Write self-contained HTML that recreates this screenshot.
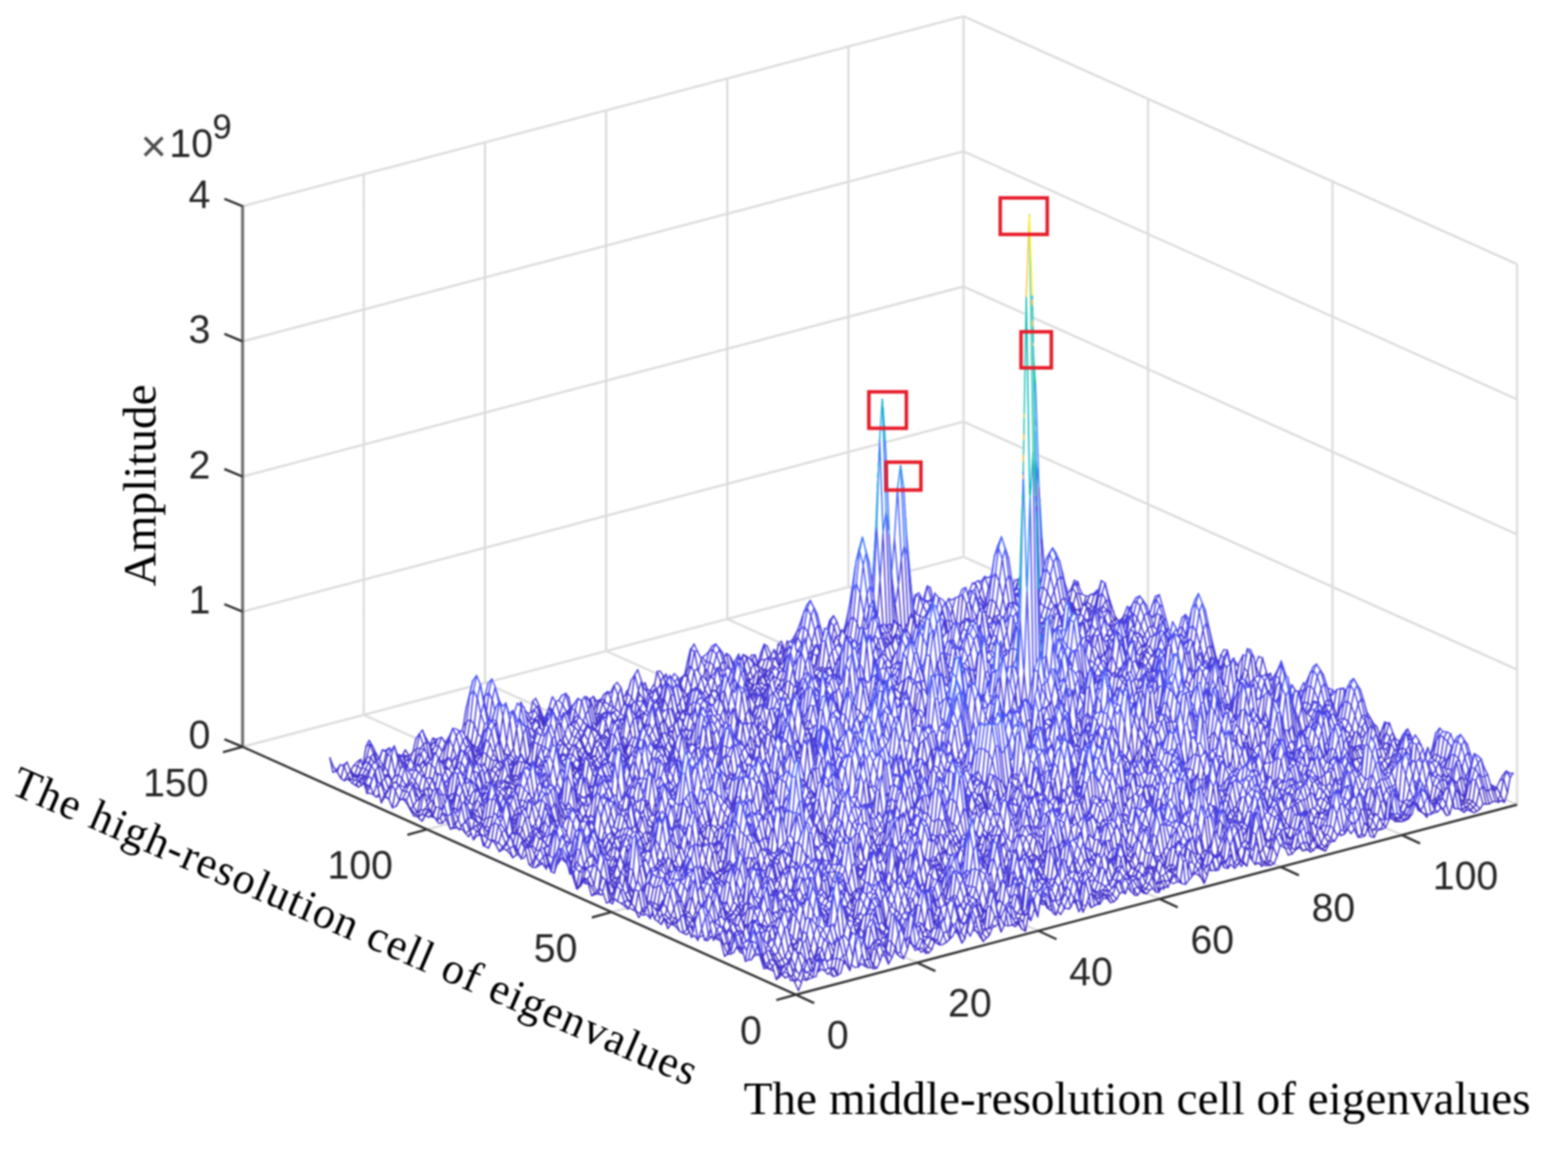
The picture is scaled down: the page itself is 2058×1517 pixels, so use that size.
<!DOCTYPE html>
<html lang="en"><head><meta charset="utf-8"><title>Eigenvalue amplitude mesh</title>
<style>
html,body{margin:0;padding:0;background:#fff;}
body{width:2058px;height:1517px;overflow:hidden;}
svg{display:block;}
</style></head><body>
<svg xmlns="http://www.w3.org/2000/svg" width="2058" height="1517" viewBox="0 0 2058 1517">
<defs><filter id="bl" x="0" y="0" width="2058" height="1517" filterUnits="userSpaceOnUse"><feGaussianBlur stdDeviation="1.2"/></filter><filter id="bm" x="0" y="0" width="2058" height="1517" filterUnits="userSpaceOnUse"><feGaussianBlur stdDeviation="1.0"/></filter><filter id="bt" x="0" y="0" width="2058" height="1517" filterUnits="userSpaceOnUse"><feGaussianBlur stdDeviation="1.0"/></filter></defs>
<rect width="2058" height="1517" fill="#fff"/>
<g filter="url(#bl)"><path d="M477.4 938.1L477.4 228.7M636.5 896.2L636.5 186.8M795.5 854.3L795.5 144.9M954.6 812.4L954.6 103M1113.6 770.5L1113.6 61.1M1264.7 730.7L1264.7 21.3M318.4 980L618.3 901M630.9 897.7L641.5 894.9M647.3 893.3L1117.6 769.4M1194.1 749.3L1264.7 730.7M1264.7 730.7L1301.2 747.1M1328.7 759.3L1332.3 761M1975.5 1049L1991.1 1056M318.4 802.6L1153.4 582.7M1163.1 580.1L1264.7 553.4M1264.7 553.4L1342.4 588.1M1363.4 597.5L1991.1 878.6M318.4 625.3L1264.7 376M1264.7 376L1345.1 412M1356.1 416.9L1991.1 701.3M318.4 448L1264.7 198.7M1264.7 198.7L1991.1 524M318.4 270.6L1264.7 21.3M1264.7 21.3L1991.1 346.6M1991.1 1056L1991.1 346.6M1748.9 903.5L1748.9 238.2M1506.8 798.1L1506.8 129.7M1203.8 1263.4L1187.3 1256M1176.3 1251.1L1173.6 1249.9M545 968.4L477.4 938.1M1362.8 1221.5L1348.2 1215M717.8 932.6L709.5 928.9M697.7 923.6L651.1 902.7M639.2 897.4L636.5 896.2M1521.9 1179.6L1506.3 1172.6M861.3 883.8L795.5 854.3M1680.9 1137.7L1671.8 1133.6M1031.3 846.8L1027.6 845.1M1023.1 843.1L954.6 812.4M1840 1095.8L1818.9 1086.4M1117.3 772.1L1113.6 770.5M802.6 1196.9L821.9 1191.8M560.5 1088.4L587.6 1081.3" fill="none" stroke="#dcdcdc" stroke-width="2.9"/></g>
<g filter="url(#bm)"><g transform="scale(.5)" fill="none" stroke-width="3.5" stroke-linejoin="round" stroke-linecap="round">
<path stroke="#422ec0" d="M2096 2600l8-22M2199 2559l8-5 8-32M2231 2547l8-35M2271 2536l8 4 7-1 8 4 8-2 8-18M2430 2502l8-1 8-9 7-21M2525 2475l8-12M2581 2471l8-9 8-7 8-21M2628 2446l8-17M2692 2444l8-47M2843 2394l8-17M2915 2369l8-2 8-7M2978 2349l8 1 8-12M3002 2344l8 2 8-10M3034 2341l8 1 8-13 8-1 8 1 8-20M3153 2303l8 16 8-22M3241 2279l8-9M3273 2273l8-36M3312 2274l8-10 8 7 8 0 8-4 8-19M3392 2241l8-10M3440 2236l8-4 8-13M3463 2224l8 4 8 6 8-16 8-10M3583 2194l8-25M3607 2198l8-18 8-3M3797 2140l8-2 8-30M3837 2127l8-8M3861 2129l8 4 8-4 8-6 8-13 8 0 8 0 8-5 8-2 8 3 8-5 8 5 8-26M2086 2578l8-8M2134 2565l8-2M2198 2556l7-38M2253 2538l8-9M2293 2534l8-43M2336 2507l4-35M2378 2477l2-11M2412 2491l8-3M2428 2492l8-7 8-21M2575 2453l4-4 8-12M2686 2421l4-18M2713 2373l1-10M2879 2363l2-5M3000 2338l8-5 8-15M3040 2337l8-24M3086 2303l2-6M3118 2280l2-13M3223 2279l8-10M3295 2269l8-5M3324 2267l3-3 7-4 8-38M3387 2232l3-8M3438 2223l8-20M3462 2220l1 2M3467 2226l3 4 8-7 8-14 8-9M3565 2197l8 0M3575 2188l6-28M3602 2182l3-6 8-3M3756 2137l8-4M3828 2122l7 4 8 6 8-7 3 0M3859 2126l8-7 8-7 8-37M3931 2103l8-17M2116 2573l8-4M2192 2537l4-22M2235 2531l8 8M2286 2519l5-27M2326 2491l5-23M2355 2504l8 7M2410 2489l8 10M2425 2476l1-3M2466 2480l8-1M2594 2436l7-59M2657 2428l8 4 8-8M2677 2410l4-11M2776 2391l8 9M2797 2348l3-23M2837 2351l3-26M2894 2348l1-4M3039 2320l7-7M3054 2334l3-4M3072 2308l6-16M3196 2253l2-7M3301 2266l3 0M3317 2263l8-6 8-28M3420 2233l8-2M3452 2225l8 0M3463 2221l5-7 8-20M3568 2152l3-24M3597 2172l6-21M3624 2175l3 2M3834 2124l8-1M3850 2119l8-10 8-5 8-55M3924 2079l5-13M2078 2564l4-8M2181 2541l5-24M2452 2475l4-2M2585 2437l6-55M2788 2358l2-13M2806 2386l1-2M2819 2367l3-2M2834 2344l4-25M2885 2348l1-2M3037 2319l8-20M3120 2266l4-33M3251 2262l8 12M3266 2237l1-10M3307 2241l8-15M3384 2214l3-11M3403 2229l8-5M3450 2207l8-24M3530 2188l8-13M3665 2151l8 5 8 0 8-3 8-4M3737 2135l8 10 2-5M3836 2116l4-7 8-1 8-10 8-54M2101 2552l4-12M2132 2546l4-4M2282 2506l6-26M2577 2433l5-9M2875 2343l1-2M3010 2291l1-4M3030 2299l5-20M3074 2289l1-3M3111 2252l4-27M3206 2244l4-23M3248 2239l2-4M3295 2212l2-20M3331 2228l6-26M3520 2193l8-3M3842 2108l4-8 8-38M2047 2563l8-26M2084 2547l3-9M2147 2520l4-18M2180 2517l2-8M2320 2480l6-19M2464 2426l5-42M2685 2385l6-56M2819 2367l8 6M2929 2315l1-4M3151 2252l2-6M3282 2229l6-46M3604 2139l2-3M3690 2123l3-10M3765 2109l8-17M3834 2106l3-1 7-12 8-47M2038 2571l7-14M2053 2555l8 12M2074 2529l3-16M2914 2322l6-15M3023 2276l1-2M3071 2289l8-10M3139 2252l4-13M3212 2213l2-22M3346 2193l4-21M3391 2197l6-20M3456 2170l5-26M3600 2129l4-20M3676 2127l8-23M3761 2107l2-6 8-37M3835 2085l2 2M2066 2529l2-6M2136 2522l3-13M2577 2409l8-21M3003 2294l3-15M3067 2284l3 0 8-16M3152 2246l5-12M3194 2243l3-13M3278 2216l6-60M3754 2099l7-38M2140 2507l5-22M2677 2330l1-14M2904 2297l5-27M2929 2282l4-40M3031 2277l5-9M3060 2279l8-6 8-53M3270 2208l5-29M3330 2209l8-19M3591 2125l2-9M3640 2112l0-2M3671 2100l1-2M2048 2538l8-4 8-2M2123 2504l5-14M2581 2391l8-24M2968 2301l3 1 8-20M3013 2279l5-10M3059 2274l7-36M3264 2194l1-3M3321 2197l8-31M3436 2152l4-26M3716 2069l2-13M2015 2538l8 7 8 4M2070 2521l8-13M2321 2449l4-13M2961 2293l8-15M3009 2282l8-44M3196 2186l4-36M3371 2166l4-10M3475 2135l3-10M2005 2542l8-1M2037 2523l8 0 8-6 8-4M2266 2455l1-6M2766 2316l2-10M2854 2293l2-5M2919 2266l1-2M2956 2270l3-14M3001 2270l6-32M3473 2135l3-9M2255 2450l3-14M2755 2320l4-12M2971 2277l2 1M2987 2267l2-5M3464 2134l3-12M2375 2393l0-2M2723 2301l2-15M2964 2263l8-3 8-24M3424 2129l1-2M2089 2493l4-11M2249 2443l5-13M2326 2424l8-41M2491 2368l2-8M2647 2326l5-30M2905 2255l1-5M2964 2262l6-10M2083 2484l3-5M2607 2340l3-7M2645 2323l5-44M1957 2523l8-4 7 0M1975 2515l5-7M2016 2474l4-27M2084 2479l8-7 8-43M2242 2420l1-2M2483 2356l6-44M2898 2241l5-33M3257 2159l4-17M3489 2093l1-4M2077 2469l5-8M2224 2411l1-5M2477 2345l3-13M3247 2149l4-28M3393 2090l1-4M3518 2078l3-17M3790 1997l2-9M2240 2413l7-46M2876 2251l8-48M1912 2501l8-38M1948 2468l3-22M3271 2087l0-5M3325 2115l2-7M3491 2055l3-29M3768 1997l5-18M1902 2510l8-6 8 0 8-4M2067 2431l2-9M2227 2405l1-2M2704 2259l1-4M2733 2272l4-11M2767 2238l2-9M2792 2221l1-10M3328 2109l5-29M3761 1989l2-7M2756 2229l3-35M3225 2109l3-23M3320 2087l4-24M1921 2460l1-7M1969 2452l1-3M2255 2357l1-8M2431 2343l5-5M2725 2255l1-2M2744 2253l5-31M2779 2233l2-7M3313 2078l1-5M1967 2452l1-3M2439 2332l6-33M2712 2262l4-6M2727 2253l5-6M3352 2067l0-3M3650 2007l4-9M1964 2440l3-15M2429 2333l7-41M2636 2266l7-31M2710 2259l4-17M3206 2100l1-4M3647 2006l6-19M2042 2398l2-11M2239 2371l4-17M2520 2278l2-5M2701 2253l3-6M2714 2240l6-36M3034 2132l4-35M3624 2010l3-9M1898 2436l1-6M2236 2364l5-22M2335 2334l2-3M2583 2256l0-3M2637 2221l2-20M2696 2244l7-24M2916 2151l1-13M3350 2066l5-26M3553 2014l1-2M3564 2019l6-14M3633 1997l8-21M1866 2460l3-1M2174 2359l2-8M3295 2022l2-23M1953 2425l7-34M2335 2333l6-34M2619 2220l1-2M3164 2073l4-37M3338 2043l5-43M3422 1990l1-7M3483 1999l4-27M3671 1969l6-25M1815 2460l8-5M1923 2422l3-9M3026 2121l6-56M3133 2078l2-8M3156 2079l3-13M3411 1986l2-19M3476 1988l1-2M1963 2381l1-10M2380 2294l6-45M2439 2267l2-9M2582 2249l2-6M2726 2171l2-11M1817 2437l2-3M1950 2401l4-26M2180 2337l5-24M2374 2272l2-12M2474 2258l5-26M2618 2217l4-25M2658 2209l4-27M1794 2449l8 4M1807 2432l3-10M2513 2241l4-14M2815 2162l5-24M2919 2121l4-21M3573 1959l2-8M1799 2411l1-2M1822 2421l2-5M1911 2405l8-4 5-5M2083 2336l3-15M2505 2225l3-13M2568 2231l3-16M3556 1963l1-3M3625 1951l4-13M1824 2415l6-15M1909 2395l8-5M2028 2350l1-3M2259 2307l8-15M2564 2223l6-12M2798 2130l2-14M3621 1944l6-27M2258 2303l8-18M2320 2257l1-6M2461 2218l3-25M2563 2215l5-15M3232 2005l4-34M3342 1995l5-27M3543 1953l3-10M1763 2424l8-15M1816 2414l3-2 7-21M2253 2291l3-8M2454 2205l1-2M3571 1932l5-25M1759 2414l2-8M1939 2362l5-20M2041 2340l6-23M2286 2239l0-3M3335 1974l1-3M1728 2419l8 7 8-14M1746 2402l5-17M2250 2278l2-7M2520 2208l3-10M3531 1924l2-7M1718 2412l8-18M1794 2392l3-7M2262 2268l5-15M2278 2255l5-32M3322 1957l2-15M1786 2367l2-7M2145 2260l1-5M2252 2251l5-38M2459 2193l5-46M1708 2407l6-14M2088 2271l0-2M2246 2244l1-7M2298 2242l5-9M2317 2214l2-18M2449 2191l5-34M1689 2402l8-3M2241 2235l5-45M2440 2180l4-28M1679 2397l8-5M1711 2403l4-1M1723 2387l4-12M2010 2296l3-18M2203 2191l1-10M3275 1938l3-31M3305 1958l4-16M1669 2392l8 16M1683 2393l2-7 8-4M1715 2376l2-6M2033 2265l2-13M2827 2075l4-16M1660 2387l8-2 8-45M1850 2311l1-2M1976 2279l2-9M2715 2089l2-11M3175 1966l4-35M1650 2382l8-11M1902 2319l3-9M1967 2287l1-3M3007 1998l3-29M1640 2378l8 8M1651 2381l5-12M1692 2344l4-22M1790 2303l2-8M1897 2316l6-25M2000 2282l6-25M2974 2007l2-13M1890 2310l3-14M1966 2286l7-34M2360 2153l2-19M2607 2091l2-12M2670 2069l3-24M2986 1997l5-29M1653 2368l5-7M1887 2304l4-7M1913 2270l2-12M1959 2271l4-20M2979 1996l2-12M3027 1982l2-5M1785 2291l1-6M1874 2295l8-4M1898 2293l8-21M2038 2236l3-17M2189 2202l3-12M2982 1981l5-58M3318 1890l3-22M1602 2365l8-20M1876 2294l4-3 8-8M1896 2285l8-34M1948 2227l4-37M2025 2238l6-70M2180 2178l2-12M2346 2129l3-23M1592 2370l8-3 8 5 5-13M1635 2330l5-29M1864 2281l6-42M1936 2239l6-60M2166 2202l7-34M2337 2118l3-24M2947 1975l5-75M1606 2348l8-14M1627 2313l3-25M1847 2277l6-18M2186 2144l1-3M1607 2347l5-12M1648 2315l4-37M1784 2285l3-9M1885 2268l6-11M1899 2264l3-10M1563 2347l8-3 8 5M1756 2286l6-30M1793 2269l1-2M1880 2238l1-4M1891 2257l6-38M2879 1961l4-41M3034 1909l0-2M3344 1838l0-4M1553 2351l8-8M1572 2330l5-37M1749 2264l3-13M1787 2275l5-12M1885 2242l2-7M2010 2188l5-39M2873 1941l0-4M3235 1870l4-30M3412 1824l2-15M1607 2328l8-11 8-15M1880 2233l6-26M2454 2067l4-34M2988 1921l3-26M2443 2075l5-64M1524 2325l8-22M1603 2296l1-3M1785 2227l2-6M2436 2057l3-19M1515 2334l7-12 8-34M1640 2275l2-8M1812 2215l5-42M2889 1866l1-20M1513 2331l8-42M3173 1833l2-19M1534 2283l1-6M1555 2273l4-28M2130 2117l1-9M2847 1915l0-4M1600 2275l5-18M1637 2269l8-46M1869 2214l6-24M2344 2035l0-3M1624 2251l3-12M1847 2204l3-2M1860 2206l5-38M2055 2124l1-7M2705 1955l3-33M1498 2293l1-2M1613 2246l4-23M1718 2203l3-20M1850 2201l6-35M2053 2121l2-5M2698 1957l1-2M1501 2269l3-15M1602 2247l6-20M1703 2235l8-31M1842 2188l4-6M2434 2007l1-3M2837 1905l3-24M1455 2291l8-25M1596 2244l2-10M1651 2210l3-14M1693 2231l8-19M1840 2181l4-12M1880 2172l4-11M2607 1897l1-16M2989 1822l1-5M3322 1772l2-9M1643 2193l1-4M1690 2219l2-2M1793 2182l2-7M2340 2018l4-24M2843 1851l0-2M1439 2243l3-23M1600 2211l1-3M1684 2202l4-11M1917 2124l2-6M1941 2101l2-10M2408 1980l4-32M2480 1954l3-31M3119 1810l1-2M1480 2259l8 6M1676 2186l2-7M1929 2113l4-21M2119 2065l5-32M3209 1775l4-35M1398 2276l8 1 8-5M1438 2273l2 1M2208 2006l1-18M1389 2269l8-3 8-19M1420 2264l4 3M1658 2179l1-2M1920 2119l1-4M1646 2160l3-28M1711 2170l2-8M2109 2049l2-5M2634 1876l1-11M3110 1794l3-8M2664 1835l2-21M1368 2254l7-2M1403 2240l4-9M2982 1781l0-2M1396 2225l2-6M1610 2171l2-11M2606 1837l0-10M1598 2156l5-27M3033 1770l1-7M1355 2227l7-40M1391 2217l3-21M1417 2186l1-7M1543 2163l2-7M1713 2139l7-33M2944 1775l1-7M1662 2096l1-8M1700 2115l3-11M1956 2028l1-5M1311 2235l8-12M1383 2217l8-8M1531 2155l3-15M1378 2206l3 0 8-16M1419 2177l2-9M1459 2169l2-3M1647 2123l4-26M2134 1981l2-12M1366 2191l5-19M1416 2179l3-13M1630 2126l4-8M2927 1766l3-17M1282 2226l8-19M1329 2184l1-3M1358 2188l4-19M1518 2141l3-13M1272 2220l8-19M1353 2185l7-41M1619 2092l3-41M2096 1975l3-20M1348 2179l2-9M1991 1987l3-21M3000 1741l4-24M1269 2220l2-4M1647 2082l4-17M1894 1991l3-34M2262 1917l1-4M2906 1743l1-7M2991 1745l4-12M1243 2204l8-23M1345 2163l2-4M1886 2006l2-9M2017 1976l6-45M2427 1873l1-3M2889 1732l1-2M2988 1743l5-23M1350 2161l3-11M1475 2104l5-48M1554 2099l6-41M1879 2020l7-42M2907 1732l5-41M2982 1720l1-5M1644 2063l1-5M1675 2046l2-12M2130 1934l1-3M2403 1864l6-43M2901 1722l1-4M1222 2187l8 9M1233 2191l2-4M1241 2173l5-22M1280 2183l6-11 6-21M1344 2153l6-19M2995 1697l1-3M1274 2171l2-2 8-25M1816 1982l1-4M2398 1863l7-67M2981 1707l5-29M1269 2164l5-15M1374 2117l4-15M1468 2098l5-20M1565 2059l4-29M1946 1945l4-42M2043 1934l3-12M1262 2158l3-5 8-42M1364 2114l4-14M1779 1995l3-17M1850 1959l3-38M1191 2170l8 3M1238 2136l1-4M1547 2068l2-3M2034 1943l8-65M2368 1831l0-3M1182 2176l8-2M1550 2064l6-34M1650 2018l1-3M1826 1962l0-2M2955 1663l0-2M1242 2130l2-4M1638 2015l3-21M1766 1973l3-18M2013 1920l2-7M2147 1872l3-22M2361 1837l4-16M1239 2126l3-13M1320 2097l1-7M1647 2005l1-2M1754 1994l5-15M2027 1917l2-9M2205 1874l7-39M1191 2125l2-4M1309 2094l3-16M1523 2038l4-13M1605 2011l1-5M1753 1993l4-15M2941 1633l1-4M1147 2153l4 7M1635 1999l1-2M1745 1969l2-9M1813 1953l6-32M2033 1876l1-4M2145 1849l0-2M2485 1735l2-19M1125 2145l8-5 8 6M1189 2126l8-43M1504 2044l3-7M1552 2013l3-12M1799 1943l2-11M1981 1902l3-20M2207 1794l0-2M1108 2155l8-17 8-15M1185 2116l2-6M1504 2038l1-3M1520 2028l1-4M1719 1964l1-6M1804 1934l4-18M1098 2146l8-8 8-13M1132 2131l6-32M1263 2070l2-8M1349 2071l4-9M1521 2020l7-27M1557 2005l2-8M1797 1922l1-8M1952 1901l5-21M2075 1851l1-9M2918 1643l1-2M1088 2134l8 9 8-18M1351 2063l8-3M1520 2016l6-22M2066 1856l1-2M2845 1638l1-3M1091 2136l4-3 8-36M1324 2052l1-3M1508 2016l8 4M1595 1988l1-2M1653 1984l6-27M1713 1955l2-4M1754 1930l1-4M1771 1952l3-3M1928 1866l2-10M2836 1640l0-4M1077 2125l8-9M1120 2104l5-11M1313 2055l3-7M1355 2047l8-5M1516 2019l6-17M1644 1971l6-15M1766 1927l3-23M1909 1876l3-21M2761 1659l2-10M2863 1643l3-21M2938 1631l8-8M1298 2064l8-13 8-28M1505 2002l8-9M1551 1988l1-2M1564 1984l4-22M1643 1963l5-9M1734 1931l1-5M1755 1923l4-15M1899 1845l3-32M1976 1871l6-23M2068 1852l1-1M2856 1636l1-3M2925 1626l3-4M1112 2079l1-2M1296 2061l5-5M1352 2037l8-38M1498 1994l5-15M1553 1984l6-25M1641 1963l5-19M1693 1913l1-4M1961 1841l3-19M2063 1839l5-13M2079 1835l5-33M2194 1783l1-7M1040 2116l8-16M1103 2079l1-3M1124 2075l3-11M1344 2033l6-23M1491 1987l2-7M1517 1988l8 2M1548 1984l1-2M1635 1938l1-6M1730 1913l2-8M1982 1846l4-25M2008 1844l2-9M2054 1831l4-14M2069 1828l5-39M2185 1774l0-4M2843 1627l2-7M1030 2120l8-44M1111 2077l7-35M1294 2049l7-20M1404 2006l8-53M1488 1982l4-12M1515 1976l8 10M1545 1981l2-2M1721 1880l1-9M1791 1895l3-5M1814 1876l4-32M1976 1838l1-3M2060 1818l4-30M2758 1643l6-27M2829 1630l7-19M1099 2071l1-4M1286 2033l5-12M1339 2023l8-13M1386 2003l8 5 8-61M1474 1983l8-30M1517 1977l5-9 8-8M1545 1980l8-8M1555 1967l6-26M1805 1875l3-21M1973 1833l2-7M2054 1813l0-4M2187 1770l3-18M1088 2063l2-13M1200 2014l2-12M1289 2023l8-28M1384 2003l1-3 8-28M1466 1974l6-19M1536 1965l8-21M2052 1811l1-2M2733 1638l4-5M2862 1597l2-7M1001 2107l8-23M1263 2012l1-2M1282 2021l6-27M1340 2006l3-8M1381 2001l2-3M1502 1959l8-25M1586 1923l4-29M1795 1869l2-4M1875 1844l1-6M2007 1827l4-16M2040 1808l3-12M2851 1591l3-12M1051 2060l4-17M1137 2046l6-27M1273 2009l5-30M1315 2000l3-2M1364 1984l1-7M1686 1892l5-21M1774 1880l5-14M2002 1824l7-16M2047 1800l2-12M2636 1622l2-10M2731 1622l2-5M2849 1589l3-9M1012 2092l2 2M1041 2051l5-19M1127 2042l6-35M1262 2009l6-34M1752 1862l1-5M1998 1813l2-4M2158 1757l1-5M2833 1601l2-1 4-2M2845 1586l6-22M980 2085l8 7 8-2M1016 2077l4-7 8-21M1115 2040l8-40M1738 1864l6-29M1802 1852l5-27M1966 1820l8 0M2013 1802l1-2M2029 1781l1-2M2148 1756l1-4M2521 1647l2-10M2815 1591l2-5M963 2082l7 0M1102 2029l4-11M1166 2016l3-8M1636 1888l2-7M1666 1875l4-33M1968 1817l4-5 8-15M2142 1757l5-32M2606 1632l3-16M1500 1903l2-8M1580 1883l1-2M1659 1858l2-13M1731 1850l1-4M1857 1830l2-5M1963 1811l8-5M1989 1792l6-17M2136 1756l2-6M2521 1637l6-76M1567 1903l4-3M1796 1835l6-13M1847 1820l3-10M1961 1798l8-7M1986 1793l7-35M2141 1741l3-20M2389 1677l2-4M2589 1631l8-12M933 2061l8-13M956 2050l1-3M1033 2041l4-8M1164 2002l8-10M1567 1901l3-2 8-22M1975 1800l8-32M2019 1770l4-18M2054 1760l1-2M2131 1736l3-20M946 2046l2-4M1017 2034l2-6M1159 2000l3-2 8-39M1590 1871l2-3M1811 1816l3-11M1966 1787l8-6M2010 1772l3-8M2042 1758l3-8M2128 1728l5-21M2338 1672l1-2M935 2047l3-6M1006 2025l4-13M1094 2007l3-2 8-28M1154 1991l7-19M1413 1910l2-8M1564 1887l2-3 8-12M1695 1842l6-22M1797 1819l8-42M2008 1769l4-11M2024 1752l3-12M2201 1690l1-8M904 2049l8-15M1090 2006l5-21M1245 1960l1-2 8-33M1397 1912l0-2M1563 1876l1-1 8-34M1600 1849l4-14M1669 1842l7-31M1847 1776l4-21M1962 1774l8-14M2002 1761l8-4 8-30M2189 1692l4-21M2411 1639l4-22M2669 1562l1-3M895 2043l8-32M942 2035l8-20M1062 2002l8-8M1086 2006l8-42M1560 1863l3-7M1584 1845l3-10M1648 1850l2-1 8-18M1800 1774l1-5M2000 1756l8-25M2094 1711l2-4M914 2044l3 5 2-1M939 2035l2-2M970 2000l3-13M1078 1989l6-15M1226 1936l1-2M1441 1862l1-6M1576 1841l1-3M1641 1850l7-31M1949 1727l2-9M927 2035l4 1 8-26M960 2001l3-14M1432 1892l3-11M1733 1797l1-8M1990 1744l7-30M2176 1656l4-24M921 2021l8-12M953 2007l8-48M1054 1983l3-2 7-13M1213 1918l3-11M1549 1836l1-2M1641 1825l4-11M1718 1799l7-36M1782 1788l6-10M2039 1714l4-23M2062 1707l4-24M2096 2600l-10-22-10-16M2047 2563l-9 8-10-35M1912 2501l-10 9-10-41M1815 2460l-10-28M1728 2419l-10-7-10-42M1689 2402l-10-5-10-5-9-5-10-5-10-4-9-7M1602 2365l-10 5-10-30M1563 2347l-10 4-9-33M1524 2325l-9 9-10-45M1398 2276l-9-7-10-40M1311 2235l-10-19M1282 2226l-10-6-9-28M1243 2204l-9-24M1108 2155l-10-9-10-12-9-11M1040 2116l-10 4-9-22M1001 2107l-9-39M963 2082l-10-38M933 2061l-9-6M904 2049l-9-6-10-17M2084 2573l-9 0M2070 2557l-5-16M2045 2557l-9-30M1910 2504l-10-24M1832 2468l-9-13M1818 2443l-5-11M1794 2449l-10-5-10-12M1766 2426l-1-2M1731 2411l-5-17M1707 2411l-10-12M1690 2394l-3-2M1671 2392l-3-7-10-14M1644 2378l-5-10M1600 2367l-10-57M1563 2344l-2-1-9-17M1522 2322l-9 9M1511 2324l-8-26M1447 2279l-2-4M1400 2270l-3-4-10-44M1365 2249l-7-14M1222 2187l-9-11M1116 2138l-10 0-10 5-9-1-10-17M1073 2115l-6-16M980 2085l-10-3M966 2073l-5-10M2090 2570l-8-14M2049 2549l-5-8M2015 2538l-10 4M2003 2535l-8-26M1913 2488l-5-15M1850 2468l-2-9M1811 2445l-9 8M1763 2424l-10 13-9-25M1739 2401l-5-14M1695 2391l-10-5-9-46M1604 2357l-6-21M1579 2349l-10-3M1566 2339l-7-15M1434 2281l-10-15M1407 2253l-2-6M1360 2243l-4 0-10 8-9-13M1328 2217l-1-3M1262 2192l-3-10M1191 2170l-9 6M1180 2171l-8-18M1137 2141l-4-1M1127 2128l-3-5M1095 2133l-10-17M995 2084l-7 8M970 2066l-1-2M949 2061l-9 5-6-6M927 2046l-7-22M2071 2560l-10 7-9-10M2047 2545l-5-14M2023 2545l-10-4M2008 2526l-5-16M1695 2385l-2-3M1274 2192l-7-29M1236 2175l-8-29M1199 2173l-9 1M1170 2149l-9 12-10-1-7-10M1132 2133l-10-20M1015 2094l-4-3M2019 2522l-8-26M1949 2502l-6-3-9-14M1866 2460l-10 9-2-3M1847 2455l-10 4M1777 2415l-8-30M1715 2401l-4 2M1699 2375l-7-31M1601 2337l-6-23M1542 2319l-5 0-6-4M1140 2146l-10-3M917 2049l-4-4M2116 2573l-10-4M2090 2547l-3-9M2052 2542l-4-4M1990 2506l-10 2M1893 2469l-9-3-6-4M1847 2456l-2-1M1702 2372l-2-6M1651 2366l-10-21M1424 2268l-5-2M1383 2221l-3-10M1265 2165l-1-5M1142 2120l-4-21M1007 2068l-5-17M2134 2565l-10 4M2057 2536l-1-2M2037 2523l-10-19M1825 2418l-1-2M1799 2406l-4-8M1657 2358l-8-18M1611 2332l-10-41M1334 2196l-4-15M1244 2150l-1-5M1020 2070l-10-27M958 2037l-6-3M2050 2535l-5-12-10-16M1656 2354l-8-38M1611 2330l-2 0M1546 2275l-5-22M1281 2184l-1-2M1032 2056l-4-7M941 2033l-10 3-10-15M2060 2531l-7-14-10-20M1922 2446l-5-15M1879 2423l-1-4M1802 2403l-1-3M1662 2343l-6-7M1504 2254l-3-11M1349 2186l-3-18M1244 2147l-5-15M1167 2107l-5-21M1115 2082l-2-5M2070 2521l-9-8M1892 2433l-6-23M1822 2412l-3 0-10-18M1664 2340l-10-15M1618 2320l-3-3-10-8M1483 2259l-3 0M1387 2221l-4-4M1286 2172l-10-3-2 1M1252 2155l-5-15M1172 2097l-2-12M1127 2089l-6-22M1074 2059l-1-5M952 2010l-5-17M2136 2542l-4 4M2023 2463l-3-16M1830 2398l-4-7M1391 2209l-10-3-10-34M1265 2153l-10-10M1211 2110l-4-18M1106 2077l-6-10M1025 2045l-2-7M2133 2544l-8-31M2082 2496l-5-22M1838 2379l-4-18M1688 2329l-9-54M1615 2305l-3-12M1393 2202l-4-12M1263 2152l-10-27M2138 2533l-5-5M1936 2443l-6-11M1895 2405l-4-20M1398 2185l-1-3M1266 2137l-5-29M1029 2049l-10-21M2199 2559l-10-16M1947 2446l-9-19M1905 2411l-6-26M1834 2358l-3-18M1644 2306l-7-35M1399 2184l-4-11M1270 2118l-1-2M1038 2036l-1-3M2207 2554l-10 6-9 3-10-8M1954 2438l-9-33M1491 2212l-1-4M1143 2067l-1-4M1050 2019l-5-24M2136 2512l-8-22M2004 2438l-2-7M1957 2434l-4-8M1056 2012l-3-12M2167 2517l-2-6M1943 2403l-1-3M1403 2174l-3-5M2231 2547l-10-42M2185 2516l-3-7M1909 2401l-7-15M1447 2158l-1-4M2084 2479l-2-1M1919 2401l-10-6M1411 2174l-5-13M1360 2132l-3-12M1115 2040l-9-22M2218 2528l-4 2M2094 2474l-2-2-10-11M1639 2273l-2-4M1635 2264l-8-25M1368 2129l-3-8M1148 2039l-5-20M1068 2010l-3-6M2104 2454l-4-25M1648 2240l-3-17M1103 2014l-1-2M2253 2538l-10 1M1945 2393l-2-4M1754 2288l-5-22M1654 2222l-2-8M1462 2170l-3-7M1207 2022l0-2M2271 2536l-10-7M1587 2226l-4-12M1461 2168l-4-14M1187 2031l-1-3M1073 1999l-3-5M2279 2540l-10-17M1731 2276l-4-14M1467 2161l-2-8M1100 2008l-3-3M1075 1995l-7-11M2286 2539l-9-23M1735 2262l-1-2M1612 2205l-3-20M1472 2169l-9-49M1223 2027l-2-10M1117 2006l-2-4M2294 2543l-9-25M2083 2388l-2-8M1845 2312l-6-42M1478 2166l-7-28M1173 2018l-2-4M1074 1984l-10-16M2302 2541l-9-7M1950 2360l-6-18M1850 2307l-3-10M1772 2280l-2-5M1483 2153l-4-7M1406 2110l-4-16M1288 2060l-3-6M1954 2331l-2-12M1547 2165l-2-9M1519 2152l-3-12M1414 2093l-4-29M1192 2023l-5-20M1126 1985l-7-37M1855 2307l-2-4M1770 2271l-4-7M1694 2235l-5-19M1134 1987l-7-35M1782 2276l-8-19M1339 2064l-1-2M1165 2004l-1-2M1137 1980l-2-4M1288 2056l-9-37M1162 1998l-5-1M2332 2530l-9-21-10-2M1697 2232l-4-1M1336 2058l-1-5M1306 2051l-10 10M1293 2053l-6-20M1244 2014l-6-16M1867 2291l-1-2M1354 2066l-1-4M1304 2052l-10-1M1135 1967l-5-6M2253 2452l-1-5M2224 2420l-2-12M1884 2309l-10-14-10-14M1351 2063l-10-21M1248 2004l-4-18M1891 2297l-9-6M1861 2284l-8-25M1808 2230l-4-27M1695 2214l-7-23M1660 2182l-1-5M1359 2060l-10-10M1308 2041l-7-12M2355 2504l-6-10M2173 2409l-2-10M1880 2291l-10-52M1702 2209l-6-27M1312 2025l-3-7M2372 2516l-9-5M1967 2294l-2-9M1891 2286l-3-3M1672 2179l-7-42M1543 2114l-4-18M1355 2047l-9-10M2229 2417l-4-11M2178 2390l-1-2M2043 2343l-2-3M1896 2285l-10-7M1677 2180l-4-11M1551 2103l-4-16M2111 2363l-4-11M1847 2220l-1-7M2321 2451l-2-6M2116 2348l-1-2M2070 2339l-5-27M1900 2267l-9-10M1342 2024l-3-1M1307 1993l-7-28M2412 2491l-10 3M2036 2310l-2-6M1543 2092l-3-4M1320 2003l-2-5M2430 2502l-10-14M2397 2483l-6-7-3-3M2038 2309l-5-28M1773 2166l-2-15M1552 2096l-4-13M2438 2501l-10-9M2423 2496l-5 3M2227 2382l-2-8M2160 2337l-3-22M1848 2213l-1-7M1780 2167l-1-6M1637 2127l-3-9M1510 2063l-2-8M1345 2001l-2-3M1256 1965l-10-7-9-7M2446 2492l-10-7-10-12M2238 2389l-6-28M2172 2356l-7-47M2243 2382l-3-8M2178 2345l-5-36M2010 2285l-2-2M1995 2273l-6-23M1875 2225l-3-5M2331 2437l-5-13-10-64M2012 2280l-6-23M1837 2180l-5-29M1649 2091l-1-4M1392 2010l-6-7M1353 1987l-5-23M2181 2340l-2-4M2066 2290l-3-15M1864 2214l-5-6M1394 2008l-9-8-2 2M2071 2282l0-2M1710 2135l-7-31M1383 1998l-10-69M2466 2480l-10-7M2249 2365l-6-11M1880 2201l-5-11M1723 2119l-3-13M1517 2053l-10-16M2484 2473l-10 6M2225 2341l-3-12M1505 2035l-2-1M1854 2166l-2-5M1863 2166l-3-13M1512 2030l-10-10-1-2M2247 2337l-1-2M1999 2226l-5-14M1865 2166l-6-31M1507 2024l-7-22M2525 2475l-10-23M2392 2389l-3-19M2324 2342l-2-12M2259 2341l-5-11M2043 2231l-2-12M2009 2227l-7-27M1869 2167l-3-5M1518 2024l-10-8M1503 2006l-5-9M2401 2381l-4-21M1516 2020l-10-14M1566 2021l-3-5M1506 2005l-1-3M1522 2002l-9-9M1474 1983l-5-2M1521 1998l-10-44M2510 2446l-3 1M2335 2337l-3-8M2160 2251l-2-6M1705 2029l-2-14M1522 1994l-3-7M1481 1952l-3-9M2581 2471l-10-15M2566 2435l-5-23M2459 2379l-4-19M1653 2023l-2-8M1558 1996l-4-6M1525 1990l-10-14M2589 2462l-10-13-10-48M2255 2297l-5-14M2184 2251l-2-6M1567 1993l-5-10M1527 1988l-4-2M1491 1964l-6-8M1399 1914l-2-4M2597 2455l-10-18M1529 1983l-7-15-10-11M1502 1959l-9-9M1418 1911l-3-9M2578 2438l-1-2M1576 1985l-8-23M1549 1982l-3 1M1534 1970l-4-10M1419 1910l-6-18M2345 2311l-4-12M1550 1977l-3 2-9-6-10-22M1418 1905l-6-28M2256 2278l-4-7M2140 2222l-4-11M1542 1975l-6-10-10-24M1429 1914l-9-24M2628 2446l-9-40M2050 2141l-3-27M1553 1972l-9-28M1428 1908l-10-39M2372 2314l-7-20M2185 2220l-4-15M1564 1947l-3-6M1430 1904l-4-13M2582 2415l-5-6M2430 2339l-8-22M1432 1896l-8-18M2587 2396l-2-8M2572 2398l-4-12M2566 2379l-1-4M2430 2337l-10-26M2356 2282l-4-15M2269 2254l-4-17M2009 2127l-6-44M1651 1985l-6-4M2579 2396l-6-19M1905 2067l0-2M1647 1981l-4-9M2581 2391l-10-31M2424 2322l-5-19M2657 2428l-10 2-10-2M2162 2195l-9-48M1576 1930l-4-12M2692 2444l-10-6-9-14M2167 2183l-8-33M1609 1899l-2-12M1658 1934l-4-21M1915 2041l-1-8M1668 1933l-6-46M2706 2416l-6-6M1923 2040l-1-6M2681 2372l-6-44M2303 2226l-5-11M1925 2038l-7-49M1570 1899l-6-11M2473 2287l-4-15M1878 2025l-3-5M1637 1893l-1-5M2024 2081l-3-9M1946 2016l-2-17M1811 1975l-3-11M1772 1955l-2-7M1566 1884l-2-1M2613 2342l-3-9M2473 2279l-8-44M1734 1934l-5-18M1577 1876l-3-4M1564 1875l-2 0M2480 2277l-7-20M2321 2175l-3-23M1622 1889l-1-3M2715 2389l-2 1M1953 2024l-5-23M1774 1957l-2-3M1690 1909l-3-14M1639 1883l-1-2M2637 2317l-3-13M1872 1970l-2-9M1808 1955l-7-23M1772 1951l-9-33M1554 1848l-4-14M2761 2389l-3 0-9-6M2746 2378l-7-12M2120 2070l-1-5M1737 1925l-5-20M1589 1844l-2-9M1563 1853l-5-25M2737 2374l-5-2M1879 1974l-4-11M1777 1938l-8-34M1745 1920l-5-31M1569 1846l-4-6M2585 2279l-4-21M1754 1923l-6-25M1630 1867l-8-42M1575 1840l-2-3M2591 2279l-2-10M2513 2246l-2-5M2330 2131l-3-23M1786 1925l-1-3M2772 2362l-1-3M2146 2057l-5-39M1641 1849l-3-9M2784 2360l-5-33M2518 2230l-1-3M2114 2056l-3-12M1998 1992l-4-26M1772 1895l0-3M2843 2394l-10-29M2391 2158l-3-12M2830 2387l-8-22M2506 2214l-4-16M2291 2118l-2-5M1693 1848l-4-13M1660 1850l-10-1M2516 2213l-6-21M2023 2001l-7-28M1665 1843l-7-12M2823 2368l-4-1M2794 2331l-4-14M2520 2213l-2-5M1754 1861l-1-4M1678 1823l-2-12M2802 2319l-5-23M2647 2261l-4-26M2198 2039l-1-3M1767 1865l-6-41M1692 1839l-8-51M2873 2377l-9 5-10-16M1986 1955l-4-15M1785 1881l-6-15M2524 2200l-1-2M2331 2092l-2-10M1996 1952l-6-30M1790 1868l-5-25M2887 2373l-9 0M2009 1943l-3-11M1800 1856l-7-34M2915 2369l-10-20M2923 2367l-10-15M1698 1809l-5-17M2826 2285l-2-7M2733 2266l-7-13M1916 1876l-4-21M2719 2250l-5-8M2689 2231l-4-12M2415 2074l-1-6M1801 1848l-2-3M2843 2295l-5-14M2738 2260l-6-13M2710 2244l-7-24M2030 1933l-5-10M1961 1899l-4-19M1805 1831l-3-9M1737 1799l-3-10M1746 1792l-4-18M2781 2245l-4-26M2742 2251l-4-10M2014 1913l-2-8M2978 2349l-9-9M2895 2278l-4-25M2719 2201l-2-13M2031 1911l-2-3M1886 1830l-2-9M1795 1814l-8-19M1752 1784l-4-15M2986 2350l-9-15M2130 1954l-6-34M1972 1873l-3-13M2784 2235l-3-9M1978 1879l-1-2M3002 2344l-9-14M2791 2213l-2-9M2134 1941l-3-10M3010 2346l-10-8-9-28M1971 1863l-7-41M3008 2333l-9-6M2962 2301l-2-4M2876 2251l-3-11M2966 2304l-8-19M2842 2203l0-2M2583 2119l-2-12M3034 2341l-10-41M2968 2303l-2-1M3042 2342l-10-30M2591 2122l-4-14M3050 2329l-10 8M2594 2122l-9-58M2437 2046l-7-46M1862 1780l-3-17M3058 2328l-10-15M2971 2302l-6-5M2599 2116l-6-28M2441 2032l-3-12M3066 2329l-10-18M2729 2137l-2-15M3048 2312l-3-13M3010 2286l-4-7M2971 2278l-4-8M2436 2014l-1-10M3058 2311l-5-13M2957 2258l-1-3M2922 2227l-5-27M2620 2089l-3-14M3073 2315l-3-1-9-24M2983 2279l-10-1-9-15-2-3M2959 2255l-5-9M2628 2112l-3-11M2006 1831l-1-3M2981 2279l-9-19M3022 2274l-4-5M2991 2265l-2-3M2451 1993l-4-25M2069 1851l-4-1M1972 1812l-9-1M3078 2291l-3-5M2456 1973l-1-7M1971 1806l-10-8M3112 2321l-10-2-3-3M2784 2135l-1-4M1974 1801l-5-10M2658 2055l-3-24M2201 1869l-1-4M2001 1795l-5-14M1963 1789l-5-8M3082 2285l-3-6M3070 2284l-4-2M3058 2273l-8-27M2994 2186l-2-16M2949 2196l-5-39M2016 1803l-2-3M1977 1799l-2 1M1968 1789l-2-2-10-31M1916 1756l-9-41M3087 2279l-9-11M2091 1803l-1-7M1974 1781l-10 4M3153 2303l-9-8M2768 2093l-2-11M2203 1872l-8-53M2017 1799l-6-11M1967 1783l-5-9-2-5M1925 1743l-2-7M3161 2319l-9-51M3060 2255l-5-22M2021 1788l-3-7M1975 1777l-5-17M2899 2156l-1-4M1985 1765l-7-23M2908 2159l-2-7M2045 1766l-1-4M2916 2146l-2-9M2014 1762l-2-4M1990 1752l-8-33M3157 2260l-4-14M3020 2184l-3-14M2010 1757l-10-1-10-11M3190 2284l-10 1-10-1M2031 1752l-4-12M3145 2240l-6-19M2026 1730l-2-10M3223 2279l-10-2-5-12M3167 2240l-2-7M2926 2113l-3-13M2046 1747l-4-9M3241 2279l-10-10M2149 1787l-3-9M3173 2227l-2-4M2951 2140l-2-6M2050 1743l-2-6M2057 1721l-1-5M3202 2242l-5-12M2951 2112l-6-45M3273 2273l-10-13M2061 1709l-1-2M3255 2257l-5-22M3213 2189l-4-26M2352 1831l-5-22M3312 2274l-9-10M3320 2264l-9-1M3303 2265l-2 1M3328 2271l-9 0-3-1M3258 2214l-7-35M3336 2271l-9-7-10-1-10-22M3304 2223l-7-31M3175 2139l-3-23M3126 2124l-3-16M3344 2267l-10-7-9-3-10-31M2700 1936l-5-41M2746 1941l-4-29M2637 1877l-2-12M3191 2152l-5-31M2954 2027l-2-13M2808 1950l-2-9M2813 1954l0-5M3392 2241l-10 3-1-3M3323 2204l-9-37M2860 1950l-1-2M3247 2151l-2-8M3330 2209l-9-12M3196 2128l-1-2M2326 1722l-3-18M3264 2153l-3-11M3403 2229l-2-2M3241 2136l-3-14M2496 1790l-4-19M3440 2236l-10-8-10 5-9-9M3248 2125l-2-10M3211 2109l-4-13M2940 1974l-4-29M3448 2232l-10-9M3430 2230l-2 1M3389 2201l-9-8M3256 2103l-2-11M3216 2091l-1-7M2326 1700l-2-6M3436 2219l-5-12M2831 1926l-5-31M2526 1751l0-3M3463 2224l-9-20M3441 2210l-7-29M2977 1989l-7-71M3471 2228l-9-8-10 5M3445 2202l-3-10M2330 1693l-1-4M3479 2234l-9-4-10-5M3449 2202l-8-39M3487 2218l-9 5-10-9-10-31M3486 2209l-10-15M3030 1982l-1-5M3330 2119l-3-11M3414 2135l-7-26M2393 1678l-2-5M3428 2137l-3-10M3530 2188l-10 5-5-5M3437 2126l-6-30M3225 2010l-7-64M3565 2197l-10-21M3324 2047l-1-5M3583 2194l-10 3M2486 1659l-1-9M2404 1633l-6-35M3607 2198l-10-3M3593 2183l-3-8M2488 1658l-5-30M3615 2180l-10-4-4 2M3593 2168l-8-52M3297 1996l-2-9M2494 1650l-3-20M3637 2172l-10 5M2862 1759l0-5M2874 1792l-4-34M2445 1578l-1-6M3472 2059l-3-19M3249 1953l-3-20M3596 2127l-3-11M3482 2064l-5-31M3280 1985l-7-35M2877 1784l-1-3M3286 1983l-5-18M3290 1972l-1-3M2973 1814l-4-21M3427 2010l-4-27M3673 2156l-10 0-9-7-6-1M3521 2059l-3-18M3689 2153l-2 0M3312 1952l-3-10M3685 2134l-9-7M3389 1991l-4-16M3656 2075l-1-9M2891 1735l-1-5M2620 1635l-2-4M2599 1640l-6-6M2583 1606l-3-12M2621 1630l-4-13M3429 1961l-1-5M3756 2137l-10 1-9-3-10-6M3330 1904l-2-9M3127 1833l-2-6M3723 2127l-7-15M3387 1936l-3-15M3797 2140l-9-14M3481 1976l-3-19M3404 1939l-4-12M3805 2138l-9-28M2956 1719l-3-14M3557 2014l-5-14M3487 1959l-3-11M3763 2101l-9-2-10-42M3029 1760l-2-4M3555 1991l-7-30M3414 1923l-1-5M3837 2127l-9-5-10 0-5-5M3422 1922l-1-2M2909 1669l-2-10M3835 2126l-9-4M3792 2074l-5-26M3843 2132l-3-3M3570 1990l-7-20M3861 2129l-10-4M3842 2123l-5 0M3577 1980l-6-19M3059 1712l-2-13M2859 1649l-5-22M2671 1563l-1-4M3869 2133l-10-7M3850 2119l-10-10-4 1M3635 2022l-8-21M3511 1901l0-2M3877 2129l-10-10-9-10-10-1M3645 2012l-10-17M3066 1691l-3-17M3885 2123l-10-11-9-8-10-6-10 2-9 5-10-31M3619 1989l-5-20M2834 1640l-5-10M3893 2110l-10-35M3844 2093l-9-8-10-30M3790 2047l-4-15M3702 1977l-3-22M3627 1983l-5-18M2975 1643l-2-24M3901 2110l-10-46M3843 2093l-10-54M3547 1938l-4-12M3001 1685l-1-5M3909 2110l-10-38M3847 2068l-6-23M3004 1691l-6-21M3917 2105l-10-28M2862 1610l-1-4M2828 1614l-6-12M3925 2103l-10-35M3280 1792l-4-28M2835 1608l-5-9M3933 2106l-10-31M3290 1780l-6-60M3941 2101l-10 2M2824 1601l-7-15M3949 2106l-10-20M3652 1947l-4-12M2837 1600l-2 0-10-43M2917 1609l-6-31M2841 1590l-8-32M3923 2072l-7-11M3613 1926l-7-26M3338 1782l-3-15M2932 1625l-4-3M3926 2068l-2-3M3620 1926l-6-19M3326 1772l-2-9M2933 1625l-7-9"/>
<path stroke="#4332cb" d="M2104 2578l8-35M2175 2540l8 6 8-7 8 20M2223 2533l8 14M2310 2523l8-24M2334 2507l8 5 8-25M2382 2491l8-35M2453 2471l8-5 8-37M2493 2465l8-8 8-18M2533 2463l8-48M2573 2449l8 22M2605 2434l8-3 7-7 8 22M2636 2429l8-46M2668 2410l8 0 8 7 8 27M2724 2406l8-52M2764 2396l8 6 8-23 7-20M2811 2381l8-22M2851 2377l8-28M2875 2360l8 11 8-16 8-7 8 11 8 10M2931 2360l8-15 8-4 7 5 8-25M2994 2338l8 6M3018 2336l8-5 8 10M3074 2309l8-13M3090 2314l8 2 8-54M3121 2309l8-8 8-29M3145 2282l8 21M3169 2297l8-31M3201 2271l8-10M3217 2266l8-16M3249 2270l8-13 8 10 8 6M3352 2248l8-26M3384 2226l8 15M3400 2231l8-42M3432 2213l8 23M3456 2219l7 5M3495 2208l8 0 8-14 8-15M3575 2188l8 6M3591 2169l8 6 8 23M3623 2177l7-11 8-18M3646 2152l8-44M3678 2144l8 9 8-18M3766 2125l8 6 8-10 8 6 7 13M3813 2108l8-36M3845 2119l8-3 8 13M3957 2080l7-39M2094 2570l8-19M2118 2552l8 5 8 8M2165 2548l8 9M2189 2543l8 17M2269 2523l8-7 8 2 8 16M2325 2493l7 37M2364 2497l8 19M2404 2487l8 4M2444 2464l8 2 8-29M2492 2461l7-34M2520 2449l3-3 8-19M2539 2443l8 14M2555 2434l8 10 8 12M2587 2437l8 1 8-11 8-22M2659 2411l7 12 8-5 8 20M2690 2403l8-10M2794 2383l8 2M2806 2360l4-20M2840 2374l1 2 8-63M2881 2358l8-8M2893 2353l4 4M2903 2352l2-3 8 3 8-4 8-24M2977 2335l8-8 8 3 7 8M3016 2318l8-18M3038 2330l2 7M3048 2313l8-2 8 2M3072 2315l8 4M3088 2297l8-62M3136 2293l8 2M3147 2284l5-16M3160 2283l7-7 8-43M3191 2285l8-2M3203 2269l4-20M3217 2266l6 13M3239 2266l8-10M3260 2260l3 0 8-36M3287 2258l8 11M3374 2227l8 17M3390 2224l8-32M3422 2210l8 18M3446 2203l8 1M3458 2213l4 7M3494 2200l7-24M3591 2171l6 24M3613 2173l8-27M3633 2164l4 8M3645 2143l8-63M3676 2144l8-3 8-21M3766 2125l6-21M3788 2126l8-16 8-43M3907 2077l8-9M3939 2086l8-42M2076 2562l8 11M2108 2554l8 19M2146 2548l2 2 8-6M2182 2549l6 14M2394 2477l8 17M2426 2473l8-13 8-3 8-21M2461 2467l5 13M2509 2426l5-18M2556 2431l5-19M2699 2391l6-45M2824 2362l8 31M2872 2350l7-1M2885 2366l2 7M2895 2344l8-8 8 3 8-8 8-13M2970 2313l5-3M2991 2310l8 17 8-10 8-32M3034 2317l5 3M3053 2329l1 5M3078 2292l8-10M3099 2309l3 10M3138 2271l4-10M3158 2268l8-26M3182 2262l8 22M3224 2249l5-28M3257 2257l4-4M3333 2229l8-21M3377 2215l3-1 8 3M3412 2218l8 15M3476 2194l8-4 8-23M3603 2151l8-16M3637 2148l6-51M3659 2139l8 8 8-1M3678 2140l5-7M3691 2139l8 2 8-5M3738 2113l8 25M3778 2113l8-20M3929 2066l8-17M2067 2554l8 19M2082 2556l8-9M2126 2542l4 6M2150 2522l4-10M2186 2517l8-45M2293 2489l4-16M2323 2487l6-19M2411 2455l5-23M2429 2458l3 1 8-11M2490 2446l6-29M2549 2400l3-13M2623 2405l8-36M2667 2403l4-6 8-15M2687 2396l8-10M2750 2380l8 9M2867 2338l3 1M2886 2346l8-10 8-9 8-7M2991 2311l6-17M3045 2299l8-1 8-8 8-4M3176 2275l4 10M3194 2248l2-6M3212 2259l8-65M3315 2226l8-9M3387 2203l8-10M3426 2195l8-14M3444 2196l4 7M3458 2183l8-10M3474 2190l8-22M3538 2175l8 13M3649 2132l8 13 8 6M3721 2110l8 17 8 8M3760 2111l8-2M3773 2104l3-3M2057 2552l8-11 8-17M2105 2540l8-20M2171 2525l5-5M2405 2435l2-5M2539 2416l3-7M2661 2389l8-41M2694 2383l7-52M2743 2368l6 15M2876 2341l8-1 8-20M2940 2316l8-14M2983 2300l4-16M3044 2296l7-29M3250 2235l8-16M3469 2177l3-11M3517 2186l3 7M3541 2129l3-20M3592 2145l8-15M3617 2140l7-32M3661 2148l2 8M3711 2110l8 3M3721 2117l6 12M3767 2108l8-10 8-12M2055 2537l8-5M2087 2538l8-32M2182 2509l5-4M2278 2493l8-59M2387 2472l2 3M2423 2450l6-11 8 4 8-1M2535 2420l5-13 8-29M2572 2415l8 3M2655 2371l5-22M2731 2363l8 3M2763 2367l8-8 8-32M2872 2339l2 1 8-25M2930 2311l8-26M3036 2279l5-24M3108 2247l5-30M3153 2246l5 10M3172 2236l4-20M3324 2214l4-5M3350 2183l1-8M3383 2200l3 2M3464 2172l7-22M3533 2118l1-7M3606 2136l8-63M3649 2140l5 9M3693 2113l8-13M3773 2092l8-18M3916 2061l8 4M2117 2526l8-13 8 15 8-14 8-28M2165 2511l8-37M2270 2469l6-39M2311 2468l5-6 8-3 8-10M2427 2433l8-49M2523 2422l8-28M2647 2369l3-11M2683 2375l7-48M2732 2366l5 8M2752 2339l1-2M2828 2323l5-17M2865 2328l8-19M2920 2307l8-16M3024 2274l8 5M3079 2279l8 0M3100 2239l3-12M3183 2241l8 6M3278 2220l8-48M3397 2177l8-41M3684 2104l8-4 8-32M3825 2075l2-1 8 11M2028 2536l8-9 8 14M2157 2488l6-23M2368 2435l2-5M2404 2428l6-7M2511 2390l2-3M2585 2388l3 2M2614 2365l2-4M2633 2369l7-47M2683 2359l5-35M2861 2316l2-4M2919 2308l7-24M2939 2274l3-22M2960 2289l6 13M3006 2279l8 2M3078 2268l8-40M3157 2234l8-1M3197 2230l8-20M3380 2193l8-23M3447 2162l4-15M3538 2107l1-4M3682 2108l8-74M3800 2054l1-3M3825 2055l8-16M2034 2520l8 11M2045 2535l5 8M2229 2464l4-24M2402 2423l6-49M2456 2422l7-17M2623 2367l7-57M2722 2331l4-22M2990 2284l6-21M3167 2235l4-12 2 1M3179 2226l8-46M3338 2190l8-46M3370 2175l8 0M3451 2147l7-18M3593 2116l8-48M3672 2098l8-94M3739 2068l5-11M3796 2046l4-11M3844 2048l3-8M2008 2536l8-1M2128 2490l8-35M2213 2456l2-4M2311 2441l8 4M2363 2422l3-18M2453 2402l1-2M2565 2375l8 2M2575 2381l6 10M2589 2367l8-39M2615 2356l6-21M2715 2322l1-3M2879 2298l4-14M2979 2282l8-13M3018 2269l8-30M3045 2258l5-12M3152 2207l2-6M3203 2203l6-40M3265 2191l8-16M3384 2171l8-52M3810 2041l4-19M3837 2017l1-3M2013 2536l2 2M2116 2466l2-14M2282 2419l3-20M2325 2436l8 2M2467 2384l1-2M2778 2290l0-2M2858 2308l8-14 8-35M2910 2265l3-12M3006 2279l3 3M3033 2256l8-8M3075 2218l5-28M3138 2211l6-50M3270 2180l1-3M3375 2156l8-34M3486 2127l2-3M3580 2096l1-2M2061 2513l8-22 8-17M2104 2470l4-26M2267 2449l8-50M2307 2428l8-8M2522 2379l8-20M2807 2286l1-7M2856 2288l8-13M2959 2256l8 14M3047 2248l8-15 8-11M3259 2177l2-5M3364 2137l1-2M3476 2126l8-19M3783 2040l3-8M3794 2037l4 1M3802 2039l8-20M2003 2510l8-14M2027 2504l8 3 8-10 8-26M2258 2436l8-32M2353 2411l8-15M2382 2400l3-5M2662 2309l1-6M2759 2308l8-51M2830 2293l8-12 8-24M2924 2255l2-10M2989 2262l8-45M3029 2242l8-42M3280 2150l4-20M3467 2122l7-25M3581 2094l5-13M3759 2035l2-2M2023 2496l2-4 8-18M2250 2444l6-14M2349 2396l2-6M2500 2360l3-10M2610 2345l4-1M2655 2322l7-37M2749 2308l8-79M2793 2257l4-40M2916 2262l8-36M2954 2256l2-1 1 2M3024 2213l3-25M3261 2170l5-12M3405 2131l4 4M3425 2127l8 11M3452 2123l5-15M3477 2097l4-12M3726 1993l1-10M3794 2016l5-19M2011 2491l5-11M2133 2415l2-21M2360 2395l6-32M2493 2360l8-73M2635 2314l1-2M2731 2299l8-6 8-53M2782 2272l5-44M2906 2250l8-15M2970 2252l8-38M3256 2160l8-5M3386 2121l5-23M3467 2094l4-18M3489 2097l6-30M3553 2072l5-29M3714 1999l4-45M1982 2501l8 5M2004 2471l2-4M2245 2429l8-5 7-8 2-1M2443 2334l0-4M2483 2359l8-32M2610 2333l8-45M2857 2255l8-3M2957 2248l3-3 8-11M3103 2160l0-2M3703 2007l5-58M3783 2008l4-10M1949 2494l8 29M2243 2418l8-9 8-13M2534 2300l3-17M2640 2320l8-59M2939 2217l4-23M2959 2227l8-3 7-45M3234 2149l3-7M3261 2142l8-49M3344 2099l4-34M3398 2099l6-29M3664 2005l2-25M3809 1965l1-5M2004 2467l7-27M2082 2461l8-55M2241 2419l8-17 8-47M2527 2300l0-2M2635 2306l4-13M2709 2268l1-3M2885 2249l8-26M3223 2148l4-18M3329 2122l2-2 8-15M3476 2078l6-14M3652 2026l5-18M1921 2485l8-36M1945 2492l3 5M2072 2449l8-49M2170 2426l6-22M2472 2328l6-23M3511 2058l1-2M3777 2002l5-12M1935 2483l8 16M2068 2431l3-8M2171 2417l3-9M2355 2320l2-20M2429 2341l2 0M2867 2235l7-31M2888 2207l2-4M3007 2176l2-6M3217 2137l7-31M3385 2082l6-23M3453 2050l1-4M3639 2030l6-25M3692 1980l1-6M1989 2428l0-2M2228 2403l8-13M2832 2189l0-3M2850 2222l6-31M2940 2179l4-22M2998 2169l1-4M3211 2116l3-17M3236 2127l2-5 8-7M3365 2093l8-18M3632 2024l4-3M3690 1976l1-7M3763 1982l8-40M1892 2469l8 11 8-7 8 9M1979 2422l1-3M2162 2405l1-2 8-4 4 7M2837 2188l2-8M3678 1988l4-26M3756 1981l5-13M1922 2453l8-3M1974 2433l4-17M2010 2432l4 3M2030 2432l4-1 8-22M2072 2393l1-7M2169 2389l8-1 3-6M2221 2379l4-5 7-13M2462 2308l1-2M2521 2287l6-23M2630 2284l8-5M2679 2256l7-31M2726 2253l7 4M3184 2118l3-3M3195 2126l2 1M3216 2099l3-11M3362 2074l8-22M3431 2034l2-12M3670 1979l2-10M3755 1980l4-13M1873 2468l8-27M1908 2454l5-16M1968 2449l8-32M2014 2433l2-1 8-11 8-1M2061 2385l3-16M2162 2385l5-8M2210 2368l5-21M2416 2328l6-11M2424 2324l6 13M2666 2240l2-12M2732 2247l8 14M2805 2207l6-33M2957 2170l5-14M3178 2110l7-45M3518 1999l1-4M3555 2018l4-3M3654 1998l8-19M1939 2445l4-2 3 4M2001 2426l5-16M2152 2383l5-8M2321 2328l3-19M2468 2314l8-8M2714 2242l8 6M2730 2247l8-6 8-11 8-87M3045 2120l3-21M3168 2104l7-61M3417 2032l5-22M3653 1987l7-20M1914 2438l3-7M2181 2367l3-6M2243 2354l8-18M2377 2325l1-2M2394 2297l0-2M2441 2284l1-5M2466 2300l8-10 8-15M2587 2264l6-23M2629 2230l4-17M2736 2239l8-66M2855 2154l1-3M2922 2151l5-41M3123 2095l3-16M3363 2053l1-3M3410 2017l2-17M3627 2001l8-6 8-4 8-40M1860 2456l6-18M1880 2458l4 8M1974 2414l5-25M2029 2387l6-49M2174 2359l4-7M2292 2323l5-28M2377 2324l8-21M2703 2220l8-26M2886 2177l8-25M3010 2113l3-13M3219 2074l1-5M3402 2002l1-2M3497 1992l1-3M3570 2005l7-14M3620 1993l5-9M3641 1976l2-4M3646 1964l1-3M1858 2455l8 5M1930 2432l8-5 7-22M1953 2426l8 2 8-47M2040 2355l1-3M2105 2375l5-7M2206 2347l2-7M2281 2317l6-58M2595 2238l3-9M2625 2222l4-41M2685 2219l8-21M3345 2059l8-73M3552 2000l8-9 8-1 8-3 2-5M1855 2464l1 5M1910 2410l2-3M1928 2427l8-27M2230 2347l8 1 2-3M2243 2340l3-5 8-5 8 5 8-22M2362 2302l3-8M2381 2301l2-1M2395 2257l2-16M2458 2275l3-8M2469 2272l8 14M2521 2225l3-25M2580 2256l8-21M2897 2154l1-2M3205 2073l3-12M3287 2010l1-6M3614 1969l8-4 8-2 8 4 8-12M1842 2442l5 13M1877 2421l1-2 8-9M1926 2413l3-4M1939 2401l3-1 8 5M2060 2351l1-4M2152 2335l5-20M2326 2310l6-23M2357 2299l6-48M2392 2266l3-25M2454 2268l5-13M2879 2159l1-2 8-36M3326 2043l8-42M3628 1965l8-15M3691 1920l1-2M1805 2432l8 0 8 11M1916 2417l8-20M2094 2364l1 2M2099 2371l8-19 8-6M2312 2293l2-6M2323 2307l7-53M2449 2261l8-11M2584 2243l8-50M2668 2197l4-16M2968 2129l6-40M3130 2069l3-18M3154 2068l3-20M3193 2048l4-19M3283 1992l1-8M3401 1997l3-10M3552 1972l3-9M3563 1970l8-9M3597 1940l5-36M3666 1959l8-13 8-17M1803 2439l5 3M1886 2405l5-20M1907 2411l8-6M1933 2385l6-6M2080 2343l2-9M2090 2351l8-21M2444 2258l4-9M2509 2245l2-4 4-1M2575 2240l8-31M2686 2168l0-2M2773 2129l1-7M2851 2145l2-2M2945 2139l4-5 7-26M3018 2111l2-4M3273 2005l2-7M3396 1995l6-24M3557 1965l4-6M3586 1956l7-44M3644 1948l4-13M1810 2422l8-6M1848 2379l1-7M1962 2365l7-70M2086 2341l2-1M2439 2257l7-48M2486 2236l7-32M2517 2227l4-7M2609 2206l4-14M2647 2199l6-43M2679 2172l5-45M2853 2142l6-12M3001 2079l1-8M3126 2060l4-13M3436 1992l4-3M3575 1951l8-23M3623 1954l8-4 8-27M1776 2424l8 20M1927 2393l8-18M1940 2384l3 5 8-9 8-75M2037 2342l1-6M2283 2253l2-14M2428 2259l8-57M2470 2243l6-20M2571 2215l8-29M2632 2181l3-13M2670 2181l5-30M2706 2172l8-6M2811 2155l7-52M2855 2140l3-7M2942 2086l3-19M3155 2046l5-23M3194 2036l6-30M3238 2025l1-2M3320 2004l7-35M3460 1955l2-10M3557 1960l8-39M3629 1938l8-38M1766 2427l8 5M1832 2395l6-13M1902 2386l7 9M1917 2390l8-23M1941 2373l8-8M2029 2347l8-14M2078 2337l6-23M2169 2282l3-15M2267 2292l4-10M2325 2266l6-48M2593 2195l8-12M2776 2123l0-2M2960 2101l7-47M3014 2070l1-4M3145 2038l5-50M3227 2016l3-14M3249 2018l4-24M3444 1972l8-49M3548 1960l8-38M1757 2424l8 0 8-5 8-2M1900 2388l8-22M2024 2349l3-8 8-6M2086 2307l5-20M2250 2283l1 4M2268 2280l6-12M2568 2200l8-4M2587 2197l5-8 8-32M2713 2161l6-29M2841 2112l5-29M2954 2081l3-15M3124 2059l8-34M3210 2002l2-13M1747 2415l8-6M1789 2405l6-7 8 7M1826 2391l8-30M1898 2374l8-64M2014 2323l3-11M2041 2340l2 3M2057 2342l8-30M2256 2283l8-2M2498 2209l4-11M2518 2208l2 3M2579 2186l3-11M2978 2041l2-12M3199 2001l3-17M3339 1987l6-33M3385 1975l8 5 4-10M1737 2400l8 1M1749 2420l4 17M1761 2406l8-21M1793 2393l8 7 8-6 8-41M1861 2345l4-21M1891 2358l5-28M2047 2317l8-30M2157 2262l2-10M2195 2268l4-17M2246 2277l8 1M2308 2233l2-11M2404 2191l1-7M2488 2196l5-13M2564 2190l8-41M2786 2104l1-10M3391 1978l8-19M3537 1940l6-14M3544 1931l1 3M3562 1921l4-13M1791 2392l8 0 8-29M1883 2338l4-24M1932 2328l2-12M2033 2325l5-14M2184 2269l5-26M2252 2271l8-3M2290 2237l2-6M2337 2203l3-25M2475 2198l8-13M2523 2198l8-8M2668 2140l6-25M2806 2110l3-11M3012 2030l4-29M3328 1969l6-53M3378 1968l4-14M3543 1926l6-15M1726 2394l8-7 8-15M1797 2385l8-44M2113 2264l3-14M2242 2244l1-3M2314 2233l8-22M2454 2204l4-9M2465 2194l8-37M2505 2185l8-14M2795 2106l4-27M3370 1926l2-10M3451 1898l1-2M3521 1917l2-8M3531 1915l8-21M1724 2389l8-6 8-14M1978 2279l1-4M2026 2313l8-9M2099 2276l7-50M2311 2224l2-6M2323 2210l6-49M2446 2193l2-2M2726 2105l0-2M2786 2099l4-25M2899 2001l2-20M2954 2035l3-13M3003 2022l1-7M1728 2386l2-5 8-15M2017 2303l8-36M2247 2237l8-50M2394 2184l4-23M2572 2146l1-2M2704 2108l5-18M2737 2098l3-15M2800 2066l4-21M3263 1961l2-11M3281 1965l8 4M3384 1925l0-4M3510 1895l2-4M2010 2298l5-22M2047 2288l8-1 8-12M2071 2280l8-23M2154 2259l4-14M2289 2220l4-14M2378 2182l3-18M2698 2103l1-3M2721 2091l2-13M2778 2107l8-38M2828 2077l6-13M3080 1923l1-3M3267 1949l4-19M3287 1970l8-49M1687 2392l8-1M1727 2375l8-51M2041 2273l4-15M2071 2276l6-24M2235 2203l1-2M2364 2192l7-59M2765 2076l4-31M3243 1949l3-16M3413 1918l8 2M3507 1885l1-3M1693 2382l2 0M1717 2370l8-43M1803 2294l2-13M1923 2275l1-5M2061 2262l6-20M2188 2227l6-41M2298 2215l8 4 8-35M2360 2157l1-7M2551 2138l1-2 8-23M2731 2086l4-8M3183 1968l5-48M3262 1926l6-64M3321 1916l3-11M3419 1922l8-12M3435 1907l8-24M1700 2366l8 0 7-35M1799 2299l4-27M1913 2290l1-8M2143 2226l2-5M2296 2214l8-19M2640 2101l6-47M3407 1895l2-7M3527 1827l2-17M1658 2371l8-37M1699 2361l7-45M1905 2310l8-27M2000 2285l8-2M2027 2260l5-9M2413 2133l1-5M2569 2116l4-8M2701 2098l7-34M2824 2059l3-10M2840 2028l3-21M2950 2012l4-9M3399 1872l1-6M3476 1869l3-19M3503 1875l5 5M3512 1869l7-62M1656 2369l8-31M1903 2291l8-20M2100 2199l2-13M2179 2213l2-8M2227 2210l2-4 8-41M2376 2144l4-25M2398 2148l6-34M2561 2100l2-4M2587 2108l6 15M2826 2045l7-39M2994 1995l6-52M3023 1987l1-5M3309 1896l1-8M1631 2371l8-3 8-6M1851 2305l2-2 8 0M2079 2233l5-28M2169 2208l3-13M2217 2194l2-7M2409 2106l1-14M2440 2093l2-14M2575 2088l2-7M2625 2101l8-13 8-10M1621 2366l8-31M1688 2337l5-15M1793 2291l3-21M2017 2232l2-3M2159 2215l3-5M2286 2144l3-20M2348 2144l5-30M2394 2155l6-26M2543 2099l1-2M2594 2087l5-24M2941 1975l0-4M2955 1989l2-3M3029 1977l8-32M3332 1896l7-58M3431 1871l3-6M1611 2357l8-32M1858 2293l8-4 8 6M1882 2291l8-6 1 2M1906 2272l8-79M1954 2248l7-52M2136 2211l8-39M2192 2190l8-44M2386 2136l5-19M2498 2080l4-49M2667 2044l2-13M3015 1967l4-26M3280 1879l1-9M3357 1858l4-31M3427 1867l6-23M1616 2332l2-4M1641 2345l8-5M1856 2290l8-9M1888 2283l8 2M2158 2204l8 2M2303 2137l6-65M2377 2105l4-33M2488 2070l4-49M2536 2079l4-19M2586 2065l2-4M3313 1888l6-64M3421 1850l2-6M1656 2336l8 4M1674 2311l5-36M1902 2255l1-4M2015 2231l6-39M2154 2190l3-5M2244 2112l0-3M2294 2135l6-61M1582 2340l8-30M1598 2336l8 12M1652 2327l2-2 8-40M1736 2285l5-21M1853 2259l8-45M2763 2005l4-29M1573 2330l8-28M1612 2335l8-18M1719 2286l5-9M1787 2276l8-8M1837 2250l6-26M1891 2257l4 4M2144 2171l1-3M2161 2187l4 2M2179 2154l6-50M2401 2116l7-25M2890 1960l3-17M1593 2317l2-3 8 7 5 8M1703 2290l3-10M1770 2275l8 2M1832 2225l1-9M1967 2173l2-10M2019 2202l5-25M2134 2163l2-3M2394 2085l4-24M3216 1874l1-6M3242 1880l7-68M1687 2268l1-5M1792 2263l8-9M2146 2130l4-32M2714 1936l0-6M1544 2318l8 8 7-2 8-48M1623 2302l2-2M1719 2279l8-17M1766 2264l8-7 8-27M1844 2221l2-8M2004 2155l1-6M2134 2155l6-53M2414 2063l4-31M2835 1960l5-29M3341 1839l8-65M1534 2308l8 0 8-13M1605 2309l8-2M1632 2288l5-17M1645 2290l8-30M1702 2268l7-29M1737 2259l4-15M1796 2244l8-41M2289 2113l7-22M2326 2090l3-8M2979 1888l2-21M3217 1863l3-8M3230 1864l6-27M3335 1827l4-7M1532 2303l8-26M1604 2293l8 0 8-24M1641 2279l3-4 7-46M1688 2259l3-7M1725 2248l6-27M1830 2217l4-21M1890 2213l8-46M2412 2043l3-24M3012 1903l7-80M3226 1862l8-24M1602 2282l8 4M1612 2282l6-14M1719 2219l2-15M1872 2220l8-5 8-41M2129 2144l6-37M2242 2086l4-36M2857 1925l2-8M3214 1854l2-6M3307 1834l5-16M3388 1809l3-12M1552 2273l1-2M1600 2279l8-1M1775 2223l8-6M1844 2214l3-8 8-8M1871 2215l8-3M2123 2133l2-4M2280 2070l4-27M2529 2024l2-8M3297 1819l5-21M1506 2291l5-13M1607 2279l7-23M1677 2223l1-3M1763 2201l3-18M1835 2191l2-10M2448 2012l1-8M2525 2012l4-12M1530 2277l3-4M1605 2257l8-9M1875 2190l8-14M1910 2166l5-29M1986 2132l0-5M2119 2120l3-7M2200 2044l1-10M2399 2017l1-6M2754 1936l4-29M1508 2275l8-15M1595 2258l8-8M2122 2112l6-12M2341 2020l2-11M1492 2277l6 16M1507 2276l7-47M1625 2236l8-25M1885 2177l3-2M2010 2131l5-24M2113 2106l5-18M2392 2001l5-44M2511 1997l5-15M2700 1949l7-54M2822 1919l4-24M2845 1884l5-74M1766 2175l1-2M1895 2169l7-33M2047 2108l6-61M2496 1975l2-15M2807 1890l1-12M2996 1846l3-32M1447 2288l8 3M1598 2234l8-16M1701 2212l8-21M1797 2190l3-8M1844 2169l8-8 8-8M1884 2161l8-42M1928 2131l4-23M1995 2133l8-50M2120 2087l3-11M2420 1994l5-52M2795 1855l4-57M3034 1812l3-26M3125 1827l8-14M3268 1789l8-25M1437 2264l8 11 8-23M1495 2252l6-9M1590 2235l6-28M1608 2221l4-14M1767 2171l4-20M1795 2175l8-54M1866 2162l8-37M2106 2090l7-33M2137 2090l4 2M2445 1976l2-8M2757 1891l0-3M2832 1886l5-24M3026 1804l2-12M3122 1818l1-2M3142 1791l5-41M3261 1782l5-29M3306 1775l8-48M1493 2247l6-17M1537 2205l2-7M1628 2215l6-22M1721 2158l1-4M1784 2166l1-3M2135 2080l8 7M2182 2011l1-7M2739 1886l1-4M3132 1812l5-43M1465 2260l8-6M1601 2208l8-23M1622 2202l2-2M1688 2191l8-9 8 8 8-14M1780 2159l4-12M2127 2069l6-43M2584 1903l3-25M3120 1808l7-26M3255 1788l8-69M1416 2263l8 3M1431 2229l1-6M1475 2253l5 6M1575 2222l8-8 8-20M1613 2195l2-4M1776 2147l6-32M1906 2108l3-16M2468 1971l6-48M2982 1818l1-2M3247 1769l6-29M1437 2271l1 2M1486 2227l8-13M1548 2189l1-7M1570 2204l3 0 8 7M1603 2186l2-4M1617 2186l4-9M1923 2125l8-37M2039 2050l3-27M3028 1790l1-4M1405 2247l3 0M1569 2202l3-2 8 8 7-28M1659 2177l8-12M1745 2137l2-5M1921 2115l8-69M2032 2063l1-4M2722 1810l3-46M2927 1825l4-21M3110 1796l4-10M1433 2223l2-6M1448 2205l3-13M1571 2198l7-51M1673 2169l8-30M1713 2162l8-19M3132 1774l4-13M3244 1763l4 4M1420 2224l5-19M1433 2220l8 1M1443 2213l6-27M1495 2212l2-1 7-49M1556 2181l4-12M1639 2146l1-3M1700 2155l3-7 8-10M2021 2072l5 5M2846 1822l2-12M3176 1756l6-13M3242 1747l4-6M1360 2234l8 20M1407 2231l8-30M1431 2215l8-21M1482 2202l5-16M1547 2169l3-13M1690 2128l4-24M1721 2134l4-20M2614 1826l2-30M2843 1818l4-28M2920 1819l6-42M3103 1759l6-45M3174 1751l7-23M3199 1745l6-26M3232 1738l4-9M1398 2219l8-31M1612 2160l3-2M1640 2141l4-18M1678 2133l6-37M2884 1795l1-5M2969 1766l3-27M3171 1746l8-21M1348 2220l8 23M1371 2210l1-4M1380 2211l6 10M1388 2225l8-16 8-36M2880 1801l3-15M3068 1745l6-52M1338 2227l8 24M2195 1966l2-17M3058 1746l6-51M1321 2228l8 3 8 7M1348 2210l5-19M1541 2159l3-7M1761 2087l5-18M2148 1948l0-3M2415 1906l3-20M2736 1735l0-4M3142 1732l8-40M1319 2223l8-9 8-12 8-15M1425 2183l5-29M1558 2146l8-66M1863 2054l5-16M1902 2058l6-15M1960 2028l3-23M2062 1988l5-40M2140 1977l6-55M2403 1905l6-40M2936 1774l5-21M1301 2216l8-4 8-26M1389 2190l8-8M1461 2166l1 3M1550 2139l6-42M1688 2086l3-11M1768 2074l3-7M1818 2023l0-6M2395 1904l4-18M2991 1754l4-15M3024 1759l3-3 8-35M1292 2204l8 4 8-43M1419 2166l1-2M1449 2159l2-6M1535 2141l3-6 8-21M1634 2118l8-34M1981 2010l3-16M2139 1957l4-25M2362 1876l3-25M3022 1756l3-5M1290 2207l8-48M1457 2154l8-1M1624 2108l8-8M1671 2057l1-6M1970 2009l4-14M2133 1976l8-48M2227 1915l1-15M2577 1832l1-4M2915 1763l5-41M3025 1749l7-25M1280 2201l8-32M1392 2166l8 3M1430 2121l1-12M1471 2138l8 8 8 3M1511 2133l8-9M1986 1995l2-8M2015 2003l5 6M2215 1910l4-33M2908 1747l3-10M2990 1751l2-1M3009 1747l5-11 8-14M1263 2192l8 2 8-3M1398 2172l8-11 8-25M1905 1981l2-21M2087 1959l3-15M3023 1721l5-7M1253 2192l8-3 8 31M1390 2148l6-35M1484 2125l8-19M1535 2112l4-16M1979 1990l6-35M2130 1959l6-21M2995 1733l8-24M1251 2181l8 1 8-19M1382 2131l5-32M1482 2117l8-83M1519 2107l3-12M1566 2080l3-15M2082 1936l4-39M2258 1909l3-12M2428 1870l5-24M2862 1732l4-32M2993 1720l8-25M3101 1666l3-21M1234 2180l8-7 8-7M1353 2150l8-17M1749 2029l2-6M2008 1959l5-33M2256 1900l4-3M2412 1862l7-53M2983 1715l8-15M3006 1694l1-4M1253 2169l3-5 8-4 1 5M1343 2156l8-16M1469 2101l2-4M1645 2058l8-30M1746 2022l3-12M1870 2003l6-23M1973 1986l6-16M2131 1931l8-28M1214 2164l8 23M1295 2135l7-38M1350 2134l7-14M1532 2095l8-7 8-5 8 4M1661 2050l7-52M1823 1994l4-27M1856 1986l2-10M1968 1967l2-2M2047 1940l2-13M2175 1857l2-18M2980 1705l1 3M1205 2178l8-2M1221 2160l7-14M1284 2144l8-45M1392 2100l3-7M1515 2096l8-8 8-46M1547 2070l8-5M1845 1976l4-18M1963 1952l5-22M2044 1935l4-11M2656 1748l4-47M2889 1726l2-2 1-1M2899 1717l3-7M1195 2164l8-14M1243 2145l3 5M1274 2149l8-52M1513 2082l8-38M1601 2049l2 1M1980 1948l2-8M2112 1911l5-17M2359 1854l5-13M2645 1755l5-49M2972 1679l4-21M3002 1687l1 3M1465 2089l7-14M1510 2064l1-2M1561 2057l6-33M1589 2044l2-6M1968 1926l5-29M1994 1927l2-10M2037 1941l7-52M2867 1700l4-32M2961 1682l6-30M3037 1655l1-3M1239 2132l8 8 8 3M1360 2093l6-35M1458 2072l4-18M1549 2065l8-2M1769 1979l3-21M1836 1967l8-64M1875 1963l5 6M1990 1919l5-22M2958 1674l7-58M3000 1675l5-8 8-17M1174 2142l8 34M1234 2128l3-3M1245 2138l8-13 8-17M1353 2078l4-14M1508 2055l3 7M1536 2045l4-4M1651 2015l3 8M1746 2008l8-9 8-17M2017 1925l8-2 8-13M2102 1858l2-20M2863 1690l5-22M2906 1667l1-8M2989 1662l6-19M1156 2145l8-11M1244 2126l8-27M1329 2099l2-7 8-1 2-1M1417 2050l2-7M1539 2040l7-40M1649 2016l8-4 8-27M1740 1988l5-10M2227 1809l3-45M2365 1821l8-36M1147 2153l7-34M1166 2139l4 10M1242 2113l8-40M1266 2103l8-6M1321 2090l8-6M1530 2034l6-47M1600 2016l8-7M1648 2003l7-21M1731 1974l4-17M1826 1957l4-17M1928 1933l6-40M2029 1908l8-14M2950 1648l2-8M1137 2141l8-23M1156 2146l5 15M1224 2113l8-7 8-26M1266 2096l6-12M1338 2089l6-19M1606 2006l8-37M1645 1997l1-2M1822 1956l7-67M1887 1929l5-27M1919 1904l5-45M1986 1910l2-4M2009 1910l3-5 8-42M2431 1721l2-25M2654 1695l2-10M1127 2129l8 6M1159 2125l4-6M1199 2125l8-33M1262 2090l8-9M1329 2082l5-15M1722 1965l2-7M2070 1870l4-7M2954 1634l2-9M1117 2140l8 5M1225 2096l4-12M1324 2075l8-12M1507 2037l8-15M1563 2016l8-1M1734 1944l4-17M1766 1959l4-11M1811 1937l6-18M1863 1892l2-15M2762 1667l2-8M2951 1633l4-9M1124 2123l4 6M1187 2110l8-34M1320 2070l3-2M1337 2064l1-2M1521 2024l8-20M1569 2016l4-4M1633 1980l8 8 8 1M1720 1958l8-9M1757 1945l3-15M1790 1923l2-10M2148 1836l2-8M2631 1703l4-20M1114 2125l8-12M1178 2096l8 6M1323 2068l6-15 8 7M1353 2062l3 0M1411 2034l5-20M1559 1997l8-3 8-9M1613 1967l2-7M1639 1972l8 11M1898 1904l3-3M1981 1880l8-11M2098 1833l2-6M2520 1705l2-10M2604 1707l5-19M2919 1641l8-1M2947 1631l4-17M1104 2125l8-45M1123 2114l5-8 8-32M1179 2094l5-8 8-61M1222 2051l2-12M1311 2067l8-14M1333 2056l2-3 8 5M1546 1994l4-3M1606 1970l7-43M1714 1958l3-1 3 1M1812 1918l8-22M1889 1893l3-14M1940 1890l7-68M2596 1708l3-18M2910 1643l7-12 8-3 8-2M2936 1629l2 3M1079 2123l8 19M1175 2082l7-40M1278 2071l7-17 3 2M1301 2064l8-7M1325 2049l8-16M1341 2042l8 8 8-3M1407 2014l6-30M1502 2006l6 10M1596 1986l8-57M1635 1957l8 15M1645 1976l2 6M1659 1957l8-23M1715 1951l8-11 8 1M1755 1926l8-8M1802 1917l8-42M1967 1867l2-7M1977 1877l8-22M2095 1822l2-8M2775 1647l6-36M1069 2110l8 15M1085 2116l8-14 8-5M1125 2093l8-8M1316 2048l8-47M1363 2042l8-16 8-24M1403 2013l8-28M1473 2000l2-2 8-5 3 0M1501 2000l5 6M1554 1990l8-7M1590 1970l4-8M1650 1956l8-20M1701 1932l4-2M1785 1922l8-23M1994 1851l5-32M2093 1816l2-13M2196 1782l2-12M2301 1739l1-7M2733 1668l6-22M1059 2098l8 1 8-17M1099 2096l8-9M1346 2037l8-1 8-1 8-35M1513 1993l8 5M1568 1962l8-11M1584 1966l8-9M1594 1952l6-17M1698 1923l6-24M1779 1897l4-15M1806 1875l1-3M2090 1816l3-12M2145 1810l4-9M2338 1752l2-9M2575 1650l3-43M2857 1633l8-27M2904 1602l0-2M1050 2098l8-2 8-20M1113 2077l8-10M1168 2055l1-2M1344 2034l2 1M1471 1992l8-14 8 5M1503 1979l8-25M1519 1987l4 7M1559 1959l8-15M1646 1944l8-31M1891 1835l2-16M2012 1850l8-56M2891 1604l4-14M1048 2100l8-24M1127 2064l8-19M1272 2034l7-15M1288 2038l6 13M1350 2010l8-16M1421 1959l1-2M1493 1980l8-20M1636 1932l8-60M1732 1905l8-16M1767 1905l5-13M1826 1851l1-8M2010 1835l2-7M2845 1620l8-27M2885 1602l8-45M1217 2034l4-17M1265 2014l4-10M1301 2029l8-11 8 1M1583 1940l4-5 8 2 3 0M1629 1932l6-30M1746 1896l8-35M1979 1831l6-13M2043 1822l5-13M2093 1803l3-7M2195 1770l4-42M2732 1647l8-12M2836 1611l7-26M2879 1592l4-24M1021 2098l8-38M1100 2067l8-30M1131 2044l1-2M1207 2019l4-19M1291 2021l8-10 8-13M1347 2010l8-25M1378 2001l8 2M1530 1960l4 8M1561 1941l8-17M1577 1935l8-7M1674 1906l7-31M1784 1885l8-21M1924 1814l3-34M1975 1826l8-17M2054 1809l8-41M2341 1730l8-16M2786 1623l6-11M2875 1589l7-35M1011 2089l8-14M1178 2046l8-18M1278 2018l3 3M1337 2007l8-2M1512 1957l8-18 8 12 8 14M1544 1944l8-29M1579 1932l5-4M1599 1923l8-36M1623 1914l8-12M1687 1895l5 16M1798 1876l8-34M1917 1802l1-3M1971 1826l2-6M2005 1828l5 5M2864 1590l8-28M1062 2065l3-4 8-7 8-17M1160 2044l8-21M1192 2023l8-30M1288 1994l7-16M1343 1998l4-1M1462 1955l8-14M1480 1947l3 7M1526 1941l8-15M1685 1894l8 11 5-16M1876 1838l8-17M2143 1779l3-1 8 8M2168 1766l2-5 8-10M2201 1730l1-4M2302 1699l3-21M2523 1665l5-15M2642 1630l5-45M2743 1628l8-32M2814 1595l8 7 8-3M2834 1604l2 2M992 2068l8-12M1228 1994l2-8M1318 1998l8-5M1334 1987l7-6M1365 1977l8-48M1456 1929l5-29M1483 1954l2 2 8-6 8-19 7-22M1526 1935l6-15M1569 1921l3-3 8-34M1623 1907l5-20M1713 1856l2-8M1779 1866l8 7M1860 1844l6-24M2009 1808l4 1M2049 1788l8-28M2137 1773l8 1 8-17M2161 1760l8-5 7-28M2294 1684l2-17M2733 1617l8-24M1324 1977l8 4 8-1 8-16 8-51M1392 1956l3-2 8-14M1478 1940l5-13M1520 1919l3-5M1562 1916l8-15M1614 1897l4-4M1682 1877l8-6M1753 1857l8-33M1777 1856l8-13M1816 1813l1-4M1849 1835l8-2M2000 1809l8-13M2033 1797l7-20M2135 1767l8-9M2159 1752l8-70M2472 1657l5-27M2529 1647l4-16M2671 1615l3-13M2730 1587l1-5M972 2062l8 23M1028 2049l8-11M1167 2018l4-4 4 4M1179 2021l8-18 8-17M1248 1999l3 2 7-10 8-24M1324 1975l6-26M1851 1834l4-2M1881 1813l6-15M1982 1810l8-18 8 2M2014 1800l3 0M2149 1752l8-69M2358 1692l4-8M2614 1636l4-5M2817 1586l8-29M999 2054l3-3 8-8 8-7M1106 2018l8-8M1169 2008l8-20M1266 1967l7-23M1402 1939l6-27M1501 1903l2-5M1555 1900l4-4 8 8M1638 1881l8-32M1734 1859l8-29M1836 1815l1-6M1891 1798l2-6M1991 1792l5-11 8-5M2040 1775l4-13M2256 1703l3-17M2532 1623l5-37M2617 1617l8-6M2809 1573l6-30M961 2063l8 1 8-19M983 2030l2-5M1091 2016l5-10M1160 2001l8 5M1202 1984l5-18M1247 1982l8 1 8-20M1435 1896l3-21M1613 1894l8-8 8-14 8-22M1732 1846l8-43M1859 1825l4-2M1868 1816l7-32M1995 1775l8-2M2007 1781l4 7 7-7 8-20M2321 1689l8 0 8 0M2609 1615l6-29M2803 1556l3-2M943 2049l8 5M959 2056l8-19 8-27M1015 2033l8 5 3 9M1102 2012l8-14M1183 1993l7-31M1245 1963l8 12 8-25M1495 1891l5-30M1603 1879l8-11 8-5M1726 1840l4-6M1802 1822l8-4M1822 1810l4-6M1850 1810l8-20M1926 1758l3-23M1972 1796l5 7M2009 1773l8 0M2335 1684l8 2 5-14M2350 1666l1-2M2391 1673l7-50M2511 1631l7-66M2597 1619l8-46M2815 1539l5-16M941 2048l8 13M957 2047l8-18M1037 2033l8-38M1156 1999l8 3M1172 1992l8-52M1253 1969l7-21M1578 1877l8-7M1601 1873l8-17M1686 1840l3-5M1723 1839l6-10M1832 1807l8-33M2055 1758l8-35M2352 1663l5-21M2377 1660l4-6M2496 1615l4-17M2588 1615l8-38M924 2055l8-8M936 2057l4 9M948 2042l8-2M1019 2028l8-44M1056 2003l3-1 8 6M1115 2002l8-21M1565 1887l3 5M1592 1868l8-18M1673 1840l6-19M1711 1834l8-26M1814 1805l8-44M1853 1782l1-2M1958 1781l8 6M2045 1750l8-9 8-30M2147 1700l1-2M2214 1695l6-27M2339 1670l8-41M2406 1644l5-5M2583 1600l3-6M914 2043l8 3M938 2041l8-7M1010 2012l7-30M1047 1988l2-3M1065 2004l5 5M1161 1972l8-23M1418 1909l1 2M1435 1886l4-24M1486 1871l1-2M1574 1872l8-27M1615 1858l7-33M1723 1814l2-5M1956 1756l1 5M2027 1740l8-14M2123 1719l8-32M2244 1678l6-43M2334 1659l4-6M2581 1596l3-9M912 2034l8-10 8 15 8-2M944 2035l8-1 8-16 8-18M1095 1985l8-21M1135 1976l2 2M1144 1979l7-23M1397 1910l8-19M1464 1888l5-12M1704 1820l4-9M1786 1798l1-3 8-23M1887 1754l4-8M1970 1760l8-18M2042 1738l8 7M2223 1675l2-3M2368 1658l8-10 8-15M950 2015l8-13M998 2013l8-2 8-37M1070 1994l3 3M1135 1972l6-13 8-20M1237 1951l8-50M1384 1893l4-3M1396 1900l8-14M1423 1899l5 9M1658 1831l8-60M1783 1790l2 1M1865 1777l8-30M1954 1747l6-21M2012 1729l4-2 8-7M2048 1737l8-21 3 1M2096 1707l8-16M2224 1672l7-46M2567 1578l6-14M885 2026l8-19M988 1992l8 1 8-25M1060 1991l8-7 8 10M1084 1974l8-36M1227 1934l8-45M1390 1891l4-3 8-26M1426 1891l8 9M1577 1838l8-15M1648 1819l8-32M1790 1781l2-5M1857 1761l6-24M1973 1733l2-3 7-11M1990 1745l8-14 8-40M2042 1718l4-3 8-6M2088 1693l6-21M2184 1679l5-35M2218 1663l3-14M2592 1557l3-15M875 2012l8 10M939 2010l8-17M1058 1986l8-3 8 1M1130 1961l8-13 8 3M1219 1925l6-32M1427 1884l5 8M1636 1827l3 1M1734 1789l8-15M1850 1751l4-12M1969 1728l4-9M2047 1715l5-20M2215 1658l4-16M2542 1562l3-12M2663 1549l2-3 8-26M874 2027l8-3 2 0M929 2009l8-9M1128 1959l8-22 8 3M1365 1850l2-7M1393 1870l5-29M1428 1883l2 1M1526 1838l1 1M1550 1834l8-6 7 12 8-3 3-1M1688 1798l5-6 8 21M1744 1778l4-9M1788 1778l2 0M1798 1768l6-28M2660 1535l3-11M2076 2562l-9-8-10-2-10 11M2028 2536l-10-13M2008 2536l-9-24M1921 2485l-9 16M1892 2469l-9-17M1873 2468l-10-42M1805 2432l-10-31M1776 2424l-10 3-9-3-10-9-10-15-9 19M1631 2371l-10-5-10-9-9 8M1582 2340l-9-10-10 17M1544 2318l-10-10-10 17M1447 2288l-10-24-10-39M1360 2234l-10-16M1321 2228l-10 7M1301 2216l-9-12-10 22M1263 2192l-10 0-10 12M1234 2180l-10-24M1214 2164l-9 14-10-14-10-45M1156 2145l-9 8-10-12-10-12-10 11-9 15M1079 2123l-10-13-10-12-9 0-10 18M1021 2098l-10-9-10 18M992 2068l-10-38M972 2062l-9 20M943 2049l-10 12M924 2055l-10-12-10 6M885 2026l-10-14-9-23M2104 2578l-10-8-10 3M2065 2541l-10-4-10 20M2036 2527l-10-9M2012 2530l-5-4-10-25M1949 2494l-10-14M1900 2480l-9-26M1805 2437l-2 2-9 10M1765 2424l-10-15-10-8M1742 2410l-6 16M1726 2394l-10-13M1682 2400l-5 8M1658 2371l-1 2M1650 2383l-2 3M1639 2368l-10-33M1604 2359l-4 8M1552 2326l-10-18-10-5-10 19M1503 2298l-4-20M1497 2269l-4-15M1445 2275l-10-33M1416 2263l-10 14M1354 2229l-6-9-10 7-9 4M1322 2225l-3-2-10-11-9-4M1293 2207l-3 0-10-6-9-7-10-5-10-8-9-8-10 7-10 7M1210 2168l-7-18M1174 2142l-10-8M1135 2135l-10 10M1067 2099l-9-3-10 4-10-24M1016 2078l-7 6-9-28M956 2059l-5-5-10-6-9-1-10-1-10-12-9-23M883 2022l-9 5M2082 2556l-9-32M2044 2541l-10-21M2016 2535l-1 3M1995 2509l0-2M1939 2450l-2-8M1908 2473l-10-35M1860 2456l-10 12M1777 2423l-4-4-10 5M1734 2387l-10 2M1656 2369l-9-7-10-25M1583 2344l-4 5M1559 2324l-9-29M1455 2254l-2-2M1424 2266l-10 6M1405 2247l-10-24M1381 2243l-6 9M1327 2214l-10-28M1270 2215l-1 5M1259 2182l-9-16M1235 2186l-5 10M1221 2160l-10-47M1172 2153l-4-10M1124 2123l-10 2-10 0-9 8M1085 2116l-10-34M1014 2077l-7-8M969 2064l-10-8M954 2058l-5 3M920 2024l-9-24M884 2024l-2 0M2100 2559l-10-12-9-1M2027 2536l-4 9M2003 2510l-9-69M1945 2492l-10-9-9 17M1915 2477l-9-28M1819 2434l-9-12-10-13M1781 2417l-10-8-10-3-10-21M1693 2382l-9-50M1580 2302l-3-9M1533 2285l-4-8M1500 2291l-10-20-10-19M1412 2245l-9 1M1360 2229l-6 4M1335 2202l-10-24M1122 2113l-10-33M1093 2102l-10-39M977 2045l-10-8-10 10-9-5-10-1-10-2M2118 2552l-10 2M1982 2501l-10 18M1869 2457l-3 3M1823 2426l-5-10-10-10M1657 2366l-4 2M1595 2314l-10-59M1499 2291l-1 2M1378 2222l-6-16M1280 2185l-5-9M1262 2170l-6-6-10-13M1101 2097l-10-12M993 2054l-8-29M956 2040l-10-6-10 3M2126 2557l-10 16M2087 2538l-10-25M2029 2519l-10-25M1993 2506l-3 0M1958 2471l-7-25M1923 2455l-1-2-9-15M1787 2409l-10-46M1661 2357l-10 9M1612 2335l-9-14-10-64M1536 2279l-1-2M1520 2270l-4-10M1439 2271l-1 2M1380 2211l-10-14M1264 2160l-10-3M1239 2148l-4-16M1099 2096l-10-30M1044 2057l-3-4M1002 2051l-9-41M2109 2544l-4-4-10-34M1824 2416l-6 0M1795 2398l-10-30M1732 2377l-5-2-10-5-9-4M1649 2340l-9-39M1620 2317l-9 15M1539 2277l-6-4M1417 2233l-10-2-9-12-6 4M1155 2118l-9-48M1107 2087l-10-16M1010 2043l-9-28M952 2034l-4 0M2128 2546l-1-2M2117 2527l-4-7M2035 2507l-10-15-9-12M1906 2445l-7-15M1803 2405l-10-12M1659 2357l-2 3M1499 2261l-2-1M1473 2254l-9 14M1436 2222l-1-5M1345 2187l-7-48M1202 2128l-9-7-3 4M1162 2116l-8-31M1130 2100l-5-7-10-10M1028 2049l-10-13M966 2025l-6-7-10-3-9 18M2126 2541l-1-2M2043 2497l-10-23M1878 2419l-9-56M1828 2404l-8 12M1801 2400l-6-5M1563 2264l-4-19M1428 2209l-5-12M1239 2132l-3 0M1113 2077l-9-1M1066 2063l-1-2-10-18M973 2012l-5-12M949 2020l-10-10-10-1M2061 2513l-10-42M1935 2446l-10-24M1809 2394l-10-2M1441 2221l-10-6M1247 2140l-10-15M1073 2054l-10-41M1015 2033l-5 2M947 1993l-10 7M2175 2540l-10 8-9-4M2117 2526l-10-51M2078 2508l-9-17-10-54M1947 2449l-4-6-5 1M1904 2418l-10-13M1826 2391l-9-38M1797 2385l-9-25M1669 2321l-7-36M1623 2302l-10 5-9-14-4-8M1294 2144l-10 0-10 5-9 4M1255 2143l-10-5M1187 2110l-9-14-10-40M1100 2067l-10-17M2183 2546l-10 11M2157 2520l-3-8M2125 2513l-10-46M2034 2457l-6-28M1970 2449l-1 3M1918 2421l-6-14M1612 2293l-10-11M1495 2246l-6-13M1428 2198l-10-19M1389 2190l-10-43M1350 2170l-2 5M1315 2134l-4-13M1253 2125l-9 1M1224 2113l-9-41M1135 2078l-8-14-9-22M980 2000l-7-13M2191 2539l-10 2-1 2M2133 2528l-3-5M2085 2488l-10-24M1696 2308l-9-37M1629 2294l-9-25M1610 2286l-10-7M1569 2250l-7-37M1430 2190l-4-6M1397 2182l-10-38M1242 2113l-10-7-9-11M1184 2086l-10 2M1142 2067l-7-22M1019 2028l-9-16-6 9M987 2001l-7-23M2154 2511l-3-9M1952 2444l-5 2M1938 2427l-10 0M1756 2305l-2-11M1608 2278l-9-4M1574 2234l-5-24M1351 2164l-4-5-2 0M1312 2120l-4-24M1269 2116l-9-34M1116 2041l-2-4M1037 2033l-10-49M998 2013l-10-21-9-32M2165 2516l-6-26M2139 2509l-10 10M1926 2413l-10 4M1889 2359l-2-9M1847 2365l-8-40M1647 2292l-2-2M1579 2237l-2-7M1318 2130l-2-6M1273 2108l-5-6M1133 2044l-1-2M1008 2011l-2 0-10-18-9-16M2186 2517l-10 3-5 1M2128 2490l-10-38M1934 2403l-10-6M1915 2405l-10-5-10-31M1854 2359l-7-22M1618 2265l-4-9M1605 2257l-10 1-10-17M1356 2150l-3 0-10 6M1319 2124l-5-15M1144 2058l-4-4M2223 2533l-10-25M2147 2487l-2-2M2012 2436l-2-4-10-6M1964 2428l-3 0M1942 2400l-10-13M1642 2267l-2 5M1619 2261l-6-13M1603 2250l-10-7M1497 2211l-10-25M1444 2162l-6-33M1419 2166l-6 12M1363 2137l-2-4M2182 2509l-9-35M2095 2475l-9 4-3 2M1994 2424l-5-11M1950 2405l-10-8M1921 2400l-10 5M1698 2304l-10-41M1396 2168l-2-2M1352 2138l-2-4-10-23M1066 2013l-7-11-10-17M2188 2497l-7-19M2016 2432l-10-22M1945 2400l-6-21M1710 2285l-4-5M1537 2200l-5-16M1406 2161l-10-48M1106 2018l-10-12M1068 2010l-1-2-10-23M2191 2483l-2-7M2082 2461l-10-12M2034 2431l-10-10-10-37M1927 2393l-10-3-9-24M1726 2281l-2-4M1598 2234l-6 4M1551 2186l-2-4M1421 2154l-7-18M2199 2470l-2-11M2032 2420l-10-31M1965 2374l-1-3M1937 2379l-2-4-10-8M1750 2293l-9-29M1610 2226l-4-8M1463 2171l-2-5-10-13M1377 2122l-4-5M1159 2037l-8-49M2070 2425l-1-3M1943 2389l-10-52M1694 2257l-3-5M1459 2163l-10-19M1268 2070l-3-8M1178 2046l-10-23M1115 2008l-5-10M2079 2401l-2-10M1951 2380l-10-7M1719 2279l-10-40M1622 2230l-10-23M1583 2214l-10-10M1457 2154l-10-28M1336 2096l-5-4-10-2-9-12M1274 2069l-1-3-10-19M1186 2028l-10-11M1070 1994l-10-3M2269 2523l-6-18M1689 2236l-1-3M1630 2221l-10-24M1605 2215l-4-7-10-14M1578 2208l-6-8-10-11M1465 2153l-10-45M1384 2108l-6-6M1339 2091l-10-7M1068 1984l-10 2M2277 2516l-10-51M2203 2467l-4-5M2153 2398l-2-17M2075 2390l-2-4M2051 2403l-7-16M1840 2314l-6-20M1566 2193l-6-24M1400 2106l-5-13M1266 2051l-6-26M1115 2002l-10-25M1095 1985l-9 21M1066 1983l-9-2M2285 2518l-10-31M2206 2462l-8-63M1769 2283l-7-27M1593 2193l-6-13M1471 2138l-9-59M1278 2071l-10-51M1230 2003l-1-4M1171 2014l-2 3M1128 1996l-5-15M1084 1974l-10 10M2216 2457l-1-5M2056 2389l-5-24M1879 2307l-3-9M1746 2260l-5-16M1479 2146l-9-40M1285 2054l-9-1M1176 2016l-7-8-9-7M1117 1971l-6-17M2310 2523l-9-32M2235 2451l-2-11M1790 2277l-3-1-9 1-10-8M1756 2252l-7-28M1691 2238l-10-42M1608 2184l-5-14M1487 2149l-10-24M1345 2070l-3-4M1303 2071l-2-2M1187 2003l-10-15M2286 2507l-3 3M2247 2452l-6-33M1853 2303l-9-27M1766 2264l-9-62M1557 2160l-4-3M1491 2138l-6-15M1307 2066l-6-2M1199 1998l-4-12M1962 2300l-4-29M1861 2303l-9-22M1794 2267l-4 6M1774 2257l-9-47M1496 2128l-3-5M1338 2062l-9-9-10 0-10 4-3 3M2334 2507l-9-14M2322 2488l-7-17M1795 2266l-3-3-10-33M1530 2150l-9-22M1511 2133l-10-13M1237 2009l-7-23M1174 1993l-2-1-10 6M2342 2512l-10 18M2000 2327l-6-40M1868 2296l-10-3M1800 2254l-10-29M1542 2144l-4-9-9-29M1509 2127l-9-64M1335 2053l-10-4-9-1-10 3M1197 1984l-7-22M1161 1972l-10-16M1139 1963l-5 9M2308 2466l-6-24M2005 2324l-4-14M1905 2310l-6 10M1866 2289l-10 1M1701 2212l-9 5-3 0M1515 2123l-7-48M1442 2061l-2-10M1353 2062l-10-4-10-25M1245 2011l-9-48M2174 2408l-6 10M2145 2360l0-3M2042 2346l-4-10M2029 2347l-2 2M1903 2291l-10 5-9 13M1789 2226l-2-5M1612 2160l-9-31M1522 2116l-7-14M1341 2042l-10-56M1143 1952l-5-4M1135 1952l-7 7M2172 2414l-9-11-10-19M2105 2375l-10-10M2042 2344l-1-2M2038 2335l-1-2M2027 2341l-10-29M1853 2259l-10-35M1774 2218l-8-35M1688 2191l-10-12M1659 2177l-10-45M1439 2050l-3-17M1349 2050l-10-27M1301 2029l-10-8-10 0M1146 1951l-10-14M2364 2497l-9 7M2316 2462l-10-24M2267 2449l-9-13-10 13M2171 2399l-10-14M2035 2335l-10-29M1899 2293l-9-8-10 6M1813 2222l-1-4M1785 2221l-2-4M1696 2182l-10-38M1677 2190l-10-25M1623 2137l-4-23M1526 2108l-4-13M1448 2061l-4-19M1367 2039l-10 8M1309 2018l-10-7M1251 2001l-10-29M1146 1943l-2-3M2382 2491l-10 25M2324 2459l-10-11M2256 2430l-7 15M2175 2403l-6-14M2091 2360l-9-26M1888 2283l-10-48M1787 2208l-6-37M1708 2191l-4-1-10-47M1630 2134l-3-10M1415 2034l-2-6M1317 2019l-10-21M1288 1994l-10-15M1258 1991l-9-5-4-7M1240 1970l-1-2M2254 2430l-9-1M2177 2388l-10-11M2097 2366l-7-15M1906 2272l-10 13M1363 2042l-9-6-10-2M1319 2007l-4-7-10-6M1253 1989l-6-7M1245 1976l-8-24M2258 2424l-5 0-10-6-10-16M2107 2352l-9-22M1824 2216l-7-43M1754 2174l-5-31M1684 2151l-3-12M1516 2098l-9-45M1371 2026l-9 9-4 1M1265 1972l-10 11-10-20M1242 1958l-6-9M2260 2416l-9-7M2246 2414l-5 5M2057 2342l-10-25-9-6M1937 2245l-6-41M1902 2255l-8 28M1692 2142l-3-14M1350 2010l-8 17M2404 2487l-10-10-9-10M2307 2428l-9-45M2249 2402l-7 13M2120 2336l-7-24M2029 2315l-3-2M1891 2257l-10-23M1529 2092l-6-4-10-6M1419 2021l-3-7M2373 2453l-9-31M2335 2442l-10-6-10-16M2238 2405l-2 0M2230 2403l-2 0-10-23M2083 2321l-10-41M2034 2304l-9-37M1759 2171l-6-25M1671 2122l-5-20M1628 2125l-2-2M1540 2088l-9-46M1379 2002l-3-9M1349 2011l-2-1-10-3M1318 1998l-10-53M2333 2438l-10-9-10-46M2240 2390l-4 0-10-8M2147 2343l-8-35M1905 2234l-8-15M1887 2235l-3 4M1717 2162l-4 0-10-14-9-44M1548 2083l-9-30M1424 2005l-2-8M1326 1993l-10-36M2374 2441l-4-11M2328 2433l-7-17M2225 2374l-10-27M2038 2300l-7-35M1982 2270l-9-18M1892 2224l-6-17M1847 2206l-10-25M1723 2150l-2-7M1634 2118l-10-10M1554 2083l-7-13M1343 1998l-9-11-10-10M1234 1947l-7-13-2 0M2426 2473l-10-41M2047 2299l-8-33M2000 2285l-10-18-9-14M1896 2219l-2-4M1861 2214l-6-16M1732 2138l-3-12M1557 2071l-2-6M1478 2023l-1-2M1351 1995l-10-14-9 0M1316 1957l-4-16M2453 2471l-9-7-10-4-10-2M2050 2294l-3-6M2008 2283l-3 1M1795 2175l-10-12M1751 2146l-4-14M1340 1980l-10-31M2461 2466l-9 0-10-9-10 2M2179 2340l-8-52M2055 2287l-10-29M1880 2215l-9 0M1348 1964l-10-75M2363 2417l-10-6M2341 2402l-7-19M2218 2348l-10-8M2179 2336l-1-4M2094 2274l-2-11M2021 2257l-7-20M1850 2202l-10-20M1559 2065l-10 0-9-24M1365 1977l-9-64M2435 2453l-6-14-10-16M2218 2341l-2-7M2071 2280l-10-18M2033 2256l-1-5M1589 2050l-3-14M2447 2443l-10 0-10-10-9-54M2243 2354l-6 12M2220 2339l-6-27M1875 2190l-10-22M1846 2182l-5 3M1561 2038l-5-8M1507 2037l-3 5M1483 2016l-5-10M1452 1955l-3-16M1391 1978l-10-69M2493 2465l-9 8M2445 2442l-10-58M2354 2390l-6-29M2256 2349l-5-13M2240 2346l-6 17M2116 2254l0-4M2025 2241l-6-12M1886 2183l-3-7M1851 2174l-7-5-9-19M1522 2035l-7-13-10 13M1461 1959l-4-27M1394 1965l-5-15M2501 2457l-9 4M2452 2435l-9-45M2236 2352l-6-5M2225 2334l-5-14M1852 2161l-9-31M1602 2052l-1-3-10-11M1484 2013l-9-15-10-26M2238 2348l-10-31M2075 2249l-2-8M1989 2212l-3-10M1604 2045l-5-9M1528 2018l-7 6-3 2M1486 1995l-3-2M1397 1958l-2-4-9-48M2459 2434l-10-20M2383 2369l-1-11M2246 2335l-10-59M1650 2065l-5-7-1-1M2515 2452l-6-8M2500 2426l-4-9M2459 2429l-2-1-9-43M2254 2330l-10-67M1866 2162l-9-72M1659 2052l-6-24M1486 1992l-7-14-10 5M2533 2463l-10-17-9-38M2459 2426l-3-4M2262 2335l-10-43M2152 2268l-6-13M2016 2215l-6-15M1894 2174l-10-13-10-36M1562 2019l-7-18M1524 2000l-8 20M2272 2317l-2-4M2069 2212l-3-12M1770 2082l-4-13M1597 2000l-5-24M2539 2443l-4 10M2302 2317l-5-22M2086 2214l-2-9M1680 2043l-3-9M1606 2026l-2-2M1571 2015l-10-5M1513 1993l-10-14-10 1-3 5M1429 1931l-4-14M2531 2426l-3-4M2457 2391l-7-29M2331 2338l-7-29M2145 2255l-5-18M2102 2191l0-5M1760 2076l-7-25M1569 2016l-10-19-9-6-10-13M1527 1990l-6 8M1492 1970l-10-17M1472 1955l-10 0M1404 1925l-9-12M2211 2243l-5-27M1607 2008l-1-2-10-11M1575 2006l-8-12-5 3M1553 1992l-5-8M1494 1966l-4-2M1478 1953l-8-12M2573 2449l-10-5-10-3M2526 2424l-2-1M2410 2324l-2-11M2174 2256l-8-37M1717 2034l-6-49M1616 1978l-2-9M1578 1987l-3-2M1478 1943l-9-43M2523 2422l-10-35M2419 2340l-3-9M2182 2257l-8-33M1774 2064l-7-23M1651 2015l-10-21M2540 2407l-9-13M2468 2382l-5-18M1562 1983l-10 3-1 1M1397 1910l-9-20M2587 2437l-10 2M2480 2375l-9-32M2267 2292l-9 11M1923 2126l-4-8M1657 2012l-9-9M1493 1950l-10-23M1415 1902l-10-11M2605 2434l-10 4M2483 2371l-4-21M2322 2312l-8-25M2266 2285l-10-2-6-3M1636 1997l-1 1M1568 1962l-9-3-10 23M1530 1960l-10-21-10-5M1501 1931l-10-30M1413 1892l-9-6M1394 1888l-10-17M2613 2431l-10-4M2556 2378l-2-5M2264 2281l-10-3M2178 2214l-1-4M1772 2006l-2-12M1600 1981l-4 5M1582 1967l-6-16M1528 1951l-10-33M1427 1914l-2 1M2620 2424l-9-19M2582 2424l-10-9M2568 2396l-6-31M2378 2323l-9-12M2355 2301l-6-39M2320 2302l-9-41M2252 2271l-9-30M2206 2192l-2-11M2136 2211l-1-2M1642 1994l-9-14-10-29M1594 1962l-10 4M1582 1960l-7-23M1420 1890l-10-36M2580 2418l-10-23M2519 2372l-7-20M2493 2360l-10-1M2270 2274l-10-6-9-18M2154 2221l-10-49M1964 2102l-4-20M1921 2115l-9-20M1644 1991l-3-3-10-34M1592 1957l-10-17M1544 1944l-10-18M1429 1907l-1 1M2636 2429l-9-18M2535 2375l-5-16M2162 2210l-10-21M2059 2140l-4-15M1788 2019l-4-21M1747 2009l-2-7M1649 1989l-10-17-10-35M1561 1941l-9-26M1426 1891l-10-37M2543 2369l-5-24M2422 2317l-10-51M2383 2309l-10-38M2288 2243l-2-7M2276 2262l-9-9-10-40M2247 2237l-2 5M2000 2140l-5-7M1995 2128l-9-72M1652 1985l-5-2-10-17M1575 1937l-6-13M2628 2405l-5 0M2585 2388l-10 19M2442 2330l-3 4-9 3M2383 2303l-2-2M1645 1981l-10-24M1594 1949l-7-14-10 0M1552 1914l-4-6M2573 2377l-10-16M2355 2270l-5-9M2293 2234l-1-3M2166 2206l-9-21-4 2M2014 2109l-3-10M1643 1972l-9-35M1597 1941l-2-4-10-9M1473 1882l-4-6M2668 2410l-9 1-10-14M2450 2307l-5-8M2357 2271l-8-46M2314 2244l-4-22M2155 2188l-10-20M2016 2107l-6-42M1601 1933l-8-19M1584 1928l-10 6M1559 1916l-5-9M2676 2410l-10 13-9 5M2593 2370l-4-3-10-42M2468 2315l-5-9M2432 2302l-8-45M2360 2265l-3-12M2322 2248l-4-9M2192 2190l-10-24M2023 2109l-5-23M1665 1963l-6-6-9-1-7 9M1572 1918l-10-2-9-17M2684 2417l-10 1-9 14M2618 2369l-2-8M2469 2315l-8-30M2374 2266l-9-21M2229 2206l-10-19M2165 2190l-4-3M1896 2049l-6-30M1754 1999l-9-21M1599 1923l-9-29M1498 1855l-5-25M2377 2246l-5-19M2321 2246l-4-8M1910 2047l-2-4M1788 2001l-6-23M1751 1992l-8-29M1650 1949l-4-5-10-12-2 4M1566 1907l-7-11-10-48M2690 2403l-9-4-10-2-10-8M2623 2367l-5-2M2328 2225l-6-14M2303 2233l-10-27M2176 2160l-9-36M1567 1904l-10-50M2686 2400l-7-18M2476 2306l-10-6M1832 1996l-5-29M1720 1958l-3 3M2691 2401l-4-5-10-37M2612 2351l-3 0M2607 2343l-7-29M2477 2293l-3-3-10-8M2305 2229l-6-4M2292 2204l-2-7M2194 2110l-1-5M2019 2086l-2-4M1757 1978l-10-18M1677 1924l-7-40M2724 2406l-10-43M2483 2277l-1-2M2204 2110l-3-28M2024 2080l-7-19M1763 1965l-8-20M1719 1959l-2-2M2688 2394l-5 0M2468 2284l-7-17M2449 2273l-8-15M2315 2217l-9 2-10-5M2294 2207l-8-36M1962 2038l-5-15M1765 1961l-2-3M1725 1958l-10-7-10-21M1632 1900l-4-13M2614 2344l-6-1M2469 2272l-10-17M2304 2195l-10-15M2017 2062l-4-15M1862 1989l-4-13M1727 1947l-4-7-10-23M1580 1880l-2-3-10 15M2473 2280l-6-11-10-19M2428 2259l-10-33M2308 2188l-6-8M2131 2107l-3-7M2019 2064l-7-30M1731 1941l-10-43M1679 1919l-3-3M1595 1873l-9-3-2 2M1576 1879l-10 5M2610 2333l-9-42M2176 2066l-1-16M2028 2071l-8-46M1827 1961l-1-1M1687 1906l-6-31M1633 1888l-1-3M1613 1894l-10-15M1574 1872l-10 3M2764 2396l-9-32M2625 2323l-7-35M2034 2052l-6-26M1941 1988l-1-4M1859 1965l-6-44M1621 1886l-10-18-10 5M1596 1870l-4-2-10-23M2772 2402l-10-36M2638 2319l-2-7M2445 2208l-3-17M2130 2094l-7-18M1757 1930l-2-4-10-3M1740 1925l-5 1-2 1M1687 1895l-10-37M1638 1881l-9-9-10-9M2780 2379l-10-16M2760 2377l-10 3-9-16-10-1M2489 2257l-10-25M2347 2146l-3-20M2135 2091l-4-11M2107 2064l-5-21M1961 2013l-5-12M1648 1857l-2-8M2739 2366l-5-2M2674 2320l-3-8M2493 2245l-6-4M2384 2177l-3-13M2058 2028l-7-75M1732 1905l-10-34M2742 2373l-5 1M2684 2319l-5-22M2488 2242l-2-6-10-13M2137 2090l-10-20M1875 1963l-9-44M1610 1855l-6-20M2794 2383l-10 17M2691 2316l-4-6M2500 2240l-7-36M2472 2230l-8-37M2417 2153l-1-7M2142 2090l-7-10M1882 1965l-8-37M1785 1927l-8-38M2811 2381l-9 4-10-1M2763 2367l-10-30M2511 2241l-10-24M2478 2210l-6-20M2143 2087l-10-61M1989 1990l-1-3M1750 1904l-4-8-10-21M1702 1872l-4-9M1638 1849l-8-44M2771 2359l-10-23M2715 2320l-2-3M2336 2121l-1-3M2274 2114l-7-56M2002 2001l-6-13M1800 1912l-7-13M1763 1907l-9-46M1719 1865l-4-17M2723 2311l-2-7M2688 2310l-6-21M2517 2227l-9-15M2365 2143l-3-9M2283 2112l-8-71M2154 2047l-5-31M1823 1906l-3-10M2792 2340l-5-26M2725 2310l-6-22M2596 2251l-3-10M2459 2198l-1-3M2448 2191l-3 1M2388 2163l-8-44M2161 2026l-4-37M2064 1999l-4-13M2016 2008l-4-10-10-58M1972 1986l-8-34M1774 1893l-4-9M2833 2365l-9-3-10 9M2480 2201l-5-3M2167 2004l-2-14M2020 2009l-3-3M1778 1894l-10-29M2851 2377l-10-1M2839 2381l-7 12M2733 2307l-8-21M2638 2279l-10-50M2289 2113l-9-43M1979 1970l-9-5-2 0M1959 1956l-9-53M1830 1884l-5-26M1733 1863l-5-21M2737 2308l-4-11M2641 2275l-5-4M2600 2234l-2-5M2194 2036l-3-25M1976 1969l-8-39M1794 1890l-10-5-10-3M1658 1831l-10-12-9 9M2491 2182l-2-5M2427 2134l-5-46M2270 2017l-3-42M1982 1961l-6-21M1798 1878l-6-14M1753 1857l-9-22M2875 2360l-8-15M2768 2306l-9 2-10 0-10-15-9-23M2584 2243l-9-3M2567 2232l-2-3M2495 2182l-7-42M2142 1996l-3-18M2093 1997l-2-9M2030 1966l-7-35M1732 1846l-2 0M2883 2371l-10 6M2655 2248l-5-15M2597 2212l-5-19M2505 2185l-9-28M2440 2103l-3-15M2100 1996l-2-6M1937 1907l-3-14M1779 1866l-10-42M1714 1837l-3-3-10-14M2891 2355l-10 3-9-8-4-4M2837 2317l-4-11M2777 2288l-2-7M2677 2260l-9-32M2603 2205l-3-14M2581 2218l-10-3-6 8M2523 2198l-10-27M2402 2121l-5-19M1797 1865l-2 1M1789 1871l-2 2-10-17M1775 1845l-8-37M1731 1830l-2-1M2899 2348l-10 2-10-1-9-10M2842 2299l-1-4M2709 2266l-4-11M2585 2203l-6-17M2570 2211l-6 8M2535 2192l-4-2-10-39M1999 1945l-1-2M1901 1901l-9-22M1730 1828l-3-2M1712 1818l-4-7M2907 2359l-10-2-10 16M2697 2248l-3-7M2572 2202l-4-2-10-21M2537 2186l-8-64M2443 2087l-1-8M2212 2002l-3-14M2037 1943l-2-3M1906 1896l-6-37M1731 1829l-6-20M2905 2349l-10-5-9 2-10-5-10-5M2810 2287l-2-8M2576 2196l-10 0M2544 2172l-7-43M1912 1890l-4-16M1737 1811l-4-14M2913 2352l-10-16-9 0-10 4M2879 2340l-5 0-9-12M2821 2285l-5-29M2624 2198l-2-6M2568 2196l-4-6-4-9M2103 1965l-4-10M1939 1895l-4-6M1783 1801l-3-23M2931 2360l-10-12-10-9-9-12-10-7M2740 2262l-3-1M2735 2265l-4 6M2592 2189l-10-14M1948 1900l-5-10M1818 1813l-1-4M2939 2345l-10-21M2919 2331l-9-11M2826 2283l-2-7M2726 2253l-3 1M2412 2086l-6-35M2947 2341l-10-31M2912 2322l-4-12M2743 2264l-10-7M2714 2242l-10 5-9 1M1988 1906l-3 0M1937 1889l-7-33M2954 2346l-9-26M2862 2311l-4-3M2838 2281l-9-20M2732 2247l-10 1M2703 2220l-10-22M2638 2181l-3-13M2545 2144l-7-51M2025 1923l-10-10-3 5M1802 1822l-10-10-6-7M1734 1789l-9-26M2873 2307l-7-13-10-6-10-31M2776 2259l-7-30M2730 2247l-10-43M1973 1897l-8-35M1794 1813l-3-6-6-10M2738 2241l-10-29M2365 2045l-5-31M2012 1905l-10-57M1980 1889l-7-14M1877 1840l-1-2-10-18M1843 1827l-6-18M2969 2340l-10-11M2933 2312l-3-1-10-4-9 6M2860 2268l-8-31M2746 2230l-10 9M2552 2136l-9-18M2138 1941l-2-3M2029 1908l-9-45M1855 1832l-10-12M1787 1795l-4-3M2977 2335l-2-3M2919 2308l-10-38M2735 2228l-10-34M2687 2168l-1-2M2565 2134l-5-21M2417 2033l-2-14M1886 1823l-4-9M1816 1808l-2-3-9-28M2994 2338l-9-11-10-17M2864 2272l-5-13M2738 2205l-5-8M2575 2142l-7-25M1832 1807l-10-46M2993 2330l-10-24M2871 2262l-4-5M2707 2173l-5-18M2580 2134l-4-8M2376 2026l-3-18M2131 1931l-5-8M2123 1917l-2-3M2039 1885l-5-13M1864 1823l-5 2-9-15-10-36M1805 1775l-4-6M2991 2310l-10-12M2875 2259l-10-7M2589 2128l-5-9M2372 2006l-1-6M1867 1821l-9-31M3018 2336l-10-3M2960 2297l-10-53M2578 2122l-5-14M2384 2012l-5-26M2132 1909l-5-19M1985 1854l-3-6M1882 1807l-7-23M1790 1778l-2 0M3026 2331l-10-13-9-1-10-23M2923 2270l-3-6M2801 2204l-7-43M2669 2145l-1-4M2407 1994l-1-3M2006 1853l-7-34M1858 1789l-4-9M1817 1754l-2-3M2718 2172l-4-6M2664 2140l-8-31M2589 2123l-10-30M2012 1853l-5-6M3032 2312l-9-35M2911 2255l-5-5-3 0M2842 2199l-3-19M2587 2108l-10-27M1857 1786l-6-31M2864 2232l-8-41M2707 2149l-6-37M1975 1826l-2 4M3048 2313l-9 7M2910 2241l-7-33M2673 2113l-3-11M1987 1820l-4-11M1973 1820l-2 4M1897 1777l-1-2M3056 2311l-10 2-9 6M2988 2289l-9-7-10-4-10-22-4 7M2917 2231l-6-26M2873 2203l-1-2M2010 1835l-3 3M1995 1822l-4-17M1898 1773l-4-16M1865 1777l-4-3M3074 2309l-10 4M3056 2329l-2 5M3045 2299l-10-20M3006 2279l-10-16M2730 2133l-5-26M2611 2085l-2-6M2513 2011l-1-7M2006 1837l-5-14M1907 1776l-5-17M1878 1759l-5-12M3030 2287l-6-13-10 7M2956 2255l-10-33M2660 2079l-4-26M2448 2005l-5-35M2010 1834l-3-1M1894 1757l-3-11M3090 2314l-10 5M3061 2290l-10-23M2932 2224l-7-45M2665 2072l-1-8M2625 2101l-10-61M2413 1956l-1-8M2053 1837l-3 2M1904 1756l-6-21M3098 2316l-10-19-10-5-9-6-10-11M2948 2225l-5-31M2811 2160l-4-10M2639 2091l-6-3-10-42M2172 1846l-4-40M1910 1752l-4-11M3018 2269l-9 13M2989 2262l-9-26M2970 2252l-10-7-9-49M2778 2126l-2-5M2710 2099l-1-9M2199 1866l-4-21M2011 1811l-9 13M1982 1810l-10 2M3075 2286l-2 3M3036 2268l-10-29M2968 2234l-9-7M2767 2125l-2-9M2640 2076l-1-5M2077 1845l-9-19-10-9M2012 1809l-3-1-9 1-10-17-10 5-9 9M3121 2309l-9 12M2967 2224l-10-17M2015 1806l-7-10-10-2M1969 1791l-10-2M3129 2301l-9-34M3038 2261l-5-5-10-45M2827 2162l-7-24M2807 2149l-7-33M2728 2103l-5-25M2465 1965l-4-19M1996 1781l-6 11M1958 1781l-10-57M3079 2279l-9 5M3050 2246l-9 2-10-2M2836 2152l-9-38M2683 2068l-1-3M2502 1981l-4-21M2180 1831l-1-5M2053 1809l-10-13-5 12M2014 1800l-10-24M1993 1779l-6 14M3145 2282l-9 11-5 3M3078 2268l-10 5M3000 2180l0-2M2843 2139l-8-37M2764 2095l-6-40M2700 2102l-10-61M2522 2001l-6-19M2190 1833l-3-18M2003 1773l-10-15M1983 1768l-9 13M1924 1748l-9-27M3130 2262l-6-29M3092 2251l-6-23M3047 2248l-10-48M2720 2083l-3-5M2049 1788l-9-11M2011 1788l-10-32M3055 2233l-10-66M2890 2163l-10-6-9-13M2215 1845l-3-10M2018 1781l-9-8M1970 1760l-10-34M3169 2297l-9-14-10-33M3068 2230l-5-8M2150 1823l-7-14M2033 1778l-7-17M3167 2276l-9-8M3101 2215l-1-6M2949 2155l-4-15M2858 2133l-5 9M2811 2107l-2-8M2737 2066l-5-25M1993 1756l-7-11M2855 2137l-9-54M2823 2102l-6-33M2781 2106l-3 1M2778 2102l-9-57M2736 2060l-6-29M2547 1934l-1-9M2033 1757l-10-5-10 12-4 8M1984 1747l-9-17-4 2M3012 2178l-3-8M2862 2114l-8-58M2789 2075l-3-6M2740 2045l-2-9M2012 1758l-10 3M3201 2271l-10 14-9-23-3 1M3153 2246l-10-7M3133 2240l-1-3M2868 2089l-6-57M3199 2283l-3 0M3140 2240l-9-47M2948 2145l-1-2M2876 2088l-6-65M2818 2069l-6-49M2027 1740l-9-13M2008 1731l-10 0M3217 2266l-10-17M2961 2151l-6-14M2826 2086l-6-42M2055 1758l-10-8-10-24M2016 1727l-10-36M3212 2256l-6-14M3186 2252l-10-36M3163 2246l-6-12-10-41M2833 2088l-5-8M3165 2233l-10-11M2260 1786l-5-45M2042 1738l-10-33M3216 2260l-4-1M3188 2249l-3-4M3159 2225l-5-24M2936 2110l-5-39M2837 2070l-3-6M2146 1778l-5-3M2050 1745l-10-29M3249 2270l-10-4-10-45M3171 2223l-9-78M3115 2170l-2-6M2949 2134l-10-69M2398 1868l-2-6M2152 1783l-7-9-6-4M3257 2257l-10-1-10-58M3179 2221l-9-75M2965 2137l-9-29M2833 2062l-2-3M2157 1767l-4-10M2056 1716l-10-1M3265 2267l-10-7-10-28M3197 2230l-10-50M2980 2120l-6-31M2175 1772l-5-11-9-1M2059 1714l-5-5M3263 2260l-3 0M2959 2103l-6-30M2830 2055l-3-6-10-31M2185 1765l-7-14M2169 1755l-10-3-10 0-2 5M2058 1713l-6-18M2769 1987l-2-11M2428 1870l-9-61M2185 1764l-9-37M2138 1750l-4-5M2058 1702l-7-19M3262 2266l-3 8M3250 2235l-10-37M3061 2116l-5-41M2191 1746l-7-38M3287 2258l-10-14M2974 2090l-7-36M2147 1727l-3-6M2097 1710l-1-3-5-2M2073 1698l-7-15M3281 2228l-6-18M3218 2180l-1-5M3101 2154l-8-21M2986 2088l-1-6M2365 1821l-10-9M2123 1719l-2-3M3102 2144l-3-4M3009 2106l-7-35M2956 2068l-2-8M2136 1701l-5-14M3105 2142l-7-32M3020 2107l-10-48M2151 1706l-3-8M3024 2103l-6-12M2985 2062l-5-33M2421 1809l-3-19M3266 2208l-7-33M3026 2096l-9-16M3315 2226l-10-60M3127 2121l-6-34M2741 1936l-7-77M3352 2248l-10-26M3333 2229l-10-12-10-41M3265 2191l-2 2M3036 2058l-3-19M2820 1965l-1-3M2918 1998l-5-44M2838 1974l-3-12M3328 2209l-10-9M2922 1984l-1-4M2811 1950l-6-52M3384 2226l-10 1-9-7M3252 2162l-4-10M3123 2086l-1-4M2854 1962l-3-9M2208 1694l-6-12M3369 2204l-6-26M3273 2170l-7-12M3241 2153l-4-11M2978 2018l-3-7M2818 1962l-7-44M2670 1858l-4-44M2223 1678l-3-10M3400 2231l-10-7-10-10-9-36M3196 2136l-9-21M2962 2024l-8-21M2832 1959l-4-5M2762 1902l-1-5M2197 1669l-8-25M3229 2127l-5-21M3195 2126l-10-61M2966 2010l-4-13M2827 1954l-4 5M2742 1894l-2-12M3387 2203l-10-6M3369 2172l-2-6M3344 2191l-6-1-9-24M3261 2142l-10-21M3201 2115l-8-69M2952 1987l-1-6M2896 1956l-3-13M2823 1958l-8-22M2341 1730l-10-37M2234 1689l-4-7M2226 1675l-1-3M3206 2101l-5-24M2829 1947l-6-24M2492 1782l-8-45M2237 1679l-5-7M3432 2213l-10-3-10 8-9 11M3383 2200l-6-8M3238 2122l-10-36M2983 2003l-7-9M2967 2005l-10-19M2834 1933l-3-6M3132 2054l-2-7M2975 2000l-10-40M2811 1909l-1-4M2501 1760l-1-4M3380 2193l-8-13M3369 2171l-9-44M2813 1909l-5-31M3456 2219l-10-16M3443 2208l-7 11M3397 2177l-9-7M3378 2175l-10-12M3272 2085l-1-3M3111 2025l-4-18M3015 1993l-5-24M2349 1714l-7-21M3118 2041l-3-10M3024 1995l-6-23M2839 1915l-5-26M3442 2192l-9-49M3384 2171l-9-15-10-21M3137 2041l-5-16M2329 1689l-10-13M3164 2041l-4-18M3030 1999l-6-17M2601 1761l-3-22M2337 1689l-10-13M3458 2183l-9-21M2338 1687l-3-3-10-24M3495 2208l-9 1M3476 2194l-10-21M3333 2121l-2-1-5-4M3190 2030l-5-32M2343 1686l-10-25M3503 2208l-9-8-10-10-10 0M3029 1977l-10-36M2354 1672l-3-8M3511 2194l-10-18M3370 2114l-4-24M3327 2108l-10-27M3039 1955l-2-10M2363 1677l-4-8M2344 1672l-5-2-2-1M2318 1639l-8-115M3379 2123l-5-12M3201 2014l-1-8M3161 1976l0-5M3039 1952l-4-16M2365 1670l-8-28M3450 2152l-10-26M3397 2114l-6-16M3339 2100l-6-20M2369 1662l-4-19M2339 1647l-3-10M3461 2144l-3-15M3410 2137l-1-2-10-32M3053 1957l-2-4M3179 1997l-4-18M2994 1912l-3-17M2391 1673l-10-19M2350 1631l-8-111M3425 2127l-10-26M3216 2009l-4-20M3007 1937l-8-72M2403 1647l-5-24M2357 1635l-7-48M3465 2135l-3-2M3432 2133l-9-34M3240 2025l-1-2M3066 1925l-1-5M2367 1648l-9-109M3538 2175l-5 7M3377 2082l-4-7M3322 2052l-7-43M3066 1923l-3-18M2591 1710l-2-10M2476 1671l-4-11M2379 1654l-3-6-10-182M3575 2188l-10 9M3555 2176l-9 12M3482 2133l-4-8M3446 2119l-7-40M3362 2074l-10-10M3243 2024l-7-53M3476 2126l-9-4-10-14M3402 2072l-3-12M3259 2014l-6-20M3073 1921l-4-25M2394 1619l-2-10M3591 2169l-10-9M3325 2045l-5-18M3268 2009l-7-35M3081 1917l-4-23M3026 1895l-7-72M2483 1663l-6-33M2406 1642l-7-18M3599 2175l-10-11-10-43M3456 2098l-3-5M3127 1937l-3-15M3584 2142l-6-50M3490 2112l-9-27M3366 2053l-2-3M3326 2043l-10-35M2913 1802l-4-28M2840 1808l-8-49M3548 2096l-1-5M3493 2107l-4-9M2921 1830l-4-20M2844 1796l-4-27M2619 1685l-2-12M3623 2177l-10-4-10-22-10-4M3141 1908l-3-15M2639 1707l-4-24M2501 1640l-2-10M3630 2166l-9-20M3302 1987l-1-2M3606 2146l-6-16M3471 2074l-7-23M3318 2006l-9-48M3646 2152l-9 20M3491 2083l-9-19M3386 2000l-1-8M3333 2000l-6-31M3609 2139l-3-3M3462 2048l-1-6M2982 1848l-6-16M2543 1631l-2-8M3633 2150l-9-42M3268 1957l-3-7M2987 1824l-3-12M2508 1634l-8-36M3593 2116l-10-12M3263 1958l-9-47M2993 1808l-1-5M2549 1632l-2-5M3678 2144l-10-10M3659 2139l-10-7M3500 2051l-6-25M3281 1965l-10-35M3686 2153l-10-9-9 3-10-2M3289 1969l-10-8M2565 1628l-2-8M3677 2145l-2 1-10 5M3287 1966l-9-59M2983 1811l-6-29M3677 2146l-4 10M3437 2000l-6-39M3302 1957l-7-36M2735 1684l-1-4M3684 2151l-3 5M3615 2069l-2-9M3699 2141l-10 12M3640 2110l-9-19M2929 1776l-5-11M3707 2136l-10 13M3059 1773l-1-10M3651 2081l-4-16M3385 1975l-9-7M3325 1938l-8-37M3696 2116l-3-3-9-9M3682 2109l-8 14M3307 1896l-1-8M3242 1890l-4-14M2618 1631l-9-15M3721 2110l-10 0M3706 2105l-5-5M3682 2108l-10-10-9-41M3540 1997l-3-24M3445 1993l-5-4-3 1M3391 1978l-9-24M3218 1871l-1-3M2909 1739l-2-3M2607 1627l-10-8-9-4M3738 2113l-9 14-10-14M3547 2006l-2-15M3027 1786l-5-29M2628 1621l-3-10M3766 2125l-10 12M3446 1996l-10-30M3401 1952l-3-4M3282 1874l-1-4M2673 1621l-2-4M3774 2131l-10 2M3749 2137l-4 8M3448 1980l-4-8-9-33M3371 1915l-4-28M2581 1593l-8-29M3782 2121l-10-17M3568 2025l-9-10M3466 1964l-4-19M3227 1866l-7-11M2921 1686l-1-8M2891 1724l-10-55M2660 1590l-2-11M2585 1585l-4-5-2-3M3790 2127l-10-13M3765 2116l-5-5-2-3M3479 1982l-9-66M3400 1949l-8-46M2998 1747l-3-8M2950 1711l-3-18M2899 1717l-10-55M2767 1654l-4-5M3768 2109l-9-1M3226 1862l-10-14M3122 1814l-2-6-2 1M3004 1746l-1-2M2737 1653l-5-6M2586 1578l-9-41M3796 2110l-10-17M3776 2101l-9 7M3557 2015l-3-3-10-25M3406 1929l-7-55M3329 1894l-8-26M3309 1893l-7-19M3224 1852l-9-21M2743 1639l-3-4M3813 2108l-9-41M3779 2098l-4 0M3771 2102l-6 7M3729 2051l-3-12M3552 2000l-10-44M3414 1925l-7-31M3230 1842l-7-38M3773 2092l-10 9M3573 2007l-3-2-10-14-10 4M3124 1800l-10-14M2993 1746l-5 1M2746 1626l-9 7-6 3M3785 2085l-4-11M3651 2023l-6-18M3577 1991l-9-1M3111 1791l-2 4M2953 1703l-5-28M2895 1676l-5-20M2767 1624l-3-8M3789 2085l-10-37M3094 1727l-2-17M3024 1756l-10-20-10-19M2993 1738l-3 8M2960 1696l-4-27M2777 1611l-5-25M2743 1628l-10-11-2-1M3845 2119l-10 7M3564 1993l-9-30M3419 1922l-10-34M3033 1726l-1-2M2993 1720l-10-5-2-1M2790 1643l-10-39M3853 2116l-10 16M3799 2062l-4-15M3427 1910l-10-55M3015 1714l-4-10M2853 1661l-7-26M3435 1907l-10-40M3128 1762l-3-5M2983 1712l-3-7M2790 1628l-4-5-10-29M3803 2054l-2-3M3627 2001l-10-4M3580 1969l-2-2-9-12M3446 1891l-3-8M3250 1786l-1-2M3131 1761l-8-50M2922 1655l-2-3M3810 2044l-1-2M3762 2037l-1-4M3658 2002l-4-4-6 9M3635 1995l-10-11-7 8M3557 1960l-9 0M3139 1749l-8-65M2997 1697l-1-3M3827 2074l-10-24M3773 2035l-4-16M3653 1987l-10 4M3581 1961l-6-10-10-30M3546 1943l-5 5M3142 1730l-3-12M2919 1650l-3-10M2816 1608l-6-10M2668 1545l-3 1M3825 2055l-10-9M3641 1976l-4 11M3622 1965l-10-41M3544 1947l-4 0M3215 1790l-2 3M2867 1624l-1-2M2815 1607l-7-22M3797 2043l-3-6-9-24M3670 1971l-2-3M3639 1986l-9-23-10-19M3543 1926l-10-9M3069 1679l-1-4M2886 1626l-2-6M2850 1626l-5-6-9-9-10 5-10-15-10-31M3801 2034l-8-19M3670 1970l-3-9M3642 1970l-4-3M3531 1915l-10-20M2888 1618l-6-19M2859 1616l-6-23M2822 1611l-8-16M3907 2077l-10-39M3647 1957l-1-2M3554 1923l-5-12M3192 1737l-2-7M2925 1648l-6-7M2906 1636l-6-14M2822 1602l-9-14M3851 2049l-4-9M3649 1955l-5-5M3583 1926l-7-19M3200 1750l-2-4M3162 1737l-2-8M3011 1681l-6-14-10-24M2927 1640l-10-9-9-32M2865 1604l-6-9M3923 2075l-7-7M3760 1991l-2-6M3590 1916l-6-23M3505 1882l-8-28M3255 1788l-4-4M3175 1735l-7-30M3019 1669l-6-19M2932 1636l-7-8-9-18M3633 1952l-2-2M3299 1776l-7-50M3182 1725l-6-31M3028 1665l-7-23M2937 1633l-4-7M2817 1586l-6-5M3939 2086l-10-20-7 7M3629 1938l-6 9M3597 1906l-7-23M3507 1882l-4-7-1-3M3497 1855l-4-14M3224 1717l-2-10M3190 1729l-7-28M2910 1602l-7-27M2874 1595l-10-5-10-11M3957 2080l-10-36M3796 1994l-4-6M3763 1982l-4 3M3707 1943l-2-9M3666 1959l-10-36M3602 1902l-4-16M3509 1877l-8-23M3198 1740l-7-19M2852 1580l-4 8M3916 2061l-2-2M3674 1946l-10-6M3619 1931l-3 5M3306 1775l-10-30M3248 1767l-4-5M3062 1656l-8-34M2940 1631l-2 0M2928 1622l-9-28M3731 1957l-1-3M3401 1813l-10-16M3250 1749l-4-8-6-8M3068 1652l-6-22M2946 1623l-10 7M2832 1537l-2-9"/>
<path stroke="#4537d5" d="M2112 2543l7-21M2127 2548l8-2 8-29M2151 2527l8-8M2215 2522l8 11M2239 2512l8-58M2263 2503l8 33M2318 2499l8-7 8 15M2350 2487l8-35M2414 2463l8 3 8 36M2485 2443l8 22M2509 2439l8 6 8 30M2557 2433l8-1 8 17M2700 2397l8-39M2716 2385l8 21M2756 2363l8 33M2787 2359l8-12M2803 2355l8 26M2819 2359l8-28M2835 2350l8 44M2859 2349l8-4 8 15M2962 2321l8-5 8 33M3082 2296l8 18M3137 2272l8 10M3177 2266l8-17M3193 2249l8 22M3209 2261l8 5M3225 2250l8-9 8 38M3281 2237l7-8 8-19M3304 2226l8 48M3360 2222l8-10 8 2 8 12M3519 2179l8 0M3528 2175l7-27M3638 2148l8 4M3694 2135l8-18 8-16M3758 2108l8 17M3829 2083l8 44M2110 2546l8 6M2158 2524l7 24M2205 2518l8-10 8-3 8-33M2301 2491l8-14 8 5M2340 2472l8-75M2380 2466l8-71M2460 2437l8-16M2476 2451l8 22M2499 2427l8-2M2512 2442l3 10M2537 2439l2 4M2611 2405l8 1 8 5 8-20 8-19M2701 2400l5 16M2754 2359l8 7 8-3 8 0M2786 2367l8 16M2866 2346l7 31M2929 2324l8-14 8 10 8-16M2964 2321l5 19M3024 2300l8 12M3120 2267l8-6M3134 2288l2 5M3152 2268l8 15M3183 2253l8 32M3271 2224l8 4M3281 2237l6 21M3342 2222l8-27M3370 2214l4 13M3398 2192l8-17M3501 2176l8-38M3557 2163l8 34M3581 2160l8 4M3621 2146l8 6M3668 2134l8 10M3692 2120l8-6M3706 2112l2 0 8-11M3772 2104l8 10M3883 2075l8-11 8 8 8 5M3915 2068l8 7M3947 2044l8-20M2196 2515l7-46M2261 2486l6-21M2291 2492l8-9 8-5 8-7M2321 2498l2 11M2331 2468l8-65M2373 2453l5-26M2561 2412l8-11M2574 2424l3 15M2644 2388l5 9 8 31M2821 2355l3 7M2859 2351l5 31M2975 2310l8-4 8 4M3015 2285l8-8M3142 2261l8-11 8 18M3198 2246l8-4M3210 2263l3 14M3406 2197l6 21M3492 2167l8-56M3540 2152l7 6 8 18M3786 2093l8-21M3815 2106l3 16M3937 2049l8-14M2156 2517l1 2M2297 2473l8-7M2418 2437l6 21M2496 2417l8-49M2528 2422l8 1M2642 2403l5 27M2679 2382l8 14M2743 2348l7 32M2961 2308l4-2 8-7 8-1M2997 2294l8 7M3267 2227l8-17M3360 2187l3-9M3402 2224l1 5M3434 2181l8 11M3470 2182l4 8M3482 2168l8-41M3528 2181l2 7M3559 2115l3-20M3713 2106l8 4M2073 2524l8 22M2113 2520l4 5M2228 2468l4-9M2288 2480l7-12M2480 2414l6-36M2616 2378l6-16M2733 2360l8 4M2892 2320l8-38M2908 2310l5 13M2948 2302l8-8M3051 2267l8 8M3258 2219l8-11M3337 2202l8-6 8-23M3373 2185l4 12M3418 2159l7-25M3441 2163l8-1 8 10M3472 2166l8-15M3486 2138l2-5M3603 2139l2 3M3624 2108l7-9M3854 2062l8-47M2095 2506l8-5M2151 2502l8-12M2326 2461l4-5M2371 2451l2 2M2779 2327l8-13M2882 2315l8-39M2938 2285l8-11M3239 2200l1-2M3351 2175l8-32M3409 2168l6-25M3471 2150l8-10 8-11M3701 2100l8-6 3-4M3781 2074l8 11M3852 2046l8-35M2077 2513l8-25M2181 2478l8-2 8-17M2233 2459l3-9M2362 2426l2-4M2411 2433l8-10 8 10M2531 2394l8-23M2546 2379l8-6M2650 2358l8-38M2753 2337l8-1 8-23M2833 2306l8-11M2873 2309l7-13M2928 2291l8-16 8-2M2957 2295l3 2M3461 2144l8-13M3723 2122l0 5M3771 2064l8-16M2099 2502l8-27M2258 2458l3 3M2302 2442l4-4 8 10 8 5M2370 2430l8-18M2410 2421l8-42M2449 2414l8 14M2513 2387l8-14M2542 2373l3-10M2736 2323l8-11M2752 2329l7-2M2818 2303l5-18M2907 2306l4 7M3086 2228l7-19M3207 2204l6-15M3388 2170l8-30M3761 2061l8-23M3801 2051l8-9 8 8 8 5M3833 2039l8 6M3845 2060l3 8M2018 2523l8-5 8 2M2090 2497l8-34M2145 2485l8-32M2379 2412l5-8M2463 2405l2-3M2747 2316l3-2M2790 2317l7-21M2805 2296l8-7M2909 2270l8-10M3086 2221l6-14M3139 2221l8-28M3249 2182l2-3 8-4M3275 2179l8-36M3312 2167l2 0M3458 2129l5 10M3526 2105l3-12M3744 2057l8-34M3815 2046l8-47M3847 2040l8-18 3-3M2198 2460l1 2M2215 2452l8-32M2291 2414l4-15M2366 2404l8-10M2454 2400l8-20M2483 2376l3-7M2737 2308l3-3M2782 2300l6-44M2883 2284l8-31M2925 2267l6-28M3082 2225l8-47M3100 2206l6-16M3154 2201l8-56M3233 2181l2-5M3238 2163l3-9M3329 2166l8-26M3440 2126l8-6M3583 2104l8-32M3631 2091l8-19 8-7M3655 2066l8-9M3718 2056l8-17M1999 2512l8 14M2396 2405l8-28M2555 2357l8 4 8-1 8-35M3294 2131l1-7M3313 2154l6-15M3478 2125l8 2M3605 2083l8-23M3709 2044l8-42M3827 1996l1-5M2000 2516l5 26M2077 2474l8 14M2177 2433l3-6M2244 2440l8 7M2318 2423l5 6M2391 2396l4-7M2446 2374l4-12M2530 2359l8-14 8 8M2555 2354l7-23M2713 2317l8-13 2 6M2808 2279l8-23M2920 2264l7-16 8-33M3007 2238l8-37M3063 2222l8-21M3130 2188l4-21M3365 2135l8-11M3484 2107l8 3M3595 2070l8-37M3786 2032l8 5M3810 2019l8-39M2011 2496l8-2 8 10M2051 2471l8-34M2142 2428l4-19M2172 2431l6-38M2445 2365l4-4M2507 2363l5-11 8-28M2544 2352l8-26M2671 2312l8-15M2706 2295l5-27M2799 2271l7-52M2824 2275l4 12M2846 2257l8 3M2997 2217l8-41M3193 2156l3-25M3513 2078l1-3M3586 2081l8-39M3761 2033l8-14 8-18M3785 2013l8 2 8 4 7-36M2033 2474l8-33M2375 2391l8-21M2438 2339l1-6M2455 2360l8 4 8-21M2479 2350l0 3M2503 2350l7-55M2539 2335l3-8M2725 2286l8 11M2735 2301l3 5M2824 2267l5-6 8-28M2980 2236l8-36M3134 2169l5-37M3226 2158l8-1M3266 2158l8-28M3457 2108l8-14M3481 2085l8 13 8-11 8-45M3568 2077l8-12 8-18M1960 2495l8-26M2016 2480l8-16 8 0M2275 2393l3-9M2334 2383l8-4M2389 2370l8-10M2449 2341l4-13M2636 2312l1 5M2652 2296l8-62M2716 2282l7-3M2859 2259l8-2 8 2M2945 2223l1-1M2949 2230l5 16M3019 2195l7-36M3111 2168l2-4M3240 2155l8-3 8 8M3328 2121l2 3M3359 2096l1-2M3399 2103l8 6 8-8 8-2 8-3 8-17M3748 2001l1-2M3789 2014l8-18M1950 2476l8-5 8-8M1974 2476l8 25M2011 2473l3 4M2120 2408l5-44M2280 2379l4-16M2340 2378l8-17M2385 2361l3-4 8-25M2682 2289l8-35M2725 2278l5-8 8 9M2769 2266l8-7M2865 2252l8-12 4 9M2984 2204l8-34M3223 2149l8 0M3348 2103l2-8M3374 2111l8-31M3398 2104l8-7 8-22M3453 2093l8-27M3743 1988l5-26M2020 2447l8-18M2100 2429l8-44M2259 2396l8-24M2381 2354l5-23M2596 2299l5-8M2714 2272l6-24M2851 2229l4-4M3098 2161l4-13M3237 2142l8 1M3369 2096l3-9M3439 2076l5-21M2225 2406l8-4M2407 2318l1-5M2480 2332l8-47M2593 2288l6-27M2912 2210l5-10M2955 2207l2 0 8-28M3227 2130l8-4M3251 2121l8-29M3430 2059l4-24M3482 2064l8-9M3521 2061l8-43M3792 1988l8-42M1998 2452l3-4M2031 2434l2-3 8 3M2214 2382l2-4M2365 2316l2-8M2396 2300l2-14M2591 2282l6-35M2892 2214l7-2 8-51M3180 2138l6-17M3459 2061l5-10M3782 1990l8-53M1929 2464l6 19M1951 2446l8-18M1994 2439l5-6M2003 2437l4 4M2266 2340l3-23M2471 2318l5-13M2632 2286l3 5M2890 2203l8-34M2926 2177l4-15M3009 2170l8 0 8-52M3190 2133l2-2M3510 2054l8-13 8 1M3645 2005l8 5M3724 1949l1-5M3773 1979l7-50M2069 2422l8-31M2705 2255l5 7M2769 2229l8-10M2872 2201l8-35M2999 2165l8-30M3246 2115l8-23M3315 2085l2-4M3333 2080l8-32M3373 2075l8-8 8-25M3405 2057l8-7M3461 2042l8-2 8-7M2051 2413l8-29M2218 2380l8 2M2264 2339l2-11M2318 2337l4-7M3361 2075l2-3M3371 2078l8-28M3437 2036l6-14M3485 2024l6-23M3761 1968l8-44M1883 2452l8 2 7-16 8 11M2000 2432l2-1 8 1M2042 2409l8 1M2153 2384l8 1 8 4M2232 2361l8 13M2309 2318l3-12M2781 2226l8-22 8 9M2823 2203l6-42M2976 2149l4-28M3091 2129l8 11M3115 2137l8-29M3187 2115l8 11M3314 2073l8-20M3370 2052l8-29M1881 2441l8-11M1913 2438l8 8M1992 2424l8 2M2167 2377l8-14M2445 2299l8-30M2521 2278l4-12M2579 2260l2-2 8 11 2 5M2624 2239l4-10M2668 2228l8-38M2962 2156l8-36M3001 2128l1-7M3048 2119l2-10M3076 2100l6-42M3307 2066l5-15M3352 2064l8-10 3 0M3425 2032l7-22M1967 2425l8-11M2006 2410l8-26M2030 2400l8-8M2102 2378l8-8 8-23M2157 2375l8-18M2170 2360l3 2M2406 2295l6-29M2436 2292l8-12M2643 2235l7-2 8 3 8-37M2864 2146l1-6M3128 2112l3-3M3207 2096l8-12 4 0M3298 2044l5-17M3515 1998l2-4M3660 1967l8 1M1917 2431l8-9M1989 2413l8-33M2044 2387l8 0M2148 2362l8-14M2394 2295l8-56M2482 2275l2-1M2522 2273l7-36M2593 2241l8-6M2651 2232l6-19M2720 2204l8 8M2882 2169l5 8 8-9 8-6M2985 2122l6-34M3162 2085l4-13M3201 2077l4-4M3213 2083l8-12 4-8M3228 2057l1-3M3292 2028l1-7M3364 2050l4-3M3448 1994l4-31M1899 2430l8-22 8 12M1979 2389l8-4M2144 2350l2-1 8-16M2178 2352l8-23M2385 2303l8-38M2416 2292l8-35M2440 2280l8-4M2460 2280l4 2M2512 2254l8-27M3031 2120l6-23M3220 2069l8-26M3307 2039l8-30M3323 2042l1 5M3355 2040l8-43M3498 1989l8-19M3695 1932l2-5M1842 2438l8 30M1947 2409l6 17M2208 2340l8-6M2405 2243l2-16M2598 2229l8-27M2693 2198l8-8M2717 2188l8 6 8 3 8-11 1-3M2947 2143l8-6 8 5M3122 2082l2 2M3130 2097l3-2M3210 2077l8-29M3488 2003l8-40M3544 1987l8 13M1824 2421l8 47M1912 2407l1 3M1960 2391l8-21M2095 2365l8 6M2201 2322l5-9M2222 2329l8 18M2270 2313l8-57M2341 2299l8-37M2365 2294l8-23M2380 2298l1 3M2461 2267l8 5M2588 2235l8-18M2679 2199l4-8 8-22M2898 2152l8 0 8-15 4-3M3208 2061l8-50M3321 2032l5 13M3646 1955l2 1M1886 2410l8-5 8 9M1982 2383l8-10 8-12M2200 2317l4-14M2220 2320l8-3 8-41M2260 2305l8-14M2332 2287l8-80M2459 2255l8 14M2674 2195l8-26M2731 2176l6-38M3059 2077l4-10M3135 2070l8-38M3162 2055l5-17M3199 2065l7-67M3477 1986l8-15M3544 1959l4 2M3604 1944l8-20M3636 1950l8 0M1862 2395l7-32M1924 2397l8-10M1938 2394l2 3M1964 2371l8-36M2138 2313l1-5M2157 2311l6-18M2198 2305l5-14M2212 2296l7-16M2441 2258l8 3M2457 2250l8-15M2467 2241l6 16M2809 2154l4 7M2871 2144l8-34M3404 1987l7-23M3555 1963l8 7M3571 1961l7 6M1853 2382l6-36M1891 2385l8 0 8 26M1954 2375l8-10M1975 2340l3-16M2082 2334l8 17M2098 2330l8-25M2156 2306l5-29M2185 2313l8-25M2350 2265l2 2 6 8M2376 2260l8-51M2448 2249l7-44M2479 2232l8 9M2622 2192l5-3M2853 2143l8-10 8-27M2956 2108l8-11M3561 1959l8-4M3648 1935l8-12 8 17M1786 2408l8 41M1874 2371l7-37M2088 2340l8-39M2172 2295l3-6M2303 2266l8-5 8-5M2613 2192l8-26M2820 2138l7-24M2859 2130l8-39M2923 2100l8-29M3018 2091l8 5M3054 2061l4-14M3130 2047l8-7M3392 1992l8-38M3639 1923l8-26M1800 2409l8-3M1844 2375l4-9M1868 2360l3-14M2038 2336l5 9M2086 2321l8-46M2149 2278l1-3M2178 2287l4-17M2303 2264l6-32M2357 2253l8-8 7-18M2476 2223l8-32M2508 2212l8 2M2582 2190l5 9M2603 2196l8-27M2635 2168l8-64M2714 2166l4 6M2905 2102l8-48M2985 2082l8-20M3017 2080l8-22M3292 1993l3-6M3478 1957l4 16M1875 2341l3-17M1925 2367l8-30M2134 2284l6-33M2202 2268l2-4M2418 2226l8-56M2617 2167l8-34M2665 2168l8-36M2701 2145l4-2M2889 2102l7-31M3015 2066l8-42M3290 1990l3-5M3427 1959l1-3 8 10 8 6M3476 1958l8-10 8-22M3627 1917l8-22M1908 2366l8-45M2199 2268l3-4M2403 2218l6-28M2719 2132l8-10M2783 2131l7-33M3000 2069l5-10 8-27M3132 2025l8-46M3287 1987l4-18M3347 1968l8-14M1834 2361l5 17M1991 2301l3-14M2017 2312l8-6M2065 2312l8-32M2173 2267l3-10M2350 2228l1-2 8-9M2367 2218l8-9M2502 2198l8-6 8 16M2582 2175l8-46M2762 2121l3-5 8-25M2836 2101l8-50M3058 2022l1-2M3115 2031l8-15M3377 1971l8 4M3576 1907l8-14M1769 2385l8-22M1944 2342l8-23M1983 2284l1-4M2003 2312l5-14M2087 2286l4-2M2286 2236l8 5M2343 2211l7-53M2493 2183l8-3M2660 2152l8-11M2751 2112l4-9M2837 2090l6-43M2946 2071l8-11 3 3M2966 2031l4-35M3022 2023l4-20M3113 2021l8-27M3160 1977l1-6M3336 1971l8-56M3421 1925l2-5M3566 1908l8-29M3606 1900l8 7M1751 2385l8-41M1807 2363l8-42M2038 2311l8-9M2292 2231l1 2M2299 2246l1 2M2556 2164l7-32M2607 2130l3-15M2655 2135l3 4M2809 2099l8-30M2825 2087l8 4M2930 2053l6-44M3108 2010l3-6M3140 1977l3-23M3382 1954l8-10 8 4 3 1M3427 1913l2-8M3489 1893l4-15M3549 1911l8-33M1742 2372l8-32M1928 2301l5-18M2084 2279l8-16M2179 2263l8-22M2243 2241l8 9M2322 2211l8-9M2458 2195l7-1M2513 2171l8-20M2599 2122l2-10M3008 2024l6-29M3119 1997l7-56M3539 1894l8-42M1708 2370l8 11M1719 2384l5 5M1788 2360l8-35M2146 2255l8 4M2265 2237l8-35M2408 2179l8-33M2496 2157l7 7 8-53M2646 2111l1-4M2668 2114l2-12M2726 2103l8-2M2750 2108l8-53M3442 1909l8-26M3513 1901l8-6 8-10 8-45M1699 2376l8 35M1778 2341l8-28M2033 2281l8 28M2088 2269l8-59M2320 2187l7-37M2495 2153l7-55M2658 2103l3-10M2828 2080l8 3M3089 1916l1-18M3231 1929l2-14M3265 1950l8 0 8 15M3384 1921l8-18M3402 1931l3 5M3512 1891l8-5 8-42M1872 2313l8-5M2015 2276l8-20M2031 2265l8 1 8 22M2063 2275l8 5M2079 2257l7-43M2158 2245l8-26M2182 2245l8-15M2486 2135l6-37M2654 2101l5-21M2786 2069l8-72M2834 2064l8 0M3510 1894l8-34M1813 2286l1-5M1962 2285l3 0M2045 2258l8-28M2140 2237l8-12M2430 2157l5-24M2481 2119l1-6M2681 2092l8-4M2738 2079l7-54M2922 1997l6-55M2950 2016l2-2M2995 2000l4-15M3309 1942l8-41M3510 1877l6-16M1865 2302l3-11M1878 2303l3 6M2035 2252l8-7M2282 2192l8 5 8 18M2560 2113l8 4 8 9 8-7 8 4M2648 2103l8-50M2831 2059l8-32M2953 2017l3 5M3295 1914l5-17M3443 1883l8-21M1676 2340l8-8M1692 2344l8 22M1715 2331l8-29M1851 2309l3-2M2055 2237l2-3M2065 2239l8 2 5 5M2169 2209l8 1 2 5M2543 2118l7-39M2717 2078l8-43M3252 1909l6-45M3289 1893l1-4M3409 1888l8-33M3433 1875l8-12M3491 1869l6-15M1666 2334l8-23M1744 2304l2-10M1796 2303l5-31M1913 2283l8-14M2032 2251l8-7 8-7M2056 2237l8-23M2282 2176l4-5 8 9 8 0 8-17M2573 2108l8-1 8 16M2708 2064l8-49M2954 2003l8-6M2964 2003l1 3M3170 1928l7-77M3246 1901l3-16M3285 1882l3-22M3325 1905l3-10M1696 2322l8-9M1724 2302l4-22M1755 2296l5-11M1831 2284l8-14M2006 2257l8-20 8 6 8-5 8-2 8-6 8-12M2181 2205l8 2M2388 2146l5 8M2473 2087l2-20M2563 2096l8-11M2579 2093l8 15M2682 2065l8-24M2698 2067l8-5 8-57M2816 2023l1-5M2912 1959l1-5M3024 1982l8 1M3234 1912l5-19M3471 1862l6-16M3501 1854l8-44M1706 2310l4-26M1925 2272l8-13M1973 2252l8 1 8-3 8-24M2005 2231l7-2M2172 2195l7-18M2219 2187l8-38M2462 2073l4-34M2577 2081l8-17M2609 2079l8-4 8 26M2696 2059l8-64M2825 2031l7-29M2870 1993l1-5M2943 1983l8-2M3458 1842l2-5M1629 2335l8 2M1693 2322l8-30M1844 2276l8 5M1915 2258l8-67M1963 2251l8-36M2062 2214l4-14M2567 2090l8-39M2639 2071l5-8M2648 2052l7-21M2957 1986l8-26M3434 1865l8-12 8-41M3492 1827l6-17M1619 2325l8-12M1786 2285l8-13M2041 2219l8-82M2277 2126l2-11M2321 2143l6-35M2391 2117l8 4M2537 2083l5 5 8-2M2553 2083l5-7 8-14M2590 2070l7-39M3049 1955l2-2 8-21M3190 1872l4-36M3433 1844l7-44M3487 1811l1-4M1907 2229l5-40M2065 2190l6-64M2129 2180l6-14M2182 2166l8-25M2588 2056l8-79M2962 1971l8-53M3009 1950l8-39M3267 1861l5-39M3423 1844l8-41M1640 2301l8 15 8 20M1870 2239l8-4M2058 2159l3-26M2173 2168l8-15M2193 2139l3-24M2367 2081l4-42M2479 2055l4-25M2577 2050l1-2M2845 1966l4-23M2933 1951l3-6M3230 1899l8-23M3299 1876l3-2 8-41M3417 1837l4-18M1592 2315l6 21M1929 2186l3-32M2551 2043l2-4M2831 1990l2 0M2912 1951l6-42M3225 1871l4-9M3244 1884l8-57M3278 1850l6-43M3415 1831l4-11M1724 2277l8-1 8-24M1976 2191l2-4M1986 2202l8 10 8-12 8 0 8 4M2145 2168l8-21M2276 2120l4-11M2779 1937l2-18M3357 1825l5-32M1706 2280l8-2M1762 2256l8 19M1897 2219l8-21M2136 2160l7-32M2151 2148l8 2 8-26M2763 1966l1-3M3084 1894l6-58M3344 1834l8-38M1577 2293l8-38M1601 2291l2 10M1688 2263l8-7M1919 2165l0-4M2385 2045l3-23M2472 2048l4-9M2825 1958l1-2M2843 1964l7-52M3020 1908l4-14M3068 1889l4-15M3356 1794l3-13M3414 1809l8-17M1727 2262l7-2M1782 2230l8-5M1846 2213l8 3M1886 2207l8 8 3 0M1905 2197l4-23M2260 2117l7-59M2870 1932l2-5M3058 1875l5-33M1550 2295l8-24M1637 2271l8 19M1653 2260l2-11M1741 2244l8-20M1892 2212l8-24M2245 2108l5-16M2281 2108l8 5M2329 2082l3 1M2344 2061l1-6M2485 2027l3-8M2670 1905l1-8M2803 1949l3-8M2860 1935l2-4M3048 1874l5-25M1540 2277l8-2M1620 2269l8-25M1691 2252l8-20M1787 2221l8-37M1957 2144l5-39M2475 2035l4-11M2537 2021l5-22M2813 1949l2 8M2828 1954l8-26M2857 1927l3-10M2905 1848l3-38M3332 1818l5-12 8-32M1598 2277l4 5M1682 2243l7-5M1777 2227l8-5M1951 2120l1-6M2044 2128l3-14M2297 2064l5-32M2464 2018l5-25M2541 2004l7-72M2745 1950l2-7M3004 1877l6-82M3040 1877l1-5M3216 1848l8 4M3319 1793l1-5M1505 2289l8 42M1521 2289l8-12M1535 2311l2 8M1680 2244l8-11M1717 2206l3-6M1801 2193l6-31M2025 2133l5-28M2059 2127l3-2M2229 2077l7-88M2531 2016l8-45M2701 1965l5-8M3202 1838l5-5 8-2 8-27M1511 2278l8-8M1535 2277l3 2M1614 2256l4 6M1918 2162l7-37M1955 2109l1-9M2016 2132l4-22M2207 2080l4-13M2257 2009l2-13M2403 2028l7-22M2471 1969l2-23M2534 1985l3-11M2815 1936l8-13 8 4M3051 1828l3-23M3193 1804l4-29M3287 1803l5-23M1533 2273l8-20 8-4M1613 2248l8 9M1645 2223l7-9M2002 2147l8-16M2522 2003l5-13M2837 1928l8-45M2866 1882l3-20M3036 1873l8-19 8-55M3183 1782l4-53M3279 1799l4-8M1516 2260l8-30M1627 2239l8-19 8-25M1865 2168l8-1M2056 2117l8-25M2128 2100l8-9M2158 2048l2-15M2239 1978l0-6M2426 2012l4-12M2744 1921l4-9M2855 1870l5-70M3034 1859l8-56M3170 1824l8-58M1554 2249l8-36M1577 2230l8 11 8 2M1675 2211l6-15M1689 2216l1 6M1829 2158l3-7M1918 2131l1-2M2055 2116l8-61M2124 2094l2 2M2360 2007l5-25M2516 1982l8-20M2752 1909l2-6M3330 1775l5-8 0 3M1493 2282l3 12M1504 2254l8-41M1576 2222l8 3M1666 2195l5-13M1711 2204l8-42M1902 2136l8-23M2435 2004l8-34M2758 1903l3-6M3160 1818l6-30M1654 2196l7-12M1862 2160l2 6M2011 2099l2 7M2038 2084l5-41M2123 2076l8 4M2484 1969l5-26M2774 1857l1-4M3152 1794l5-30M3276 1764l8-44M1453 2252l8-73M1501 2243l8-57M1612 2207l8-10M1644 2189l8-17M1730 2149l1-10M1832 2153l3-3 8-20M1860 2140l6 22M1979 2100l7-44M2408 1985l7-34M2483 1961l4-17M2674 1895l4-21M2921 1840l3-17M3200 1759l3-12M1435 2242l8 5 8-48M1634 2193l8-19M1751 2152l2-6M1785 2163l8-59M1957 2098l3-16M2119 2065l8 5 8 10M2333 1984l1-3M2492 1912l1-15M2761 1888l2-2 5-10M1426 2248l8 33M1609 2185l6 18M1624 2200l8-24M1785 2140l6-34M1842 2108l5-35M2197 2036l8-35M2774 1854l4-27M2826 1872l7-53M2976 1832l8-20M3158 1746l1-6M1408 2249l8 14M1591 2194l8-5M1615 2191l8-9M1631 2180l8-33M1678 2179l8-35M1702 2166l8 4M1933 2092l8-44M2305 1955l2-8M2396 1955l6-49M2756 1854l4-19M2983 1816l8-35M3013 1787l1-4M3036 1769l2-17M1621 2177l8-43M1769 2118l3-13M1931 2088l8-49M2182 1999l4-18M2389 1945l3-21M2459 1934l5-22M2548 1926l3-1M2553 1911l6-68M2669 1866l2-5M2731 1838l3-35M2819 1826l3-23M2947 1821l2-3M3205 1759l6-30M1482 2206l2 2M1532 2184l8-27M1587 2180l8-30M1603 2170l8 1 8-30M1747 2132l7-31M2134 2017l2-13M2193 2008l7-23M2476 1903l2-12M3114 1786l8-34M1379 2229l8-7 8 1M1435 2217l1 5M1487 2208l3 0 1 2M1518 2178l4-17M1681 2139l8-11M1721 2143l8-17 8-40M1831 2107l1-2 8-44M1912 2095l8-46M2111 2044l8-88M2165 1984l1-12M2941 1807l5-17M2997 1788l4-16M3136 1761l8-36M1560 2169l8-53M1666 2133l5-10M1711 2138l8 2 8-32M1900 2072l2-5M2011 2048l2-1 8 25M2071 2024l6-52M2622 1834l4-58M2920 1820l3 1M2931 1803l5-27M2993 1785l7-38M3182 1743l2-2M3189 1732l1-2M3221 1709l1-2M1415 2201l8-4M1439 2194l8-35M1487 2186l8-44M2009 2036l3-2M2036 2029l8-50M2136 1993l3-15M2161 1972l2-8M2682 1846l6-80M2876 1813l3 1M3018 1766l4-9M3181 1728l8 0M1350 2218l8 17M1406 2188l8-4M1421 2200l8-4 8-21M1473 2171l4-4M2001 2016l1-3M2027 2024l7-70M2160 1967l1-4M2913 1786l4-16M3090 1717l2-7M1372 2206l8 5M1627 2124l7 6M1662 2120l4-18M1762 2090l8-4M1772 2082l6-12M1905 2065l8-25M2020 2017l4-23M2956 1772l7-46M3034 1763l8-45M1331 2213l7 14M1365 2191l5 6M1418 2179l8 5M1545 2156l8 1 8-8M1649 2128l8-37M1674 2104l6-50M1720 2106l8-22M2143 1977l7-36M2742 1771l4-50M2873 1796l8-21M3024 1762l8-3M3160 1729l8-24M3195 1731l3 6M1544 2152l7-12M1570 2119l5-31M1703 2104l8-67M1726 2084l8-2M1741 2060l1-4M2058 1994l2-8M2185 1944l3-21M2955 1748l4-41M1343 2187l8-2M1430 2154l8-25M1534 2140l8 5M1693 2095l8-64M1776 2072l4-16M2091 1988l7 2 4-4M2113 1949l1-5M2859 1762l3-8M3135 1694l5-36M1317 2186l8-8M1421 2168l8-47M1513 2138l3 2 8 16M1651 2097l8-35M1898 2030l8 9 8-6 8 1 2 3M1997 2006l4-2M2097 1978l8-14M2876 1781l2 0M2919 1769l5-4 8 6M2943 1753l5-9M2995 1739l8 5M1371 2172l8-25M1451 2153l8 10M1749 2061l4-10M1940 2011l4-12M2393 1886l4-16M2539 1813l1-8M2578 1835l2-2M2872 1769l2-3 8-16M2930 1749l8-59M1330 2181l8-42M1346 2168l0 3M1362 2169l8-41M1441 2137l8 7 8 10M1521 2128l8-22M1581 2091l3-6M1592 2094l8 6 8-11M1622 2106l2 2M1632 2100l8-24M1648 2087l1 4M1727 2072l8-33M1762 2056l5-15M1912 2019l6-30M2869 1757l4-17M3032 1724l8-25M1288 2169l8-36M1314 2158l6-17M1447 2126l8-18M1463 2120l8 18M1587 2088l4-11M1721 2052l5-7M1752 2039l6-17M1906 1989l3-7M1948 2001l8 0 8-19M1988 1987l8 1M2099 1955l6 9M2281 1872l1-9M2860 1743l3-9M3022 1722l8-4M3034 1709l4-9M1292 2152l3-12M1414 2136l8-38M1477 2125l8-2 8 0 8-3 8 7M1574 2085l7-36M1606 2075l7-75M1662 2066l6-31M1719 2041l5-38M1942 1986l5-11M1974 1989l4 2M2098 1948l8 12M2109 1943l5-23M2205 1893l4-21M3004 1717l8-6M3028 1714l8-46M3066 1681l2-6M3099 1668l1-4M1468 2108l8-2M1492 2106l8-43M1539 2096l8-9M1567 2081l4-17M1651 2065l8-11M2009 1980l7-7M2097 1946l7-56M2263 1913l6-15M2881 1721l2-6M2946 1697l1-4M3003 1709l8-5 8-8 7-27M1267 2163l8 13M1407 2110l3-6M1522 2095l8-3M1755 2028l5-28M1888 1997l7-51M2203 1889l3-13M2274 1886l3-8M2389 1865l7-3 4 6M2489 1802l3-18M2890 1730l7-15M2955 1712l1 3M3001 1695l8 0 8-23M1255 2175l3 4M1701 2023l2-8M1751 2023l8-27M2116 1932l8-12 8 28M2260 1897l8-16 7-21M2545 1771l1-10M2851 1714l5-34M3092 1660l3-10M1224 2156l8 24M1305 2140l6-19M1472 2090l6-35M1677 2034l8-47M1876 1980l8-19M1956 1965l8-13M2113 1915l2-3M2250 1887l8-21M2359 1854l2-4 8-22M2903 1714l7-35M1246 2151l8 6M1357 2120l8 1 8-4M1377 2121l4 4M1639 2032l5-29M1858 1976l8-15M2049 1927l8-33M2121 1914l8-1M2247 1864l1-4M2666 1732l4-25M2947 1679l1-4M2996 1694l8-2M1228 2146l8 2M1316 2124l2 3M1337 2115l3-4 8-23M1506 2055l1-2M1539 2053l8 17M1578 2039l8-3M1654 2026l4-16M1741 2007l4-5 2 6M1817 1978l8-14M2117 1912l2-2 8-20M2284 1853l2-6M2476 1784l1-5M2845 1701l6-29M2986 1678l8-14M1203 2150l8-37M1235 2132l8 13M1314 2109l8-17M1330 2102l8-6M1378 2102l8-21M1394 2094l8 0 8-30M1512 2080l1 2M1723 2003l5-15M1982 1940l8-18M1998 1943l8-11 8-8M2046 1922l8-54M2117 1894l8-43M2286 1846l6-35M2388 1840l8-45M2600 1753l3-9M2875 1698l6-29M2905 1683l8-9M1193 2131l8 0M1273 2111l8-22M1368 2100l8-29M1436 2065l4-14M1472 2075l5-12M1513 2058l6-16M1591 2038l8-2 8-1M1718 1994l8-25M1782 1978l8-53M1934 1937l7-45M1996 1917l8-8M2109 1899l7-28M2295 1804l4-33M2351 1835l3-5M2380 1813l6-38M2416 1794l2-4M2434 1820l8-97M2897 1680l6-14M2996 1671l2-1M3038 1652l8-37M1184 2136l7 34M1426 2066l4-19M1462 2054l8-35M1581 2018l8-15M1605 2029l3-6M1711 1983l5-19M1867 1948l8 15M1928 1934l3-1M1961 1903l2-4M2106 1885l8-70M2281 1840l8-62M2368 1828l8-43M2981 1661l8 1M3013 1650l8-8 8 4 7-37M1261 2108l8 8M1422 2062l6-33M1505 2051l3 4M1556 2030l8-11M1579 2012l0-2M1826 1960l8-10M1987 1911l6-32M2165 1827l3-21M2241 1840l6-24M2559 1760l7-42M2955 1661l8-65M2995 1643l8-25M1164 2134l8 19M1252 2099l8-17M1271 2105l1 2M1585 1996l1-4M1686 1962l3-18M1745 1978l1 4M1800 1962l8 2 8-12M2301 1753l0-10M2492 1771l8-15M2860 1671l6-32M2979 1647l6-25M1157 2123l2 3M1274 2097l8-18M1414 2044l3-12M1576 2009l8-48M1655 1982l8 2 8-12M1735 1957l8 6M1799 1946l8 10M1830 1940l8-70M2145 1850l4-15M2212 1835l8-91M2289 1770l3-28M2345 1810l2-1 8 3 8-20 8-78M2638 1720l4-15M2851 1667l5-11M2886 1631l2-13M2974 1618l2-7M1312 2078l8-8M1657 1981l5-7 8-14M1725 1966l8-21M2174 1835l5-9M2346 1800l8-2 8-37M1207 2092l8-20M1226 2098l5 5M1270 2081l8-12M1302 2070l8-5M1334 2067l8-1M1411 2034l2-6M1596 1995l8-22M1667 1964l1-3M1747 1960l8-15 8 13M1876 1902l7-16M1911 1898l3-17M1996 1882l6-34M2034 1872l8-11M2074 1863l7-39M2145 1847l1-3M2913 1644l3-4M2956 1625l5-14M1197 2083l8-30M1229 2084l8-37M1261 2083l8-13M1555 2001l8 15M1801 1932l8 10M1984 1882l8-26M2029 1863l3-5 8-22M2318 1797l8-44M2654 1692l6-72M1211 2070l8-20M1249 2063l2-3 8 13M1935 1889l8 1M2024 1859l6-41M2099 1837l3-7M2236 1713l1-8M2291 1746l2-17M2340 1771l8-17M2569 1663l2-22M1138 2099l8-29M1154 2085l8 1 8-1 4 6M1194 2081l7-49M1265 2062l8 4M1416 2014l8-7M1528 1993l7-25M1615 1960l8-9M1631 1954l8 18M1798 1914l8 0M1957 1880l8-18 8 13 8 5M2014 1860l7-35M2200 1794l4-24M2223 1737l4-62M2268 1773l7-82M2787 1644l2-3M2951 1614l8-22M1149 2074l3-5 8-32M1250 2050l5-22M1407 2015l7-6 8-12M1470 2000l8 6M1892 1879l8-20M2098 1831l8-29M2210 1791l8-106M2317 1754l4-21M2599 1690l8-25M2846 1635l8-8 6 21M1142 2070l8-40M1219 2047l3-10M1245 2029l1-4M1333 2033l8 9M1381 2017l8-10M1540 1978l8 6M1878 1880l4-7 8-39M1969 1860l8 17M1985 1855l8-4M2097 1814l8-32M2203 1769l5-50M2255 1738l1-3M2306 1749l5-31M2500 1686l2-9M2590 1703l2-3M2836 1636l4-4M2884 1620l2 3M2900 1622l8-23M1257 2031l3-6M1631 1940l3-3M1705 1930l8-13 8-19M1769 1904l8-15M1793 1899l8-24M1818 1888l7-30M1853 1868l3-19M1912 1855l8-42M2139 1812l4-3 8 6M2165 1783l1-3M2353 1738l4-34M2588 1692l8-28M2763 1649l8-38M2866 1622l8-33M2890 1605l8 1M1075 2082l8-19M1316 2018l6-15M1370 2000l7 1M1430 1990l3-3 8-17M1579 1956l5 10M1833 1877l6-25M1982 1848l8-20M2149 1801l8-24M2299 1736l1-3M2340 1743l8-23M2487 1684l4-27M1066 2076l8-17M1086 2065l3 1 8 5M1169 2053l8-9M1360 1999l8-20M1376 1993l5 9M1426 1977l5-16M1511 1954l8 33M1567 1944l8-7 7 3M1654 1913l8-26M1694 1909l8-33M1930 1813l2-16M2134 1785l5-9M2325 1741l5-14M2895 1590l8-15M2922 1603l2 6M1056 2076l8-9M1075 2059l5-7M1207 2020l8 12M1279 2019l8 14M1740 1889l8 9 8 17M1772 1892l1 2M1886 1835l5-33M1952 1807l3-15M1986 1821l8 6M2090 1796l2 7M2109 1773l5-30M2185 1770l8 0M2853 1593l8 13M1038 2076l8-16 8 3M1118 2042l8 0M1221 2017l8-18M1770 1884l5 7M2064 1788l8-69M2096 1796l8-84M2764 1616l8-30M2780 1604l8 29M2812 1612l2 1M2856 1596l3-1M1029 2060l8-8M1132 2042l2 3M1138 2051l2 3M1307 1998l8 2M1482 1953l8 11M1569 1924l8 11M1585 1928l8-14M1595 1918l6 10M1718 1871l2-6M1736 1875l8-10M1765 1867l3-2M1808 1854l8-39M1983 1809l8-4 8 12 8 16M2035 1806l4 3M2086 1780l8-50M2349 1714l0 2M2754 1617l8-20M1090 2050l8-24M1106 2035l8 2M1202 2002l8-35M1297 1995l8-1M1552 1915l8 1M1674 1885l5-9M1684 1889l3 6M2315 1715l8-11M2538 1656l8-19M2776 1594l8-17M2810 1590l6 11M2872 1562l8-13M1039 2054l2-1M1081 2037l8-17M1168 2023l8-6M1470 1941l8 2M1510 1934l8-16M1521 1926l5 15M1534 1926l8-19M1547 1911l3 2M1590 1894l8-27M1669 1886l8-28M1733 1869l8-6M1884 1821l2 5M2074 1719l1-6M2528 1650l8-26M2751 1596l8-22M2854 1579l8-19 8-1M1000 2056l7 13M1055 2043l8-30M1071 2023l8-1 8-12M1143 2019l8-31M1230 1986l8 12M1241 2005l5 11M1278 1979l8-28M1532 1920l8-15 8 3M1551 1911l5 5M1628 1887l8 1 0 3M1866 1820l8-9 8 3M2153 1757l8 3M2328 1697l8-8M2640 1605l6-21M2741 1593l8-39M1046 2032l7-18M1067 2017l2-5M1133 2007l8-32M1228 1976l8-13M1268 1975l8-34M1295 1973l5-8 8-20M1316 1957l8 20M1483 1927l8-26M1523 1914l8-20 8 7 3 3M1547 1907l7 0 8 9M1690 1871l8-8 8-38M1785 1843l8-21M2040 1777l8-15M2237 1686l1-7M2342 1693l8-26M2389 1678l4 4M2485 1650l2 7M2538 1625l3-2M2731 1582l8-42M1123 2000l8-5M1195 1986l8-2M1221 1974l6-15M1330 1949l8-60M1420 1928l5-11 8-17M1471 1907l2-6M1507 1907l6-16 8-9M1531 1893l6-16M1680 1862l8-21M1726 1845l2-3M1744 1835l8-41M1913 1786l6-26M2321 1696l3-2 3 3M2523 1637l8-12M2545 1628l2-1 3 3M2555 1633l8-13 4-10M2728 1554l2-9M2825 1557l8 1 8 2M1181 1993l4 5M1241 1972l8 14M1312 1941l8-61M1408 1912l8-2M1503 1898l8-18M1519 1885l8-45M1710 1839l8-2M1731 1854l3 5M1743 1824l7-34M1837 1809l8 11M2044 1762l1 2M2609 1616l8 1M2625 1611l8-42M2815 1543l8-13M953 2044l8 19M985 2025l8-15M1007 2032l1 4M1207 1966l8-22M1243 1975l4 7M1263 1963l8-39M1301 1904l2-12M1502 1895l8-32M1545 1862l4-14M1581 1881l8-10M1875 1784l8-32M2026 1761l8-12M2250 1692l7-44M2806 1554l8-12M2818 1537l4-6M1110 1998l8 11M1190 1962l8-30M1235 1952l2 0 8 11M1261 1950l8-29M1292 1895l1-6M1538 1837l2-8M1858 1790l8-14M1993 1758l8-2 8 17M2144 1721l8-9M2319 1676l8 0 8 8M2351 1664l8 5 8 7M1045 1995l8 5 8 14M1387 1910l8 3 8 5M1492 1877l6-21M1689 1835l8 13M1789 1812l3 0M2063 1723l8-27M2134 1716l8-24M2317 1662l8-2 8 1M2337 1671l4 8M2357 1642l8 1 5 16M2381 1654l8-36M2421 1642l3-1M2572 1603l8-9 4 11M1123 1981l8 11M1170 1959l8-24M1279 1907l3-15M1783 1800l8 7M1889 1762l5-5 8 2 8-7M2148 1698l8-10M2262 1649l6-36M2312 1646l3-6M2411 1639l8-11 8-9M2569 1581l1-1M2586 1594l8-42M1017 1982l8-10M1049 1985l8 0M1062 1997l3 7M1105 1977l8-11M1264 1936l8-34M1487 1869l8-9M1582 1845l8-1M1622 1825l8-20M1701 1820l8 1M1725 1809l8-12 8 9M1805 1777l8-26M1943 1734l5-10M2202 1682l8-29M2425 1621l8-12 8-19M2584 1587l1-2M970 2004l4 5M1040 1978l8 3M1103 1964l8-10 8-6 8 4M1129 1959l6 17M1151 1956l8-21M1254 1925l8-52M1405 1891l8 1M1469 1876l8-27M1604 1835l8-36M1676 1811l8-23M1708 1811l8-14M1851 1755l8 8 1 7M1891 1746l7-11M1908 1746l4 8M1978 1742l8 3M2018 1727l8 3M2115 1690l6-31M2193 1671l8-1M2225 1672l7 0 8-53M2328 1644l8-7 8 4M2384 1633l3-10M2389 1617l3-8M2415 1617l8-28M2670 1559l4-6M903 2011l8-11M1014 1974l8-11M1094 1964l7-38M1285 1891l7-55M1388 1890l8 10M1404 1886l8-9 8 13M1451 1864l8-22M1587 1835l8-20 7 4M1690 1808l8 3M1801 1769l8-22M1833 1762l8-32M1873 1747l8-29M1960 1726l8 3M2024 1720l8-15 8 11 8 21M2104 1691l7-46M2303 1619l7-95M2406 1612l8-45M2573 1564l8 16M2663 1552l5-6 8-19M893 2007l8 2M973 1987l7-9 8 14M1004 1968l8 2M1402 1862l8-8M1418 1869l8 22M1442 1856l8-27M1792 1776l8-8M1815 1751l8-42M1951 1718l8 4M1982 1719l8 26M2221 1649l8-54M2398 1592l6-31M2558 1548l5-12M963 1987l8-34M1271 1839l2-12M1380 1866l4 5 8 1 2-2M1408 1855l8-1M1418 1860l6 18M1744 1782l3 9M1807 1752l7-47M1854 1739l7-29M2052 1695l8 12M2084 1687l8-29M2289 1533l2-26M2571 1558l6-21M866 1989l8 38M1216 1907l8-51M1725 1763l7-2M1750 1774l3 7M1804 1740l8-35M1899 1729l8-14 8 6M1918 1725l5 11M2043 1691l8-8M2066 1683l8 2 8-9M2172 1650l6-22M2018 2523l-10 13M1999 2512l-10-51M1960 2495l-10-19-9-25M1883 2452l-10 16M1824 2421l-9 39M1786 2408l-10 16M1708 2370l-9 6-10 26M1505 2289l-10-26M1408 2249l-10 27M1379 2229l-10-19M1350 2218l-10-25M1331 2213l-10 15M1224 2156l-10 8M953 2044l-10 5M2021 2527l-5 8M1995 2495l-8-18M1953 2483l-4 11M1931 2456l-2-7M1916 2479l-6 25M1891 2454l-10-13-10-26M1842 2438l-10 30M1713 2391l-6 20M1629 2335l-10-10-9 20M1590 2310l-9-8M1574 2333l-3 11M1431 2244l-5 4-10 15M1387 2222l-10 0M1376 2227l-8 27M1203 2150l-10-19M1188 2134l-4 2-10 6M1160 2127l-6-8-9-1M1143 2122l-8 13M1038 2076l-9-16-10 15M1000 2056l-10-1M988 2060l-8 25M903 2011l-10-4M890 2012l-7 10M2112 2543l-10 8M2073 2524l-10 8M1922 2484l-4 20M1898 2438l-9-8M1676 2340l-10-6-10 35M1637 2337l-10-24M1611 2359l-3 13M1550 2295l-10-18-10 11-9 1-10-11-10-4M1499 2267l-7-22M1453 2252l-10-5M1438 2266l-4 15M1317 2186l-9-21M1288 2169l-9 22M1193 2162l-2 8M1075 2082l-9-6-10 0-10-16-9-8M907 2004l-6 5M1974 2476l-9 43M1751 2385l-9-13M1739 2375l-7 8M1664 2338l-7 29M1577 2293l-10-17M1529 2277l-10-7M1432 2223l-2 5M1325 2178l-9-13M1267 2163l-9 16M1228 2146l-9-43M1112 2080l-9 17-10 5M1064 2067l-10-4M2127 2548l-9 4M2011 2496l-9-32M1808 2406l-10 0M1769 2385l-10-41M1740 2369l-10 12M1480 2202l-1-15M1372 2206l-10-19-9 4-10-4-10 10M1246 2151l-10-3-9-33M985 2025l-10-15M965 2029l-9 11M2135 2546l-9 11M2077 2513l-9 10M1951 2446l-9 6M1913 2438l-7 9M1742 2361l-4 5M1535 2277l-4 3M1357 2189l-6-4M1164 2116l-7 7M1138 2099l-10 7M1089 2066l-9-14M2095 2506l-10-18M1967 2457l-8-29M1930 2450l-9-4M1785 2368l-10-31M1640 2301l-10-13M1553 2271l-5 5M1533 2273l-9-43M1504 2254l-5 8M1475 2239l-10 21M1330 2181l-10-40M1136 2074l-1 6M2151 2527l-9 36M2113 2520l-10-19-3 2M2016 2480l-10-13-2 3M1899 2430l-4 4M1745 2358l-10-34M1715 2331l-9-15M1696 2322l-5 18M1541 2253l-10-54M1478 2249l-5 5M1435 2217l-10-12-10-4-9-13M1404 2193l-8 16M1018 2036l-10 0M2033 2474l-9-10-10 13M1917 2431l-10-23M1902 2423l-4 10M1832 2397l-2 3M1751 2335l-8-31M1549 2249l-10-36M1498 2246l-3 4M1423 2197l-9-13M1394 2196l-7 25M1346 2168l-10-53M1162 2086l-10-17-10 1M1134 2083l-1 2M1055 2043l-9-11-10 6-10 11M968 2000l-10 2M2158 2524l-10 26M2099 2502l-9-5M2051 2471l-10-30M1925 2422l-10-2M1886 2410l-9-32M1850 2370l-2-4M1695 2323l-2-1M1691 2326l-4 8M1417 2189l-5-13M1170 2085l-10-48M2020 2447l-9-7M2001 2448l-6-2M1894 2405l-9 1M1807 2363l-10 22M1788 2360l-10-19-2-3M1713 2295l-3-11M1439 2194l-10 2M1371 2172l-9-3-8 18M1207 2092l-10-9-10 27M1090 2050l-9-13-10-14M2154 2512l-10 11M2077 2474l-10-44M2006 2442l-7-9-10-7M1912 2407l-2 1M1904 2413l-2 1M1834 2361l-9-53M1732 2302l-4-22M1646 2305l-2 4M1554 2249l-10-24M1418 2179l-3 0M1270 2123l-7 29M1195 2076l-9 26M1118 2042l-10-5-10-11M1079 2022l-10-10M973 1987l-10 0M961 1991l-8 16M1995 2429l-7-15M1891 2385l-10-51M1751 2317l-5-23M1620 2269l-10 17M1503 2210l-9 4-10-6-3-5M1315 2128l-5-13M1261 2108l-9-9-10 14M1194 2081l-10 5M1135 2045l-9-3M1094 2024l-7-14M980 1978l-9-25M2151 2502l-10 12M1976 2417l-9 8-6 9M1899 2385l-10-24M1637 2271l-9-27M1618 2268l-10 10M1208 2058l-7-26M1095 2023l-2-2M2159 2490l-10-4M2146 2493l-7 16M2040 2442l-7-11-2 2M1977 2415l-2-1M1945 2405l-9-5-10 13M1574 2221l-6-20M1265 2095l-7-18M1234 2090l-5-6-10-34M1045 1995l-10-37M2215 2522l-10-4-9-3-10 2M2043 2434l-2 0M2002 2431l-10-7M1924 2397l-9 8M1653 2260l-9 15M1614 2256l-9 1M1583 2237l-7-15M1438 2171l-8-17-9 14-4 10M1246 2077l-9-30M1179 2051l-10 2M1053 2000l-10-19M1017 1981l-3-7-10-6-9 24M2213 2508l-10-39M2145 2485l-9-30M1613 2248l-10 2M1593 2243l-9-18M1487 2186l-10-19M1361 2133l-10 7M1326 2104l-4-12M1278 2095l-4 2-10 4M1254 2074l-9-18M1180 2046l-3-2M1026 1971l-4-8M2221 2505l-10-49M1989 2413l-10-24-10-8M1960 2391l-10 14M1875 2328l-3-12M1815 2283l-1-2M1688 2263l-4-10M1511 2183l-7-21M1437 2127l0-3M1340 2111l-10-9M1282 2079l-10 5-10 6M1049 1985l-5-3M2239 2512l-10-40M2181 2478l-10-17M2006 2410l-9-30M1706 2280l-10-24M1532 2184l-10-23M1357 2120l-9-32M1280 2081l-10 0-9 2-10-23-10-42M1096 2006l-10 2M1057 1985l-9-4M2189 2476l-10-42M1908 2366l-10 8M1792 2295l-4 2M1724 2277l-10 1M1627 2239l-10-16-9 4-10 7M1414 2136l-10-24M1365 2121l-9-41M1283 2077l-5-8-9 1-10 3-10-21M1143 2019l-10-12-10-7-9 10M2100 2429l-10-23M2051 2413l-9-4-10 11M1964 2371l-10 4-9 22M1925 2367l-9-46M1645 2223l-10-3M1632 2225l-7 11M1606 2218l-10-11-10 23M1557 2184l-9-11M1451 2153l-10-16M1438 2128l-7-19M1373 2117l-9-4M2263 2503l-10 35M2114 2417l-6-32M2069 2422l-10-38M2040 2411l-10-11-9-48M1982 2383l-10-48M1899 2323l-4-10M1749 2266l-9-14M1691 2252l-9-9M1633 2211l-10 18M1449 2144l-10-30M1265 2062l-10-34M1168 2023l-9-22M1110 1998l-10 12M2233 2461l-1-2M2048 2409l-10-17-10 8M1992 2376l-2-3-10-18M1786 2285l-1 3M1683 2242l-3 2M1612 2207l-6 10M1447 2126l-9-39M1312 2078l-10-8M1221 2038l-6-6M1878 2321l-6-8M1727 2262l-10-55M1688 2233l-10-13M1587 2201l-6 10M1378 2102l-10-2-10-1M1329 2084l-9-14-10-5M1245 2026l-3-6M2199 2462l-5-12M2044 2387l-9-49M1881 2310l-1-2M1851 2309l-10 9M1830 2272l-8-55M1734 2260l-9-7M1609 2185l-10 4M1560 2169l-10-13M1463 2120l-9-55M1395 2093l-9-12M1221 2017l-10-17M1202 2002l-10 21M1105 1977l-10 8M2056 2392l-4-5-9-23M1878 2312l-10-21M1762 2256l-10-5-4 12M1587 2180l-9-33M1392 2088l-8-38M1123 1981l-10-15-10-2-9 0-10 10M2215 2452l-9-96M2087 2391l-7-22M1944 2342l-10-26M1741 2244l-10-23M1659 2199l-5-3-10-7-10 4-10 7-9-9-10-9-10-32M1402 2094l-10-68M1353 2072l-9-2-10-3-10 8M1111 1954l-10-28M2301 2491l-10 1M2289 2499l-5 16M2093 2378l-5-24M2063 2368l-4-17M1545 2156l-2 5M1342 2066l-10-3-9 5M1177 1988l-9 18M1119 1948l-10-32M2318 2499l-9-22-10 6M2068 2360l-2-6M1957 2308l-7-57M1631 2180l-10-3-10-6M1553 2157l-9-5-10-12-10 16M1485 2123l-9-17M1423 2069l-5-17M1195 1986l-10 12M1127 1952l-10-17M2326 2492l-9-10M2307 2478l-10-5-9 7-10 13M2080 2364l-6-13M1648 2173l-9-26M1561 2149l-10-9-9 5M2315 2471l-10-5-10 2-9-34M2086 2356l-4-8M1782 2230l-10-13M1650 2173l-3-9M1521 2128l-10 5M1501 2120l-9-14-8 12M1279 2019l-10-15M1230 1986l-10-11M2303 2468l-9-53M2065 2351l-4-4-9-6M1562 2142l-4 4M1519 2124l-10 3M1471 2097l-3 2M1236 1993l-8-17M1190 1962l-10-22M1170 1959l-9 13M1151 1956l-10 3M2350 2487l-10-15-9-4-8 20M2273 2445l-10 16M2174 2410l-5 13M1914 2282l-9 28M1711 2204l-10 8M1546 2114l-9 1M1333 2033l-9-32M1310 2036l-6 16M1217 1974l-3-2M1207 1966l-9-34M1169 1949l-10-14M2327 2474l-5 11M2038 2336l-9 11M1913 2283l-10 8M1787 2221l-10 6M1709 2191l-10 24M1436 2050l-8-21M1225 1964l-10-20M1169 1947l-2 0M2153 2384l-10-34M2037 2333l-10 8M2017 2312l-9-14M1981 2282l-2-7M1922 2271l-1-2-10 2M1904 2286l-3 6M1785 2222l-10 1M1640 2143l-1 2M1619 2142l-8-38M1231 1959l-8-25M2328 2460l-2 1-10 1M2306 2438l-10-10M2161 2385l-10-3M2112 2365l-9 6M1991 2282l-4-21M1870 2239l-9-25M1783 2217l-9-50M1667 2165l-10-62M1522 2095l-6 5M1473 2078l-9 16M1241 1972l-10-27M2329 2454l-5 5M2314 2448l-10-28M2082 2334l-6 5M2003 2309l-8-28M1965 2285l-5-8M1627 2124l-10-37M1539 2096l-9-4M1474 2074l-2 1-10-21-10-50M1307 1998l-10-3-9-1M1278 1979l-10-4-10 16M2380 2466l-4-1M2332 2449l-10 4M2258 2426l-4 4M2225 2406l-9-28M2167 2377l-10-2-9-13M2012 2302l-10-16M1925 2272l-10-14-9 14M1793 2185l-4-8M1736 2155l-5-16M1712 2176l-10-10M1478 2052l-8-33M1305 1994l-10-16-9-27M1263 1977l-6 16M1237 1952l-9-14M2233 2402l-10 4M2182 2370l-7-7-10-6-9-9M2098 2330l-10 10M1933 2259l-10-68M1899 2270l-3 12M1846 2213l-5 8M1713 2169l-3 1M1681 2139l-10-16M1588 2095l-4-10M2173 2362l-9-21M2115 2346l-9-41M2086 2321l-7 15M2038 2311l-10 6M1842 2218l-8-22M1777 2169l-1-2M1767 2173l-10 0M1392 2012l-3-5-10-5-9-2-10-1-10 11M1263 1963l-10 12M2414 2463l-10 24M2265 2403l-6-7-10 6M2065 2312l-10-25M1978 2270l-10 14M1788 2176l-4-9M1600 2100l-9-23M1416 2014l-9 1M1377 2001l-9-22M1300 1965l-10-45M1261 1950l-9 23M2422 2466l-10 25M2315 2420l-10-46M2276 2390l-9-18M2125 2313l-4-12M1608 2089l-10-26M1424 2007l-10 2M1257 1956l-6 15M2188 2351l-10 1M2033 2281l-10-25M2013 2278l-4 17M1897 2219l-10 16M1610 2087l-4-9M1539 2053l-10-20M1360 1988l-5-3M1353 1990l-8 15M1316 1957l-10-30M2370 2430l-2 3M2319 2406l-7-35M2188 2333l-2-4M2176 2351l-3 7M1973 2252l-10-1-10 3M1886 2207l-10 17M1837 2181l-3 5M1779 2161l-10-41M1721 2143l-10-5-9-16M1700 2117l-8-26M1667 2103l-4-15M1598 2061l-3-15M1430 1999l-9-40M2416 2432l-9-2M2232 2361l-9-26M1981 2253l-10-38M1729 2126l-10 14M1655 2097l-4 0-9-13M1632 2100l-10-49M1434 1998l-5-6M1312 1941l-9-49M1264 1936l-10-11-9-24M2376 2417l-10-13-6 17M1989 2250l-10-40M1897 2213l-5-1M1805 2172l-10 3M1785 2163l-3 4M1747 2132l-10-46M1650 2094l-10-18M1330 1949l-10-69M2125 2276l-3-6M2045 2258l-10-6-4 13M2006 2257l-9-31M1811 2150l-8-29M1784 2147l-5 7M1759 2120l-5-19M1725 2114l-6 23M1648 2087l-10-54M2460 2437l-10-1-10 12M2334 2383l-10-39M2256 2349l-2 9M2208 2340l-6-7M2156 2293l-6-18M2063 2275l-10-45M2014 2237l-9-6M1816 2135l-5-20M1578 2039l-9-9M1443 1985l-10 2-4-1M1283 1890l-5-21M2419 2423l-9-2M2366 2402l-5-6-10-6-9-11-10-16M2216 2334l-10-21M2161 2277l-3-14M2032 2251l-10-8-10-14-9-1M1910 2173l-4-18M1817 2135l-8-54M1703 2104l-10-4M1445 1973l-4-3M1390 1980l-7 18M2485 2443l-9 8-10 29M2195 2315l-10-2-10-24M2088 2269l-9-12M2043 2244l-3 0-10-6M2026 2240l-6 3M1865 2168l-9-2-10 16M1823 2130l-6-51M1720 2106l-9-69M1556 2030l-10-30M1527 2025l-6 14M2387 2403l-2 1M2251 2336l-10 6M2222 2329l-10-33M2077 2252l-10-10-10-8M2048 2237l-10-1M1883 2176l-10-9M1835 2150l-10-51M1730 2089l-2-5M1656 2071l-5-6M1649 2071l-1 5M1566 2021l-2-2-10 1M2395 2389l-10 6-10-4-9-28M2132 2262l-9-77M2050 2233l-4-3M1983 2202l-5-15M1672 2048l-4-13M1591 2038l-10-20M2509 2439l-10-12-9 20M2391 2392l-8-22M2228 2317l-9-37M2073 2241l-9-27M1986 2202l-10-36M1860 2153l-9-49M1734 2082l-9-7M1599 2036l-10-33M2517 2445l-10-20M2475 2409l-6-25M2449 2414l-9-76M2167 2277l-8-25M2079 2241l-7-29M1993 2208l-9-24M1763 2092l-1-2-10-23M1607 2035l-10-32M1531 2003l-2 1-9 21M1403 1940l-9-8M2496 2417l-10-39M2180 2270l-4-13M2040 2214l-9-46M2002 2200l-10-38M1770 2086l-10 2M1607 2028l-2 1M1533 1997l-5-4M1526 1998l-8 26M2388 2357l-4 3M2146 2255l-2 2M2057 2215l-8-78M2010 2200l-10-59M1555 2001l-10-2-10-31M2531 2427l-9-6-10-24M2463 2405l-9-5-3-2M2411 2357l-6-15M2270 2313l-10-8M2018 2204l-10-18M1911 2147l-9-11-10-17M1727 2072l-2-4M1413 1924l-5-12-10 25M2468 2386l-6-6M2412 2353l-8-40M1837 2109l-5-4-8-19M1741 2056l-6-17M1677 2034l-9-36M1425 1917l-9-7M2557 2433l-10 24M2311 2304l-6-25M2202 2260l-3-9M2140 2237l-2-6M2026 2178l-2-1M1692 2032l-7-45M1611 2004l-3 5M1511 1954l-10 6-9 10M1482 1953l-10 2M2565 2432l-10 2M2468 2382l-10-3M2449 2361l-10-28M2319 2313l-6-11M2158 2245l-10-20M2030 2166l-8-38M1771 2067l-10-10-10-18M1470 1941l-9-41M1405 1917l-2 1M2454 2370l-7-32M2216 2212l-2-11M2032 2155l-2-5M2003 2150l-2-4M1904 2107l-9-65M2561 2412l-9-25M2540 2412l-5 9M2513 2387l-10-32M2148 2224l-3-3-10 3M2112 2163l-6-58M1641 1994l-5 6M2569 2401l-9-26M2547 2397l-7 10M2531 2394l-10-21M2463 2364l-10-36M2342 2324l-5 7M2182 2245l-10-34M1782 2045l-7-41M1388 1890l-6-11M2552 2387l-4-9M2190 2230l-10-13M1919 2118l-10-26M1785 2030l-2-4M1483 1927l-10-26M1405 1891l-9 9M1372 1853l-5-10M2479 2350l-10-34M2314 2287l-3 3M2273 2274l-7 11M1668 1989l-3-4-10-3-9 13-2 0M1510 1934l-9-3M1404 1886l-10 2M2433 2341l-4 0M2341 2299l-9-12M2330 2292l-8 20M2274 2268l-10 13M2005 2147l-3 0M1618 1967l-3-7-6 10M1576 1951l-9-7M1518 1918l-10-9-9-6-10-30M1412 1877l-10-15-10 10M2611 2405l-10-28M2243 2241l-2-1M2036 2134l-6-29M2008 2135l-7 12M1948 2106l-5-15M1931 2098l-8 27M1864 2069l-9-57M1783 2025l-5-23M1749 2010l-5 3M1658 1979l-2 2M1652 1986l-10 8M2619 2406l-10-62M2586 2405l-6 13M2512 2352l-9-2-10 10M2326 2269l-7-13M2219 2207l-7-50M1931 2088l-10 27M1912 2095l-10-28M1777 2002l-1-5M1731 1996l-3-8M1631 1954l-10-48M1534 1926l-10 14M1449 1867l-2-3M1408 1855l-10-14M2627 2411l-10-24M2530 2359l-10-35M2396 2297l-2-2-9 8M2382 2308l-7 14M2365 2294l-5 8M2181 2205l-9-10-10 15M1976 2095l-8-50M1745 2002l-9-23M1600 1935l-8 19M1552 1915l-10-8-10 13-9-6-10-23-10 7M1416 1854l-10-21M2538 2345l-10-37M2480 2332l-5 3M2373 2271l-10-20M2286 2236l-1 3M2281 2250l-2 5M2189 2207l-10-30M1901 2067l-2-4M1569 1924l-9-8-10-3M1540 1905l-9-11-10-12M1502 1895l-3 5M2550 2354l-4-1-10-21M2265 2237l-10-50M2226 2211l-2 1M1873 2045l-5-7M1548 1908l-9-7M1517 1880l-7-17M1451 1864l-9-8M1435 1882l-3 10M2641 2382l-10-13M2350 2261l-4-18M2321 2251l-1 6M2292 2231l-9-8-10-21M2011 2099l-9-39M1905 2065l-10-16M1634 1937l-5-4M1585 1928l-9 7M1547 1907l-10-30M1469 1876l-10-34M1437 1868l-7 16M2649 2397l-6-6M2571 2360l-9-29M2475 2311l-6 4M2445 2299l-9-7M2434 2300l-8 30M2414 2278l-7-51M2289 2227l-8-51M2145 2168l-9-8-8-12M1593 1914l-9 14M1554 1907l-9-44M1490 1872l-3-3-10-20M2463 2306l-10-37M2376 2260l-3 8M2182 2166l-9 2-10 34M2131 2152l-7-16M2066 2125l-10-8-1 4M1495 1860l-10-40M2616 2361l-5-8M2442 2279l-10-24M2365 2245l-10-19M2219 2187l-5-13M2069 2104l-5-12M2055 2116l-3 2M2028 2086l-2-5M1793 1999l-6 4M1745 1978l-10-21-10 9M1672 1939l-5-5-9 2-10 18M1590 1894l-10-10M2600 2333l-5-13M2247 2182l-10-17M2159 2150l-9-52M1908 2043l-10-13-10-15M1782 1978l-10-20M1762 1982l-9 16M1743 1963l-10-18M1724 1958l-4 6M2700 2397l-10 6M2448 2276l-9-8M2351 2226l-2-1M2322 2211l-9 7-10 15M2293 2206l-9-11M2275 2163l-1-2M2250 2168l-5-16M1906 2039l-10-41M1797 1971l-7-46M1654 1913l-10-41M1633 1910l-5 21M2679 2382l-10-34M2650 2358l-10-36M2255 2161l-2-9M1914 2033l-10-50M1817 1978l-2 1M1804 1974l-6-34M1771 1960l-2-5M1633 1911l-10 3M2716 2385l-10 31M2677 2359l-10-40M2367 2218l-9-73M2319 2196l-6 21M2266 2163l-5-34M2138 2111l-3-4M2125 2129l-2-1M1922 2034l-10-12M1841 1987l-6-26M1762 1970l-5 8M1747 1960l-9-33M1634 1899l-3 3M2482 2275l-10 14M2381 2217l-6-8M2277 2167l-8-56M1755 1945l-9-23M1591 1883l-10-2-6 13M2461 2267l-5 6M2441 2258l-9 0M2388 2200l-5-23M2286 2171l-9-45M2210 2094l-1-10M2141 2106l-10 2-9 5-10-5M1957 2023l-2 5M1705 1930l-4 1M1628 1887l-10 6M1593 1875l-4-4M2706 2344l-5-13M2459 2255l-10 6M2393 2191l-2-9M2319 2184l-5 0-10 11M2294 2180l-9-35M2046 2040l-4-17M2031 2065l-4 12M2013 2047l-1-1M1935 2016l-9-58M1888 1997l-7 19M1858 1976l-9-18M1713 1917l-9-18M2715 2338l-6-35M2457 2250l-9-1-5 8M2413 2206l-4-16M2302 2180l-9-31M2128 2100l-10-12M1876 1980l-10-19M1808 1964l-9-18M1770 1948l-10-18-10 2M2756 2363l-10-18M2465 2235l-10-30M2320 2183l-10-20M2141 2095l-5-4-10 5M1826 1960l-10-8-9 4M1727 1909l-8-29M2522 2273l-6-10M1676 1879l-7 7M1582 1845l-10-4-9 15M2762 2366l-10-23M2743 2348l-7 9M2636 2312l-10-49M2532 2246l-3-9M2123 2076l-10-19M2038 2032l-2-3M1871 1967l-10-79M1619 1863l-10-7-9-6-10-6M2632 2290l-7-49M2479 2232l-9 13M2448 2206l-1-4M2445 2197l-4-15M1956 2001l-9-26M1829 1944l-5 12M1801 1932l-9-19M1763 1918l-10 8M2787 2359l-9 4M2671 2312l-9-27M2119 2065l-9-15M1986 1997l-2-3M1974 1995l-10-13M1587 1835l-10 3M2786 2367l-10 24M2408 2179l-10-18M2064 2025l-5-17M2021 2016l-7-12M2001 2004l-5-1M1977 1994l-5-6-9-12M1817 1919l-9-3-10-2-2 5M1769 1904l-10 4-4 15M1740 1889l-10-36M1701 1879l-10-8-9 6M1604 1835l-9-20-10 8M2803 2355l-9 28M2736 2323l-10-14M2687 2310l-10-36M2639 2293l-6-2M2581 2258l-10-28M2319 2152l-10-80M2290 2122l-10-13M2233 2097l-1-3M2213 2093l-3 0M1748 1898l-2-1M1690 1871l-10-9-10-20M1661 1845l-4 10M1622 1825l-10-26M2753 2337l-9-25M2589 2269l-10-21M2258 2117l-8-25M2216 2086l-5-19M2090 1998l-5-38M1988 1987l-10 4M1952 1958l-3-11M1891 1943l-9-30M1698 1863l-10-22M2819 2359l-9-19M2790 2345l-3 14M2761 2336l-9-7M2645 2271l-10 20M2227 2074l-8-53M1893 1938l-3 1M1793 1899l-10-17M2779 2327l-10-14M2759 2327l-9-13-10-9M2721 2304l-10-36M2111 2044l-10-44M1820 1896l-10-21M1772 1892l-10-32M1728 1854l-5-12M2835 2350l-9-35M2807 2384l-1 2M2760 2325l-2 1M2753 2318l-5-11M2698 2285l-8-31M2593 2241l-10 12M2521 2212l-5 2M2458 2195l-10-4M2126 2027l-7-71M1964 1952l-10 8M1743 1865l-2-2-10 1M2706 2290l-8-41M2423 2152l-6-35M1871 1895l-6-18M1808 1874l-1-2M1768 1865l-3 1M2725 2286l-9-4M2710 2270l-4-7M2502 2198l-9-15-10 2-10-28M2367 2081l0-2M2185 2019l-2-15M2071 1974l-4-26M1898 1911l-6-9M1728 1842l-10-5M1689 1835l-10-14-9 23M2859 2349l-10-36M2733 2297l-10-18M2598 2229l-10 6M2510 2192l-9-12M2490 2182l-9-33M2297 2085l-9-22M2261 2015l-2-19M2016 1973l-9-16M2867 2345l-10-43M2790 2317l-2-1M2488 2171l-8-53M1792 1864l-4 11M1744 1835l-10 24M1676 1811l-10-40M2730 2270l-10-22M2643 2235l-10-22M2435 2125l-6-37M2400 2129l-9-12-10-45M2289 2062l-5-19M2091 1988l-10-59M1841 1860l-2-8M1739 1834l-7 12M1648 1811l-3 3M2811 2306l-6-10-9-37M2775 2292l-8-35M2581 2215l-8 26M2402 2122l-3-1-10-58M2207 2012l-2-11M2191 2014l-5-33M2098 1990l-9-19M2036 1945l-5-10M1982 1940l-9-43M1861 1863l-5-14M1808 1854l-10 22M1730 1834l-5 6M1701 1820l-9-12M2833 2306l-10-21M2775 2281l-10-58M2668 2228l-10 8M2648 2233l-9-32M2513 2171l-10-7M2329 2082l-10-87M2198 2024l-4-10M2102 1980l-5-2-10-11M1939 1898l-7-14M1870 1873l-6-22M1806 1842l-9 23M1729 1829l-10-21-10 13M2705 2255l-4-1M2692 2244l-6-19M2579 2186l-9 25M2335 2072l-8-63M2183 1947l-1-7M1892 1879l-10-6-10-21M1785 1843l-10-47M1708 1811l-10 0M2694 2241l-3-5M2006 1932l-10-15-3 8M1725 1809l-9-12M2808 2279l-9-8M2364 2050l-1-9M2014 1924l-10-15M1908 1874l-10-32M1733 1797l-1 2M2622 2192l-9 0-10 4M2549 2156l-4-10M2099 1955l-9-11M2009 1916l-6-23M2892 2320l-10-5-9-6-10 3M2823 2274l-9-51M2630 2186l-9-20M2601 2183l-9 6M2582 2175l-10-26M2409 2093l-1-2-10-30M2220 1985l-6-37M2136 1969l-3 11M2104 1961l-6-13M2049 1927l-4 10M1807 1825l-7 28M2929 2324l-10 7M2910 2320l-10-38M2607 2174l-7-17M2094 1945l-8-48M1912 1855l-10-42M2937 2310l-10 8M2617 2167l-9-36M2538 2116l-8-63M2243 1960l-3-31M2120 1947l-6-27M2046 1922l-4 9M2829 2261l-10-16M2693 2198l-10-7-4 1M2635 2168l-10-35M2416 2070l-4-6M2250 1958l-2-17M1957 1880l-10-58M2962 2321l-9-17M2846 2257l-9-24M2769 2229l-10-35M2749 2222l-9 39M2720 2204l-9-10M2672 2181l-10 1-9-26M2361 2039l-9-58M2067 1881l-5-38M2026 1920l-3 4M1990 1887l-6-5-9 20M1965 1862l-10-53M1742 1774l-10-13M2970 2316l-9-9M2885 2285l-2-1-9-25M2864 2275l-10-15-10-51M2711 2193l-2-5M2668 2181l-8-33M2206 1939l-1-3M2134 1956l-3 6M1866 1820l-9 13M1837 1809l-9 0M2717 2188l-10-12M1983 1881l-2-1M1884 1821l-10-10M1831 1808l-5-4M1823 1807l-4 4M2950 2304l-2-2-10-17-10 6-9 17M2909 2270l-10-32M2725 2194l-10-21M2625 2131l-7-45M2560 2113l-10-34M2124 1920l-9-8M2037 1894l-9-35M1969 1860l-4 1M1805 1777l-10-5-10 19M2975 2310l-10-4-9-12-10-20M2936 2275l-10 9-9-24M2781 2226l-9-74M2733 2197l-10-25M2703 2168l-9-40M2629 2119l-3-12M2568 2117l-10-18M2431 2048l-8-53M2373 2028l-8-46M2983 2306l-10-7M2867 2257l-10-2M2789 2204l-10-53M2741 2186l-10-10M2219 1922l-1-5M1989 1861l-4-6-9 19M1801 1769l-9 7M1790 1781l-1 3M2949 2280l-7-28M2923 2275l-4-8M2917 2261l-4-8-6 8M2865 2252l-10-27M2797 2213l-10-31M2584 2119l-10 8M2463 2045l-5-12M2129 1913l-10-3M2044 1865l-2-4M2032 1858l-2 2M1996 1852l-3-1M1890 1799l-3-1M1882 1808l-2 5M1858 1790l-10-13M1811 1753l-2-6M2873 2240l-10-7M2573 2108l-10-12M2544 2097l-7-12M2410 2002l-2-8M2117 1894l-6 7M1982 1848l-10-15-10-29M1875 1784l-9-8M2997 2294l-10-10-7 15M2756 2133l-1-6M2668 2141l-10-2-10-27M2581 2107l-10-22M2545 2089l-3-1M2144 1899l-9-46M2050 1841l-2-7M1893 1792l-10-40M1854 1780l-2 1M3024 2300l-9-15-10 16M2818 2202l-7-28M2714 2166l-9-23-5 1M2548 2082l-8-22M2411 2002l-6-37M2147 1878l-4-26M1896 1778l-5-7M1832 1758l-9-49M2926 2245l-10 17M2577 2081l-4 4M2567 2090l-9-14-10-38M2480 2038l-2 3M2232 1917l-4-17M2146 1867l-5-36M1990 1827l-4-6-9 14M1851 1755l-10-25M3011 2287l-10 9M2189 1875l-1-5M2072 1865l-1 3M1990 1823l-5-5-10 8M2893 2223l-9-20M2874 2204l-10-9M2727 2151l-8-19-10-30M2248 1884l-4-31M1983 1809l-10 11M1896 1775l-3-2M2896 2218l-4-4M2872 2201l-10-52M2508 2016l-4-22M2340 1920l-1-2M2197 1863l-3-19M2027 1818l-7-24M1894 1757l-10-4M3035 2279l-10 15M2996 2263l-9 6M2899 2212l-9-9-10-37M2776 2131l-2-9M2648 2103l-4 3M2609 2079l-10-16M2435 2004l-10-62M2076 1842l-9 12M2036 1813l-8-38M1873 1747l-10-10M1854 1739l-10-14M3082 2296l-10 19M2946 2222l-2 0M2782 2134l0-2M2617 2075l-10-40M2588 2061l-10-13M1920 1759l-10-7M1891 1746l-10-28M3051 2267l-10-12-9 24M2365 1904l-2-15M2152 1852l-2-2M2105 1835l-3-5M2111 1820l-1-5M2100 1827l-1 5M1906 1741l-9-27M2980 2236l-10 16M2893 2181l-10-7M2699 2100l-4-4M2689 2088l-10-29M2641 2078l-10-25M2388 1942l-9-79M2266 1914l-3-1-2 4M2098 1831l-1 2M2016 1803l-5 8M3026 2239l-9-1-10 0-10-21-9-17M2978 2214l-10 20M2944 2194l-5-13M2765 2116l-10-13M2736 2115l-10-12-2 0M2639 2071l-10-94M2271 1893l-10 4-5 4M2112 1818l-6-16M2058 1817l-10-8-9 0M3023 2238l-8-37M2976 2222l-9 2M2957 2207l-3-3M2783 2131l-10-40M2647 2056l-10-86M2540 2009l-9 7-5 2M2459 1959l-6-39M2260 1897l-6-6M2118 1799l-4-18M3120 2267l-3 1M2984 2204l-10-25M2853 2152l-2-4M2820 2138l-8 19M2529 2000l-6 6M2268 1881l-10-15M2093 1804l-9-2-10-13M2064 1788l-10 21M3137 2272l-9-11M2895 2168l-9 9M2744 2091l-4-8M2682 2065l-1-2M2679 2058l-6-13M2524 1999l-1 2M2150 1828l-10-5M2089 1802l-7-48M2004 1776l-9-1M2961 2190l-9-33M2903 2162l-9-10M2892 2156l-8 18M2789 2099l-2-5M2516 1982l-10-72M2285 1859l-2-5M1993 1758l-10 10M3086 2228l-10-8M3066 2238l-10 32M2963 2182l-3-4M2858 2147l-5-4-10-23M2717 2078l-9-14-10 3M2530 1984l-6-22M2448 1913l-2-7M2059 1782l-10 6M2040 1777l-10 2M3152 2268l-10-7-10-23M2871 2144l-10-11-6 9M2762 2070l-7-49M2735 2078l-10-43M2706 2062l-10-3-9-69M2212 1835l-10-33M2096 1796l-10-16M2062 1764l-5-4M1960 1726l-9-8-3 7M3063 2222l-10-60M2898 2152l-10-31M2859 2130l-2 6M2731 2057l-7-39M2237 1827l-7-63M2143 1809l-6-8M2026 1761l-9 12M1978 1742l-10-13-9-7M3177 2266l-10 10M2906 2152l-10-41M2809 2099l-10-20M2542 1956l-4-24M2288 1852l-2-5M2129 1775l-7-55M2044 1762l-10-13M3164 2246l-8 16M2969 2167l-7-11-9-3M2914 2137l-10-37M2208 1794l-1-2M2152 1801l-3 0-10-25M3193 2249l-10 4M3009 2170l-10-5-4-6M2922 2131l-10-31M2835 2104l-10-17M2786 2069l-9-53M2425 1914l-7-28M2267 1802l-4-22M2169 1786l-3-6M1982 1719l-9 0M3143 2239l-10 1M3017 2170l-10-35M2833 2091l-10-6M2809 2061l-5-16M2429 1885l-3-11M2286 1840l-5 0M2280 1835l-1-4M2278 1825l-7-37M2209 1793l-5-23M3209 2261l-10 22M2018 1727l-10 4M3207 2249l-9-3-3 6M2887 2103l-9-58M2745 1993l-3-26M2060 1749l-5 9M2035 1726l-9 4M1993 1729l-3 12M3225 2250l-10 12M3206 2242l-10 0-7 7M2905 2102l-9-31M2063 1723l-10 18M2024 1720l-10-24M3233 2241l-10 38M2923 2100l-10-46M2759 2010l-1-4M2359 1854l-2 3M3154 2201l-10-40M2834 2064l-7 12M2383 1836l-4-24M2305 1779l-4-36M2269 1785l-6-33M2195 1776l-10-6-5 4M3208 2227l-5 15M2551 1921l-9-56M2484 1831l0-2M2396 1862l-9-25M2310 1785l-1-7M2195 1773l-2-3M3130 2186l-9-38M2956 2108l-9 8M2831 2059l-6 9M2153 1757l-10 1M3143 2154l-4-22M3018 2113l-5-13M2364 1841l-10-11-4 3M2190 1752l-6 20M3205 2210l-10-22M2284 1784l-9-93M2178 1751l-9 4M2052 1695l-9-4M3281 2237l-10-13M3269 2229l-8 24M3223 2178l-1-3M3051 2109l-3-10M3005 2097l-5-19M2147 1725l-9 25M3288 2229l-9-1M2846 2014l-3-7M2749 1966l-3-15M2403 1856l-5 12M2368 1828l-5 10M3267 2227l-9-8-10-39M3067 2103l-3-9M2921 2028l-2-16M2822 2023l-10-30M2767 1971l-3-8M2706 1957l-10 2M2347 1809l-2-4M2318 1797l-9-41M2205 1732l-3-6M2144 1721l-10-5-5 13M3304 2226l-9 43M3275 2210l-9-2-10 9M3091 2129l-9-71M2985 2082l-10-51M2945 2066l-9-57M2829 2007l-9-40M2372 1809l-7 12M2355 1812l-9-12-4-8M2211 1706l-1-2M2152 1712l-10-20M2133 1707l-10 12M2106 1694l-2-3-10-19M2080 1686l-6-1M3222 2176l-6-41M3099 2140l-9-89M2954 2060l-10-77M2833 1994l-5-25M2635 1884l-1-3M2363 1792l-9 6-10-22M3227 2164l-4-9M3024 2103l-4 4M2959 2059l-7-23M2148 1698l-9-43M3251 2179l-10-25M3115 2137l-9-28M2748 1946l-1-3M2354 1781l-4-11M2257 1721l-4-17M2156 1688l-9-48M3225 2157l-5-12M2995 2064l-7-30M2872 1991l-1-3M2796 1932l-2-15M2731 1912l-5-42M2436 1824l-10-40M2361 1761l-3-6M2159 1671l-4-20M3029 2071l-4-13M3015 2066l-10-7-9-26M2940 1983l-3-18M2833 1991l-2-1M2431 1805l-7-40M3342 2222l-9 7M3275 2179l-10 12M2853 1964l-4-21M2705 1898l-2-10M3360 2222l-10-27M3337 2218l-4 10M3234 2157l-10-8M3129 2113l-1-1M3044 2046l-4-16M2837 1985l-10-29M2463 1771l-4-30M3368 2212l-10-25M3271 2177l-10-5-9-10M3133 2096l-7-17M3065 2068l-7-21M2760 1914l-2-7M3376 2214l-10-14M3342 2205l-5-3-9 7M3240 2155l-9-6M3195 2134l-3-3M2746 1922l-3-5M2488 1789l-3-13M2342 1747l-2-4-10-16M3347 2197l-2-1M3248 2152l-9 2M3122 2082l-8-40M2813 1949l-1-3M2811 1940l-8-69M2378 1704l-1-5M2202 1682l-9-11M2191 1676l-4 11M3314 2167l-9-51M3266 2158l-10 2M3237 2142l-10-12-7 14M3128 2082l-7-37M3039 2025l-5-20M2746 1900l-3-6M2260 1688l-1-2M3245 2143l-10-17M3226 2136l-10 5M3187 2115l-5 1M3135 2085l-6-16M3047 2032l-5-18M2954 2003l-9-18M2862 1949l-5-19M2680 1848l-7-71M2313 1707l-8-29M3398 2192l-10 25M3361 2147l-2-4M3348 2180l-4 15M3303 2115l-2-11M3101 2015l-3-20M2962 1997l-9-10M2838 1930l-2-2M2477 1779l-9-60M2206 1660l-9-28M3396 2198l-9 5M3329 2166l-10-27M3251 2121l-10 18M3138 2075l-3-5M3007 2010l-8-25M2815 1936l-2-4M2761 1893l-4-5M2560 1791l-6-35M2485 1779l-9-68M2225 1672l-3 1M3398 2192l-3 1M3276 2123l-7-30M3151 2067l-8-35M3009 2004l-2-3M2902 1923l-1-8M2823 1923l-9-14M2349 1714l-10-24M3357 2147l-3-8M2976 1994l-4 6M2957 1986l-3 1M2926 1949l-8-40M2763 1886l-9-42M2256 1654l-6-19M2221 1649l-5 11M3359 2143l-7-35M3246 2115l-10-62M3207 2096l-3-5M2746 1828l-4-36M2312 1667l-6-45M2271 1631l-3-18M2219 1642l-4 15M3215 2084l-10-11M3105 2020l-6-27M2861 1911l-4-14M2837 1928l-3 3M2768 1875l-8-40M2324 1694l-10-33M3407 2177l-10 0M3388 2170l-10 5M3330 2129l-10-29M3219 2083l-6 0M2981 1984l-7 10M2961 1966l-9-66M2863 1906l-8-35M2781 1843l-3-16M2561 1777l-6-13M3434 2181l-9-47M3331 2124l-3-3M3283 2071l-4-17M2359 1696l-9-29M3365 2135l-10-25M3220 2069l-10 8M3132 2025l-9-9M2893 1868l-3-22M2545 1761l-3-9M2302 1617l-2-13M3398 2138l-6-19M3208 2061l-9 4M3024 1982l-5-6M3014 1969l-9-36M2548 1759l-8-33M2346 1683l-9 6M2327 1676l-10-14-2-1M3406 2135l-6-23M3110 2007l-10-43M2878 1838l-1-5M2556 1762l-8-49M2364 1680l-10-6M2325 1660l-10-20M3466 2173l-9-1M3117 1998l-9-91M2566 1720l0-2M2333 1661l-10-22M3363 2093l-5-22M3302 2055l-2-10M3130 1981l-4-40M2389 1678l-9-7M2351 1664l-10 15M3501 2176l-9-9-10 1-10-2-5 6M3317 2081l-4-1M3148 1984l-5-30M2809 1808l-5-52M3519 2179l-10-41M3480 2151l-9-1-10-6-10 3-9 18M2829 1846l-7-43M2480 1705l-5-21M2357 1642l-10-13M2338 1653l-10-9-10-245M3527 2179l-10-65M3479 2140l-10-9M3440 2126l-10 11M3333 2080l-9-17M3314 2073l-2 0M3040 1954l-7-29M2365 1643l-10-8M2336 1637l-10-295M3458 2129l-10-9M3399 2103l-9-18M3346 2071l-5-23M3051 1953l-10-31M2344 1636l-10-233M3060 1934l-1-2M3415 2101l-9-4M3064 1927l-7-44M3540 2152l-10 36M3423 2099l-9-24M3394 2086l0 2M3305 2032l-8-33M3239 2023l-9-21M3015 1915l-8-28M3557 2163l-10-5-9 17M3431 2096l-9-38M3373 2075l-10-3M3476 2131l-2 3M3398 2079l-7-20M3064 1908l-2-12M2384 1633l-10-200M3548 2124l-4-15M3457 2108l-10-24M3370 2052l-10 2M2413 1640l-2-1M3581 2160l-10-32M3494 2113l-10-6-10-10-9-3-10 6M3403 2069l-6-23M2425 1635l-6-7M2399 1624l-9-101M3453 2093l-9-38M3409 2066l-4-9-10-47M3277 1994l-8-37M3037 1901l-10-97M2839 1811l-5-12M2485 1650l-10-44M3481 2085l-10-9M3423 2059l-10-9M3364 2050l-9-10-10 19M3281 1988l-4-7M3138 1928l-6-11M3041 1888l-6-7M2613 1695l-4-7M2599 1690l-9 13M2425 1621l-10-4-9-5M3421 2058l-10-34M3371 2039l-8-42M3139 1924l-9-46M3076 1894l-4-20M2879 1814l-4-1M2598 1692l-10 0-10-85M2436 1611l-3-2-10-20M3550 2091l-5-29M3425 2053l-6-18M3379 2018l-8-44M2982 1855l-6-24M2602 1679l-6-15M2538 1656l-10-6-4 12M2442 1593l-1-3M3621 2146l-10-11-2 6M3518 2081l-4-6M3431 2042l-4-11M3383 2007l-4-20M3240 1947l-7-32M2845 1777l-9-95M2652 1705l-9-48M2604 1675l-10-26M3638 2148l-9 4M3600 2130l-10-5M3556 2092l-5-22M3383 2005l-6-37M3005 1835l-6-21M2936 1815l-5-11M2853 1773l-9-72M2607 1663l-5-17M3482 2064l-10-4M3458 2046l-5-10M3159 1890l-7-43M3042 1867l-6 6M2949 1818l-6-7M2923 1822l-3-2M2533 1631l-10 6-3 6M3495 2063l-5-8M3461 2042l-10-45M3343 1997l-8-23M3167 1886l-7-44M3044 1854l-10 5-1-4M3624 2108l-10-35M3604 2109l-6 19M3469 2040l-10-58M3265 1950l-3 13M3169 1875l-1-5M2449 1574l-7-32M3638 2118l-7-19M2956 1788l-2-5M2547 1627l-10-41M3668 2134l-9 5M3607 2094l-6-26M2880 1776l-6-10-1 2M2555 1633l-10-56M3521 2061l-9-5-10-38M3480 2027l-7-7M3349 1970l-2-2-7 19M3040 1803l-3-17M2892 1768l-10-18M2563 1620l-10-22M3694 2135l-10 6M3568 2077l-10-34M3502 2017l-2-6M3401 1991l-2 5M3336 1971l-1 3M3702 2117l-10 3-9 13M3587 2079l-1 2-10-16-10-30M3518 2041l-10-50M3356 1947l-3-9M3022 1804l-8-21M2988 1790l-3-8M2906 1759l-8-26M2573 1603l-4-19M3525 2037l-9-32M2955 1785l-10-17M2911 1760l-5-13M2736 1676l-4-10M3708 2112l-9 29M3631 2091l-10-44M3515 2001l0-2M3367 1942l-7-74M3174 1862l-8-53M2983 1781l-1-2M2875 1736l-9-36M3648 2088l-9-16-10-27M3529 2018l-6-15M3439 1996l-4-4M3376 1965l-8-55M3309 1942l-9-45M3177 1850l-3-11M3019 1792l-10-30M2946 1765l-5-12M2887 1730l-4-15M3061 1770l-5-49M3022 1789l-5-23M2940 1761l-10-12-10-27M3655 2066l-10-25M2982 1738l-5-56M2951 1747l-3-3M2890 1730l-4-6M2854 1685l-3-13M2609 1616l-8 20M2580 1594l-10-14M3701 2100l-9 0M3498 1989l-10 14M3398 1965l-7 13M3382 1954l-10-38M3330 1913l-6-8M3217 1868l-10-27M2907 1736l-10-21M2864 1696l-5-28M2657 1588l-2-6M3758 2108l-10-20M3709 2094l-9-26M3514 1995l-8-25M3428 1956l-9-35M3399 1959l-9-15-10-27M2985 1745l-2-7M2737 1666l-2 4M2625 1611l-10-25M3716 2076l-8-42M3520 1981l-6-42M3436 1966l-9-31M3314 1900l-4-12M3180 1831l-5-17M2991 1757l-10-38M2640 1603l-7-34M2584 1587l-4 9M2549 1552l-4-2M3527 1961l-5-37M2916 1707l-4-16M2840 1676l-6-15M2573 1564l-10-28M3770 2108l-6 13M3384 1921l-9-95M3220 1855l-5 4M3133 1813l-10 3-2 1M2850 1671l-8-42M3034 1763l-10-1M2994 1745l-2 7M2676 1594l-10-8M2561 1533l-1-4M3478 1957l-1-2M3400 1927l-9-80M3292 1863l-8-56M3216 1848l-9-15-10-58M2953 1720l-8-44M2905 1699l-8-19M2787 1641l-6-30M2671 1588l-7-27M3786 2093l-10 8M3721 2058l-3-2-6-8M3544 1987l-10-52M3302 1874l-10-78M3234 1838l-10 14M3215 1831l-10-50M3171 1796l-5-8M2907 1686l-2-3M3484 1948l-10-59M3341 1846l-2-8M2914 1677l-1-3M3788 2085l-5 1-10 6M3744 2057l-10-53M3493 1928l-1-2M2892 1669l-10-56M3829 2083l-9-10M3781 2074l-10-10-10-3-9-38M3678 1993l-4-16M3645 2005l-9 16M3548 1961l-5-5M3452 1898l0-2M3132 1780l-10-28M3078 1724l-4-31M3040 1727l-5-6M2764 1616l-10 1M3171 1755l-2-11M3132 1776l-2-2M3004 1717l-9 16M3555 1963l-5 1M3409 1888l-9-22M3119 1765l-10-51M3032 1724l-10-2-10-11-9-2-10 11M2920 1661l-5-13M2760 1602l-9-6-10-3-10-11-2 1M3136 1761l-9 1-10-45M3011 1704l-10-9-10 5M2985 1711l-1 2M2836 1636l-3 9M2768 1592l-9-18M3571 1961l-10-2M3248 1787l-3-12M3211 1794l-8-47M3028 1714l-9-18-10-1M2854 1627l-10 0M2776 1594l-9-43M2670 1559l-6-2M3801 2051l-1 2M3443 1883l-10-8M3158 1744l-6-31M3062 1701l-6-42M3007 1690l-3 4M2794 1608l-10-31M2678 1546l-10 0-4 3M3809 2042l-9-7M3761 2033l-10-25M3492 1876l-2-8M3454 1871l-3-9M3347 1839l-3-5-3 4M2996 1694l-10-16-10-20M2800 1586l-8-16M3769 2019l-10-20M3693 1974l-2-5M3662 1979l-9 8M3556 1922l-10 21M3460 1858l-1-6M3365 1810l-3-17M3004 1692l-10-28M2984 1663l-9-22M2916 1640l-4 3M2810 1598l-1-2M2804 1583l-4-10M3883 2075l-9-26M3854 2062l-10 31M3786 2032l-9-31M3667 1974l-7-7-9-16M3583 1928l-10 8M3472 1873l-5-21M3312 1818l-10-20M2866 1622l-9 11M2808 1585l-9-43M2673 1520l-10 4M3891 2064l-10-33M3852 2046l-9 47M3833 2039l-10-40M3708 1950l-1-6M3668 1968l-9-31M3533 1917l-10-8-10-8M3360 1793l-1-12M3339 1820l-5 1M3328 1815l-8-27M3219 1753l-6-13M2978 1646l-7-39M2952 1640l-10-11M2884 1620l-10-31M2863 1610l-8 22M2729 1528l-10-316M3899 2072l-10-33M3841 2045l-10-50M3726 1949l-1-5M3521 1895l-9-4M3440 1865l-6 0-4 5M3342 1807l-5-1-9-33M3182 1743l-6 9M3106 1688l-1-3M2998 1670l-2-2M2991 1663l-2-1M2953 1635l-3-2M2853 1593l-10-8M3813 2022l-3-3-9 0M3646 1955l-10-5M3633 1954l-7 9M3549 1911l-10-17-10-9-9 1M3444 1854l-2-1-9-9-10 0-4 3M3232 1741l-3-5M3179 1732l-8 14M3071 1670l-7-19M2900 1622l-10-17M2741 1485l-6-72M3915 2068l-10-35M3847 2040l-9-26M3576 1907l-10 1-9-30M3508 1882l-2 4M3485 1864l-6-14M3463 1847l-3-10M3276 1764l-10-11M3184 1727l-5-2M3160 1729l-10-37M2995 1643l-10-21M2956 1625l-5 8M3856 2024l-1-2-10-35M3797 1996l-10 2-6 10M3264 1765l-8 19M3013 1650l-10-32M2955 1624l-4 7M3700 1941l-2-2M3592 1915l-10-38M3507 1883l-2 0M3489 1851l-4-15M3214 1729l-9-10M3021 1642l-10-35M2904 1600l-9-10-10 12M3865 1996l-4-13M3702 1942l-5-15M3677 1944l-9 16M3648 1935l-9-12-10 15M3038 1652l-9-6-10-32M2956 1616l-5-2-7 16M2854 1579l-4 10M2825 1557l-10-14-9 11M3947 2044l-10 5M3792 1988l-10 2-9-11-10 3M3656 1923l-9-26M3627 1917l-9 17M3501 1854l-9-26M3420 1815l-6-6-3 12M3190 1716l-8-32M3112 1667l-8-22M3050 1632l-4-17M2872 1562l-10-2-10 20M2833 1558l-10-28M3761 1968l-5 13M3426 1800l-4-8M3335 1767l-10 6M2919 1594l-10-32M2860 1565l-9-1-10-4-10-23M3730 1954l-5-7M3686 1924l-4 5M3324 1763l-10-36M3121 1628l-1-3M2952 1612l-6 11"/>
<path stroke="#463cde" d="M2119 2522l8 26M2143 2517l8 10M2159 2519l8-2 8 23M2358 2452l8-16M2374 2459l8 32M2390 2456l8-47M2406 2437l8 26M2469 2429l8-21M2541 2415l8-17 8 35M2644 2383l8-15M2660 2386l8 24M2708 2358l8 27M2732 2354l8-36M2795 2347l8 8M2827 2331l8 19M3106 2262l8-6 7 53M3185 2249l8 0M3296 2210l8 16M3408 2189l8-34M3424 2171l8 42M3535 2148l8-16M3551 2134l8-17M3567 2145l8 43M3654 2108l8-39M3710 2101l8-29M3750 2097l8 11M3821 2072l8 11M3964 2041l8-12M2245 2483l8 55M2470 2431l6 20M2649 2376l2 2 8 33M2714 2363l8-25M2738 2343l8 2M2810 2340l8-36M2849 2313l8-11M2953 2304l8 3M3106 2264l6 57M3350 2195l8-8 8 13M3410 2178l4 4 8 28M3509 2138l8-24M3541 2130l8-6M3716 2101l8-19M3727 2079l5-9M3750 2097l6 40M3804 2067l8-24M3820 2078l8 44M3955 2024l8 6M2269 2470l6 17M2352 2485l3 19M2390 2459l4 18M2514 2408l8 13M2601 2377l8-33M2705 2346l7-8M2800 2325l8-17M2840 2325l8-41M3229 2221l8-23M3537 2147l3 5M3571 2128l8-7M3654 2111l5 28M3728 2078l2 1 8 34M3794 2072l8-13M3874 2049l7-18 8 8 8-1 8-5M3945 2035l8-11M2552 2387l8-12M2591 2382l8-44M2727 2338l8-13M3124 2233l8 5M3363 2178l8 0M3490 2127l8-40M3585 2116l8 31M3864 2044l8-28M2669 2348l8 11M2701 2331l8-28M2900 2282l8 28M3115 2225l8-24M3297 2192l8-26M3353 2173l8-25M3433 2143l8 20M3544 2109l8-18M3633 2103l6 15M2286 2434l8-19M2469 2384l8-8M2548 2378l5 6M2660 2349l7-30M2691 2329l8-52M2787 2314l8 21M3113 2217l8-18M3240 2198l8-18M3288 2183l8-51M3415 2143l8-14M3534 2111l8-8M2173 2474l8 4M2197 2459l4 10M2276 2430l8-15M2554 2373l8-8M2564 2372l6 23M2769 2313l8-21M3103 2227l8-10M3214 2191l8-16M3233 2181l5-18M3286 2172l8-41M3405 2136l8 2M3700 2068l8-34M3779 2048l8 0 8-1 6 12M2107 2475l8-8M2163 2465l8-4 8-27M2447 2410l2 4M2521 2373l8 16M2545 2363l8-10M2747 2320l5 9M2823 2285l8 6M2942 2252l8-8M3093 2209l8 7M3284 2156l8-21M3539 2103l8-12 0 2M3769 2038l8-5M2153 2453l8-15M2233 2440l8-21M2296 2428l8-8M2448 2385l0 2M2498 2364l5-9M2507 2367l4 12M2726 2309l8-1M2797 2296l8 0M2933 2242l8-27M3076 2220l8 6M3092 2207l8 2 1 5M3124 2209l7-16 8 28M3147 2193l8 29M3187 2180l8 8M3259 2175l0 3M3346 2144l8-5M3529 2093l8-31M3601 2068l8 22M2136 2455l8-26M2223 2420l8-3M2740 2305l8 2M2891 2253l8-15M3106 2190l8-20M3209 2163l8 12 1 2M3241 2154l8 7M3300 2134l5-18M3337 2140l7-22M3365 2148l3 15M3392 2119l8-7M3519 2092l8-23M3647 2065l8 1M3663 2057l8-62M3726 2039l8-35M3838 2014l7-27M2118 2452l8-42M2190 2439l8-40M2285 2399l8-13M2579 2325l8-28M2874 2259l8-19M3080 2190l8-13M3223 2155l8 6M3319 2139l8-8 8-11M3383 2122l7-3M3519 2086l7-40M3613 2060l8-13 8-2 8 0 8-4 8-15M3828 1991l8-33M2108 2444l8-35M2149 2430l7-35M2180 2427l8-83M2275 2399l8-12M2450 2362l8 17M2562 2331l8-46M2816 2256l8 22M3015 2201l8 10 8 35M3071 2201l8-31M3191 2166l7-29M3298 2122l3-18M3702 2015l5-19M1987 2477l8 32M2266 2404l8-8M2295 2388l3-5 7-9M2315 2390l6 26M2520 2324l8-16M2552 2326l8-46M2597 2317l3-3M2670 2310l1 2M2679 2297l8 13M2719 2288l1 6M2767 2257l8 24M3037 2200l8-33M3284 2130l8-47M3355 2110l8-17M3594 2042l8-64M3777 2001l8 12M3808 1983l8-34M1970 2468l8 4M2041 2441l8-32M2282 2388l6-25M2312 2371l0 2M2447 2338l8 22M2471 2343l8 7M2542 2327l8-45M2587 2295l3-13M2662 2285l8-41M2837 2233l7-24M2988 2200l8-15M3027 2188l8-54M3274 2130l8-17M3322 2124l8 5M3351 2105l2-4M3584 2047l8-93M3746 1999l5 9 8-9 8-2M3799 1997l8-27M1968 2469l8-42M2366 2363l8-24M2382 2358l7 12M2397 2360l8-18M2408 2347l5 11M2453 2328l8-20M2533 2321l8-26M2819 2245l8-28M3056 2154l1-6M3113 2164l8-16M3222 2147l2 2M3320 2100l8 21M3391 2098l8 5M3439 2079l8 5M3450 2090l5 10M3558 2043l8-8 8-2 8-76M3749 1999l8-11M1970 2469l4 7M2284 2363l8-17M2312 2369l4-9 8-16M2348 2361l8-38M2443 2330l8-23M2491 2327l4-16M2618 2288l8-25M2650 2279l1-4M2808 2214l1-4M3054 2149l2-5M3103 2158l8-24M3350 2095l8-24M3366 2090l8 21M3382 2080l8 5M3414 2075l8-17M3545 2031l4-10M3565 2025l8-7M1941 2451l8 43M2030 2436l6 19M2267 2372l8-23M2295 2347l4-7M2332 2359l6-24M2386 2331l8-33M2489 2312l8-41M2601 2291l8-38M2676 2261l4-4 8-14M2798 2214l2-9M2855 2225l8 8M2903 2208l8-3 6 24M2943 2194l8 2 8 31M2974 2179l8-47M3404 2070l8-3M3444 2055l8-5M3531 2030l8-33M3810 1960l4-5M1931 2456l8 24M2011 2440l7-8M2090 2406l8-38M2286 2342l3-10M2326 2345l3-6M2372 2333l4-6 8-10M2527 2298l8-79M2572 2261l3-12M2917 2200l8-21M2965 2179l8-19M3164 2137l8-21 4 22M3259 2092l2 0M1929 2449l8-7M1945 2490l0 2M2080 2400l8-5M2247 2367l2-1M2274 2348l5-32M2478 2305l8-37M2884 2203l8 11M2941 2185l4 8M3186 2121l8 25M3431 2043l1-3M3464 2051l8 9M2849 2224l1 4M3172 2116l4-7M3224 2106l8 24M3271 2082l8-28M3391 2059l8 1 4 11M3494 2026l8-8M2077 2391l8-4M2352 2313l3-11M2777 2219l0 3M2856 2191l8 4 8 6M2916 2161l4-11M2944 2157l8 0 8 21M3046 2124l1-4M3254 2092l8-32M3389 2042l8 4M3400 2050l5 7M3413 2050l4 4M3445 2044l8-8 8 6M3477 2033l7-7 8-9 8-6 8-20M3691 1969l8-14M3771 1942l8-31M1980 2419l8-5M2059 2384l8 10M2322 2330l3 14M2839 2180l8-43M2907 2161l3-7M2927 2160l7-31M2991 2146l7-18M3050 2121l3-8M3228 2086l8-33M3324 2063l8-26M3379 2050l8-34M3411 2024l8 11 8-4 8 10M3443 2022l8-25M3515 1999l8 4 7-21M3682 1962l8-45M2073 2386l8-6 4 8M2145 2357l8 27M2686 2225l8 16M3010 2123l2-6M3125 2117l1 6M3219 2088l8-29M3271 2039l3-27M3433 2022l8-28M3473 2020l8-19M3527 1989l2-5M3545 1991l4 18M3672 1969l8-22M2064 2369l8-12M2080 2369l8-15M2119 2358l8-55M2215 2347l8-12M2455 2273l6 12M2764 2188l8-36M2811 2174l8-9M3002 2121l8-7M3098 2110l8-1 7-52M3201 2077l1 7M3259 2050l6-39M3463 2000l8-16M3519 1995l8-35M1863 2426l8-11 8 9M2014 2384l8 5 8 11M2324 2309l8 20M2567 2236l4-6 8 18M2786 2178l8-17M2937 2138l8 2 8 13M2992 2126l8-44M3048 2099l8-24M3096 2096l8-53M3244 2047l3-8M3457 1984l5-29M1997 2380l8-31M2156 2348l8-7 3 7M2529 2237l8-50M3038 2097l8-61M3167 2067l7-39M3229 2054l8-19M3412 2000l8-14M3651 1951l8-14M3663 1950l4 11M1852 2406l8 50M1987 2385l8-10M1996 2371l7-41M2043 2364l8 1 8-14 7 3 8-3 8-3M2154 2333l8 6M2297 2295l8-16M2424 2257l8-2M2520 2227l8-6M2619 2222l4 4M2639 2201l8 0M3013 2100l5 13M3403 2000l7-12M3506 1970l8-31M3697 1927l8 7 2 9M1969 2381l8-1M2041 2352l8-16M2065 2355l8-20M2701 2190l8-2 8 0M3218 2048l8-12 8-11M3385 1992l8 2M3496 1963l8-60M3691 1921l4-8M2206 2313l8-1 8 17M2691 2169l8-3 8 10 8-3 8-1 8 4 8-8 8-34M2776 2144l3-10M3343 2000l8-37M3423 1983l8-22M3487 1972l7-45M3526 1957l8-22M2157 2315l8-6 8 0 0 2M2174 2317l5 27M2204 2303l8-7M2215 2305l5 15M2252 2292l8 13M2768 2132l1-3M2888 2121l8-10 8-11M2998 2083l2-5M3243 2024l3-7M3614 1930l6 14M1980 2355l8-1 8-30M2139 2308l8-36M2163 2293l8-5M2219 2280l8-68M2386 2249l8-57M2592 2193l8-2M2728 2160l8-53M2879 2110l8-5 8-5M2974 2089l8-8M3316 2008l8-5M1795 2401l8 38M2106 2305l7 7 8-11 8-24M2201 2293l8-24M2686 2166l8-38M2869 2106l8-17M3402 1971l8-51M2096 2301l8-21M2175 2289l8 0M2191 2290l8-21M2493 2204l8 13M2653 2156l7-8M2827 2114l8-12 8 18M3002 2071l8-12M3012 2066l6 25M3058 2047l8-30M1848 2366l1 3M1887 2350l8 19M2150 2275l8-12M2182 2270l8-1M2349 2225l8 28M2372 2227l6 12M2675 2151l8-54M2818 2103l8-2M2945 2067l8 6 1 7M3025 2058l8-19M3160 2023l8-48M3200 2006l2 2M3295 1987l3 7M3327 1969l8 5M3462 1945l8-29M3565 1921l8 15M1936 2350l5 23M2204 2264l8-22M2351 2229l4-3 8-17M2442 2191l6 16M2800 2116l8-7M2896 2071l8-33M2967 2054l8-23M3185 1998l5-20M3253 1994l8-20 8-17M3277 1981l2 3M3293 1985l8 0 8-27M1916 2321l8-45M2118 2275l4-5 8-6M2464 2193l8-3M2600 2157l8-26M2727 2122l3 13M2846 2083l8-27M2957 2066l8-35M3074 2000l3-17M3212 1989l6 22M3291 1969l8-11M3414 1937l5-16M3427 1935l8 4 8-31M3470 1915l4-26M2073 2280l8-7M2113 2267l8-22M2375 2209l8-32M2399 2194l8-6 1-2M2696 2124l5-12 8-10M2773 2091l8 20M2988 2034l8-1 7-9M3059 2020l8-46M3107 2007l8 24M3123 2016l8-34M3202 1984l8 4 8-42M3345 1954l8-16 4 4M3425 1933l8-26M3460 1893l5-28M3586 1900l6 15M1777 2363l8 5M1817 2353l8-45M1865 2324l7-8M1952 2319l3 5M2008 2298l8 4M2055 2287l8 8M2159 2252l8 8M2199 2251l7-35M2310 2222l8 17M2366 2205l7-17M2572 2149l8-16M2687 2102l5-15M2755 2103l8-6M3042 2014l7-11M3087 1973l2-18M3110 2016l3 5M3193 1983l8-53M3443 1908l4-6M3508 1901l3-2 0 2M3574 1879l8-2 8 6 8 3 8 14M1759 2344l8-27M1831 2340l8-15 8 12 8-20M1887 2314l8-1M1934 2316l8-37M2189 2243l8-39M2817 2069l8 18M2952 2036l8-2M2980 2015l4-17M3034 2004l6-13M3075 1967l5-40M3171 1982l4-3 8-10 8-3M3557 1878l8-30M1750 2340l8-18M1805 2341l8-37M1845 2318l8-9M1877 2325l8-19M2092 2263l4 12M2116 2250l7-65M2330 2202l8-48M2473 2157l8-8M2486 2166l3 11M2521 2151l8-29M2545 2146l8-8M2647 2113l1-1 8-3 8 4M2749 2103l3 4M2799 2079l8-18 2 2M2912 2033l7-21M3031 2002l7-45M3060 1976l2-7M3324 1942l8-41M3372 1916l8 1M3452 1896l8-37M3487 1885l4-8M1796 2325l8-31M1926 2287l5-19M1979 2275l8-14M1995 2281l7 5M2257 2213l8 24M2273 2202l8-26M2464 2147l8-47M2488 2140l8 17M2647 2107l8-6M2670 2102l8-31M2766 2082l1 7M2790 2074l8-3M3478 1875l4-11M2025 2267l8 14M2398 2161l8-22M2454 2157l8-85M2661 2093l8-22M2709 2090l3 5M2740 2083l8-29M2820 2044l8 36M3392 1903l8 24M1771 2320l5-11M2023 2256l8 9M2166 2219l8 5 8 21M2246 2190l7-29M2381 2164l8 4 8-17M2401 2144l4-6M2444 2152l8-83M2723 2078l8 10M2748 2055l7-34M2935 1983l2-18M3216 1929l8-59M3301 1951l1 5M3365 1891l2-4M3518 1860l8-30M1735 2324l8-20M1751 2319l8 4 8-17 8-26M2053 2230l8 32M2148 2225l8-9 8-6 8 1 8 6M2435 2133l8-41M2769 2045l8-29M2952 2014l3 12M3001 1989l6 12M3202 1928l4-26M3246 1933l8-22M1725 2327l8-23M1752 2318l5-11 8-20M1868 2291l8 7M1924 2270l8 5M2137 2224l2 4M2411 2140l6-23M2664 2064l8 7 7-12M2759 2044l8-42M3236 1929l8-27M3300 1897l8 1M3324 1905l8 0M3451 1862l8-10M3467 1852l8 21M1684 2332l8 12M2057 2234l8 5M2341 2138l3-12M3179 1931l8-66M3306 1888l3 10M3425 1867l8 8M3441 1863l8-23M1674 2311l1 3M1706 2316l8-22M1746 2294l8 0 3 5M2064 2214l8-2M2073 2218l7 20M2310 2163l8-11 8-23M2414 2128l8-40M2487 2106l6-25M2732 2041l0 3M2734 2052l2 9M2756 2029l7-19M2843 2007l8-35M3010 1969l8 3M3328 1895l3 2M3400 1866l8-52M3479 1850l8 2M1760 2285l2 4M1841 2277l6 20M2237 2165l8-13 8 0 8-23M2285 2145l8 4 8-3 7-14M2382 2126l6 20M2404 2114l8-13M2571 2085l8 8M2690 2041l8 26M2730 2031l8 5 8-41M2833 2006l8-41M2921 1980l0 2M2945 1985l8 2M3165 1897l2-13M3310 1888l8 3M3393 1842l5-28M3477 1846l8-10 8 5 8 13M1815 2256l7-39M1997 2226l8 5M2084 2205l8-63M2362 2134l8-53M2585 2064l8 24M2673 2045l7-29M2871 1988l8-24M2901 1934l2-14M3460 1837l8-30M3492 1828l8-7M1796 2270l8-29M1971 2215l8-5 8-2M2066 2200l8-9 8-26M2210 2158l8-51M2353 2114l8-33M2431 2055l1-8M2454 2069l2-12M2599 2063l8-28M2623 2046l8 7M2635 2063l4 8M2655 2031l8 14M2682 2019l5-29M2758 2006l8 0M2864 1963l6-31M3001 1944l4-11M3037 1945l3 11M3124 1922l8-5M3136 1924l1 2M2074 2190l7-56M2144 2172l8 17M2200 2146l8-46M2337 2123l3 7M2566 2062l8-11M2669 2031l8-111M2812 1993l8-26M3019 1941l8-35M3036 1940l3 12M3059 1932l2 3M3281 1870l1 2M3321 1868l8-55M2190 2141l8-6M2349 2106l8-38M2397 2102l1 6M2540 2060l8-22M2556 2058l8-12 8 3M2660 2027l7-97M2707 1961l0-2M3033 1925l8-3 8-28M3065 1920l0 3M3106 1898l7-80M3180 1854l4-47M3353 1846l6-22M1679 2275l8-4M2117 2158l8-19M2340 2094l8-34M2527 2035l3-8M2554 2055l8-16M2578 2048l8-80M2936 1945l0 3M3031 1917l8-24M3063 1905l4 15M3099 1860l4-35M3206 1877l8 6M3238 1876l5 11M3254 1873l8-81M3421 1819l8-29M1662 2285l8-92M1741 2264l8 2M1861 2214l8-1M2111 2132l4-24M2188 2136l7-24M2330 2108l8-44M2363 2073l7-41M2560 2041l8-17M2767 1976l8-43M2935 1941l7-81M3062 1896l7 0 8-2 8 1 8-20M3300 1836l8-3M1652 2278l8-79M1843 2224l8-5M1980 2191l6 11M2156 2162l5 25M2551 2040l8-8 8-65M2750 1980l8-24M2893 1943l8-28M1928 2141l1-2M1984 2184l8-22M2024 2177l4-1M2110 2121l2-6M2167 2124l8-55M2398 2061l8-10M2414 2068l2 3M2549 2035l8-52M2764 1963l8-85M2819 1962l8-6 8 6M2851 1953l8-5M2902 1915l5-41M2109 2112l1-2M2542 2025l5-11 8-33M2745 1953l1-2M2873 1937l8-21M2893 1899l4-29M3072 1874l8-56M3204 1846l3-5M3267 1806l4-19M1567 2276l8-42M2005 2149l8-12M2357 2066l6-25M2458 2033l8-14M2706 1958l7-31M2872 1927l8-34M2991 1895l8-30M3007 1887l8 27M3160 1839l6-30M3248 1814l5-28M1558 2271l8-7M1709 2239l8-32M1749 2224l8-22M1765 2210l7 7M1804 2203l8 15M2027 2143l8-1M2250 2092l8-61M2345 2055l8-21M2488 2019l8-14M2862 1931l8-51M3236 1837l8-48M3280 1801l3-5M1699 2232l8 2M1731 2221l8-57M1898 2167l8-12M2232 2094l8-2 8-14M2280 2070l8-7 8 1M2316 2033l3-38M2479 2024l7-28M2542 1999l8 8M3035 1881l8-4 8-52M1721 2204l8-55M1984 2135l8-9M2055 2125l6 7M2135 2107l3 0M2172 2064l3-14M2383 2034l6-42M2405 2028l8-37M3320 1788l8-15M2162 2056l3-20M2451 2012l8-54M2851 1912l6-15 5 11M2876 1871l5-45M2970 1873l6-27M3175 1814l8-31M3223 1804l8-60M3302 1798l8-25M1495 2263l8 35M1559 2245l8 15M1766 2183l8-16M1781 2171l8 6 5 6M2160 2052l3-22M2211 2067l8-46M2354 2032l1 2M2717 1918l3-13M2847 1911l8-40M2968 1867l6-20M3213 1798l8-49M3292 1780l8-5M1485 2244l8 10 8 20M1652 2214l3 7M1756 2173l8 5 8-10M1946 2110l1-2M2248 1974l1-6M2344 2032l8-51M2400 2011l8-17M2742 1912l5 29M2758 1907l8-8M2811 1911l3-2M1495 2263l5 28M1524 2230l7-31M1973 2111l4-15M2025 2109l7-38M2064 2092l8-10M2400 2011l6-20M2430 2000l8 20M2708 1922l8-93M1514 2229l8-55M1562 2213l7-3 8 20M1681 2196l8 20M1721 2183l8-33M1776 2167l8 0M1832 2151l8 31M2229 1982l1-9M2373 2008l3 17M2524 1962l8-17M2754 1903l8 1M2808 1901l2 4M2826 1895l8-6 3 17M3030 1821l3-4M1456 2250l8-19 8-3 8 24M1544 2225l8-34M1568 2201l8 21M2371 2000l8-14 8-44M2443 1970l7 25M2498 1960l8-50M2741 1904l4-5M2761 1897l5-7M2781 1858l4-19M2808 1878l8-67M2981 1858l2 4M3166 1788l8-29M1540 2213l2 1 8-27M1892 2119l8-15M2003 2083l8 16M2355 1987l6-38M2687 1917l8-22M2741 1894l2 0 8-8M1542 2210l6-21M1771 2151l8 10M1843 2130l8-26M1874 2125l8-35M2018 2086l8-5 8-20M2344 1994l8-87M2447 1968l8-2 1 3M2603 1897l3-24M2757 1888l8 1M2948 1822l8-31M3266 1753l8-50M1427 2225l8 17M1472 2230l3 9M1753 2146l8-33M1833 2111l8-2 8-5M1960 2082l8-37M2334 1981l8-62M2740 1882l7-27M2823 1865l4 13M2843 1849l2-5M3049 1764l1-3M3167 1753l2-9M3296 1745l8-22M1418 2226l8 22M1943 2091l8-50M1979 2046l3-20M2102 2043l8 7M2133 2026l8-8M2220 1988l1-6M2749 1858l5-14M2877 1821l4-18M2984 1812l8-9 8-9M1639 2147l8 17M1686 2144l8-1M1696 2149l6 17M1782 2115l8-85M2124 2033l8-15M2141 2018l7-48M2571 1900l6-49M2674 1869l6-20M2737 1859l7-32M3213 1740l8-30M1549 2182l8 2M1772 2105l8-43M1865 2075l3-5M1597 2155l6 15M2014 2060l3 1M2136 2004l8 0M2233 1972l7-43M2332 1942l3-9M2445 1911l1-5M2655 1867l6-38M2931 1804l8 3M3127 1765l3 9M1451 2192l7-14M1522 2161l8-5M1578 2147l8-34M1649 2132l8-29M1667 2145l6 24M2321 1924l4-26M2436 1903l1-2M2635 1865l8-91M2707 1856l8-99M2782 1788l5-57M2946 1790l8-7 3 5M2969 1793l8-11 8 0M3001 1772l8-10M3019 1771l6 17M1369 2210l8 12M1449 2186l8-18 8 7M1504 2162l8-23M1674 2127l5 8M1727 2108l8-43M1823 2076l8-61M1902 2067l8 4M2098 2003l3-3 8-57M2162 1975l3-11M2198 1968l6-26M2337 1932l2-14M2372 1924l7-61M2428 1913l7-82M2700 1839l5-29M2848 1810l8-43M2954 1781l6-16M3193 1734l5 12M3224 1715l2 9M1550 2156l8 5M1694 2104l8 18M2012 2034l8-9 8 1 8 3M2059 2008l8-17M2926 1777l8-4M2982 1779l8-22M3023 1763l7 25M3205 1719l8-14M1477 2167l8-18 8-16M1684 2096l8-5M1763 2092l2 2M1783 2049l4-25M1922 2048l8-18M2002 2013l8-23M2316 1904l4-41M2885 1790l8-28M3119 1716l4-5M1340 2193l8 27M1404 2173l8 3M1603 2129l8-25M1619 2114l8 10M1666 2102l8 4M1913 2040l8 4M1998 2008l2-4M2668 1759l0-8M2883 1786l2-4M2905 1763l2-4M1587 2118l6-23M1601 2104l8-17M1728 2084l2 0M1751 2069l1-2M2197 1949l8-13M2307 1875l2-16M2570 1825l1-6M2945 1768l8-12M3119 1686l1-5M3168 1705l8-11 7 7M3185 1705l6 16M1663 2088l8-30M2418 1886l8-12M2462 1824l4-55M2840 1769l8 14M2983 1738l8 19M3109 1693l1-3M3150 1692l8-39M1725 2075l8-9M1868 2038l8-10M2089 1985l2 3M2429 1874l2-6M2734 1698l1-8M2870 1758l7 29M2941 1753l8 4M1856 2010l2-9M1890 2019l8 11M2089 1971l8 7M2403 1876l4-12M2948 1744l8-14M3126 1679l5-37M1308 2165l8 0M1379 2147l8-3M1392 2162l3 11M1645 2088l5 6M1683 2064l6-22M1753 2051l8 6M1844 2006l4-38M1888 2015l8-17 8-15M1944 1999l3 19M1984 1994l2 2M2051 1951l4-16M2143 1932l8-69M2580 1833l5-9M2882 1750l8-14 8-3M2900 1737l6 10M2956 1724l6-30M3049 1714l8-15 4 10M3105 1685l2 3M3115 1681l6-31M1298 2159l8-18M1338 2139l8 29M1370 2128l8-6M1529 2106l8 9M1584 2085l8 9M1640 2076l8 11M1672 2051l8-7M1735 2039l8-24M1767 2041l8-37M1886 2012l8-21M1918 1989l8-31M2578 1828l8-61M2873 1740l8-18M2920 1722l8-69M3040 1699l8-25M3111 1675l8-39M1320 2141l8-41M1431 2109l8 5 8 12M1455 2108l8 12M1591 2077l7-14 8 15M1726 2045l8-50M1758 2022l7-13M1909 1982l8-17M1940 1984l8 17M1964 1982l8 6M2048 1941l4-8M2302 1852l4-38M2569 1820l8-118M2911 1737l8-36M3039 1696l7-42M1303 2138l7 7 8-15M1471 2111l6 14M1947 1975l8-16M1994 1966l8-26M2090 1944l8 4M2114 1920l0 2M2560 1799l7-76M2660 1750l2-12M3068 1675l1 2M1396 2113l8-1 8-7 8-29M1508 2075l7 27M1592 2054l3-8M1765 2007l5-13M1778 2002l2 10M1985 1955l8 5M2056 1932l8-41M2215 1848l0-4M2763 1675l1-12M2947 1693l5 25M1387 2099l7 4M1569 2065l8-29M1760 2000l8-13M1776 1997l8 1 6 12M2023 1931l8 4M2941 1684l4-8M3061 1662l3-11M3104 1645l8-32M1560 2058l8 4M1703 2015l8-30M1759 1996l8-20M1887 1973l7-36M1941 1947l8 0M2071 1903l6-41M2275 1860l8-6M2373 1837l6-25M2912 1691l8-13M2934 1668l2-8M3095 1650l8-29M1313 2125l4 7M1653 2028l7 22M2065 1891l2-8M2180 1877l6-45M2258 1866l8-62M1827 1967l8-6M2248 1860l8-80M2948 1675l8-6 8 23M1292 2099l8-16M1310 2104l6 20M1348 2088l8-8 2 10M1361 2102l1 5M1507 2053l1 7M1509 2066l1 5M1531 2042l8 11M1586 2036l4 11M1849 1958l8 11M1968 1930l8 10M2127 1890l8-37M2242 1844l4-22M2286 1847l2 0M2932 1664l6-32M2994 1664l2 7M2998 1677l4 11M1211 2113l8-10M1227 2115l8 17M1282 2097l8-46M1312 2108l2 1M1322 2092l8 10M1338 2096l8-18M1386 2081l1 2M1410 2064l8-12M1521 2044l8-11M1569 2030l8-21M1728 1988l8-9M1990 1922l8 21M2453 1777l6-36M2555 1764l8-6M2838 1684l3-9M2881 1669l8-7M2897 1680l8 3M2913 1674l8-11 8-25M2976 1658l8 5M1185 2119l8 12M1376 2071l8-21M1440 2051l0 3M2044 1889l8-57M2116 1871l8-71M2321 1795l1-8M2418 1790l8-6 2 10M2871 1668l8-19M2903 1666l8 4M2967 1652l8-11M3054 1622l8 8M1366 2058l8-38M1589 2003l8 0M1772 1958l8-27M1995 1897l8-4M2400 1791l8-36M1166 2112l8 30M1357 2064l8-22M1436 2033l8 9 8-38M1476 2024l8 2M1579 2010l8-20M1702 1962l5-14M1866 1919l8 9 8-15M2524 1750l2-2 2 4M2537 1757l5-5 4 8M2597 1738l8-14M2868 1668l8-12M2907 1659l8-11 8 12M3003 1618l8-11M3019 1614l8 7 8-48M1260 2082l8 20M1419 2043l8-39M1546 2000l8 20M1594 1995l0 2M1769 1955l3 1M1844 1903l4-21M2150 1850l8-86M2373 1785l8-53M2462 1745l6-26M2500 1756l8-52M2524 1742l8 0 8-16M2590 1718l6-9M2834 1661l8-32M2850 1668l1 2M2890 1656l8-32M2985 1622l8-31M3017 1613l8-26M1250 2073l8 4M1592 1976l5 25M1671 1972l8-32M1934 1893l4 5M2098 1847l3-2M2489 1750l1-1 8-50M2524 1734l6-34M2662 1668l3-28M2856 1656l8-16M2976 1611l8-33M1240 2080l8-8M1614 1969l3 7M1670 1960l8-33M1892 1902l8 3M2020 1863l8-4M2088 1828l3-13M2179 1826l8-11 8 4 7-17M2519 1709l2-3M2942 1629l8 4M2969 1603l5-20M1215 2072l8 23M1819 1921l1-3M2042 1861l3-1M2169 1809l8-19M2340 1776l4 0M2349 1788l3 5M2417 1738l6-65M2534 1669l1-4M1237 2047l8 9M1738 1927l8-5M2040 1836l8-2M2342 1775l8-5 8-15 2 2M1219 2050l8 6M1857 1878l6-15M2102 1830l8-15M2309 1756l8-1M2348 1754l8-17M2635 1683l8-26M1146 2070l8 15M1234 2047l7-29M1623 1951l8 3M2044 1826l1 3M2337 1754l2-1 8-10M2609 1688l8-15 8-45M1168 2056l1 5M1224 2039l8-42M1257 2033l6 14M1422 1997l8 2M1613 1927l8-21M1635 1959l2 7M1900 1859l8 15M2106 1802l8-21M2375 1708l2-9M2513 1700l7-30M2607 1665l8-23M1182 2042l3-5M1413 1984l8-25M1604 1929l8-34M1930 1856l8-59M2359 1737l8-60M2908 1599l8 11M1260 2025l8-5 8 33M1324 2001l7-15M1721 1898l8 18M1777 1889l8 33M1826 1865l4 17M1856 1849l8 2 8 1 8-14M2001 1824l6 23M2102 1787l1-2M2166 1780l4 1M2198 1770l1-4M2200 1761l1-5M2206 1728l0-3M2496 1679l4-38M2596 1664l8 11M2874 1589l8 10 8 6M1085 2068l6 17M1242 2020l8-19 8 5M1441 1970l8-31M1704 1899l7-49M1807 1872l8 6M1839 1852l8-16M1863 1846l2 2M2161 1769l4-8M2594 1649l8-3 8-17M1368 1979l8 14M1431 1961l8-50M1662 1887l8-3 8 40M1821 1863l8-21 8-10M1964 1822l8 11M2020 1794l8-19M2142 1782l5 10M2292 1719l6-27M2334 1732l4 6M2473 1676l8-12M2564 1639l5-38M2592 1645l8-8M2903 1575l8 3 8 16M1422 1957l8-26M1827 1843l8-26M2074 1789l8-35M2287 1686l2-10M2312 1718l8 0M2893 1557l8-26M1412 1953l8-23M1722 1871l8-18M1754 1861l8-1 8 24M1818 1844l8-36M1937 1799l8-36M2301 1702l2-2M2772 1586l8 18M2883 1568l8-44M1211 2000l8-24M1402 1947l8-23M1681 1875l8 35M2249 1717l4-13M1607 1887l4 7M1918 1799l7-32M2082 1751l3-6M2234 1693l2-5M2323 1704l8-11 8-3M2784 1577l8-7 8 3 8 12M2202 1726l8-22M2759 1574l8-23M1063 2013l8 10M1087 2010l8 13M1151 1988l8 13M1373 1929l8-20M1461 1900l8 0 0 2M1580 1884l8 0M1715 1848l8-6M2057 1760l8-35M2176 1727l8-19 8-8M982 2030l8 25M1069 2012l8-23M1220 1975l8 1M1236 1963l8 23M1308 1945l8 12M1444 1904l7-40M1491 1901l8 2M1761 1824l8 0M1772 1835l5 21M1817 1809l2 3M2286 1683l8-67M2477 1630l8 20M2541 1623l8 11M1282 1948l8-28M1386 1906l8 26M1433 1900l8-15M1473 1901l8-29M1537 1877l8-14 8 36M1688 1841l8 13M1767 1808l8-12M2277 1676l7-44M2467 1620l8-14M2483 1628l8 2 8 0M2656 1582l2-3 8 7M1273 1944l8-38M1464 1892l7-3 8-18M1646 1849l3 5M1670 1842l8-2M2259 1686l5-24M2266 1652l1-3M2466 1620l7-22M2553 1598l8-35M2633 1569l7-41M2664 1561l8 5 4-22M2823 1530l8 7M993 2010l8 5M1215 1944l8-10 8 11M1276 1915l3-6M1349 1876l1-6M1510 1863l7-30M1549 1848l8 6M1740 1803l8-12M1772 1789l8-11M1934 1741l5-24M2459 1599l5-30M2546 1577l5-26M2615 1586l8-60M2822 1531l8-3M975 2010l8-11M1198 1932l8-14M1500 1861l8-15M1866 1776l8-6M2398 1623l8 24M2450 1585l4-28M2605 1573l8-68M1180 1940l8-28M1228 1938l8 11M1290 1894l1-4M1840 1774l8 3M2071 1696l8 5M2436 1611l8-24M2500 1598l8-29M2596 1577l7-60M1027 1984l8-26M1822 1761l8-5M2315 1640l8-1M2347 1629l8 6M2484 1585l6-14M2595 1546l7-35M1439 1862l8 2M1630 1805l8 35M1948 1724l8 32M2131 1687l8-32M2250 1635l8-77M2441 1590l5-8M1159 1935l1 2M1164 1942l3 5M1477 1849l8-29M1493 1830l0 2M1612 1799l8-8M1684 1788l8 20M1898 1735l8 6M2392 1609l7 15M2423 1589l8-13M1022 1963l3 8M1101 1926l8-10M1245 1901l8-69M1459 1842l8-4 8-13M1881 1718l8-13M1897 1714l1 5M2231 1626l8-77M2398 1598l8 14M2676 1527l1-12M1235 1889l8-76M1278 1862l5-44M1410 1854l8 15M1863 1737l8-32M2006 1691l8 5M2094 1672l8-22M2189 1644l8-12M2436 1579l8-7 2 5M2595 1542l1-4M971 1953l8 7 8 17M1225 1893l8-69M1861 1710l8-14M2092 1658l8-21M2180 1632l8-16M2397 1580l5-18M2426 1578l8-40M2545 1550l8-20M2577 1537l8-24M961 1959l8-16M1398 1841l8-8M1840 1726l4-1 8-6M2556 1532l4-3 8-5 7 3M1970 2468l-10 27M1941 2451l-10 5-10 29M1863 2426l-9-42M1795 2401l-9 7M1495 2263l-10-19-9-17M1456 2250l-9 38M1427 2225l-9 1-10 23M1369 2210l-9 24M1340 2193l-9 20M1185 2119l-9-29M1166 2112l-10 33M982 2030l-10 32M1987 2477l-9-5-10-3-10 2M1929 2449l-9 14M1871 2415l-10-20M1852 2406l-10 32M1493 2254l-9-44M1464 2236l-9 55M1961 2495l-4 28M1889 2430l-10-6M1865 2439l-5 17M1619 2326l-1 2M1472 2228l-9 38M1308 2165l-10-6-10 10M1211 2113l-10 18M2119 2522l-9 24M1684 2332l-10-21M1670 2322l-6 16M1567 2276l-9-5-10 4M1442 2220l-10 3M1316 2165l-10-24M1083 2063l-9-4-10 8M1988 2481l-6 20M1759 2344l-9-4M1748 2346l-8 23M973 2014l-8 15M1777 2363l-10-46M993 2010l-10-11M2143 2517l-9 48M2085 2488l-1 5M1630 2288l-10 29M1524 2230l-10-1-10 25M1320 2141l-10 4M1146 2070l-10 4M1735 2324l-10 3-10 4M1706 2316l-10 6M1338 2139l-10-39M2159 2519l-9 4M1849 2372l-4 6M1559 2245l-10 4M1414 2184l-10-11-10 23M2167 2517l-9 7M2041 2441l-9 23M1848 2366l-10 16M1755 2325l-4-6M1514 2205l-5-19M1453 2193l-2-1-10 29M1063 2013l-10 1M2107 2475l-9-12M2011 2440l-10 8M1817 2353l-10 10M1662 2285l-10-7-7 31M1460 2180l-2-2-9 8-10 8M2028 2429l-10 3M1989 2426l-2-1M1980 2419l-1 3M1805 2341l-9-16-10-12M1767 2306l-10 1M1679 2275l-9-82M1544 2225l-2-3M1462 2175l-5-7-10-9M1434 2184l-6 14M1379 2147l-9-19-10 16-10 26M1311 2121l-9-24M1292 2099l-10-2-9 14M1215 2072l-10-19M1098 2026l-9-6-10 2M1069 2012l-4 2M1988 2414l-10 2M1976 2423l-8 26M1817 2317l-4-13M1784 2308l-9-28M1746 2294l-10-9M1687 2271l-9-46M1562 2213l-10-22M1387 2144l-9-22M1310 2115l-10-32M1087 2010l-10-21M971 1953l-10 6M1831 2340l-10-61M1790 2308l-7-23M1626 2248l-8 20M1569 2210l-9-30M1308 2096l-10-35M1260 2082l-10-9-10 7-9 23M1182 2042l-10 27M1027 1984l-10-2M979 1960l-10-17M1887 2350l-9-26M1839 2325l-10-53M1258 2077l-10-5M1219 2050l-10-25M2118 2452l-10-8-6 22M1847 2337l-10-23M1762 2289l-2-4-10 8M1237 2047l-10 9M2188 2502l-2 11M2136 2455l-10-45M1872 2341l-7-17-10-7M1651 2229l-9 38M1477 2167l-2 3M1022 1963l-10 7M2173 2474l-10-9-10-12-9-24M1969 2381l-9 10M1504 2162l-9-20M1233 2052l-9-13-4 10M2171 2461l-10-23M1997 2380l-10 5-10-5-9-10M1522 2161l-10-22M1396 2113l-9-14-7 26M1348 2088l-10 8M2014 2384l-9-35M1549 2182l-9-25M1530 2156l-10 0M1404 2112l-10-9M1356 2080l-10-2-1 3M2245 2483l-10 48M2197 2459l-10-34M2090 2406l-10-6-9 23M2022 2389l-9-60M1916 2321l-10-11M1896 2330l-9-16-10 11M1741 2264l-9 12M1431 2109l-9-11M1151 1988l-10-13-10 20M2166 2433l-10-38M2059 2384l-9 26M1933 2337l-9-61M1895 2313l-10-7M1652 2214l-9-19-10 16M1439 2114l-9-32M1255 2028l-9-3M2170 2428l-6-14M2145 2416l-10-22M2077 2391l-10 3M1800 2274l-4-4-10 15M1709 2239l-10-7-10 6M2151 2400l-8-51M2088 2393l-3-6M1998 2361l-10-7-10-30M1810 2256l-6-15M1455 2108l-9-32M2267 2465l-10-7M2181 2429l-1-2M2073 2386l-9-17M2062 2377l-1 6M2001 2338l-5-14M1386 2081l-10-10-10-13-9 6M1355 2068l-5 9M1260 2025l-10-24M1211 2000l-9 2M2236 2450l-4 9M2081 2380l-9-23M1868 2291l-5 8M1839 2270l-9-53M1578 2147l-10-31M1268 2020l-10-14M1229 1999l-10-23M2051 2365l-10-13M2031 2353l-9-4M1934 2316l-4 0M1731 2221l-10-17-3 7M1595 2150l-9-37M1101 1926l-9 12M2233 2440l-10-20-10-38M2059 2351l-10-15M1952 2319l-10-40M1749 2224l-10-60M1681 2196l-10-14-10 2-9-12-10 2-10 2-9 6M1410 2064l-10-66M2066 2354l-2 0M2068 2354l-3 1M1765 2210l-10-34M1639 2147l-10-13M1619 2141l-1 6M2286 2434l-10-4-10 35M2082 2348l-9-13M2113 2366l-3 4M1529 2106l-10 18M1180 1940l-10 19M1993 2286l-1-3M1927 2273l-3-3-10 12M1721 2183l-10 21M1583 2118l-8-30M1556 2097l-10 17M1508 2075l-10-81M1440 2051l-10-4-8 18M1324 2001l-10 22M1236 1963l-9-4-10 15M1198 1932l-10-20M1178 1935l-9 14M1159 1935l-10 4M2358 2452l-10-55M2145 2357l-10-52M1717 2168l-8 23M1603 2129l-10-34M1215 1944l-9-26M1979 2275l-1 2M1843 2224l-10-8-2 8M1804 2203l-9-19M1766 2183l-10-10M1649 2132l-9 11M1436 2033l-9-29M1223 1934l-9-15M2374 2459l-10 38M2025 2306l-9-4M1861 2214l-10 5M1686 2144l0 3M1619 2114l-10-27M1444 2042l-9-45M2304 2420l-9-21M2285 2399l-10 0-9 5-10 26M1878 2235l-9-22M2390 2456l-10 10M2303 2416l-10-30M2216 2378l-3 0M1722 2154l-10 22M1650 2126l-6-3-10 7M1286 1951l-10-10-10 26M2378 2427l0 3M2376 2439l-3 14M2156 2348l-10 1M1671 2123l-9 1M1507 2053l-2-2M1482 2031l-4-8M2406 2437l-10-17M2164 2341l-10-8M2151 2339l-7 12M2106 2305l-10-4-10 20M1834 2196l-9-66M1776 2167l-2 1M1689 2128l-10 7M1275 1945l-2-1M1271 1948l-8 15M2298 2383l-10-20M2278 2384l-5 13M2113 2312l-9-32M2055 2287l-9 15M1591 2077l-10-28M1368 1979l-10 15M1269 1930l-8 20M2364 2422l-4 1M2267 2372l-10-17M2247 2367l-9 38M2121 2301l-9-39M2073 2280l-10 15M2025 2267l-10 9M1753 2146l-2 2M1666 2102l-9-11M1651 2116l-1 5M1598 2063l-9-12M1569 2065l-9-7-1 4M1558 2068l-7 31M1531 2042l-10 2-10 18M1308 1945l-10-46M1269 1921l-9 27M2313 2383l-9-25M2284 2363l-9-14M2139 2308l-10-31M2091 2287l-10-14M2018 2268l-2 4M1771 2151l-10-38M1694 2104l-10-8-10 10M1581 2048l-4-12M1526 2036l-7 6M1422 1997l-9-13-10 29M2312 2371l-10-24M2215 2347l-10 0M2184 2333l-8 18M2157 2315l-10-43M1663 2088l-3 6M2381 2413l-3-1M2373 2423l-5 9M2165 2309l-2 1M1971 2215l-10-19M1689 2092l-9-38M1642 2084l-10 16M1245 1901l-10-12-10 4-9 14M2300 2347l-1-7M2173 2309l-10-16M2095 2281l-10-3M1979 2210l-10-22M1666 2071l-7-9M1640 2076l-10-102M1272 1902l-10-29M2384 2404l-10-10M2316 2360l-10-46M2122 2270l-9-3M1997 2226l-10-18-10-14M1909 2174l-9 14M1896 2198l-6 15M1832 2151l-5-8M1280 1895l-10-49M2469 2429l-9 8M2267 2330l-1-2-10 21M2150 2275l-10-24M2050 2234l-7 11M1904 2179l-6-12-10 7-9 38M1782 2115l-10-10-10-11M1569 2030l-8 27M2206 2313l-4 7M1586 2036l-9-27M1565 2032l-8 31M1441 1970l-10-9-9-4-10-4-10-6-9 25M1373 1929l-9-44M2214 2312l-10-9-5 6M2175 2289l-4 1M1691 2075l-6-3M1674 2055l-2-4M1670 2057l-4 13M1546 2000l-10-13-9 38M2403 2393l-7 12M2348 2361l-10-26M2212 2296l-9-5-10-3-10 1M2116 2250l-10-24M2057 2234l-3 1M1728 2084l-10-41M2443 2390l-10-31M2404 2377l-9 12M2366 2363l-10-40M2191 2290l-9-20-10-3M2170 2273l-3 7M1978 2187l-9-24M1843 2130l-10-19-7-12M2436 2364l-4-21M2383 2370l-9-31M2219 2280l-10-11M2199 2269l-9 0M2140 2250l-9-62M2064 2214l-10 4M1763 2092l-2-3M1589 2003l-10 7M1386 1906l-10-50M2468 2389l-9 45M2159 2252l-7 16M1983 2180l-8-38M1752 2067l-10-11M1597 2003l-10-13M2322 2330l-10-24M2176 2257l-9 3M2021 2192l0 2M2020 2200l-6 28M1930 2136l-5-11M1915 2137l-10 22M1777 2074l-7 12M1653 2028l-9-25M1586 1992l-10 17M2514 2408l-10-40M2397 2360l-9-3M2207 2265l-3-1-4 5M1874 2125l-9-51M1594 1995l-10-34M1534 1973l-8 21M2541 2415l-10 12M2405 2342l-9-10M2386 2331l-10-4-9-19M2066 2200l-9-43M1976 2134l-6-36M1892 2119l-10-29M1766 2069l-9 13M2549 2398l-10 45M2297 2295l-10-36M2084 2205l-10-14M1919 2129l-9-16-10-9M1735 2039l-9 6M2450 2362l-5 4M2418 2341l-6-11-10-22M2324 2309l-9 10M2199 2251l-10-8-10 20M2024 2177l-9-28M1958 2108l-2-8M1884 2089l-5-11M1846 2080l-6-19M1753 2051l-10-36M1443 1912l-10-12M2148 2225l-9 3M1984 2135l-10-3M1895 2095l-8-65M1780 2056l-9 11M1703 2015l-10-71M1461 1900l-10-36M2491 2368l-5 1M2166 2219l-10-3M1998 2140l-6-14M1614 1969l-10 4M1469 1900l-10-18M2552 2387l-10 22M2500 2361l-2 3M2416 2331l-10-34M2174 2224l-10-14M1942 2104l-10 4M1930 2114l-5 12M1767 2041l-9-19M1723 2006l-4-11M2521 2373l-10 6M2453 2328l-10 2 0 2M1448 1871l-2-2M2548 2378l-9-7-10 18M2471 2343l-10-35M1986 2127l-9-31M1909 2092l-6 7M1473 1901l-9-9M2289 2245l-4-6-5 14M1491 1901l-10-29M2554 2373l-9-10M1760 2000l-9 23M2601 2377l-10 5-9 42M2562 2365l-9-12M2349 2262l-9-55M2328 2265l-8 37M2117 2158l-2 0M2020 2110l-10 21M1943 2091l-10 1M1828 2006l-2-3M1778 2002l-10-15M1759 1996l-10 14M1671 1972l-9 2M1623 1951l-10-24-9 2-10 33M1449 1869l-10-7M1436 1879l-4 22M2319 2256l-10-24M2307 2237l-8 17M2144 2172l-9-6-10-27M1960 2082l-9-41M1902 2067l-3 2M1774 1993l-7-17M1728 1988l-10 6M1691 1949l-2-5M1599 1942l-7 15M2520 2324l-10-29M1784 1998l-10-5M1736 1979l-10-10-10-5-9-16M1666 1965l-4 8M2644 2383l-9 8M2489 2312l-9 20M2389 2281l-4 18M2362 2259l-7 34M2257 2213l-10 24M2113 2118l-1-3M2025 2109l-10-2M2012 2120l-3 14M1696 1920l-1-3M1521 1882l-10-2-9 15M2478 2305l-8 14M2246 2190l-10 11M2228 2209l-2 2M2111 2113l-1-3M2036 2085l-4-14M2003 2083l-9-32M1868 2038l-10-37M1510 1863l-10-2-8 18M2660 2386l-9-8-4 1M2631 2369l-9-7M2273 2202l-10-36M2114 2113l-6-20M1876 2028l-10-37M1537 1877l-10-37M1498 1856l-10 19M1459 1842l-9-13M1448 1835l-1 3M1445 1845l-1 3M1442 1855l-2 5M2562 2331l-10-5-10 1-9-6M2526 2304l-3-9M2349 2225l-10-25M2308 2228l-8 20M1922 2048l-9-8M1908 2055l-1 3M1545 1863l-10-35M1477 1849l-10-11M2579 2325l-9-40M2453 2269l-9 11M2424 2257l-9-51M2395 2241l-9 8-10 11M2153 2147l-10-19M2142 2133l-8 25M2018 2086l-10-55M1930 2030l-9 14M2604 2341l-7-13-10-31M2210 2163l-10-17-10-5-9 12M2064 2092l-9 24M2026 2081l-10 3M1580 1884l-10 17M2372 2227l-9-18M2237 2165l-10-16M2072 2082l-9-27M1772 1958l-10 24M1733 1945l-9 13M1607 1887l-9-20M1549 1848l-9-19M2560 2279l-5-46M2245 2152l-10-27M2187 2141l-3 7M2167 2124l-9-74M1896 1998l-10 14M1557 1854l-9-17M2708 2358l-10 35M2669 2348l-9 1-10 9M2619 2339l-8 15M2359 2217l-9-59M2253 2152l-10-39M1827 1967l-10 11M1769 1955l-10 24M1662 1887l-10-39M2641 2322l-3-3M2600 2314l-10-32M2135 2107l-10 22M1835 1961l-10 3M1736 1931l-8 18M1670 1884l-10-19M2714 2363l-9-17-10 40M2375 2209l-9-4M2732 2354l-10-16M2373 2188l-5 12M1918 1989l-9-7M2701 2331l-10-2-8 46M2581 2276l-6-27M2530 2262l-3 2-7 17M2367 2198l-1-2M1849 1958l-10 16M1704 1899l-10 10M2738 2343l-10 35M2688 2336l-6 33M2293 2149l-10-6M2245 2113l-1-4M2057 2030l-7-32M2012 2034l-10-21-2 1M1973 2012l-10-7 0 2M1962 2013l-1 7M1944 1999l-10-40M1886 1978l-10 2M1866 1961l-9 8M1721 1898l-10-48M2746 2345l-5-1M2727 2338l-10-11M2688 2324l-10-8-4 7M2601 2291l-6 4M2446 2209l-10-7-10-32M2310 2163l-9-17M2020 2025l-10-35M1884 1961l-3 7M1879 1974l-1 2M1681 1875l-10 15M2618 2288l-9-35M2444 2209l-10-46M2405 2184l-6 8M2318 2152l-10-20M2299 2146l-10-22M2187 2059l-4-28M2028 2026l-10-10M2746 2346l-3 2M2529 2237l-9-10M2329 2140l-3-11M2200 2081l-9-44M2113 2057l-10 13M1677 1858l-9 19M2663 2303l-6 16M2206 2083l-8-41M2048 2003l-4-24M1947 1975l-10-24M1836 1933l-6 7M1790 1920l-1 3M1646 1849l-9 1M2662 2285l-10 11M2381 2164l-10-31M2361 2150l-2 4M1984 1994l-10 1M1964 1982l-9-23M1819 1921l-10 21M1722 1871l-3 5M2795 2347l-9 20M2679 2297l-9-53M2650 2279l-10 41M2398 2161l-9 7M1947 1955l-4-9M1866 1919l-1-2M1859 1892l-3-12M1823 1908l-6 11M1720 1865l-2 5M2726 2309l-10 10M2648 2261l-9 32M2571 2230l-4 5M2493 2204l-9-13M2464 2193l-9 10M2397 2151l-10 16M2280 2109l-9 10M2085 2005l-8-33M1874 1928l-10-34M1670 1842l-9 3M1612 1799l-10 20M2744 2312l-10-4M2250 2092l-10 0M2211 2067l-10-33M2133 2026l-9 7-8 27M1882 1913l-10-17M1688 1841l-10-1M1630 1805l-10-14M2810 2340l-10-15-10 20M1783 1882l-5 12M1754 1861l-10 4M1715 1848l-9-23M2827 2331l-9-27M2769 2313l-10 14M2362 2134l-9-20-8 20M1994 1966l-9-11M1983 1962l-7 27M1810 1875l-9 0M1797 1885l-6 16M1723 1842l-9 1M2787 2314l-10-22M2380 2119l-10-38M2349 2106l-9-12-10 14M2140 2006l-4-2-10-67M1807 1872l-1 2M2628 2229l-9-6M2473 2157l-9-10-10 10-10-5-9-19-10 3M2141 2000l-7-8M1892 1902l-9-16-10-8M1822 1862l-7 16M2849 2313l-9 12M2838 2335l-3 13M2481 2149l-9-49M2414 2128l-10-14M2399 2140l-2 9M1968 1930l-10-33M2836 2329l-2 12M2609 2207l-3-5-10 15M2301 2068l-5-4M2081 1960l-8-57M1655 1792l-8 30M2797 2296l-9-40M2778 2288l-10 18M2720 2248l-10 17M2633 2213l-10 13M2023 1931l-10-5-7 30M1839 1852l-10-10M1761 1824l-9-30M1684 1788l-10-30M2767 2257l-10-28M2592 2193l-9 16M2306 2049l-4-17M1934 1893l-10-34M1856 1849l-9-13M1827 1843l-9 1-10 10M1769 1824l-10-24M1740 1803l-10 31M2823 2285l-10 4-9-2M2639 2201l-10-20M2397 2102l-1-4M2194 2014l-10-64M1990 1922l-9-22M1864 1851l-9-11M1767 1808l-9-35M2841 2295l-10-4M2686 2225l-10-35M2657 2213l-10-12-10-19M2521 2151l-10-40M2117 1952l-3-8M1872 1852l-9-6M2347 2059l-2-4-10-60M1900 1859l-10-25M1793 1822l-10-19M2445 2084l-5-13M2217 1988l-9-20M2170 1931l-1-3M2004 1909l-9-12-7 17M1772 1789l-3-2M2816 2256l-10-37M2545 2146l-10-36M2207 1967l-1-5M2088 1951l-2 4M2003 1893l-10-14M2621 2166l-10 3-10 14M2572 2149l-9-17-10 6M2485 2112l-10-45M2398 2061l-10-39M2302 1983l-1-5M2059 1918l-10 9M1817 1809l-10 16M2900 2282l-10-6-10 20M2600 2157l-10-28M2578 2137l-5 10M2495 2087l-2-6M2231 1972l-9-52M2414 2068l-10-37M2141 1940l-8 36M2114 1920l-10-30M2048 1918l-2 4M1930 1856l-10-43M2819 2245l-1-2M2811 2218l-2-8M2354 2032l-10 0-1 3M2137 1950l-5 24M2110 1908l-8-47M2060 1890l-6-22M2044 1889l-9 50M2837 2233l-10-16M2711 2194l-10-4-10-21-9 0-10 12M2653 2156l-10-52M2202 1950l-5-1-9-26M2042 1878l-9 32M2874 2259l-10 16M2777 2219l-10-35M2709 2188l-10-22M2660 2148l-9-22M2424 2048l-6-16M2394 2015l-5-23M2891 2253l-9-13M2618 2136l-8-21M2255 1938l-3-13M2211 1930l-7-40M2020 1863l-10-5M1934 1803l-2-6M2796 2213l-3-2-4 14M2764 2188l-10-45M2744 2173l-9 55M2504 2043l-2-12M2216 1924l-4-21M2946 2274l-10 1M2917 2260l-10 9M2675 2151l-10 17M2313 1967l-6-20M1822 1761l-9-10M2702 2155l-10-48M2347 1996l-3-2-10-13-4-7M1937 1799l-10-19M1840 1774l-10-18M2942 2252l-9-10-10 33M2855 2225l-4 3M2744 2168l-5 0M2458 2033l-10-22M2439 2038l-4 15M2410 2006l-10 5-1 4M2371 2000l-10-51M2144 1905l-5-2-10 10M2042 1861l-10-3M1964 1822l-9-30M1809 1747l-9 21M2950 2244l-9-29M2924 2268l-1 5M2751 2147l-4-13M2728 2160l-10 14M2479 2041l-3-2-10-20M2379 1986l-10-66M2127 1890l-10 4M2047 1853l-7-17-10-18M1962 1804l-9-42M2842 2201l-2-3M2116 1871l-10 14M2048 1834l-10-21M1999 1819l-9 9M2811 2174l-9-44M2656 2109l-9-2M2540 2060l-10-33M2939 2219l-4-4M2839 2180l-10-19M2676 2115l-2 0-10-2-9-12-10 7M2075 1861l-1 2M1925 1769l-6-9M1841 1730l-10-20M2934 2229l-10-3-10 9M2856 2191l-9-54M2785 2147l-6-13M2701 2112l-9-25M2585 2064l-10-13M2566 2062l-10-4M2488 2019l-9 5-10-31M2430 2000l-4 6M2242 1892l-6-49M2101 1845l-10-30M1927 1759l0-2M2903 2208l-10 15M2884 2203l-10 1M2864 2195l-10-38M2789 2140l-2-3M2670 2102l-9-9M2659 2097l-3 4M2574 2051l-10-5-10 9M2727 2122l-10-37M2687 2101l-9-30M2659 2080l-10 25M2572 2049l-10-10-9 0-4-2M2018 1803l-8 32M2599 2063l-9 7M1863 1737l-9 2M2917 2200l-10-39M2578 2048l-10-24M2559 2032l-10 3-2-1M2530 2028l-10-26M2487 1980l-6-24M2443 1970l-10-33M2357 1890l-2-10M1945 1746l-6-29M1881 1718l-10-13M1861 1710l-9 9M2150 1850l-4 9M2100 1834l-1 2M1898 1735l-9-30M2943 2194l-10-27M2868 2144l-3-4M2856 2151l-1 2M2623 2046l-10-86M2107 1819l-7 8M1897 1714l-10-14M3106 2262l-10-27M2951 2196l-10-4M2776 2121l0 3M2709 2090l-10 10M2631 2053l-10-96M2447 1968l-10-40M2174 1839l-8-51M3114 2256l-10-13M2988 2200l-10 14M2939 2181l-4-7M2932 2166l-2-4M2755 2103l-1 3M2548 2008l-6-9M2455 1966l-10-46M2395 1918l-8-79M2106 1802l-9 12M3015 2201l-10-25M2773 2091l-10 6M2744 2094l-10 7M2148 1835l-5 8M2093 1809l-2 5M3023 2211l-10-32M2974 2179l-9 0M2960 2194l-3 10M2800 2116l-10-18-9 13M2723 2078l-5 9M2655 2031l-10-80M2317 1822l-1-8M2277 1878l-9 3M2258 1866l-10-6-2 1M2126 1781l-4-15M2097 1796l-4 8M2074 1789l-10-1M1948 1724l-10 6M2944 2157l-10-28M2827 2114l-9-11-10 6-6 6M2740 2083l-9 5M2673 2045l-10 0-10-43M2535 1978l-8 12M2498 1960l-9-17M2397 1915l-3-10M2281 1863l-6-3-9-56M2179 1826l-10-17M2061 1775l-8 34M3000 2178l-10-32M2835 2102l-9-1M2787 2094l-4 14M2690 2041l-10-25M2283 1854l-9-51M2187 1815l-10-25M3124 2233l-9-8-6 23M3076 2220l-10 18M3037 2200l-10-12-7 12M2766 2082l-2-5M2747 2060l-10 24M2673 2035l-4-4-10 3M2524 1962l-10-62M2333 1818l-3-25M2195 1819l-10-44M3132 2238l-9-37M3113 2217l-10 10-10-18-9 17M2539 1966l-7-21M2057 1760l-9 2M3111 2217l-10-1M3088 2214l-6 11M2934 2130l-7-20M2917 2138l-2 14M2888 2121l-9-11-10-4M2867 2112l-8 18M2540 1965l-10-64M2367 1856l-2-5M2119 1765l-5-22M3100 2209l-10-31M3080 2190l-9 11-10-35M2945 2140l-10-32M2896 2111l-9-6-10-16M2799 2079l-9-5M2788 2081l-8 27M2732 2041l-10-59M2286 1847l-3 3M2247 1816l-9-102M3185 2249l-10-16-9 9M2890 2102l-5 2M2846 2083l-10 18M2817 2069l-10-8-9 10M2769 2045l-10-1M2728 2021l-2-13M2724 1996l-4-25M2482 1904l-4-13M2207 1792l-5 6M2139 1776l-10-43M3116 2209l-10-19-10-28M2984 2134l-4-13M2738 2036l-10-51M2418 1886l-9-21M2399 1886l-6 10M2166 1780l-2-1M2157 1777l-10 15M3121 2198l-7-28M2754 2022l-8-27M2657 1987l-8-36M2397 1870l-5 1M2302 1797l-2-6M2172 1777l-7-16M3131 2193l-9-25M3031 2142l-6-24M3097 2161l-6-32M2820 2044l-10-48M2006 1691l-9 23M3176 2216l-4 19M3002 2121l-10 5M2896 2071l-10-20M2758 2010l-8-30M2307 1787l-2-10M2067 1722l-4 1M3035 2133l-6-10M2672 1906l-1-9M2540 1888l-4-35M2371 1844l-10 6M2324 1792l-2-5M2076 1704l-5-8-10 15M3055 2145l-8-25M2196 1774l-1 2M3229 2221l-9-27M3113 2164l-10-6M3058 2131l-3-8M2274 1789l-3-6M2705 1962l-1 3M2568 1904l-9-61M3187 2180l-10-42M3013 2100l-4 7M2974 2089l-10 8M2945 2067l-5 0M2843 2033l-4-6M2835 2041l-6 21M2629 1884l-4-40M2204 1735l-5-7M3220 2193l-6-2-9 19M3195 2188l-10-41M3056 2113l-6-4M2989 2093l-7-12M3161 2125l-6-56M3048 2099l-10-2-8 26M2767 1976l-9-20M2489 1837l-3-12M2405 1846l-3 21M2295 1742l-2-13M2176 1727l-9-45M3240 2198l-3-2M2909 2029l-8-48M2843 2007l-10-1-9 29M2436 1828l-9-18M2184 1708l-9-55M3296 2210l-9 48M3248 2180l-10-17M3209 2163l-9-13M2967 2054l-10 12M2832 2002l-10 21M2811 1989l-7-30M2764 1963l-10-27M2493 1810l0-2M2413 1813l-8-17M2202 1726l-10-26M3217 2175l-9-51M2634 1891l-8-43M2420 1808l-7-20M2336 1777l-10-24M2142 1692l-9 15M2094 1672l-10 15M3039 2079l-7-14M3002 2071l-9-9-10 1M2794 1927l-5-44M2375 1786l-2-1-10 7M2344 1776l-10-25M2131 1687l-10-28M2092 1658l-10 18M3223 2155l-1-3M3042 2062l-3-7M2393 1780l-2-4M2239 1702l-3-14M3241 2154l-10 7M3162 2129l-1-6M3106 2109l-10-13M2747 1943l-6-4M2708 1922l-9 33M2418 1790l-10-35M2350 1770l-10 1M2327 1752l-6-19M2302 1732l-1 2M3297 2192l-9-9-10 37M3259 2175l-10-14M3172 2116l-10-30M3123 2108l-10-51M2988 2034l-10-14M2871 1988l-3-3M2683 1899l-5-25M2576 1842l-5-23M2426 1784l-10-30M2358 1755l-10-1-9-1-2 0M2300 1733l-3-2M3286 2172l-1 8M3121 2087l-9-60M3067 2070l-4-3-5 9M3025 2058l-10 8M2996 2033l-10-26M2961 2028l-4-6-5 10M2658 1872l-1-3M2362 1754l-6-17M2306 1725l-8-33M3313 2176l-9-39M3284 2156l-9 23M2635 1861l-9-85M2551 1795l-3-14M2450 1774l-8-51M2240 1682l-2-3M3350 2195l-9 13M3186 2121l-10-12M2708 1884l-6-35M2652 1866l-9-92M3358 2187l-1 2M3100 2026l-3-23M3058 2047l-10-15M2952 2014l-3-2M2806 1941l-9-62M2758 1907l-10 5M2710 1865l-1-3M2482 1794l-5-15M2312 1718l-9-18M3074 2041l-8-24M2882 1963l-2 0M2369 1741l-10-4M2330 1727l-10-9-9-13M3028 2012l-2-9M2757 1905l-3-2-9-4-4-2M2348 1720l-10 18M3363 2178l-10-5M2859 1948l-9-36M2837 1945l-3 15M2743 1894l-2 0M2588 1817l-10 11-2-2M2259 1686l-10 11M2220 1668l-10-15-9 17M3371 2178l-10-30M3290 2137l-6-7-10 0M3271 2137l-7 18M2896 1964l-9-5M2761 1897l-10-11M2276 1683l-9-34M2189 1644l-9-12-8 18M3408 2189l-10 3M3224 2106l-10-7-3 17M3059 2020l-10-17M2953 1987l-10-4M2836 1928l-9 26M2740 1882l-3-6M2597 1778l-3-17M2554 1793l-8-32M2323 1704l-10-31M2197 1632l-9-16M3402 2185l-1 2M3319 2139l-10-51M2999 1985l-5 13M2951 1981l-10-10 0 2M2893 1943l-10-23M2873 1937l-1 2M2757 1888l-10-33M3424 2171l-10 11-5 5M3356 2154l-10-10-9-4-10-9-10-15M3201 2077l-1-2M3133 2051l-4 19M3086 1975l-1-8M2872 1927l-10 4-3 4M2814 1909l-5 0M2695 1837l-7-71M3354 2139l-10-21M3228 2086l-9 2-4 11M3212 2110l-2 4M2885 1910l-5-17M2796 1865l-4-17M2250 1635l-10-16M2231 1626l-10 23M3295 2078l-1-3M3170 2041l-2-5M3063 1974l-1-5M3031 2000l-1 2M2965 1960l-10 28M2936 1945l-10-30M2859 1917l-10-1M2500 1756l-10-7M3320 2120l-5-15M3313 2100l-1-4M3254 2092l-10-46M3167 2038l-10 10-10-3M2932 1932l-7-70M2857 1897l-10 14-10 17M2808 1878l-9-80M2512 1727l-4-23M2280 1597l-4-37M3320 2100l-10-26M3271 2082l-9-22M3107 2007l-10-55M3010 1969l-10-26M2991 1968l-10 16M2826 1895l-10-84M2526 1748l-10-47M3415 2143l-10-7-9 4M3223 2069l-2 2M3018 1972l-10-11M2867 1891l-4-7M2834 1889l-10-9M2783 1841l-7-31M2733 1709l-6-163M2529 1751l-5-9M2299 1615l-7-59M3433 2143l-10-14M3292 2062l-5-23M3233 2055l-4-1-9 15M3123 2016l-10 5M2997 1956l-10-33M2789 1835l-5-25M2542 1752l-10-10M2506 1702l-3-11M3392 2119l-9 3-10 2-10-31M3299 2057l-4-22M3253 2053l-6-14M3228 2043l-10 5-10 13M3160 2023l-10-35M3121 1994l-10 10-3 3M2872 1868l-3-6M2840 1881l-4 15M2802 1812l-1-4M3400 2112l-10 7M3230 2041l-4-5-10-25M3176 2016l-8-41M2812 1819l-3-9M2315 1640l-3 3M3360 2094l-10 1M3243 2038l-9-13M2837 1862l-10 16M3247 2030l-5-5M3019 1941l-10 9M2605 1746l-2-2-3 3M3037 1945l-10-39M2843 1849l-10-30M2575 1696l-3-19M3509 2138l-9-27M3490 2127l-10 24M3200 2006l-10-28M3035 1936l-1-2M2522 1695l-5 5M2510 1698l-8-21M2347 1629l-9 24M3488 2133l-9 7M3391 2098l-9-18-10 7M3324 2063l-10 10M3252 2022l-6-5M3203 2008l-5-8M2835 1817l-5-36M2597 1738l-6-10M2525 1689l-5-19M3535 2148l-10-41M3322 2053l-10-2-9-24M3166 1976l-9-85M3041 1922l-10-5M2605 1724l-9-15M2525 1688l-7-50M3175 1979l-10-81M3059 1932l-10-38M2991 1895l-10-28M2610 1718l-6-9M3551 2134l-10-4M3212 1989l-10-5-9-1-10-14-10-3M2398 1623l-9-5M3414 2075l-10-5-10 16M3230 2002l-7 11M3210 1988l-9-58M3065 1920l-2-8M3056 1881l-1-4M2578 1685l-7-44M3567 2145l-10 18M3034 1907l-10-13-9 20M2981 1866l-5-20M2581 1676l-2-7M3439 2079l-9-20M3391 2059l-10 8M3290 2001l-6-17M3275 1998l-3 9M2848 1810l-3 11M3544 2109l-10 2-1 5M3399 2060l-10-18-10 8-9 2M3294 1999l-2-3M3253 1994l-9-45M3069 1896l-9-21M2980 1856l-7-45M2783 1740l-4-23M2392 1609l-10-150M3571 2128l-9-33M3397 2046l-10-30M3261 1974l-9-18M3077 1894l-9-5M2651 1709l-9-4-10 8M2477 1630l-10-10M3579 2121l-9-40M3444 2055l-10-20M3424 2057l-1 2M3124 1922l-4-8M3089 1897l-4-2M2906 1794l-3-16M2902 1772l-1-3M2436 1611l-9 8M3539 2103l-10-10-10-1M3471 2076l-10-10-9-16-10-12M3432 2040l-9 19M3413 2050l-10-45M3132 1917l-10-52M2966 1834l-8-43M2609 1688l-10 2M2477 1609l-4-11M3547 2091l-10-29M3343 2000l-9 1-10 2M3295 1987l-4 4M3196 1942l-8-22M3179 1931l-10 8M3072 1874l-9-32M2971 1813l-5-37M2840 1769l-10-59M2666 1646l-1-6M2617 1673l-10-8M2605 1672l-7 20M2491 1630l-10-49M2423 1589l-9-22M3211 1919l-5-17M2848 1783l-10-22M2635 1683l-10-55M2596 1664l-10-59M2499 1630l-10-34M2441 1590l-10-14M3553 2092l-10-64M3514 2075l-9-33M3301 1985l-10-16M3290 1974l-4 11M2885 1790l-1 4M2546 1637l-10-13M3464 2051l-10-5-9-2M2931 1804l-9 23M2883 1786l-10 10M2602 1646l-10-1M3453 2036l-10-14-10 0-5 8M3385 1992l-1-3M3327 1969l-10-23M3095 1819l-1-6M2891 1769l-10 6M2672 1631l-4-24M2614 1643l-4-14M3654 2108l-9 42M3432 2010l-10 0-10-10-9 0-3-2M3393 1994l-10-8M2870 1758l-10-12M2541 1623l-10 2M2444 1572l-10-34M3640 2114l-7 36M3427 2009l-7-23M3246 1933l-10-4M2955 1800l-9-10-10-14M2926 1777l-9-7-10-11M2500 1598l-10-27M3631 2099l-9-37M3477 2033l-10-29M2992 1803l-1 2M2954 1783l-10-6-10-4-9 5M2920 1771l-5-7M3601 2068l-10 4-10 22M3494 2026l-10 0-9 7M3271 1930l-9-3M3202 1893l-8-57M3524 2053l-3 8M3502 2018l-10-1M3473 2020l-3-6M3210 1886l-8-25M2969 1793l-1-4M2964 1776l-4-11M2882 1750l-9-10-10-6-5-1M3558 2043l-9-22M3500 2011l-9-10M3481 2001l-10-17M3423 1983l-10-16M3355 1954l-10 0-9 17M3239 1893l-10 4M3052 1799l-7-48M2977 1782l-9-19M2898 1754l-8-18-9-14M2571 1601l-10-38M3566 2035l-9-14M3481 2000l-2-1M3477 1992l-7-21M3411 1964l-9 7-10 21M3353 1938l-9-23M3324 1942l-3 11M3295 1921l-9-38M3055 1795l-2-5M3710 2101l-10 13M3613 2060l-10-27M3594 2042l-10 5-10-14-9-8M3511 1995l-4-10M3419 1960l-9-40M3400 1954l-7 35M3361 1940l-9-67M3206 1877l-9-64M2945 1768l-4 6M3621 2047l-10-43M3213 1879l-8-26M3056 1789l-6-28M3004 1776l-3-4-5 15M2982 1779l-10-40M3716 2101l-9 35M3629 2045l-10-44M3300 1897l-10-8M3029 1786l-10 6M2990 1757l-10-23M2941 1753l-9 18M2883 1715l-9-17M3647 2065l-10-20-10-25M3538 1998l-8-16M3317 1901l-9-3-10-22M3017 1766l-10-19M2920 1722l-9 15-3 10M3645 2041l-10-9M3519 1995l-2 4M3238 1876l-9-14M2948 1744l-10-54M2773 1648l-9 11-2 2M2655 1597l-8-12M3750 2097l-10-29M3730 2079l-9 31M3663 2057l-10-31M3517 1994l-3 2M3372 1916l-2 0M3324 1905l-4 4M3207 1841l-4 4M2956 1730l-10-35M3748 2088l-10 25M3700 2068l-10-34M3506 1970l-10-7-9 9-10 14M3254 1873l-10 11M3022 1757l-10-3M2615 1586l-10-13-9 4-10 17M3310 1888l-2 7M3281 1870l-9-48M3175 1814l-4 11M2633 1569l-10-43M2592 1559l-8 28M2545 1550l-4 8M3435 1939l-10-6M3328 1895l-10-4M3271 1820l-1-6M2971 1680l-1-6M2912 1691l-10 27M2649 1583l-9-55M2563 1536l-10-6M3462 1945l-10-22M3253 1824l-4-12M3239 1840l-8 25M2881 1669l-10-1 0 2M2658 1579l-10-70M3392 1903l-9-90M2666 1586l-10-62M3431 1907l-2-2M3428 1909l-2 6M3242 1830l-6 7-10 25M2870 1671l-2-3-7 7M2577 1537l-9-13M3453 1907l-6-5M3321 1868l-6 21M3255 1792l-2-6M3166 1788l-9-24M3137 1769l-10 13M3032 1759l-1 2M2876 1656l-10-17M2674 1567l-2-1M2595 1542l-10-29M3804 2067l-10 5M3789 2085l-3 7M3726 2039l-9-37M3274 1800l-3-13M3223 1804l-10-6M2913 1674l-10-8M2883 1652l-9-51M3821 2072l-9-29M3492 1926l-10-53M3348 1841l-1-2M3280 1803l-1-3M3239 1811l-8-67M2925 1668l-4-5-10 7M3521 1919l-2-4M3497 1917l-7-18M3452 1896l-4 5M3445 1905l-3 4M3246 1788l-7-61M3122 1752l-9 34M3035 1721l-10 30M2948 1675l-10-43M3779 2048l-10-10-9-1M3462 1872l-2-13M2956 1669l-10-31M2907 1659l-9-35M2772 1586l-10 11M3787 2048l-10-15M3400 1866l-2-1M3286 1804l-3-8M3177 1759l-10-25M2915 1648l-9-11M3735 2000l-8-17M3361 1827l-2-3M3141 1759l-5 2M3045 1707l-5-8M3037 1703l-7 15M2759 1574l-10-20M3741 1989l-6-24M3503 1907l-10-29M3425 1867l-9-30M3154 1743l-10-18M3057 1699l-9-25M3038 1700l-10 14M3511 1899l-10-26M3015 1676l-8 14M2784 1577l-9-52M3703 1987l-10-13-1 4M3451 1862l-10 1M2976 1658l-9-6M2965 1658l-6 19M2792 1570l-9-57M3759 1999l-10 0M3691 1969l-9-7-10 7-10 10M3565 1921l-9 1M2994 1664l-10-1M2975 1641l-10-25M2800 1573l-9-53M3874 2049l-10-5-10 18M3777 2001l-10-4-10-9-9-26M3651 1951l-10 25M3612 1924l-10-20M3593 1912l-10 16M3467 1852l-10-9M3302 1798l-10-18-9 11M2676 1520l-3 0M3881 2031l-9-15M3812 2028l-3 12M3320 1788l-10-15M3213 1740l-7 19M3068 1675l-5-6M2961 1619l-9 21M2942 1629l-1 4M2874 1589l-9 17M3889 2039l-9-36M3372 1777l-6-33M3229 1745l-8-35M3207 1750l-1 4M3105 1685l-10-15M2736 1505l-9-229M3897 2038l-9-46M3190 1730l-9-2M3110 1685l-7-18M3905 2033l-9-18M3838 2014l-4-8M3830 1996l-2-5-10-11M3808 1983l-9 14M3797 2001l-8 13M3557 1878l-10-26M3518 1860l-10 22M3479 1850l-9 16M3460 1837l-10-25M3421 1819l-6 12M3264 1766l-1 4M3150 1692l-10-34M2985 1622l-9-11-3 0M2960 1621l-4 4M2908 1599l-10 7M3584 1893l-10-14-9-31M3497 1854l-10-2-10-6-9-39M3168 1705l-10-52M3101 1666l-1-2-6 2M3003 1618l-10-27M2962 1606l-7 18M3861 2005l-8-30M3582 1877l-9-43M3485 1836l-9-42M3249 1758l-2 11M3205 1719l-7 24M3176 1694l-10-59M3697 1927l-2 1M3683 1936l-6 8M3590 1883l-9-40M3493 1841l-9-38M3222 1707l-9-2M3183 1701l-9-52M3019 1614l-10-27M2903 1575l-10-18-10 11-7 21M3705 1934l-10-21-2 6M3647 1897l-10 3-10 17M3598 1886l-10-17M3104 1645l-9 5-3 5M3027 1621l-3-2M2969 1596l-10-4M2911 1578l-10-47M2882 1554l-10 8M2821 1533l-7 9M3964 2041l-9-17-10 11M3810 1960l-10-14M3769 1947l-8 21M3645 1899l-10-4-7 20M3530 1816l-1-6M3117 1641l-5-28M3054 1622l-10-34M2882 1549l-2 0-10 10M3972 2029l-9 1M3502 1818l-4-8-10-3M3314 1727l-10-4-1 5M3062 1630l-10-38M2830 1528l-10-5M2815 1537l-2 6"/>
<path stroke="#4741e5" d="M2247 2454l8-3M2366 2436l8 23M2477 2408l8 35M2652 2368l8 18M2748 2323l8 40M3416 2155l8 16M3543 2132l8 2M3559 2117l8 28M3670 2100l8 44M3718 2072l8-24M3742 2081l8 16M2229 2472l8-24M2396 2420l8 67M2722 2338l8-1M2735 2341l3 2M2818 2304l8 11M2829 2335l4 30M3096 2235l8 8M3517 2114l8-7M3551 2134l6 29M3661 2082l7 52M3743 2076l5 12M2203 2469l8-13 8 2M3239 2206l6 26M3500 2111l8-39M2504 2368l8 29M2742 2345l1 3M3220 2194l8-32M3562 2095l8-14M3578 2092l7 24M3872 2016l8-13 8-11M2486 2378l8-16M3305 2166l8 10M3425 2134l8 9M3562 2092l6-16M3862 2015l8-37M2294 2415l8 27M2667 2319l8 9M3366 2163l1 3M3614 2073l8-11M2435 2384l8 6M2658 2320l8-18M3708 2034l0 3M3713 2061l2 11M2179 2434l8-9M2418 2379l7-46M2640 2322l8 6M3690 2034l8-36M2161 2438l8-8M2242 2426l6 26M2408 2374l8-29M2430 2345l2-2M3537 2062l8 0M3547 2070l6 22M3752 2023l8 14M3823 1999l8-4M2144 2429l8 3M2295 2399l8 17M2788 2256l8 3M2797 2263l7 24M3114 2170l8-2M3344 2118l8-10 8 19M3527 2069l8-49M3734 2004l8-15M3845 1987l8-12 8 8M3863 1989l1 2M2198 2399l8-43M2591 2308l4 12M3088 2177l8-15 8-2M3144 2161l8-49M3200 2150l8-26M3216 2135l7 20M3335 2120l8-21M3653 2026l8-13M3717 2002l7-10M1989 2461l8 40M3079 2170l8-17M3198 2137l8-37M3301 2104l8-16M3603 2033l8-29M3627 2020l8 12 8-3M3818 1980l8-36M2059 2437l8-7 8 34M2178 2393l1-3M2180 2384l6-35M2305 2374l8 9M2530 2314l6 18M2713 2273l6 15M3005 2176l8 3M3045 2167l8-5 8 4 8 0 8-7M1986 2453l8-12 8 23M2288 2363l8-7 8 2 8 13M2439 2333l8 5M2510 2295l8-5M2846 2215l6 22M3059 2164l8-9 8-25M3139 2132l8-67M3727 1983l8-18M2135 2394l8-45M2215 2384l7 24M2297 2356l5-9M2376 2345l6 13M2461 2308l8 8 1 6M2572 2288l8-12M2827 2217l8-32M3057 2148l8-43M3121 2148l8-29M3312 2096l8 4M2324 2344l8 19M2356 2323l8-7M2396 2332l8-19 8 17M2506 2286l1-2M2523 2295l8 12M2547 2285l8-52M2633 2298l1 6M2690 2254l8-5 8 14M2809 2210l8-7 8 0M2992 2170l8 8M3111 2134l8 1M3286 2097l2-5M3292 2081l2-6 8-19M3358 2071l8 19M3422 2058l8 1M3549 2021l8 0 8 4M2108 2385l8-24M2275 2349l8-8M2299 2340l7-26M2338 2335l8-24M2537 2283l8-104M2609 2253l8-39M3269 2093l8-13 8-8 8-9M3666 1980l8-3M2257 2355l8-16M2289 2332l8-8M2408 2313l8 18M2488 2285l8-42M2599 2261l8-54M2925 2179l8-12 2 7M3434 2035l8 3M3800 1946l8-20M2907 2161l8 1M3790 1937l8-16M3025 2118l8 21M3279 2054l8-15M3725 1944l0 3M3780 1929l8-9M2882 2172l6 14M3007 2135l8-22M3047 2120l8 3 8-6M3262 2060l8-19M3341 2048l8 20M3508 1991l8 14M3699 1955l8-11 8-15M2759 2194l8-10M2854 2157l8-8 8-5M2998 2128l8 4M3027 2123l2 0M3236 2053l8-7M3252 2053l8-3M3298 2044l2 1 2 11M3387 2016l8-6 8-5 8 19M3451 1997l8-15M3467 2004l1 5M3491 2001l8-10 8-6 8 14M2144 2355l1 2M2829 2161l8-9M2980 2121l8 2M3378 2023l8-20 8-11M3441 1994l8 1M3529 1984l8-11 8 18M2072 2357l8 12M2088 2354l8 13M3185 2065l8-19 8 31M3527 1960l8 10M2413 2273l2 11M2794 2161l8-31M3064 2094l8-40M3247 2039l8-19M2005 2349l8-20M2781 2155l3-2 8-18M2927 2110l8-2M3091 2060l3-11M3237 2035l8 2M2035 2338l8 26M2308 2288l5 14M3091 2051l1-3M3317 2019l6 23M3363 1997l8-23M3379 1987l0 3M1834 2390l8 48M2073 2335l5 7M2287 2259l8-28M2407 2227l8-21M2629 2181l8 1M3089 2047l2-5M3234 2025l8 0M3297 1999l8-20M3353 1986l8-42M2278 2256l8-4M2397 2241l8-27M2524 2200l8 3M2747 2134l8-7 0 3M2779 2134l8 3 2 1M3085 2032l4-15M3113 2035l8 10 8 24M3168 2036l3-2M3216 2011l8 3M3288 2004l8-5M3382 1983l1 3M3431 1961l3 21M3534 1935l8 21M2236 2276l8-13M2246 2270l6 22M2737 2138l8-49M2904 2100l8 0M3032 2065l7-10M3413 1967l8-11M3521 1920l4-13M1869 2363l8 15M1974 2341l6 14M1996 2324l8 7M2171 2288l8 48M3284 1984l8 12M1978 2324l8-38M2131 2281l6 13M2209 2269l8-57M2696 2135l6 20M2774 2122l8 10M3084 2025l8-15M1883 2341l6 20M2104 2280l8-18M2684 2127l8-20M2931 2071l8-6 8 51M3185 1998l1 4M3187 2007l6 32M2158 2263l3 13M2341 2219l8 6M2913 2054l8-26M3033 2039l7-9 8 2 8-8M3068 2013l4-10M3470 1916l8 41M2331 2218l8-18M2625 2133l8-34M2977 2039l6 24M3023 2024l8-14M3150 1988l8-9M3190 1978l8 22M3269 1957l8 24M3309 1958l8-12M3452 1923l8-31M2409 2190l8-36M2608 2131l8 9M2854 2056l8-24M2886 2051l8-26M3236 1971l8-22M3252 1956l8 8M3419 1921l8 14M3443 1908l8 6M3474 1889l8-16M1906 2310l8-22M1994 2287l7 23M2383 2177l8 5 8 12M2590 2129l8-8M2709 2102l8-17M2719 2091l6 16M2844 2051l8-55M2980 2029l8 5M3099 1993l8 14M1984 2280l8 3M2206 2216l8-15M2844 2039l7-65M2978 2020l8-13 8-10M3026 2003l8 2 8 9M3049 2003l8-24M3161 1971l2 6M3344 1915l8-42M3368 1910l0 4M3447 1902l8-6M1855 2317l8-18M1942 2279l8-28M1960 2281l3 18M2340 2178l8-32M2610 2115l8-29M2628 2113l1 2M3016 2001l8-7M3040 1991l8-36M3334 1916l8-71M3493 1878l8-5M3565 1848l8-14M3583 1852l5 17M1813 2304l8-25M1837 2314l8 4M1933 2283l8-49M2529 2122l8 7 8 17M2601 2112l8-26M2919 2012l8-16M3151 1949l6-58M3547 1852l8-38M1987 2261l8 20M2106 2226l8-66M2281 2176l0 2M2329 2161l7-39M2416 2146l4 6M2480 2118l8 22M2511 2111l8-74M2758 2055l8 27M3100 1964l8-57M3140 1946l8-85M3482 1864l8 4M3537 1840l8-41M1786 2313l8-6M2255 2187l8-21M2748 2054l8-1M2804 2045l8-25M3137 1937l1-3M3528 1844l8-38M1776 2309l8-1M3367 1887l8-61M3399 1874l8 20M1743 2304l8 15M1814 2281l8 1M2204 2181l8-24M3254 1911l8 16M3278 1907l8-24M3358 1860l7-54M1805 2281l8-30M2194 2186l8-15M2419 2123l6 13M2656 2053l8 11M3188 1920l8-36M3459 1852l8 0M2344 2126l3 19M2552 2084l6 15M3290 1889l8-13 8 12M3417 1855l8 12M3449 1840l8 3M3529 1810l2 3M1801 2272l8-15M2326 2129l5 6M2439 2095l1 3M2716 2015l8 3 8 23M3519 1807l8-1M1728 2280l8 5M2102 2186l3-1M2261 2129l8-18M2277 2126l8 19M2412 2101l8-39M3003 1950l5 11M1710 2284l8 2M2227 2149l8-24M2410 2092l8-30M2442 2079l3 5M3468 1807l8-13M3484 1803l8 25M1804 2241l8-16M2082 2165l8-32M2580 2057l3 3M2607 2035l8 5 8 6M3339 1838l8 1M3450 1812l8-37M1961 2196l8-8 8 6M2327 2108l8 10M2366 2081l1-2 0 2M2597 2031l8-35M2716 1958l1-3M2809 1986l3 7M2820 1967l8 2M2987 1923l8-13M3027 1906l8 30M3116 1894l6-29M3130 1878l8 15 5-4M3440 1800l8-40M1952 2190l8-34M2031 2168l8-50M2381 2072l8-9M2550 2043l6 15M2970 1918l7-32M3031 1921l2 4M3049 1894l8-11M3137 1879l3 3M3149 1863l3-16M3168 1870l1 3M3431 1803l8-36M1942 2179l8-62M2196 2115l8 1M2246 2113l2 3M2530 2027l8-6M2654 1995l4-4M2785 1955l8-32M2849 1943l0 3M2852 1960l1 3M3039 1893l8-20M3131 1866l4-10M3310 1833l8-41M3429 1790l2-3M2568 2024l8-60M2185 2104l8 1 8-23M2901 1915l8 0 8-15M3057 1877l3-2 8 14M3187 1807l0-3M3269 1809l5-8M3362 1793l4 10M1969 2163l7 3M1978 2170l6 14M1992 2162l8-21M2406 2051l8 17M2883 1920l8-20M3249 1812l8-22M1585 2255l8 2M1595 2266l6 25M1959 2153l8-16M1975 2142l8-6M2015 2149l7-21M2024 2132l6 18M2110 2110l2 5M2150 2098l8-48M2746 1951l8-15 8-30M2850 1912l7 18M3359 1781l7-37M1960 2142l5-7 8-1M2107 2096l1-3M2140 2102l8-48M2267 2058l8-17M2363 2041l3 6M2999 1865l8 22M3349 1774l8-19M1757 2202l8 8M2448 2011l8 0M2502 1997l2-3 8 10 8-2M2938 1866l4-12M2981 1867l8-47M3053 1849l8-50M3360 1751l3-16M1906 2155l5 15M2415 2019l8-24M2486 1996l8-22M2657 1915l4-55M2926 1862l6-15M3345 1774l8-14M1817 2173l8-43M2047 2114l8 11M2246 2050l8-51M2302 2032l8-53M2469 1993l8-25M2764 1902l7-49M2792 1889l3-9M3328 1773l8 14M1807 2162l8-26M2030 2105l8-20M2284 2043l8-44M2790 1881l3-17M2978 1853l3 9M3059 1792l5-34M3310 1773l8 0M1774 2167l7 4M2855 1871l8 13 8-3M3205 1781l8 17M2201 2034l8-27M2720 1904l6-34M2869 1862l8-29M2965 1843l8-32M1476 2227l8-17M2262 1954l1-11M3243 1761l6 23M1466 2229l8-35M1486 2246l4 25M2063 2055l8-31M2300 1983l1-5M2365 1982l8 26M2532 1945l8 20M3036 1812l5-8M1552 2191l8-11M2538 1932l8-7 2 3M2999 1814l8-49M3174 1759l8-9M1476 2196l3-9M1749 2143l8 30M2489 1943l7-56M2695 1895l8-7 3 4M2948 1823l2 1M2953 1812l5-21M2990 1817l7-15M3037 1786l8-35M3157 1764l7-12M3284 1720l8 6 0 2M1509 2186l8-9M1731 2139l8-10M1803 2121l8-6 4 18M1852 2110l7 25M1882 2090l8-1M1986 2056l8-5M2002 2060l8 5 8 21M2678 1874l8-32M2787 1841l2-2M3028 1792l8-20M3147 1750l8-6M1451 2199l2-3M1761 2113l8 7M1793 2104l8-11M1825 2099l8 12M1849 2104l8-14 8-16M1988 2055l4-11M2183 2004l8 7 5 26M2433 1936l4-8M2596 1900l8-55M2666 1872l2-6M2708 1862l4-6M3169 1744l8 15M1791 2106l8-75M1877 2081l2-3 8-48M2141 2018l8-2 8-27M2205 2001l4 6M2326 1957l6-12M2412 1948l8-39M2483 1923l8-49M2645 1880l5-16M2689 1840l1-5M2736 1859l2 1M2754 1844l0 2M2833 1819l8-1M3044 1755l4-29M3159 1740l8-6M1870 2075l7-50M1941 2048l8-8M1966 2042l7-33M2474 1923l8-17M2633 1877l4 1M2657 1869l2 3M2760 1835l8-45M3223 1717l6 19M1939 2039l8-20M2042 2023l8-25M2187 1988l7 26M2209 1988l8 0M2297 1914l0-2M2464 1912l8-11M2580 1855l3-22M1540 2157l8 16M1754 2101l8-7 8 3M1929 2046l8-37M2170 1968l6-53M2200 1985l8-17M2283 1920l4-34M2446 1906l8-70M2478 1891l8-61M2892 1785l1-4M2899 1754l1-2M1659 2111l6 26M1737 2086l8-28M1840 2061l8-30M2190 1962l8 8 8-8 8-14M2276 1892l2-12M2437 1901l8-127M2536 1842l4-35M3009 1762l8 4M3144 1725l8-12 8 26M2165 1964l7-44M2339 1918l8-33M2466 1850l1-4M2936 1776l8 1M2960 1765l8-2M3000 1747l7 0M1495 2142l8-19M1817 2032l4-15M2067 1991l8-32M2139 1978l8 1M2237 1924l5-25M2326 1900l4-24M2652 1793l4-45M3109 1714l8 3M2010 1990l8 26M2161 1963l8-35M2235 1919l6-24M2672 1772l6-142M2972 1739l8-5M3092 1710l7-33M3123 1711l8-27M1611 2104l8 10M2151 1962l8-58M2598 1819l7-55M2758 1756l6-70M2907 1759l8 5M3114 1709l8-32M1593 2095l8 9M1609 2087l8 0M1847 2028l8-16M2155 1921l3-12M2205 1936l2 1M2483 1832l1-3M2805 1752l5-17M2969 1736l8-54M3064 1695l8-17M1575 2088l8 8M2150 1936l6-29M2188 1923l8-41M2426 1874l3 2M2621 1754l4-58M2824 1768l8-9 8 10M3067 1690l3-16M3110 1690l8-10M1438 2129l8 25M2067 1948l8 13M2170 1925l8-50M2218 1917l0 3M2409 1865l8-1M2814 1756l8-49M2862 1754l8 4M1429 2121l8 3M1818 2017l8-14M1858 2001l8-10M2052 1952l5-7 8 2 8-44M2154 1906l6-43M2803 1744l2-3M1689 2042l8-22M1809 2002l8-18M1910 2013l2 9M2055 1935l8-28M2485 1823l8-15M2540 1805l8-24M2776 1727l3-10M2963 1690l7-16M1746 2023l5 16M1775 2004l8 22M1803 1981l4-12M2228 1900l8-57M2313 1838l3-24M2527 1776l4-24M3048 1674l8-15M3063 1674l3 15M3095 1670l8-3 8 8M1622 2051l8-77M1917 1965l8-14M2052 1933l2 0M2219 1877l8-60M1422 2098l8-16 8 5 8-11 8-11M1462 2079l8 27M1581 2049l8 2M1907 1960l8-46M1955 1959l8 17M2209 1872l8-35M2769 1702l5-53M3036 1668l8-27M1420 2076l8-14M1436 2068l8-7M1500 2063l8 12M1595 2046l8 7M1770 1994l8 8M1897 1957l8-46M1932 1956l5-5 8 3M2291 1843l4-20M2787 1664l1-10M3026 1669l8-7M1579 2040l4 8M1771 1991l5 6M1927 1934l8 6 8 6M2086 1897l8-56M2866 1700l8-2M2947 1683l6 22M3064 1651l8 3M1480 2056l8-71M1711 1985l8 10M1894 1937l8-41M2188 1870l8-7M2379 1812l8 25M2419 1809l8 1M2920 1678l1 5M1685 1987l8-43M2071 1873l4-10M1302 2097l8 18M1668 1998l8-38M2590 1737l8 2M1303 2087l5 9M2135 1853l8-1M2405 1796l8-8M2477 1779l8-3 1 6M2851 1672l8-4 4 22M1219 2103l8 12M1950 1903l8-6M2054 1868l8-25M2125 1851l8-41M2292 1811l8-20M2396 1795l8-5M2841 1675l8-3M2889 1662l8 18M1384 2050l8-24M1798 1940l0 3M1853 1921l8-33M1973 1897l8 3M2322 1787l8-1M2386 1775l8 6M2633 1726l8-7M3046 1615l8 7M1176 2090l8 46M1470 2019l8 4 1 3M2376 1785l8-9M2424 1765l8-48M2965 1616l8 3 5 29M3036 1609l8-21M1428 2029l8 4M1452 2004l8-44M2260 1787l3-7M2271 1788l8 4 8-15M2391 1776l8-57M2566 1718l4-6M3011 1607l8 7M1427 2004l8-7M1689 1944l8-23M1864 1894l8 2M2484 1737l8 34M2540 1726l8-13 8-33M2596 1709l8 0M2848 1659l2 9M2866 1639l8-38M2898 1624l8 13M2993 1591l8-13M3025 1587l8-22M1584 1961l8 15M1679 1940l8-32M1684 1914l2-4M1829 1889l8-23M1927 1868l5 16M2202 1802l8-11M2521 1706l8-26M2775 1651l8-9M2974 1583l8-14M2002 1848l8 10M2177 1790l8-15M2487 1716l8-36M1865 1877l8 1M2167 1795l8-23M2249 1767l6-26M2326 1753l8-2M2479 1708l6-21M2030 1818l8-5M2301 1741l8 15M2356 1737l8 6M2401 1695l3-19M2643 1657l8-44M1201 2032l8-7M1246 2039l3 13M2204 1770l0 2M2206 1780l2 8M1160 2037l8 19M1192 2025l8-12M1623 1914l6 23M1947 1822l8-13M2114 1781l8-15M2257 1747l8-96M2325 1743l4 10M1890 1834l8 8M2105 1782l8-14M2502 1677l8-45M2781 1611l0 2M2783 1622l1 5M1333 1994l6 29M1920 1813l8 4M2357 1704l8-32M1449 1939l8-7 8 40M1847 1836l8 4 8 6M1902 1813l8-33M2405 1675l6-30M2610 1629l6 12M1837 1832l8-3M1893 1819l8-49M2028 1775l0 2M2394 1688l8-39M1644 1872l8-24M1955 1792l7 12M2082 1754l8 42M2114 1743l8-23M2413 1645l3-9M2901 1531l8 31M2303 1700l8 5M1927 1780l8-44M2094 1730l8-20M2253 1704l8 1M2085 1745l7-33M2236 1688l8-9M2210 1704l3-3M2305 1678l8-5M2647 1585l8-3M2767 1551l8-26M2799 1542l7 28M1383 1918l6 32M2192 1700l8-9 8 5M2296 1667l8-29M2749 1554l8-43M1356 1913l8-28M1711 1838l3 5M2739 1540l8-47M1290 1920l8-21M1378 1905l8 1M1481 1872l8 1M1752 1794l7 6 8 8M1775 1796l8 7M1919 1760l8-3M2157 1683l8-34M2477 1611l6 17M2730 1545l8-42M1281 1906l8-13M1363 1885l5-31M1527 1840l8-12M1750 1790l8-17M2267 1649l8 2 8-61M2473 1598l8-17M2537 1586l8-9M2547 1582l6 16M2569 1584l3 16M1303 1892l8-52M1438 1875l8-6M1780 1778l6 29M1883 1752l8 19M2267 1648l6-18M1206 1918l8 1M1293 1889l8-31M1540 1829l8 8M1762 1781l8-13M2518 1565l8-19M1188 1912l8 1M1037 1963l6 18M2490 1571l8 4M2139 1655l8-15 8 11 5 17M1262 1873l8-27M1485 1820l8 10M2121 1659l8-43M2240 1619l8-87M2431 1576l8 3M1111 1921l6 14M1666 1771l8-13M1889 1705l8 9M2111 1645l8-48M2351 1581l7-42M2414 1567l8 8M1823 1709l8 1M1871 1705l8-15M1884 1697l3 3M2102 1650l8-43M2404 1561l8-5M1814 1705l8-15M2434 1538l8 4 0 3M2585 1513l8 4M1229 1838l2-9M1989 2461l-10-20M1834 2390l-10 31M1476 2227l-10 2-10 21M1176 2090l-10 22M1857 2400l-5 6M1986 2453l-10-26M1994 2441l-10-22M1469 2211l-8-32M1451 2199l-9 21M1306 2141l-10-8 0 3M1585 2255l-10-21M1593 2257l-10-16M1512 2213l-2 12M1509 2231l-4 21M1869 2363l-10-17-10 26M1743 2304l-10 0-10-2-9-8M1711 2300l-7 13M1539 2213l-9-31M1507 2194l-8 36M1160 2037l-10-7 0 2M2059 2437l-10-28M1710 2284l-9 8M1519 2182l-2-5M1815 2321l-10 20M1786 2313l-10-4-9-3M1728 2280l-10 6M1447 2159l-10 16M1302 2097l-10 2M1202 2060l-7 16M1881 2334l-10 12M1813 2304l-9-10M1794 2307l-10 1M1552 2191l-10 23M1300 2083l-10-32M1077 1989l-1 5M1550 2187l-10 27M1201 2032l-9-7-10 17M1876 2331l-8 26M1548 2189l-9 9M1209 2025l-9-12M1035 1958l-10 14M2203 2469l-9 3M1855 2317l-10 1M1658 2218l-7 11M1438 2129l-9-8M1427 2129l-8 37M2144 2429l-10-12M1872 2316l-9-17-10 10M1814 2281l-9 0-3 14M1495 2142l-10 7M2229 2472l-10-14M2161 2438l-9-6M1822 2282l-9-31M1801 2283l-4 19M1512 2139l-9-16M1241 2018l-9-21M2247 2454l-10-6M2179 2434l-10-4M2003 2353l-8 22M1801 2272l-9 23M1540 2157l-10-1M1906 2310l-10 20M1422 2098l-10 7M2146 2409l0 3M2108 2385l-10-17M2019 2348l-8-38M1972 2335l-10 30M1430 2082l-10-6-10 28M2135 2394l-10-30M1438 2087l-10-25M1978 2324l-9-29M1957 2318l-8 47M1801 2251l-7 21M1715 2213l-8 21M1446 2076l-10-8M2035 2338l-10 34M1996 2324l-10-38M2198 2399l-10-55M2178 2393l0 4M1568 2116l-10 45M1384 2050l-10-30M1219 1976l-9-9-10 26M2084 2360l-6 9M2045 2342l-6 9M1942 2279l-9 4-5 9M2241 2419l-10-2M1757 2202l-10-66M1418 2052l-10-24M1957 2266l-8-39M1629 2134l-10 7M2294 2415l-10 0M1994 2287l-10-7M1500 2063l-10-29M1480 2056l-9 41M2135 2332l-8-29M1575 2088l-9-8-10 17M1476 2068l-5 26M1186 1918l-8 17M1729 2150l-10 12M1593 2095l-10 1M1428 2029l-9 14M1331 1986l-9 17M1206 1918l-10-5M2366 2436l-10-19M1792 2195l-7 27M1611 2104l-10 0M1425 2010l-8 22M1774 2167l-10 11M2295 2399l-10 0M1452 2004l-10-22M2293 2386l-10 1-9 9M1731 2139l-9 15M1470 2019l-10-59M1817 2173l-10-11-10 27M1745 2138l-6-9M1478 2023l-10-35M1931 2204l-9-46M2288 2363l-10 21M2104 2280l-10-5-10 39M1581 2049l-10 15M1290 1920l-9-14-10 18M2305 2374l-9-18M2257 2355l-10 12M1279 1909l-10 12M2287 2363l-3 0M2275 2349l-10-10M2129 2277l-9 1M1761 2113l0 3M1577 2036l-9 26M2302 2347l-10-1-9-5M1911 2189l-6 9M1595 2046l-6 4M1418 1966l-7 19M1961 2196l-9-6-10-11-10-25M1622 2051l-9-51M1303 1892l-10-3-1 5M2299 2340l-10-8-10-16M2269 2317l0 4M2268 2327l-2 11M1969 2188l-9-32M1737 2086l-10 22M1659 2062l-9 32M1291 1890l-9 2-10 10M1262 1873l-9-41M2297 2324l-10-1M2171 2288l-10-11-7 24M1977 2194l-9-20M1919 2161l-10 13M1803 2121l-10-17-9 43M1754 2101l-9-43M2324 2344l-10-10M2140 2251l-10 13-9-19M1811 2115l-10-22M1791 2106l-9 9M1762 2094l-9-19M1356 1913l-10-48M1277 1865l-9-37M2477 2408l-9 13M2155 2266l-7 6M1577 2009l-10 15M2418 2379l-10-5M2406 2382l-7 30M1449 1939l-10-28M1430 1931l-10-1-10-6M1381 1909l-9-8M2435 2384l-10-51M2338 2335l-9 4M2106 2226l-10-16M2086 2214l-9 38M1824 2094l-9-66M1718 2043l-9-14M1699 2047l-10-5-9 2M1457 1932l-10-29M1358 1891l-8-21M1299 1863l-7-27M2406 2374l-2 3M2356 2323l-10-12M1969 2163l-10-10M1703 2029l-6-9M1668 2035l-9 19M1378 1905l-10-51M2374 2339l-10-23M2209 2269l-10 0M1976 2166l-9-29M1851 2104l-10 5M1310 1838l-2-7M2236 2276l-9-64M1975 2142l-2-1M1967 2137l-2-2M1742 2056l-9 10M2486 2378l-9-2M2244 2263l-9-63M2031 2168l-10 24M1992 2162l-9-26M1925 2125l-10 12M1857 2090l-10-17M1644 2003l-7 16M2504 2368l-10-6M2000 2141l-9-5M1969 2134l-7-29M2396 2332l-10-1M2367 2308l-10-8-6 16M2208 2251l-6 13M1882 2090l-9-12M2404 2313l-10-15M2287 2259l-9-3-10 35M1900 2104l-10-15-9 1M1668 1998l-10 12M2305 2279l-10-48M2102 2186l-10-44M2015 2149l-10 0M1879 2078l-3 1M1840 2061l-9-46M1743 2015l-9-20M1723 2008l-7 29M1685 1987l-9-27M2439 2333l-3 6M2206 2216l-9-12M2108 2175l-8-39M2022 2128l-9 9M1868 2070l-10 2-10-41M2408 2313l-10-27M2107 2171l-9-68M1861 2070l-5-1M1711 1985l-10-20M1448 1879l-10-4M1436 1884l-4 19M2110 2134l0-3M2109 2125l-5-48M1775 2004l-10 5M2461 2308l-10-1M1975 2100l-4 6M1481 1872l-10 17M1818 2017l-7-11M1770 1994l-10 6M1489 1873l-10-2M2204 2181l-10 5-9 40M2030 2105l-10 5M1826 2003l-9-19M1768 1987l-9 9M2125 2139l-10-31M2047 2114l-9-29M1939 2056l-8 32M1689 1944l-10-4-9 20M1621 1906l-9-11M2510 2295l-9-8M1939 2039l-10 7-9 3M1918 2053l-8 18M1707 1948l-10-27M1678 1927l-10 34M2528 2308l-10-18M2499 2294l-10 18M2412 2266l-10-27M2112 2115l-3 4M1986 2056l-10-14M1952 2038l-5-19M2652 2368l-9 4M2508 2286l-1-2-10-13M2488 2285l-10 20M2255 2187l-9 3M2032 2071l-7 35M1960 2040l-5-12M1858 2001l-10-33M2515 2292l-10-44M2482 2283l-6 22M2336 2218l-5 0M2329 2225l-8 26M2002 2060l-10-16M1866 1991l-10-3M1527 1840l-10-7-9 13-10 10M2523 2295l-10-43M2407 2227l-10 14-3 20M2281 2176l-10-17M2010 2065l-10-48M2541 2295l-10 12M1485 1820l-10 5M2587 2297l-9-9M2401 2222l-7-30M2377 2249l-2 12M2547 2290l-10-7-10 15M2358 2219l-1 2M2227 2149l-9-42M2150 2098l-10 4-9 49M2063 2055l-10-8M1598 1867l-10 17M2201 2124l-5-9-9 26M1644 1872l-9 30M2640 2322l-10-12-9 25M2572 2288l-9-73M2340 2178l-10 24M2204 2116l-9-4-10-8-10-35M1904 1983l-10 8M2667 2319l-9 1-10 8M2590 2282l-10-6-9-16M2329 2161l-10 35M2261 2129l-10-10M2193 2105l-10-53M2675 2328l-9-26M2722 2338l-10 0M2383 2177l-10 11M2042 2023l-9 36M1917 1965l-10-5-10-3-9 40M2748 2323l-10 20M2409 2190l-10 4M2244 2109l-1 2M1934 1959l-9-8M1895 1946l-9 32M2455 2205l-9 4M2010 1990l-10 14M1894 1937l-10 24M2609 2253l-10 8M2597 2267l-5 16M2411 2175l-6 9M2306 2136l-7 10M2289 2124l-10-9-4 7M1914 1913l-3-13M1853 1921l-9-18M2626 2263l-9-49M2596 2254l-1 6M1928 1954l-9-47M2539 2193l-2-6M2344 2126l-4 5M2162 2036l-2-3M2024 1994l-5 23M1937 1951l-10-17M2371 2133l-10 17M1955 1959l-10-5-10-14M1855 1901l-7-19M1829 1889l-10 32M2534 2203l-10-3-4 25M1730 1853l-10 12M2658 2244l-10 17M2416 2146l-10-7-9 12M2327 2108l-10-76M2201 2034l-3 6M2267 2058l-9-27M2141 2018l-9 0M1706 1825l-10 29M2818 2304l-10 4M2711 2268l-4 23M2246 2050l-10-61M2777 2292l-1 3M2690 2254l-10 3M2002 1940l-9 20M2698 2249l-10-6M2417 2117l-6 23M2355 2101l-6 5M1865 1877l-10 5M2367 2079l-10-11M2183 2004l-10-51M2067 1948l-10-3M1950 1903l-9-11M1939 1900l-8 33M1873 1878l-10-15-9 7M2191 2011l-10-9M2065 1947l-10-12-7 9M2857 2302l-9-18M2846 2291l-8 28M2480 2118l-10-42M1666 1771l-10 16M2786 2263l-8 25M2410 2092l-5 20M2381 2072l-10-33M2284 2043l-9-49M2055 1934l-3-1M1752 1794l-10 36M2747 2240l-9 39M2437 2088l-9-48M2302 2032l-10-33M2202 2014l-7 25M2186 1981l-10-66M2166 1972l-2 8M1973 1897l-10 2M1924 1859l-10 22M1847 1836l-10-4M1834 1835l-7 8M1759 1800l-9-10-10 13M2629 2181l-9 37M2165 1964l-2 7M1855 1840l-10-11-10-12-9-9-10 7M1814 1821l-8 21M2676 2190l-10 9-9 14M2511 2111l-9-13M2482 2113l-1 6M2114 1944l-1 3M1775 1796l-9-14M2529 2122l-10-85M2442 2079l-10-32M2209 1988l-9-3-10-23M2147 1971l-5 11M2070 1904l-6-13M1890 1834l-10 4-9 14M2537 2129l-10-88M2363 2041l-10-7-10 5M2208 1968l-10 2M2787 2228l-10 31M2206 1962l-2 3M2171 1927l-4-13M2146 1955l-5 23M1989 1900l-2 11M1780 1778l-10-10M2814 2223l-9-12M2157 1910l-1-3M2590 2129l-10 4M2493 2081l-10-18M2406 2051l-10-38M2307 1974l-8-60M2086 1897l-9-35M2067 1883l-10 11-9 30M1902 1813l-9 6-5 15M2608 2131l-10-10M1920 1813l-10-33M2809 2210l-9-5M2625 2133l-9 7M2530 2051l-2-7M2169 1921l-9-58M2054 1868l-10 21M1947 1822l-9-25M2827 2217l-10-14M2759 2194l-10 28M2188 1923l-10-48M2844 2209l-9-24M2418 2032l-9 17M2252 1952l-8-32M2205 1936l-9-54M2070 1872l-10-41M2002 1848l-10 8M2610 2115l-9-3-3 8M1932 1797l-3 18M2550 2079l-9 27M2415 2019l-10 9M2264 1932l-4-13M2694 2128l-10-1-9 24M2365 1982l-8 12M2324 1961l-9-38M2259 1916l-3-13M1927 1780l-9 19M2448 2011l-9 27M1955 1792l-10-29M2747 2134l-10 4-9 22M2466 2019l-10-8M2400 2012l-2 4M2030 1818l-9 7M2019 1832l-7 26M2794 2161l-10-8M2755 2127l-10-38M2406 1991l-9-34M2135 1853l-10-2-9 20M1883 1752l-9 18M2530 2027l-9-1M2143 1852l-10-42M2104 1838l-5 13M1823 1709l-9-4M1812 1711l-8 29M2935 2215l-9 30M2829 2161l-10 4-9-5M2548 2038l-10-17M2335 1933l-10-35M2228 1900l-9-23-10-5-4 18M1919 1760l-7 22M1831 1710l-9-20M2779 2134l-10-5M2575 2051l-9 11M2492 2017l-4 2M2469 1993l-10-35M2091 1815l-10 9-9 41M2709 2102l-9 11M2496 2005l-10-9-9-28M2206 1876l-10-13-10-31M2678 2071l-9 0-10 9M2504 1994l-10-20M2339 1918l-9-42M2880 2166l-10-22M2774 2122l-10 6M2512 2004l-10-23M2479 1972l-6-26M2415 1951l-6 31M2352 1904l-5-19M2907 2161l-9 8-10 17M2656 2053l-10 1M2642 2079l-1 7M2640 2092l-2 9M2607 2035l-10-4-9 30M2568 2024l-9 8M2520 2002l-10-2M1929 1735l-9 24M1871 1705l-10 5M2925 2179l-10-17M2615 2040l-10-44M2412 1948l-10-42M1889 1705l-10-15-10 6M2865 2140l-9 11M2428 1939l-8-30M3094 2244l-8 38M2282 1863l0 2M2930 2162l-10-12-10 4-2 6M3005 2176l-9 9M2114 1781l-9 1-10 21M2556 1973l-8-41M2539 1971l-10 29M2280 1875l-3 3M2992 2170l-10-38M2934 2129l-7 29M2489 1943l-5 20M2082 1754l-10-35M2758 2055l-10-1M2177 1790l-10 5M2446 1906l-9-5M3123 2201l-10 16M3045 2167l-10-33M3024 2167l-6 27M2725 2035l-9-20M2714 2025l-8 37M2658 1991l-5 1M2532 1945l-10-72M2483 1923l-9 0-10-11-10-76M2202 1802l-9-20M3117 2206l-6 11M3053 2162l-10-43M2927 2110l-10 28M2724 2018l-10-13M2482 1906l-10-5-10-69M2365 1851l-9 6M2114 1743l-10-31M2094 1730l-9 15-10-32M2065 1725l0 3M3090 2178l-10 12M3061 2166l-10-23M2877 2089l-10 2-9 42M2538 1932l-10-87M3088 2177l-9-7-10-4M3065 2165l-6-1M2904 2100l-9 0M2546 1925l-10-59M2478 1891l-10-7M2254 1791l-8-35M3096 2162l-9-9M3077 2159l-10-4-10-7M2980 2121l-10-1-9 38M2854 2056l-10-5 0 2M2843 2059l-8 45M2409 1865l-10 21M3114 2170l-10-10M3082 2155l-7-25M3007 2135l-9-7-10-5M2843 2047l-10 44M2804 2045l-10-48M2763 2019l-7 10M2426 1874l-9-10-10 0-10 6M2204 1770l-10 15M3091 2157l-8-44M3025 2118l-10-5M2763 2010l-9 2M2303 1789l-4-18M2305 1786l-8-50M3012 2117l-10 4M2886 2051l-10-17M2532 1853l-4-47M2239 1721l-2-16M3010 2114l-10-32M2989 2096l-5 26M2913 2054l-9-16M2322 1787l-2 9M3144 2161l-10 6M3047 2120l-1 3M2931 2071l-10-43M2680 1902l-1-6M2473 1839l-7-70M2379 1812l-10 16M3220 2194l-10 27M2939 2065l-10-13M3237 2198l-9-36M3121 2148l-10-14-9 14M3063 2117l-10-4M3139 2132l-10-13M2596 1900l-9-22M2199 1728l-9 24M3152 2110l-5-45M3222 2175l-9 14M2758 1956l-10 15M2419 1809l-10 12M2157 1683l-10 42M2785 1955l-10-22M2746 1951l-1 1M2301 1741l-10-25M3200 2150l-10 21M2919 2012l-10-71M2405 1796l-9-1-10-20-10 10 0 3M2192 1700l-9-23M2975 2031l-10 0M2820 1967l-10-17M2785 1936l-4-17M2413 1788l-9 2-10-9M2326 1753l-9 2M2210 1704l-10-13-9 7M3216 2135l-10-35M3196 2131l-7 31M3032 2065l-10 53M2214 1695l-6 1M2121 1659l-10-14-9 5-10 8M2730 1912l-10-7M2636 1880l-3-3M2391 1776l-10-44M2362 1761l-10 32M2236 1688l-3 1M2139 1655l-10-39M2100 1637l-1 4M2980 2029l-10-33M2718 1913l-10 9M2657 1882l-7-18M2636 1878l-5-2M2321 1733l-10-15-9 14M2253 1704l-9-25M2147 1640l-10-44M2678 1874l-10-8M2261 1705l-9-3M2155 1651l-10-39M3305 2166l-9-34M2879 1964l-9-32M2695 1895l-9-53M2540 1805l-9-53M2496 1791l-4-7M2490 1789l-4 9M2424 1765l-10-28M2356 1737l-9 6M3092 2046l-1-4M3033 2039l-10-15-10 8-10-8-9-27M2849 1943l-5 23M2703 1888l-9-51M2238 1679l-5 9M3292 2135l-9 8-10 32M3040 2030l-9-20M3048 2032l-2 0M2671 1861l-10-32M2477 1779l-10-16M2466 1759l-7-24M3085 2027l-1-2-10-20M3026 2003l-10-2-8 24M2357 1704l-9 16M3305 2116l-10 8-2 10M3121 2045l-10-18-10-10M3034 2005l-10-11-10 1-10 20M2850 1912l-10 19M2434 1699l-1-3M3361 2148l-10 27M3094 2006l-4-18M2594 1793l-8-26M2305 1678l-9-11-6 10M2267 1649l-10-1-8 41M3359 2143l-9 29M3301 2104l-9-21M3185 2065l-10-22M3049 2003l-9-12M3037 1997l-4 7M2313 1673l-9-35M2188 1616l-10 12M3416 2155l-10 20M3193 2046l-10-55M2883 1920l-10 17M2747 1855l-9 5M3269 2093l-10-1M3143 2032l-10 19M3047 1954l-1-6M2901 1915l-10-15M2881 1916l-9 11M2792 1864l-7-25M2767 1883l-2 6M2484 1737l-9-54M3344 2118l-9 2M3286 2097l-9-17-10 13M2754 1844l-10-17M2240 1619l-9 7M3352 2108l-9-9M3294 2075l-9-3M3236 2053l-9 6M3168 2036l-9 30M2926 1915l-9-15M2403 1682l-9 6M3312 2096l-10-40M3170 2036l-3 2M3099 1993l-10-38M2760 1835l-10-46M3262 2060l-10-7M3000 1943l-9 25M2855 1871l-10 12M2497 1720l-10-4-5-1M2288 1578l-4-41M3425 2134l-10 9M3279 2054l-9-13M2970 1918l-10-108M2500 1698l-5-18M3423 2129l-10 9M2987 1923l-10-37M3363 2093l-10 8M3247 2039l-10-4-9 8M3150 1988l-10-9-9 3-10 12M3005 1933l-10-23M2911 1836l-3-26M2869 1862l-9-62M2540 1726l-10-26M2521 1706l-2-1M2514 1702l-3-2M3216 2011l-10-13M3099 1959l-9-61M2921 1852l-5-46M2645 1760l-7-15M2548 1713l-10-49M3290 2025l-8-35M3234 2025l-10-11M3180 1998l-4 0M2844 1851l-7 11M2566 1718l-10-38M3358 2071l-10-6-9 40M2572 1701l-8-36M3027 1906l-10 5-9 29M2833 1819l0 2M2832 1827l-6 41M2754 1775l-8-54M3500 2111l-10 16M3161 1971l-10-22M2846 1823l-5-5M2576 1688l-6-18M2525 1692l-3 3M2502 1677l-3 8M3517 2114l-9-42M2520 1670l-10-38M2491 1657l-10 7M3493 2110l-6 19M3341 2048l-9-11-10 16M3303 2027l-10-6-3 4M2609 1724l-4 0M2596 1709l-6 2M3543 2132l-10-13M3049 1894l-10-1M2981 1867l-4 16M2999 1865l-10-45M3559 2117l-10 7M3546 2133l-6 19M3297 1999l-9 5M2885 1810l-4-7M3422 2058l-10 9M3315 2009l-10-30M2976 1846l-8 22M3284 1984l-9 14M3236 1971l-10-54M2974 1847l-9-4M2814 1755l-4-20M2934 1831l-10-8-5 10M2847 1790l-10 26M3562 2095l-10-4-10 12M3387 2016l-9 7M3376 2029l-8 25M2790 1716l-3-23M3434 2035l-10 22M3395 2010l-9-7M3269 1957l-9 7M2806 1744l-1-3M2475 1606l-9 14M3575 2088l-7-12M3403 2005l-9-13M2832 1759l-10-52M2473 1598l-9-29M3537 2062l-10 7-9 22M3363 1997l-10-11-10 14M3188 1920l-9 11M3130 1878l-9-64M3051 1855l-8 22M2414 1567l-10-6M2402 1567l-6 15M3545 2062l-10-42M3138 1893l-9-31M2830 1708l-2-7M2431 1576l-9-1-10-19M3505 2042l-10 25M3379 1987l-10-44M3233 1915l-9-45M3146 1886l-9-7M2643 1657l-10-39M2449 1577l-10 2M3309 1958l-10 0M3144 1886l-9-30M2999 1814l-9 3-8 36M2897 1760l-4 2M2891 1766l-8 20M2665 1641l-5-21M3015 1801l-8-36M2862 1754l-10-34M2610 1629l-10 8M3451 1997l-10-3-9 16M3106 1809l-4-30M2434 1538l-10 35M3653 2080l-10 17M3614 2073l-10 36M3420 1986l-10 2M2936 1776l-10 1M3670 2100l-9-18M3254 1911l-10-9M2537 1586l-10-25M2518 1565l-10 4-10 6M3000 1794l-9-13M2545 1577l-10-35M3202 1861l-10-56M3037 1786l-9 6-5 12M3549 2021l-10-24M3491 2001l-10 0M3471 1984l-9-29M3413 1967l-9 20M3278 1907l-10-45M3249 1885l-10 8M3557 2021l-10-15M3508 1991l-9 0M3431 1961l-10-5-10 8M3344 1915l-10 1-10 26M3014 1783l-1 1M2569 1584l-10-36M3603 2033l-9 9M3718 2072l-10 40M2972 1739l-9-13M2866 1700l-10-20M3290 1889l-1 4M3009 1762l-9-15-10 10M3621 2005l-1-2M3527 1990l-6 13M3298 1876l-10-16M3162 1818l-4 2M2967 1730l-8-23M3742 2081l-10-11M3529 1984l-10 11M2851 1672l-10 3-3 8M2787 1645l-4-3-10 6M2647 1585l-9 27M3735 2074l-5 5M3653 2026l-10 3M3537 1973l-10-13M3525 1968l-8 26M2859 1668l-10 4M2655 1582l-9 2M3690 2034l-10-30M3419 1921l-6 8M3708 2034l-10-36M3252 1827l0 4M3248 1857l-4 27M2972 1684l0-3M3367 1887l-6-11M3191 1806l-8-23M3452 1923l-9-15-10-1-10 13M3249 1812l-10 28M2920 1678l-10 1M2842 1629l-10 17M3470 1916l-10-24M3260 1797l-3-7M2889 1662l-10-13M3042 1718l-10 41M2945 1676l-9-16M2781 1611l-10 0M3534 1935l-9-28M3447 1902l-2 4M3399 1874l-10-55M3205 1781l-10-37M3157 1764l-10-14-10 19M2866 1639l-10 17M2585 1513l-10 14M3717 2002l-10-6M3705 2002l-3 9M3474 1889l-9-24M3339 1838l-10-25M3319 1824l-9 9-10 3M3177 1764l-3-5-10-7-9-8M2603 1510l-10 7M3812 2043l-10 16M3734 2004l-10-12M3676 1993l-10-13-9 28M3752 2023l-10-34M3064 1695l-7 33M3169 1744l-10-4-2 7M3092 1710l-10-46M3060 1713l-7 9M2898 1624l-10-6-3 11M3361 1827l-8 19M3109 1714l-10-37M3727 1983l-9-29M3417 1855l-9-41M3359 1824l-9 16M3117 1717l-10-25M2749 1554l-10-14-9 5-1 2M3493 1878l-6 10M3201 1751l-2 6M3044 1684l-6 16M2767 1551l-10-40M3501 1873l-10 4-9-13-10 12M3123 1711l-9-2M3036 1668l-10 1-9 3M3063 1674l-9-45M3459 1852l-10-12-3 10M3362 1793l-10 3-9 41M3120 1681l-10 9-2 1M2964 1621l-9 40M3748 1962l-7 18M3699 1955l-9-38M3602 1904l-9 8M3118 1680l-10 8M2973 1619l-10-23M2797 1538l-8-35M3872 2016l-10-1-10 31M3823 1999l-9 23M3707 1944l-10-3M3359 1781l-10-7M3347 1783l-8 37M3310 1773l-10 2M3880 2003l-10-25M3725 1944l-10-15M3328 1773l-10 0M3221 1710l-10 19M3377 1775l-3-7M3348 1774l-3 0-9 13M3063 1655l-2 4M3818 1980l-10 3M3547 1852l-10-12-9 4-10 16M3450 1812l-10-12-9 3-10 16M3365 1743l-2-8M3845 1987l-9-29M3804 1978l-7 18M3565 1848l-10-34M3522 1843l-6 18M3468 1807l-10-32M3429 1790l-10 30M3284 1720l-10-17M2993 1591l-9-13M2972 1587l-8 14M3853 1975l-9-32M3292 1726l-10-21M3272 1721l-9-2-10 21M3011 1607l-10-29M3861 1983l-9-29M3581 1843l-10-33M3484 1803l-10-32M3004 1581l-5-7M3046 1615l-10-6-9 12M2901 1531l-10-7M3800 1946l-10-9-10-8-9 13M3529 1810l-10-3-10 3-9 11M3025 1587l-2 8M3021 1602l-1 3M3817 1950l-9-24-10-5-10-1-9-9M3769 1924l-10 43M3531 1813l-4-7M3052 1592l-9-31"/>
<path stroke="#4747eb" d="M2255 2451l8 52M2398 2409l8 28M2740 2318l8 5M3662 2069l8 31M3726 2048l8 8 8 25M2244 2479l1 4M2360 2450l4 47M3525 2107l8 12M2613 2366l4 21M3498 2087l2-3M3570 2081l8 11M3888 1992l8 23M2709 2303l8 24M3870 1978l8 5M3296 2132l8 5M2432 2343l8-5 8 47M3680 2004l8-29M3162 2145l8 1 7-8 8 9M2126 2410l8 7M3208 2124l8 11M3836 1958l8-15 8 11M2158 2400l6 14M2570 2285l8 3M3311 2094l6 22M3611 2004l8-3 8 19M3826 1944l8-16M1979 2441l8 36M2806 2219l8 4M3292 2083l8-8M3816 1949l8-14M2670 2244l7 30M2757 2229l8-6 0 3M2797 2217l8-6M3075 2130l8-17M3740 1983l1 4M1976 2427l8-8M2151 2381l4 14M2501 2287l8 0M3129 2119l8-42M3718 1954l7-4M2125 2364l8-36M3302 2056l8 18M2116 2361l8-3M2306 2314l8 20M2394 2298l8 10M2497 2271l8-23M2982 2132l8 14M3539 1997l8 9M2279 2316l8 7M2398 2286l8 11M3158 2084l4 2M3287 2039l8-4M3297 2042l4 14M3270 2041l8-4 8-16M2848 2141l6 16M3244 2046l8 7M3459 1982l8 22M3691 1923l6 18M3274 2012l8-22M2772 2152l7-1 8 31M3082 2058l8-7M3113 2057l8 30M3265 2011l8-4M2754 2143l8-23M2802 2130l8 30M3056 2075l8 19M3072 2054l8-36M3104 2043l8-16M3175 2043l8-52M3462 1955l8 16M1854 2384l7 11M2013 2329l8 23M2537 2187l4-1M3094 2049l8-26M1844 2377l8 29M2003 2330l8-20M3371 1974l8 13M3514 1939l8-15 0 2M3523 1932l5 28M3091 2042l2 0M3377 1968l8 24M3089 2017l8-14M3351 1963l8-23M1969 2295l8-15M2112 2262l8 16M3066 2017l8-12 8-7 8-10M3098 1995l4 22M2643 2104l8 22M2923 2035l6 17M3072 2003l8-21M3168 1975l8 23M2426 2170l8-7M2436 2169l6 22M2904 2038l8-5M3031 2010l1 3M2417 2154l8-2M2862 2032l8-9M2878 2045l8 6M2894 2025l8-11M3077 1983l8-16M3244 1949l8 7M3482 1873l8 26M2876 2034l8-40M3067 1974l8-7M3218 1946l8-29M3465 1865l8 11M2214 2201l8 13M2350 2158l8-13M2871 2002l3-17M2970 1996l8 24M3089 1955l8-3M3201 1930l8-16M1767 2317l8 20M1950 2251l8 20M2197 2204l8-12M2618 2086l8 21M2936 2009l8-26M3143 1954l8-5M3573 1834l8 9M1821 2279l8-7M2927 1996l8-12M3038 1957l8-9M3062 1969l8-51M3126 1941l7-8M3460 1859l4 7M1804 2294l8-5M1817 2284l3-3M2472 2100l8 18M3052 1964l8-28M2096 2210l8-23M2263 2166l8-7M2502 2098l8-85M2812 2020l8 24M2894 1973l5-39M2492 2098l8-25M2755 2021l0 4M2939 1972l3 11M3391 1847l8 27M1775 2280l8 5M2212 2157l0 4M2777 2016l8-54M3206 1902l8-27M1818 2267l1 4M2767 2002l8-31M3268 1862l8 15M2422 2088l7 0 8 0M3408 1814l8 23M2269 2111l8 15M2475 2067l8-4M2714 2005l8-23M2746 1995l8 17M2913 1954l8 26M1822 2217l8 0M2092 2142l8-6M2235 2125l8-12 8 6 8 0M2704 1995l8-42M2728 1985l8-17M3476 1794l8 9M1923 2191l8 13M2218 2107l7-38M2435 2056l5 15M2687 1990l8-38M2722 1972l4-5M2734 1971l8-4 8 13M2753 1989l5 17M3458 1775l8-16M1914 2193l8-35M2081 2134l8-94M2208 2100l8-11M2502 2031l4-2M2605 1996l8-36M3122 1865l8 13M2309 2072l8-40M2392 2078l5 24M2492 2021l8-30M2803 1952l7-2M3059 1892l6 28M3129 1862l8 17M3152 1847l8-5 8 28M3272 1822l0 3M3439 1767l8-17M2061 2133l8-31M2300 2074l8-26M2952 1900l8-90M3047 1873l8 4M3059 1890l4 15M3135 1856l8-63M3270 1814l0 3M1932 2154l8-53M2775 1933l8 10M2918 1909l8 6M3125 1839l8-23M3195 1817l2-4M3284 1807l8-11M3294 1806l6 30M1923 2160l8-23M2201 2082l8 2 0 2M2781 1919l8-36M2917 1900l8-38M2557 1983l8-74M3090 1836l8-21M1967 2137l8 5M1983 2136l8 0M2388 2022l8-9 8 18M2714 1930l8-20M2794 1917l3 19M3271 1787l8 13M1575 2234l8 7M2647 1952l2-1 8-34M2880 1893l8-25M3063 1842l7-33M3086 1834l8-21M3166 1809l8 30M3253 1786l8-4M2258 2031l8-34M2870 1880l8-9M2942 1854l3-9M1739 2164l8-28M1962 2105l8-7M2327 2009l8-14M2423 1995l0 4M2494 1974l8 7M2635 1895l3-20M2791 1893l6-14M2805 1898l0 3M2806 1907l7 42M2932 1847l8-44M3019 1823l8-19M3051 1825l8-32M1825 2130l0 4M2175 2050l8-19M2191 2037l7 5M2477 1968l8 16M2795 1880l8-9M2921 1847l1-2 8-9M2165 2036l8-40M2462 1962l5 9M2219 2021l8-40M2473 1946l8 10M2652 1899l4-15M3197 1775l8 6M2354 1988l6 26M1484 2210l2 10M1488 2230l4 15M1531 2199l8 14M2160 2033l8-29M2301 1978l2 3M2397 1957l8 8M1560 2180l8 21M2053 2047l8-19M2288 1951l3-21M2506 1910l8-10M2621 1872l4-28M2785 1839l7 9M2043 2043l8-6M2361 1949l8-29M2425 1942l8-5M2608 1881l8-59M2958 1791l8-15M1461 2179l8-19M1994 2051l8 9M2498 1881l5-33M2631 1878l3 13M2702 1849l7 13 2 2M3274 1703l8 2M1801 2093l8-12 8-2 8 20M1865 2074l8 4M1968 2045l8-3M1992 2044l8-27M2008 2031l0 2M2437 1928l8-8 8 0M2455 1927l6 19M2493 1897l8-74M2668 1866l8 5M2697 1841l3-2M3050 1761l8 2M1847 2073l8 0M1951 2041l7-3M1982 2026l8-36M2157 1989l8 1 8-37M2420 1909l8 9 8-13 8 4M2587 1878l8-30M2650 1864l8 9M2779 1832l3 9M2801 1808l8 2M2881 1803l8-19 2 0M2148 1970l8-20M2307 1947l8-24M2402 1906l8-2M2596 1848l5-11M2776 1810l8 0 8-30M3038 1752l8-49M1780 2062l8-33M1947 2019l8 9M1958 2034l5 8M2822 1803l8-22M2901 1769l8 5 8 36M2184 1950l0 3M2542 1865l8-67M2797 1792l7-36M1745 2058l8 17M2182 1940l8 22M2214 1948l8-28M2468 1884l8-46M2490 1839l2-10M2077 1972l8-12 6 38M2204 1942l8-11M2240 1929l4-9 8 5 8-6 8-3M2365 1898l3 16M2666 1814l7-37M2044 1979l7-26M2362 1888l8-48M2606 1827l8-63M2775 1768l6-19M3099 1677l8 15M3131 1684l8 34M2310 1887l8-56M2358 1886l5-10M3074 1693l8-29M2341 1874l7-48M2573 1824l6 16M2596 1797l7-46M3072 1678l8-16M1711 2037l7 6M2213 1909l5 15M2959 1707l8-18M3070 1674l8-42M3158 1653l8-18M3174 1649l8 35M1701 2031l8-2M2214 1910l4 7M2455 1784l1-11M3140 1658l8-52M2081 1929l8 42M2486 1825l4 10M2805 1741l7-27M2856 1733l4 13M2969 1687l3-6M3131 1642l8-58M1850 1973l6 15M2548 1781l5 12M2803 1733l8-27M2938 1690l8 5M3121 1650l8-53M1926 1958l8 1M2352 1845l4 12M2479 1802l4-7M2586 1767l8-6M2772 1714l5-37M2796 1709l5-13M3056 1659l7 15M1328 2100l8 15M2179 1878l8-7M2328 1802l2-9M3046 1654l8-25M1454 2065l8 14M2297 1835l8-47M1428 2062l8 6M1444 2061l8 1M2215 1844l8-39M2640 1753l5 7M1490 2034l8-40M1908 1911l3-11M3112 1613l8 12M2546 1761l8-5M2186 1832l8 12M2197 1862l0 2M1676 1960l8 7M2177 1839l8-16M2660 1701l8-57M2938 1632l8 6M1290 2051l8 10M2062 1843l8 29M2459 1741l8 22M2650 1706l8-23M1392 2026l8-28M1790 1925l8 15M2299 1771l5 15M1374 2020l8-6 8 5M1844 1903l8 6M2115 1810l7-20M2289 1778l8-42M2305 1777l0 3M2408 1755l8-1 8 11M3044 1588l8 4M2168 1806l7 37M2263 1780l8 8M2414 1737l8 14M2963 1596l8 11M3035 1573l8-12M1435 1997l7-15 8-27M1848 1882l8-2 8 14M2381 1732l8-55M2468 1719l8-8 8 26M2508 1704l8-3M2874 1601l8 12M2883 1620l7 36M3001 1578l8 9M1692 1913l3 4M1838 1870l8-14M2530 1700l8-36M2984 1578l8-14M2998 1572l1 2M2540 1663l4-22M2185 1775l8 7M2495 1680l8 11 8 9M2175 1772l8 3M2255 1741l8 11 8 31M2406 1709l8-54M2293 1729l8 12M2625 1628l8-10M2377 1699l8-11M1938 1797l8 8M2367 1677l8-25M1711 1850l8 30M2589 1622l5 27M1439 1911l8-8M1654 1852l6 13M2122 1720l7 13M1945 1763l8-1 0 3M2104 1712l8-37M2075 1713l8-36M2775 1525l8-12 8 7 8 22M1364 1885l8 16M1453 1869l6 13M2167 1682l8-29M1300 1906l6 21M1338 1889l8-24M2284 1632l8-39M1320 1880l8-35M1758 1773l8 9M2299 1620l7 2 8 39M2481 1581l8 15M2561 1563l8 21M2640 1528l8-19M2658 1532l6 29M1350 1870l8-24M1939 1717l1 7M2464 1569l8 3M2527 1561l8-19M2551 1551l8-3M2623 1526l8-59M2603 1517l8-59M2268 1613l8-53M1272 1852l6 17M2129 1616l8-20M1292 1836l8-33M2110 1607l8-19M2229 1595l8-52M2293 1565l8-181M1273 1827l8-33M1979 2441l-9 27M1854 2384l-10-7-10 13M1484 2210l-10-16-10 37M1973 2438l-7 25M1975 2471l-1 5M1461 2179l-10 20M1574 2238l-8 26M1479 2187l-10-27M1767 2317l-9 5M1531 2199l-9-25M1328 2100l-10 30M2049 2409l0 3M1825 2308l-10 13M1804 2294l-10 13M1775 2280l-10 7M1290 2051l-9 38M1821 2279l-9 10M1560 2180l-10 7M2126 2410l-10-1 0 2M1811 2255l-8 17M1503 2123l-10 10M1230 2004l-8 33M1806 2265l-5 7M2255 2451l-10 32M2013 2329l-10 1M2156 2395l-10 14M2096 2374l-8 21M1924 2276l-10 12M2125 2364l-9-3M1969 2295l-10 10M2151 2381l-4-13M1822 2217l-10 8M1454 2065l-10-4M1374 2020l-9 22M1583 2123l-7 24M1392 2026l-10-12M2209 2367l-3-11M1739 2164l-10-15M1950 2251l-9-17M1490 2034l-10 22M2336 2422l-7 46M2398 2409l-10-14-10 32M1923 2191l-9 2-1 5M1912 2204l-8 47M1905 2236l-3 19M1825 2130l-10 6M2108 2269l-6 12M1298 1899l-9-6M1286 1898l-7 11M2147 2272l-10 22M1932 2154l-9 6M1680 2054l-9 4M2279 2316l-10 1M1320 1880l-9-40M2306 2314l-9 10M1968 2174l-10-27M1929 2139l-10 22M1745 2058l-10 7-10 49M1338 1889l-10-44M1270 1846l-9-50M1801 2093l-10 13M1809 2081l-10-50M1780 2062l-10 35M1364 1885l-10 12M1817 2079l-10-89M1711 2037l-10-6M1699 2040l-8 35M1439 1911l-9 20M2096 2210l-10 4M1350 1870l-3 1M1292 1836l-9-18M1273 1827l-3 8M2104 2187l-10 25M1309 1842l-9-39M2432 2343l-2 0M2356 2323l-2 1M1967 2137l-10 9M1376 1856l-10-3M1983 2136l-10-2M1847 2073l-2 16M1962 2105l-10 9-1 4M1865 2074l-10-1M1786 2031l-8 39M2394 2298l-10 19M2092 2142l-10 23M1956 2100l-9 8M1734 1995l-10 8M2194 2215l-7 26M2081 2134l-10-8M2061 2133l-5 19M1848 2031l-10-43M1451 1864l-10 21M2398 2286l0 4M2214 2201l-9-9M1870 2059l-4 12M1855 2012l-1 3M1817 1984l-10-15M2609 2344l-10-6 0 3M2212 2157l-10 14M2115 2108l-4 21M1951 2041l-10 7M1612 1895l-1 2M1607 1913l-3 13M2501 2287l-10 40M1968 2045l-10-7-9 2-10-1M1697 1921l-10-13-9 19M2518 2290l-9-3M2402 2239l-9 26M1947 2019l-10-10M2497 2271l-9 14M1848 1968l-8 25M2263 2166l-10-5M2251 2169l-7 23M1992 2044l-10-18-9-17M2513 2252l-9-12M2570 2285l-10-5-10 2-9 13M2415 2206l-10 8M2403 2220l-8 21M2394 2192l-10 17M2218 2107l-10-7M2206 2107l-8 28M2053 2047l-10-4-9 18M2235 2125l-10-56M2077 2039l-6-15M2061 2028l-10 9M1790 1925l-10 6M2350 2158l-10 20M2243 2113l-10-15M2348 2146l-10 8-9 7M2344 2149l-8-27M2269 2111l-10 8M2201 2082l-10-13M2740 2318l-10 19M2575 2249l-5 0M1926 1958l-9 7M2709 2303l-10-26M1925 1951l-10-37M1711 1850l-9 26M2426 2170l-9-16M2414 2164l-7 24M2175 2050l-10-14M2162 2051l0 2M1900 1928l-6 9M2434 2163l-9-11M2163 2030l-4 21M1844 1903l-10 47M2191 2037l-10-29M1861 1888l-9 21M2537 2187l-9 34M2198 2042l-9-15M2160 2033l-6 17M2044 1979l-10-25M2169 2008l-1-4M1848 1882l-10-12-9 19M2670 2244l-10-10M2658 2244l-8 35M1856 1880l-10-24M2309 2072l-9 2M2299 2078l-9 44M2077 1972l-10 19M2085 1960l-10-1M2258 2031l-10 47M2219 2021l-10-14M2275 2041l-9-44M2256 2042l-10 8M2370 2081l-9 0M2260 2021l-6-22M2157 1989l-9-19M2144 1992l-4 25M2165 1990l-9-40M2357 2068l-9-8-10 4M2334 2083l-6 27M2472 2100l-10-28M2422 2088l-10 13M2429 2088l-9-26M2757 2229l-10 11M2389 2063l-10-38M1753 1782l-5 9M2502 2098l-10 0-10 15M2327 2009l-9-46M2231 1979l-10 3M2182 1940l-1-2M2173 1922l-1-2M2432 2047l-1 2M2064 1891l-9 43M2169 1928l-10-24M2806 2219l-9-2-10 11M2475 2067l-9-28M2456 2057l-3 12M2388 2022l-4 16M2301 1978l-10-48M2214 1948l-10-6-7 25M2156 1907l-10 15-10 47M2483 2063l-9-13M2104 1890l-10-49M1938 1797l-10 20M2643 2104l-10-5 0 2M2352 1981l-9 28M2062 1843l-10-11M1955 1809l-9-4M2835 2185l-10 18M2389 1992l-8 34M2244 1920l-4 9M2252 1925l-10-26M2754 2143l-10 30M2618 2086l-9 0M2502 2031l-10-10-9 9-7 21M2260 1919l-10-37M2772 2152l-10-32M2508 2019l-8-28M2423 1995l-10-4M2307 1947l-5-16M2779 2151l-9-15M2692 2107l-9-10-10 35M2361 1949l-9-42M2332 1945l-9-12-10-38M2194 1882l-7-11M1945 1763l-10-27M2939 2220l-8 19M1953 1762l-10-17M2736 2107l-1 4M2733 2123l-7 40M2397 1957l-10-15-10 3M2802 2130l-10 5M2114 1815l-10 23M2141 1826l-9-52M1817 1698l-5 7M2847 2137l-10 15M2459 1958l-10 46M2477 1968l-10 3M2215 1844l-9 32M2186 1832l-9 7-4 12M2494 1974l-9 10M2192 1840l-7-17M2473 1946l-4 24M2425 1942l-10 9M2334 1865l-8-70M1939 1717l-10 18M2605 1996l-9-19M2557 1983l-10 31M2402 1906l-10 18M2555 1981l0 3M2420 1909l-10-5M2168 1806l-10-42M2437 1928l-9-10M2341 1874l-10-43M2285 1862l-3 1M2445 1920l-9-15M2433 1908l-7 10M2357 1881l-9-55M2453 1920l-9-11M2363 1877l-3 6M2122 1766l-9 2M2982 2132l-9 28M2561 1930l-5-32M2540 1966l-3 8M2320 1814l-6-29M2291 1841l-3 12M2506 1910l-10-23M2185 1775l-10-3-8 17M2755 2021l-10 4M2742 2041l-7 37M2687 1990l-10-70M2493 1897l-10 26M2346 1819l-8-50M2714 2005l-10-10-9-43M2104 1712l-10 18M2075 1713l-10 12M2122 1720l-10-45M2102 1710l-10 2-9-35M3087 2153l-10 6M2777 2016l-10-14M2761 2030l-2 10M2297 1808l-5 3M2263 1780l-4 7M3075 2130l-10-25M2862 2032l-10-36M2746 1995l-10-27M2649 1951l-10-33M3015 2113l-9 19M2812 2020l-10-70M2764 2008l-1 2M2734 1971l-9-48M2664 1945l-7-28M2299 1771l-10 7-10 14M2878 2045l-10-56M2742 1967l-9-58M2750 1980l-9-43M2206 1730l-8 40M3000 2082l-9 6M2904 2038l-10-13-10-31M2255 1741l-10-42M2206 1725l0 3M2921 2028l-9 5-10-19M3162 2145l-10-33M2891 1967l-1-4M2484 1829l-10-53M3170 2146l-10-23M2714 1930l-9 32M2613 1889l-5-8M2607 1886l-2 12M3129 2119l-10 16M2725 1919l-3-9M2606 1873l-10 27M2587 1878l-10-27M2593 1854l-10-21M2293 1729l-10-62M2167 1682l-10 1M3056 2075l-10-39M2775 1933l-8 40M2603 1845l-2-8M2851 1972l-10-7-9 37M2803 1952l-10-29M2493 1808l-10-13M3208 2124l-10 13M3082 2058l-10-4M2936 2009l-9-13-10 2M2781 1919l-9-41M2606 1839l-2-1-3-1M2584 1829l-9 15M2381 1732l-10-18M2129 1616l-10-19M2108 1613l-8 24M2968 2005l-8 29M2650 1864l-9 15M2408 1755l-9-36M3113 2057l-9-14-10 6-4 4M2668 1866l-4 3M2571 1819l-1 2M2416 1754l-10-45M3294 2140l-8 32M2937 1965l-9-23M2870 1932l-8 21M2298 1692l-9-16-3 4M3294 2131l-10 25M3091 2042l-2 2M2994 1997l-10 1M2606 1827l-9-1M2548 1781l-9-22M3096 2035l-7-18M3023 2022l-2 3M2459 1741l-9-87M2913 1954l-2-6M2909 1939l-6-19M2709 1862l-9-23-10-4-10 14-9 12M2661 1829l-10-36M2613 1763l0-4M3066 2017l-10 7M3074 2005l-1 2M2716 1851l-10 3M2377 1699l-10-22-10 27M3092 2010l-10-12-10 5M2666 1814l-10-66M2596 1788l-3 10M2385 1688l-10-36M2629 1732l-4-36M2586 1767l-9-65M3292 2083l-10 30M3175 2043l-9 29M3098 1995l-10-21M2468 1719l-9-82M2304 1638l-10-22M2284 1632l-9 19M3309 2088l-9-13M3079 1986l-2-3-10-9-10 5-9-24M3038 1957l-2 16M2476 1711l-9-89M2299 1627l-7-34M2891 1900l-10 16M2785 1839l-10 14M2296 1610l-5-33M2918 1909l-9 6M2880 1893l-10-13M2868 1888l-8 29M2744 1827l-10-24M2705 1810l-9-256M3062 1969l-10-5M2917 1900l-10-26M2712 1765l-8-458M2306 1622l-9-8M2267 1608l-9-50M2229 1595l-10 47M3302 2056l-9 7M3089 1955l-9-28M2508 1704l-10-5M2494 1726l-4 23M2414 1654l-3-9M2400 1656l-7 27M2951 1896l-9-36M2778 1827l-10-37M2728 1720l-9-419M2421 1650l-2-3M3270 2041l-10 9M2776 1810l-10-54M2495 1680l-10 7M3287 2039l-9-2M2784 1810l-10-42M2423 1646l-7-10M3295 2035l-9-14M2798 1798l-6-18M2633 1722l-6-39M2530 1700l-9 6M3282 2026l-8-14-9-1-10 9M3252 2025l-7 12M3206 1998l-9 31M3168 1975l-10 4M2877 1833l-10-78M3126 1941l-10-45M2943 1857l-1-3-10-7-10-2M2795 1790l-8-59M3143 1954l-10-21M2822 1803l-10-48M2772 1763l-8-77M3498 2087l-10 46M2500 1641l-9 16M3525 2107l-9-23M3057 1883l-10-10M2670 1707l-10-6-10 5-9 13M3201 1930l-10 36M2879 1808l-3 7M3305 1979l-9 20M3218 1946l-9-32M2891 1788l-2-4M3244 1949l-10-6M2856 1767l-9 23M3019 1823l-9-28M3563 2091l-3 5M2805 1741l-10-35M3122 1865l-9-47M2956 1797l-4 14M2949 1820l-1 2M2909 1774l-9-22M2464 1569l-10-12M3063 1842l-10 7M2481 1581l-9-9M3371 1974l-10-30M3351 1963l-8 36M3206 1902l-10-18-9-19M3167 1884l0 2M3097 1850l-7-14-10-18M3051 1825l-10 47M2625 1628l-10 14M3135 1856l-10-17M3084 1824l-7-28M3152 1847l-9-54M3160 1842l-9-50M3052 1816l-8 38M3662 2069l-9 11M3455 1988l-6 7M3055 1797l-3 2-10 4-9 14M2527 1561l-9 4M3539 1997l-10 21M3462 1955l-10 8M3450 1976l-3 18M3268 1862l-10 2-9 21M2561 1563l-10-12M2550 1558l-4 15M3286 1883l-10-6M3410 1920l-10 34M3611 2004l-9-26M3164 1814l-6 14M2963 1726l-10 30M2854 1688l-6 21M3726 2048l-10 53M3619 2001l-9-48M3058 1763l-10-37M3038 1752l-9 34M3734 2056l-10 26M3288 1860l-7 21M2959 1707l-10 50M2938 1690l-10-37M2946 1695l-10-19M3680 2004l-9-9M3514 1939l-10-36M3493 1934l-8 37M3272 1822l-10-30M2972 1681l-10 13M2623 1526l-10-21M2603 1517l-9 35M3522 1924l-10-23M2640 1528l-9-61M3460 1892l-9 22M2656 1524l-9-61M3391 1847l-10-69M3284 1807l-10-6M3197 1775l-10-46M3176 1776l-8 44M3253 1786l-9 3M3241 1803l-7 35M3463 1870l-8 26M3329 1813l-10 11M3271 1787l-10-5M2868 1625l-4 15M2676 1543l-4 22M3482 1873l-9 3M3327 1817l-9-25M3315 1804l-7 29M3742 1989l-10 18M3074 1693l-10 2M2938 1632l-9 6M3460 1859l-10 24M3099 1677l-9-9M3718 1954l-10-5M3706 1960l-8 38M3408 1814l-10 0M3396 1819l-5 11M3095 1673l-7-23M3735 1965l-10-15M3056 1659l-10-5-10 14M2775 1525l-10-48M3131 1684l-9-7-1 2M3119 1687l-5 18M3044 1641l-10 21M2783 1513l-10-51M2677 1523l-1 4M2791 1520l-10-48M3690 1917l-10 30M2963 1596l0 4M2962 1606l0 2M2961 1614l-6 49M3870 1978l-10 33M3888 1992l-10-9M3140 1658l-9-16-10 8M3119 1655l-8 20M3836 1958l-10-14-10 5-9 21M3458 1775l-10-15M3439 1767l-10 23M3274 1703l-4 28M3158 1653l-10-47M3119 1636l-8 35M2984 1578l-10 5M3844 1943l-10-15M3573 1834l-10-36M3476 1794l-10-35M3001 1578l-9-14-10 5M3847 1947l-5-7M3174 1649l-10-47M2891 1524l-9 30M3112 1613l-9 8M3044 1588l-9-15-10 14M3779 1911l-10 13M3043 1561l-10 4"/>
<path stroke="#484df0" d="M2348 2397l8 20M3508 2072l8 12M2425 2333l8 26M3535 2020l8 8M3546 2043l5 27M3671 1995l7 0M2206 2356l7 26M3152 2112l8 11M3206 2100l1 6M3839 1936l3 4M3602 1978l8-25M3035 2134l8-15 8 24M3083 2113l8 16M2143 2349l8 32M3065 2105l8-8M2555 2233l8-18M2505 2248l8 4M2618 2220l7 21M2496 2243l8-3M2535 2219l8-45M2127 2303l8 2M3090 2051l0 3M3091 2061l0 2M3092 2069l6 41M2762 2120l8 16M3112 2027l0 4M2011 2310l0 2M3361 1944l8-1 8 25M3504 1903l8-2M3097 2003l5 20M2227 2212l8-12M3090 1988l8 7M3080 1982l8-8M2870 2023l8 22M3085 1967l3 7M2884 1994l8-23M3226 1917l8 26M3209 1914l7 16M3352 1873l8-5 8 42M2949 2015l3 21M1834 2298l3 16M1941 2234l8-7M2123 2185l8 3M3555 1814l8-16 8 12M2901 1981l8-40M3545 1799l8-18M2462 2072l8 4M3536 1806l8-17M2794 1997l8-47M3375 1826l8-13M2532 2064l6 29M3389 1819l0 2M2775 1971l8-11M2420 2062l8-22M2722 1982l6 39M2100 2136l2 10M2466 2039l8 11M2720 1971l8 14M2090 2133l8-30M3466 1759l8 12M2049 2137l8 20M2629 1977l8-7 8-19M2717 1955l8-32M2741 1937l0 2M3194 1836l8 25M3448 1760l8-17M1962 2162l6 12M2071 2126l8-89M2596 1977l8-74M2707 1959l8-29M2371 2039l8-14M2586 1968l8-71M3266 1803l4 11M2576 1964l8-59M3197 1813l8 40M2567 1967l8-70M2925 1862l8 12M2175 2069l8-17 8 17M2907 1874l8-42M2158 2050l8 11M2897 1870l8-22M3087 1831l1 2M3368 1749l6 19M2657 1917l8-15M3094 1813l8-34M2639 1918l8-35M3061 1799l8-7M3077 1796l8-26M3363 1735l3 8M1747 2136l8 40M2319 1995l8 14M2335 1995l1 4M2338 2010l5 29M2797 1879l8 19M3032 1850l0 2M3033 1859l0 4M3034 1870l0 3M3059 1793l8-9M1729 2149l8 7M2183 2031l8 6M2548 1932l8-34M2803 1871l8 47M2890 1846l8-93M3066 1785l7-50M2181 2008l8 19M2292 1999l8-13 8-12M2881 1826l8-22M3231 1744l8-17M2259 1996l8-21M2275 1994l7-17 8-10M2209 2007l8-17M2267 1973l6-27M2726 1870l8-11M2736 1873l6 39M3187 1729l8 15M1522 2174l8 8M2850 1810l8-45M2514 1900l8-27M2532 1909l6 23M2823 1869l0 3M2285 1933l5-15M2369 1920l8 25M2496 1887l8-18M2966 1776l0 2M2967 1784l5 27M3047 1760l6 30M2686 1842l8-5 8 12M2000 2017l8 14M2604 1845l8-20M1887 2030l8 12 0 2M2626 1848l8 33M3048 1726l8-5 0 4M3057 1733l0 3M3058 1743l0 2M3059 1752l0 3M3060 1762l0 2M1877 2025l8-20M1973 2009l8 2M2315 1923l8 10M2577 1851l8 9M2601 1837l4 3M2768 1790l8 20M2297 1912l8-45M2525 1826l3-20M2559 1843l8-27M2583 1833l8-42M2734 1803l8-11 8-3 8-32M2830 1781l6 37M2240 1929l8 12M2509 1791l1-12M2534 1838l8 27M2119 1956l7-19M2222 1920l8-7M1831 2015l7-27M2109 1943l2 3M2347 1885l8-5 8 9M2379 1863l8-24M1821 2017l8-11M2053 1965l6 43M2242 1899l8-17M2330 1876l8-4M2616 1796l8-45M2034 1954l8-23M2320 1863l8-10M2643 1766l3-14M2159 1904l8 10M3082 1664l8 4M2310 1853l7-30M2977 1682l0 4M2978 1694l0 3M2979 1702l0 4M2980 1712l3 27M3080 1662l8-12M3095 1672l1 2M2196 1882l8 8 8 13M2736 1731l8-101M3166 1635l8 14M2178 1875l8 8M2609 1756l6-75M2822 1707l8 3M2073 1903l8 26M2480 1808l6 17M2820 1709l8-8 8-19M2844 1701l8 19M2779 1717l8-24M2795 1706l8 27M2811 1706l8-73M2236 1843l8 10M2316 1814l2 4M2801 1696l8-69M2928 1653l8 23M2306 1814l8-29M3054 1629l0 3M1613 2000l8-37M2217 1837l8-21M2318 1800l2-4M2794 1671l4-19M1911 1900l8 7M1921 1913l6 21M2624 1692l3-9M2077 1862l8-37M1693 1944l8 21M2266 1804l8-1M2133 1810l8 21M1400 1998l8 30M2052 1832l8-1M2124 1800l8-26M2442 1723l8-69M2432 1717l8-53M1460 1960l8 28M2399 1719l7-10M2408 1714l6 23M2230 1764l8-50M2246 1756l0 2M2301 1743l8 35M2556 1680l8-15 8 12 5 14M2220 1744l8-17M2371 1714l8-12M2452 1674l7-37M2538 1664l8 0 8-22M2665 1640l8-10M2433 1696l8-68M2660 1620l8-13M2571 1641l8 28M2651 1613l8-25M2633 1618l8 16M2510 1632l8 6M2411 1645l8 2M2578 1607l8-2M1935 1736l8 9M2757 1511l8-34M2789 1503l1 6M2175 1653l8 24M2747 1493l8-39M1346 1865l8 32M2738 1503l8-35M1368 1854l8 2M2648 1509l8 15M1358 1846l3 2M2613 1505l8-67M2137 1596l8 16M1253 1832l8-36M2119 1597l8-21M2358 1539l8-73M2390 1523l0 5M2391 1535l0 4M2392 1545l0 3M2393 1554l5 44M1283 1818l8-36M1233 1824l8-37M1520 2182l-8 31M1660 2199l0 5M1659 2211l0 2M1658 2221l0 2M1657 2230l0 4M1656 2241l0 2M1655 2250l0 4M1654 2260l0 3M1653 2269l0 4M1829 2272l-2 3M2143 2349l-10-21M1986 2286l-9-6M2206 2356l-10-62M1729 2149l-9 51M1398 2003l-8 16M1941 2234l-10 34M1745 2140l-8 16M2127 2303l-9 44M2348 2397l-9 6M1460 1960l-10-5M1920 2163l-8 26M1612 2005l-9 48M1960 2156l-10-39M1301 1858l-10 32M1253 1832l-10-19M1233 1824l-9 32M1931 2136l-2 3M1346 1865l-10 9M2425 2333l-9 12M1283 1818l-10 9M2123 2185l-9-25M1368 1854l-10-8M2131 2188l-9-27M2227 2212l-10 0M2212 2242l-5 28M2049 2137l-10-19-9 51M2295 2231l-9 21M1831 2015l-10 2M1819 2021l-3 7M2100 2136l-10-3-9 1M2071 2126l-10 7M1887 2030l-10-5-9 45M1693 1944l-9 23M1895 2042l-10-37M2340 2207l-10 47M1937 2009l-9 41M2505 2248l-9-5-10 25M1973 2009l-10 33M2000 2017l-10-27M2555 2233l-10-54M2535 2219l0 4M2533 2240l0 4M2532 2250l-6 49M2158 2050l-10 4M2071 2024l-10 4M2175 2069l-9-8M2358 2145l-10 1M2336 2122l-9 28M2699 2277l-9 50M1915 1914l-10-3-10 35M2183 2031l-10-35M1911 1900l-9-4M2617 2214l-10-7M2605 2216l-8 31M2034 1954l-10 40M2051 1953l-9-22M1846 1856l-9 10M2254 1999l-10-40M2119 1956l-10-13M2126 1937l-9 17M2173 1953l-7 33M2462 2072l-10-3-9 23M2259 1996l-10-28M2239 1972l-9 1-1 3M2073 1903l-10 4-7 25M2418 2068l-8 24M2371 2039l-7 35M2425 2046l-7 16M2379 2025l-9 7-10 42M2292 1999l-10-22-9-31M2319 1995l-9-16M2300 1986l-10-19M2170 1948l-5 16M2172 1920l-9 44M2335 1995l-9-37M2159 1904l-9 37M2158 1909l-10 36M2466 2039l-10 18M2222 1920l-10 11M2077 1862l-10 21M2240 1929l-10-16M1910 1780l-9-10-10 32M2178 1875l-10-46M2052 1832l-10 46M2196 1882l-10 1M2242 1899l-6 23M2297 1912l-10-26M2315 1923l-10-56M2342 1919l-10 26M1935 1736l-10 31M2369 1920l-9-36M2745 2089l-9 18M2133 1810l-9-10-10 15M2325 1898l-7 14M2236 1843l-9-26M2217 1837l0 3M2244 1853l-9-35M2330 1876l-10-13-10 24M2229 1816l-6-11M2347 1885l-9-13-10-19M2307 1870l-1 3M2596 1977l-10-9-10-4-9 3-10 16M2379 1863l-9-23M2629 1977l-9-75M2637 1970l-9-83M2548 1932l-9 39M2316 1814l-10 0-8 21M2266 1804l-10-24M2072 1719l-10 49M2494 1903l-7 41M2269 1803l-5 0M2514 1900l-10-31M3035 2134l-9 25M2529 1895l-9-80M2491 1874l-9 32M2230 1764l-10-20-10 47M2722 1982l-10-29M2493 1858l-7-28M2467 1846l-1 2M3065 2105l-9 39M2794 1997l-9-35M2736 1968l-10-1-9-12-2 1M2707 1959l0 2M3083 2113l-10-16M2870 2023l-10-73M2657 1917l-10-34M2497 1838l-5-9M2511 1785l-1-6M2884 1994l-10-9M2536 1853l-10-90M2902 2014l-10-43M2301 1743l-9-1M2288 1771l0 2M3148 2133l-6 29M2656 1899l-2 4M2559 1843l-9-45M2722 1910l-9 17M2577 1851l-10-35M2609 1849l-5-4-9 3-10 12M2614 1831l-2-6M2583 1833l0 4M3046 2036l0 4M3045 2046l-8 51M2901 1981l-5 5M2601 1837l-10-46M2175 1653l-10-4-4 19M2793 1923l-10 20M3204 2107l-8 24M3090 2051l-10-33M2944 1983l-9 1M2371 1714l-9 47M2119 1597l-9 10M2399 1719l-10-42M2137 1596l-10-20M2726 1870l-10-41M2406 1709l-9-19M3112 2027l-10-4-10 25M2925 1964l0 3M2924 1973l-3 23M2734 1859l-10-58M2686 1842l-10 29M2777 1861l-6-8M2616 1796l-10 31M2442 1723l-10-6-10 34M2903 1920l-2 14M2803 1871l-10-7-4 14M2433 1696l-10-23M2404 1676l-4 17M3090 1988l-10-6M2446 1656l-5-28M2594 1761l-9-92M2294 1616l-10 16M3048 1955l-10 2M3085 1967l-10 0M2409 1666l-2 2M2734 1803l-9-39M2907 1874l-10-4-9-2-10 3M2742 1792l-9-82M3060 1936l-8 26M2925 1862l-10-30M2750 1789l-9-21M2720 1737l-8-549M2411 1645l-9 4M3097 1952l-10-37M2816 1811l-9 18M2768 1790l-10-33M2977 1886l-9-17M2890 1846l-9-20M2879 1835l-7 41M2848 1824l-8 57M2792 1780l-10 11M2538 1664l-9 16M3282 1990l-9 17M2669 1731l-7 7M2556 1680l-10-16M2564 1665l-10-23M2535 1665l-1 4M2948 1827l-8-24M2572 1677l-10-43M3508 2072l-10 15M2830 1781l-10-18M2781 1749l-9-34M2510 1632l-10 9M2989 1820l0 2M2987 1834l-6 35M2672 1657l-4-13M2571 1641l-4 7M2358 1533l-10-118M3226 1917l-10 13M2777 1721l-2 2M2390 1523l-10-115M3027 1804l-9 1M2795 1706l-10-29M2773 1703l-2 7M2822 1707l-10 7-9 19M2454 1557l-10 30M2961 1783l-5 8M2820 1709l-9-3-10-10-10-16M2665 1640l-9 45M2578 1607l-9-6M3535 2020l-9 26M3361 1944l-10 19M3187 1865l-10-14-10 33M3080 1818l-10-9-9-10-10 26M2828 1701l-9-68M3369 1943l-10-3M3224 1870l-10 5M3107 1813l-9 2M3095 1821l-7 12M3076 1813l-7-21M3059 1793l0 2M3077 1796l-10-12M2660 1620l-9-7-10 21M3094 1813l-9-43M3007 1765l-10 37M2668 1607l-9-19M3109 1800l-8-53M3194 1836l-10-29M2535 1542l-9 4M3045 1751l-9 21M3352 1873l-10-28M3197 1813l-3-2M3189 1806l-2-2 0 3M3602 1978l-10-24M3360 1868l-10-28M3046 1731l-8 21M3056 1721l-10-18M2977 1682l-10 7M2928 1653l-9 48M3671 1995l-10 18M3698 1998l-10-23M3504 1903l-10 24M3262 1792l-10 35M2613 1505l-10 12M3375 1826l-10-20M2648 1509l-9-68M3187 1729l-9 37M3231 1744l-10 5M3082 1664l-10 14M3090 1668l-10-6-10 12M3088 1650l-10-18M2757 1511l-10-18-9 10-10 30M3054 1629l-10 12M3366 1744l-9 11M3361 1741l-8 19M3555 1814l-10-15-9 7M3534 1810l-8 20M3448 1760l-9 7M3834 1928l-10 7M3563 1798l-10-17M3466 1759l-10-16M3166 1635l-10-52M3571 1810l-10-15"/>
<path stroke="#4852f4" d="M2188 2344l8-50M3147 2065l8 4 0 4M3592 1954l8-20M2140 2344l1 2M2563 2215l0 2M2564 2223l7 37M2852 1996l8-46M2873 2016l3 18M2874 1985l8-29M3080 1927l7-12M3342 1845l8-5M3157 1891l8 7M2114 2160l8 1M3108 1907l8-11M3556 1786l5 9M3090 1898l8-39M3383 1813l8 34M2785 1962l8-24M3365 1806l8-33M2715 1959l5 12M2098 2103l8 2M2109 2130l4 30M2227 2076l6 22M2695 1952l8 15M2613 1960l8-3 8 20M2648 1970l5 32M2725 1923l8-14M2667 1930l8-26M3113 1818l8-4 0 2M3125 1841l4 21M3184 1807l8-2M1950 2117l8 30M3103 1825l8-26M3151 1792l1 7M1670 2193l8 32M2942 1860l8-47M2772 1878l8-24M3102 1779l7 21M2671 1897l8-1M3069 1792l8 4M3085 1770l8-43M2908 1810l8-4 0 4M2917 1816l5 39M3067 1784l8-13 8-55M2310 1979l8-16 8-5M3010 1795l8 10M2173 1996l8 12M2236 1989l8-30M2267 1975l8 19M2249 1968l8-32M2716 1829l8-28M2860 1800l7-45M2291 1930l8-16M2522 1873l8 28M2627 1855l5 35M2504 1869l8-44M2799 1798l8 31M2352 1907l8-23M1799 2031l8-41M1790 2030l8-59M2766 1756l8 12M2776 1773l6 18M2176 1915l8 35M2287 1886l8-57M2454 1836l8-4M2489 1839l5 15M2725 1764l8-54M2804 1756l8-1 8 8M2278 1880l8-18M2492 1829l8-64M2540 1807l8-11M2643 1774l8 19M2715 1757l8-23M2626 1776l8-56M2370 1840l8-8M2688 1766l8-212M2605 1764l8-5M2669 1743l7-200M2746 1721l8-106M2331 1831l8-30M3148 1606l8-23M2160 1863l8-34M2836 1682l8 19M2151 1863l8-36M2787 1693l8 13M3129 1597l8-23M2531 1752l8 7M2777 1677l8 0M1632 1987l6 46M2227 1817l8 1M2330 1793l8-24M2788 1680l3 0 8-25M2320 1796l8-7M2569 1717l6-19M2798 1652l8-70M2788 1654l8-65M1498 1994l0 4M2094 1841l8 20M2298 1743l7 34M2160 1770l6 18M2554 1642l8-8M2544 1641l8-11M2423 1673l8-52M2414 1655l8-4M2237 1705l8-6 0 3M2275 1691l8-24M2112 1675l0 3M2765 1477l8-15M2781 1472l8 31M2746 1468l8-15M1331 1855l5 19M2283 1590l8-13M2298 1618l1 2M1311 1840l8 14M2276 1560l8-23M2292 1556l0 4M2293 1566l7 38M2258 1558l8-75M1262 1803l6 25M1302 1810l6 21M2239 1549l8-75M2310 1524l8-125M2344 1536l6 51M1243 1813l8-40M2341 1497l7-82M1670 2193l-10 6M2133 2328l-9 30M2186 2355l-8 38M1498 1994l-10-9-10 70M1950 2117l-10-16M1630 1974l-9-11M1311 1840l-10 18M1243 1813l-10 11M1328 1845l-9 9M1261 1796l-10-23M1241 1787l-10 42M1799 2031l-9-1-10 32M2114 2160l-10 27M1300 1803l-9-21-10 12M1838 1988l-9 18M2098 2103l-9-63M2106 2105l-10-108M1990 1990l-9 21M2225 2069l-9 20M2563 2215l-10-68M2171 2003l-8 27M2317 2032l-9 16M2236 1989l-9-8-10 9M2267 1975l-10-39M2173 1933l-7 39M2310 1979l-10 7M2290 1967l-9-62M2318 1963l-10 11M2527 2041l-9-31M2291 1930l-4 7M2094 1841l-9-16M2082 1835l-7 28M2160 1863l-9 0M2148 1881l-7 47M2250 1882l-9 13M2499 1997l-2 8M2287 1886l-9-6-3 9M2352 1907l-10 12M2132 1774l-10 16M2227 1817l-10 20M2230 1817l-5-1M2217 1840l-2 4M2328 1853l-10-22M2613 1960l-9-57M2158 1764l-9 71M2621 1957l-9-58M2387 1839l-9-7M2348 1826l-9-25M2645 1951l-9-52M2305 1788l-10 35M2256 1780l-10 42M2330 1793l-10 3M2667 1930l-9 61M2522 1873l-10-48M2454 1836l-9-62M2429 1893l0 3M2428 1903l0 5M2427 1914l0 2M2695 1952l-10-54M2462 1832l-9-57M2712 1953l-9 14M2109 1686l-7 24M2486 1830l-10 8-9 8M2852 1996l-9 51M2785 1962l-10 9M2725 1923l-10 7M2492 1829l-1 6M2675 1908l-10-6M2294 1749l-7 28M2237 1705l-10-30M2218 1685l-10 34M2874 1985l-2 12M2671 1897l-10-37M2892 1971l-10-15M2540 1807l-6 26M2625 1844l-9-22M2567 1816l-9-22M3147 2065l-10 12-1 7M2275 1691l-10-40M2909 1941l-10-7 0 4M2772 1878l-10 28M2789 1883l-9-29M2127 1576l-9 12M2716 1829l0 5M2715 1840l-8 55M2531 1752l-10 0M2771 1853l0 4M2626 1776l-10 20M2643 1774l-9-54M2614 1764l-9 0M2603 1771l-8 32M2613 1759l-10-8M2423 1673l-9-18-10 21M2373 1656l-8 16M2673 1777l-9-26M3183 1991l-9 37M2292 1593l-9-3-10 40M2687 1756l-9-126M2668 1751l0 4M2725 1764l-10-7M2714 1763l-9 47M2258 1558l-10-26M2239 1549l-1 4M2237 1559l-8 36M3080 1927l-10-9-10 18M2905 1848l-9 24M2799 1798l-10 41M2276 1560l-10-77M2942 1860l-9 14M2292 1556l-10-77M2908 1810l-10-57M2860 1800l-10 10M3090 1898l-9 22M2916 1806l-10-9M3108 1907l-10-48M2554 1642l-10-1-9 24M2938 1810l-8 26M2804 1756l-9-50M2746 1721l-10 10M2562 1634l-10-4M2310 1520l-9-136M3157 1891l-9-30M2666 1653l-8 30M3008 1810l-7 62M2787 1693l-10-16-6 37M3113 1818l-10 7M3101 1835l-8 40M2783 1680l-9-31M2764 1663l-2 10M3121 1814l-10-15M2791 1680l-9-26M3069 1792l-10 1M2836 1682l-9-67M2798 1652l-10 2-3 3M3085 1770l-10 1M3102 1779l-9-52M3064 1758l-10 47M3184 1807l-8 49M3340 1857l-8 44M3592 1954l-10 3-9 61M3610 1953l-10-19M3046 1703l-9 57M3688 1975l-10 20M3365 1806l0 4M3383 1813l-10-40M2765 1477l-10-23M2740 1491l-4 16M2781 1472l-10-22M3148 1606l-9-22M3129 1597l-10 39M3553 1781l-9 8M3456 1743l-9 7"/>
<path stroke="#4758f8" d="M2545 2179l8-32M2882 1956l8 7M2519 2037l8 4M2805 1967l5 29M3384 1794l5 25M2677 1920l8-22M2733 1909l8 28M3143 1793l8-1M2273 1946l8-41M2263 1943l8-62M2528 1845l8 21M2503 1848l8-63M2305 1867l8 28M2528 1806l0 3M2529 1815l7 38M2758 1757l8-1M2550 1798l8-4M2787 1731l8-25M2656 1748l8 3M2318 1831l8-36M2466 1769l8 7 0 2M3156 1583l8 19M3139 1584l7-26M2577 1702l8-33M2799 1655l8-34M2774 1649l8 5M2238 1714l8 42M2389 1677l8 13M2459 1637l8-15M2773 1462l8 10M2755 1454l8-16 8 12M2631 1467l8-26M2647 1463l0 2M2611 1458l8-26M2284 1537l8 19M2248 1532l8-85M2295 1451l0-4M2296 1438l3-50M1940 2101l-9 36M1251 1773l-10 14M2545 2179l-10 40M2252 1954l-3 11M2273 1946l-10-3-1 10M2519 2037l-9-24M2299 1914l-9 4M2168 1829l-9-2M2305 1867l-10-38M2318 1831l-9 28M2562 1932l-7 49M2336 1810l-5 16M2314 1785l-9 3M2677 1920l-10 10M2501 1857l-8 40M2338 1769l-10 20M2525 1831l-6-29M2238 1714l-10 13M2802 1950l-9-12M2790 1944l-7 16M2647 1883l-9-8M2528 1806l-10-81M2227 1675l-9 10M2661 1860l0 5M2660 1872l-5 36M2466 1769l-10 4 0 4M2550 1798l-10 9M2614 1833l-8 40M2558 1794l-10 2M2265 1651l0 5M2264 1664l-8 71M2283 1667l-10 17M2591 1791l0 2M2389 1677l-10 25M2624 1751l-10 13M2440 1664l0 2M2656 1748l-10 4 0 3M2577 1702l-10 21M2459 1637l-10-51M2248 1532l-9 17M2915 1832l-10 16M2284 1537l-10-87M2787 1731l-10 41M3146 1874l-8 60M2774 1649l-10 14M2812 1615l-6-33M3143 1793l-10 23M3099 1743l-8-26M2631 1467l-10-29M2611 1458l-9 53M2644 1455l-7-21M2755 1454l-9 14M2773 1462l-10-24-9 15M2677 1511l-1 18M3139 1584l-10 13M3156 1583l-10-25"/>
<path stroke="#465efb" d="M2196 2294l0 2M2862 1959l6 30M2510 2013l8-3M3373 1773l8 5M2685 1898l0 3M2604 1903l8-4 8 3 8-15M2594 1897l8 1M2611 1897l7-25M2960 1810l8 59M3093 1727l8 20M2281 1905l0 4M2512 1825l8-10 8 30M1807 1990l8 38M2510 1779l8-54M2764 1686l8 29M2819 1633l8-18M2809 1627l8-17M2450 1654l0 3M2467 1622l0 5M2468 1633l0 2M2469 1641l6 42M2441 1628l8-42M2431 1621l8-15M2639 1441l8 22M2621 1438l8-29M2366 1466l8-33M2382 1459l8 64M2190 2328l-4 21M1807 1990l-9-19M2281 1905l-10-24M2509 2018l-9 55M2295 1829l-9 33M2326 1795l-9 28M2604 1903l-10-6-10 8-9-8-10 12M2612 1899l-10-1M2636 1899l-10-24M2512 1825l-9 23M2685 1898l-10 6M2520 1815l-9-30M2499 1833l-8 41M2860 1950l-9 24M2510 1779l-10-14M2450 1654l-10 10M2625 1696l-10-15M2441 1628l-10-7-9 30M2467 1622l-10-30M2960 1810l-10 3 0 2M2867 1755l-9 10M2764 1686l-10-71M2366 1466l-10-184M2382 1459l-10-181M2819 1633l-10-6-10 28M2807 1621l-9 31M3093 1727l-10-11M3073 1735l-9 23M2621 1438l-10 20M2639 1441l-10-32M3373 1773l-1 6M3146 1558l-9 16"/>
<path stroke="#4563fd" d="M2089 2040l7-43M2079 2037l8-38M2628 1887l8 12M2618 1872l8 3M3083 1716l8 1M2902 1775l4 22M2526 1763l0 4M2733 1710l0 5M2735 1728l6 40M2445 1774l8 1M2500 1765l8-37M2827 1615l0 4M2266 1483l8-33M2282 1479l0 2M2248 1470l7-29M1796 1982l-8 47M2089 2040l-10-3M2077 2050l-8 52M2553 2147l-10 27M2271 1881l0 2M2628 1887l-10-15M2445 1774l-10 57M2500 1765l0 3M2499 1774l0 3M2498 1782l-7 49M2634 1720l-10 31M2615 1681l0 5M2614 1692l-8 60M2585 1669l-10 29M2733 1710l-10 24M2266 1483l-10-36M2245 1486l-8 57M2282 1479l-10-36M2898 1753l-9 51M2827 1615l-10-5-10 11M3083 1716l-10 19M2629 1409l-10 23"/>
<path stroke="#4269fe" d="M2101 2042l0 4M2102 2053l0 4M2103 2062l0 5M2104 2073l0 4M2511 1785l8 17M2806 1582l7 34M2449 1586l8 6M2374 1433l8 26M2348 1415l8-133M2096 1997l-9 2M2511 1785l-10 38M2508 1728l0 3M2449 1586l-10 20M2744 1630l-9 60M2374 1433l-10-211M2806 1582l-10 7"/>
<path stroke="#3e6fff" d="M2518 1725l8 38M2274 1450l8 29M2256 1447l8-37M2336 1431l6 89M2518 1725l-10 3M2256 1447l-9 27M2274 1450l-10-40M2754 1615l-10 15M2334 1391l-10-233"/>
<path stroke="#3875fe" d="M2678 1630l8-392M2318 1399l8-57M2301 1384l8-230M2676 1655l-8 96M2264 1410l-9 31M2300 1392l0 4M2299 1405l-8 102M2318 1394l-9-240"/>
<path stroke="#327cfc" d="M2718 1222l1-10M2729 1307l1 10M2730 1323l5 90M2727 1271l-9-267"/>
<path stroke="#2f81fa" d="M2327 1349l7 54M2326 1342l-10-294"/>
<path stroke="#2e87f7" d="M2696 1554l8-247M2730 1614l0 4M2731 1639l0 9M2732 1666l0 10M2733 1692l1 13M2734 1718l0 2M2677 1527l0-8M2678 1492l0-4M2679 1458l0-2M2695 1539l-9-301M2676 1550l0 5M2724 1439l0-3M2723 1409l0-6M2722 1378l0-8M2721 1346l0-8M2720 1317l0-11"/>
<path stroke="#2d8cf3" d="M2720 1218l7 58M2356 1282l8-60M2375 1324l0 4M2376 1341l0 6M2377 1358l1 10M2378 1374l2 34M2356 1286l0 3M2719 1212l-2-79M2717 1116l-1-17"/>
<path stroke="#259be8" d="M2365 1228l7 50"/>
<path stroke="#18addb" d="M2309 1154l7-106M2307 1192l0 4M2306 1216l0 10M2305 1240l-1 14M2304 1264l-1 18M2303 1289l-4 99"/>
<path stroke="#02bac3" d="M2704 1307l8-119M2720 1318l0 9M2721 1349l6 197M2703 1298l-9-520M2719 1293l-9-519"/>
<path stroke="#0bbdbd" d="M2317 1055l0 6M2318 1069l6 89"/>
<path stroke="#24c1ae" d="M2686 1238l8-460M2684 1299l0 12M2683 1332l-7 211"/>
<path stroke="#2cc4a7" d="M2713 934l5 70"/>
<path stroke="#31c69f" d="M2712 1195l7 106M2712 1188l-10-624"/>
<path stroke="#fec338" d="M2694 778l8-214M2710 787l0 13M2711 844l0 9M2712 902l0 3M2688 1089l0 5M2687 1142l0 10M2686 1195l0 14M2685 1248l0 7"/>
<path stroke="#f9fb15" d="M2702 569l8 205"/>
</g></g>
<g filter="url(#bl)"><path d="M318.4 981L318.4 269.6" fill="none" stroke="#6e6e6e" stroke-width="3.9" stroke-linecap="butt"/><path d="M1044.7 1305.3L1991.1 1056M1044.7 1305.3L318.4 980M1044.7 1305.3L1068.6 1316.3M1203.8 1263.4L1227.7 1274.4M1362.8 1221.5L1386.7 1232.5M1521.9 1179.6L1545.8 1190.6M1680.9 1137.7L1704.8 1148.7M1840 1095.8L1863.9 1106.8M1044.7 1305.3L1018.9 1312.4M802.6 1196.9L776.8 1204M560.5 1088.4L534.7 1095.5M318.4 980L292.6 987.1M318.4 980L294.5 970.2M318.4 802.6L294.5 792.9M318.4 625.3L294.5 615.5M318.4 448L294.5 438.2M318.4 270.6L294.5 260.8" fill="none" stroke="#303030" stroke-width="3.0" stroke-linecap="butt"/>
<rect x="1312.8" y="259.7" width="61.7" height="47.9" fill="none" stroke="#e61e2a" stroke-width="4.6"/>
<rect x="1340.1" y="435.4" width="39.8" height="47.3" fill="none" stroke="#e61e2a" stroke-width="4.6"/>
<rect x="1140.4" y="514.2" width="49.2" height="47.8" fill="none" stroke="#e61e2a" stroke-width="4.6"/>
<rect x="1163.1" y="606.5" width="45.6" height="36.6" fill="none" stroke="#e61e2a" stroke-width="4.6"/></g>
<g filter="url(#bt)"><text x="276.2" y="982.4" font-family="'Liberation Sans', Arial, sans-serif" font-size="51.5" fill="#262626" text-anchor="end">0</text>
<text x="276.2" y="805" font-family="'Liberation Sans', Arial, sans-serif" font-size="51.5" fill="#262626" text-anchor="end">1</text>
<text x="276.2" y="627.7" font-family="'Liberation Sans', Arial, sans-serif" font-size="51.5" fill="#262626" text-anchor="end">2</text>
<text x="276.2" y="450.4" font-family="'Liberation Sans', Arial, sans-serif" font-size="51.5" fill="#262626" text-anchor="end">3</text>
<text x="276.2" y="273" font-family="'Liberation Sans', Arial, sans-serif" font-size="51.5" fill="#262626" text-anchor="end">4</text>
<text x="273.6" y="1044.8" font-family="'Liberation Sans', Arial, sans-serif" font-size="51.5" fill="#262626" text-anchor="end">150</text>
<text x="515.7" y="1153.2" font-family="'Liberation Sans', Arial, sans-serif" font-size="51.5" fill="#262626" text-anchor="end">100</text>
<text x="757.8" y="1261.7" font-family="'Liberation Sans', Arial, sans-serif" font-size="51.5" fill="#262626" text-anchor="end">50</text>
<text x="999.9" y="1370.1" font-family="'Liberation Sans', Arial, sans-serif" font-size="51.5" fill="#262626" text-anchor="end">0</text>
<text x="1085.2" y="1376.3" font-family="'Liberation Sans', Arial, sans-serif" font-size="51.5" fill="#262626" text-anchor="start">0</text>
<text x="1244.3" y="1334.4" font-family="'Liberation Sans', Arial, sans-serif" font-size="51.5" fill="#262626" text-anchor="start">20</text>
<text x="1403.3" y="1292.5" font-family="'Liberation Sans', Arial, sans-serif" font-size="51.5" fill="#262626" text-anchor="start">40</text>
<text x="1562.4" y="1250.6" font-family="'Liberation Sans', Arial, sans-serif" font-size="51.5" fill="#262626" text-anchor="start">60</text>
<text x="1721.4" y="1208.7" font-family="'Liberation Sans', Arial, sans-serif" font-size="51.5" fill="#262626" text-anchor="start">80</text>
<text x="1880.5" y="1166.8" font-family="'Liberation Sans', Arial, sans-serif" font-size="51.5" fill="#262626" text-anchor="start">100</text>
<text x="184.5" y="212" font-family="'Liberation Sans', Arial, sans-serif" font-size="51.5" fill="#262626"><tspan font-size="59" fill="#4d4d4d">×</tspan><tspan x="222.3" y="205.5">10</tspan><tspan x="278.8" dy="-24" font-size="45.5">9</tspan></text>
<text transform="translate(204 637) rotate(-90)" font-family="'Liberation Serif', 'Times New Roman', serif" font-size="62" fill="#000" text-anchor="middle">Amplitude</text>
<text transform="translate(11.5 1040.5) rotate(23.3)" font-family="'Liberation Serif', 'Times New Roman', serif" font-size="58" letter-spacing="1.7" fill="#000">The high-resolution cell of eigenvalues</text>
<text x="976" y="1461.5" font-family="'Liberation Serif', 'Times New Roman', serif" font-size="62" fill="#000">The middle-resolution cell of eigenvalues</text></g>
</svg>
</body></html>
